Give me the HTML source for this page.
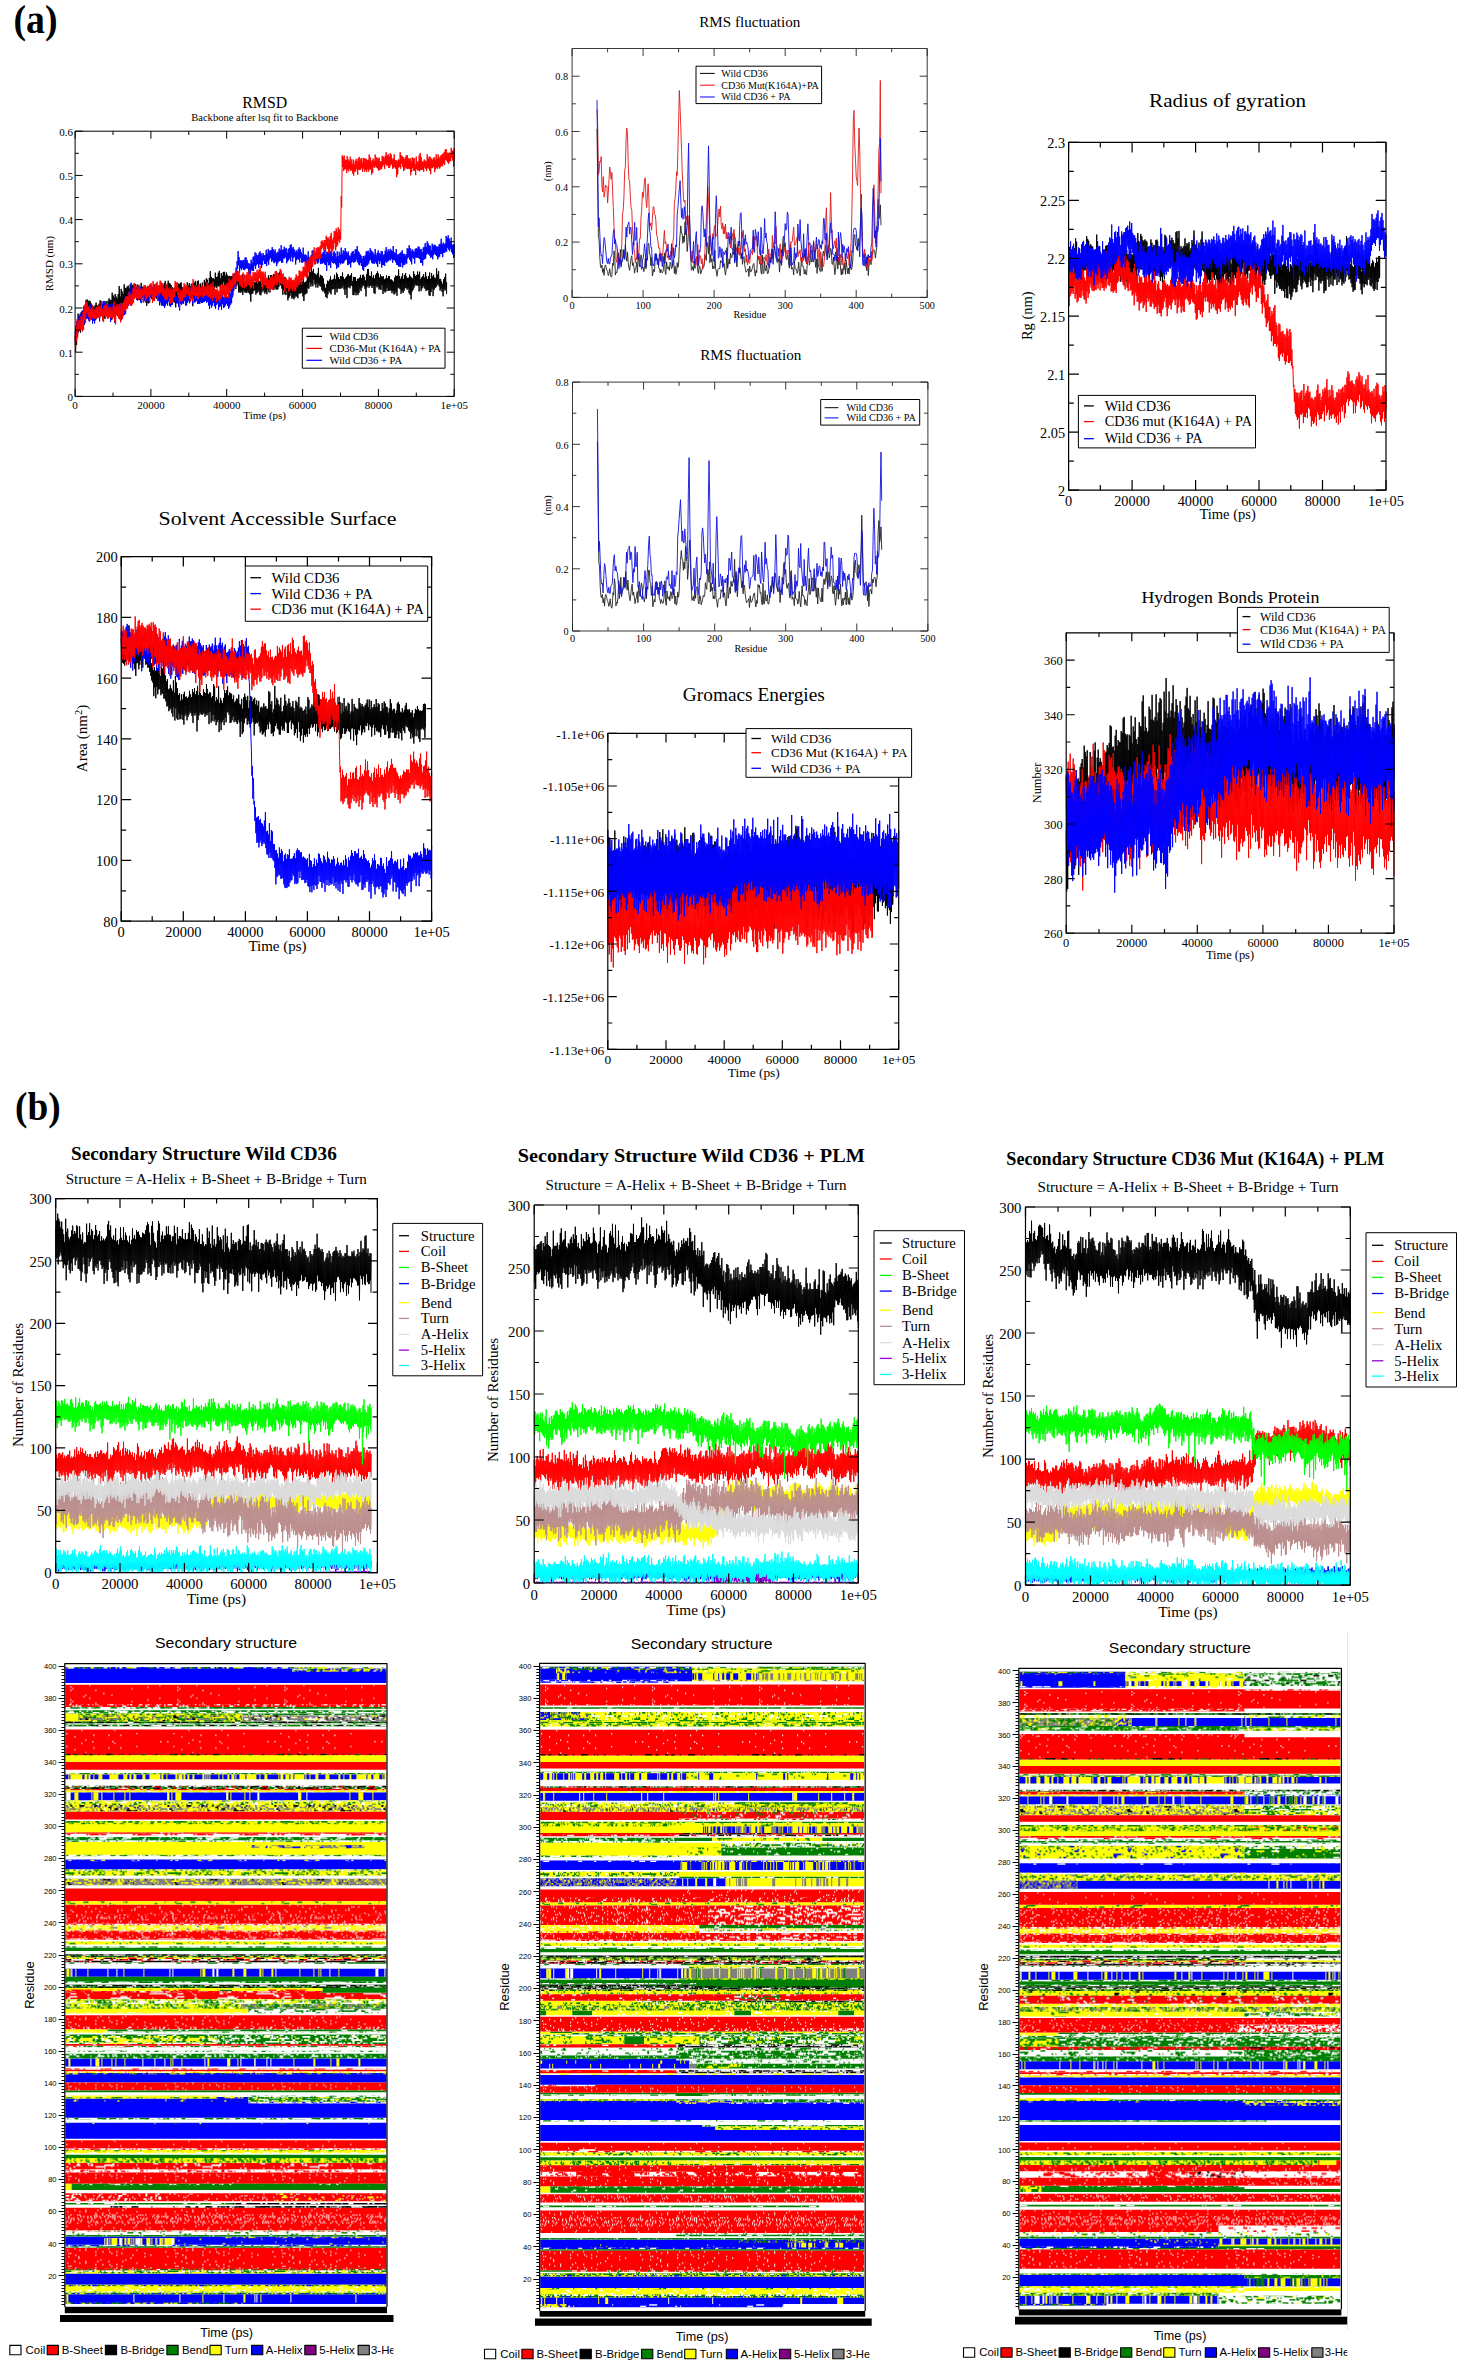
<!DOCTYPE html>
<html><head><meta charset="utf-8"><title>Figure</title>
<style>text{fill:#000;stroke:none}html,body{margin:0;padding:0;background:#fff}svg{display:block}</style></head>
<body><svg width="1464" height="2366" viewBox="0 0 1464 2366" font-family="'Liberation Serif',serif" fill="none" stroke-linejoin="round">
<rect width="1464" height="2366" fill="#fff"/>
<g fill="none" stroke="none">
<g id="main">
<path d="M75.1 335.9l.5 15.9 .5-24.3 .5 17.4 .5-23.5 .5 14.9 .5-22.6 .5 18.6 .5-12.8 .5 11.1 .5-13.9 .5 15.9 .5-20.3 .5 12.3 .5-13 .5 8.2 .5-9.5 .5 9.5 .5-14.1 .5 12.4 .5-11.7 .5 9.8 .5-16.2 .5 12.3 .5-12.9 .5 15.8 .5-14.1 .5 13 .5-13.5 .5 20 .5-19.4 .5 9.8 .5-7.7 .5 10.6 .5-9.1 .5 10.2 .5-8.7 .5 11.8 .5-10.9 .5 13.1 .5-15.2 .5 13.2 .5-15.6 .5 16.4 .5-13.6 .5 11.7 .5-11.8 .5 8.9 .5-10.6 .5 14.3 .5-17.7 .5 13.9 .5-13.1 .5 14.4 .5-11.8 .5 12.5 .5-11.8 .5 13.9 .5-16.1 .5 16.3 .5-14.5 .5 11.6 .5-14.6 .5 13.5 .5-10.1 .5 10.9 .5-14.6 .5 14.4 .5-16.7 .5 16.3 .5-15 .5 16.4 .6-16 .5 12.2 .5-19.6 .5 15.8 .5-13 .5 15.2 .5-13.1 .5 12 .5-15.7 .5 16.1 .5-13.4 .5 16.8 .5-15 .5 10.2 .5-14.6 .5 17.4 .5-25.3 .5 18.9 .5-8.4 .5 9.8 .5-17.5 .5 14.7 .5-12 .5 16 .5-13.6 .5 9.1 .5-18.8 .5 19.5 .5-15.9 .5 11.9 .5-11.7 .5 14.7 .5-16.3 .5 16.8 .5-17.6 .5 13.3 .5-10.5 .5 11.3 .5-15.5 .5 18.8 .5-16.8 .5 12.1 .5-13.3 .5 9.9 .5-10.3 .5 9.3 .5-8.9 .5 10.2 .5-11.1 .5 13.1 .5-10 .5 9 .5-11.8 .5 16 .5-14.8 .5 14 .5-9 .5 9.4 .5-12.8 .5 12.5 .5-16.9 .5 18.7 .5-15 .5 8.4 .5-8 .5 11.1 .5-11.1 .5 12.1 .5-13.3 .5 15.8 .5-11.3 .5 15.6 .5-19.4 .5 13.6 .5-11.7 .5 15 .5-16.5 .5 15.5 .5-16 .5 9.7 .5-10.6 .5 10.8 .5-9.5 .5 12.6 .5-10.7 .5 8.7 .5-13.1 .5 12.3 .5-8.9 .5 9.9 .5-13 .5 14.4 .5-11.4 .5 8.3 .5-7.7 .5 11.5 .5-14.4 .5 20 .5-18 .5 14.8 .5-12.2 .5 9.7 .5-15.4 .5 17.1 .5-15.7 .5 13 .5-15.5 .5 15.9 .5-18.1 .5 16.2 .5-10.6 .5 8.1 .5-10.8 .5 15.4 .5-18.5 .5 16.8 .5-14.5 .5 13.5 .5-12.8 .5 18.2 .5-16.8 .5 17.2 .5-15.2 .5 10.7 .5-9.3 .5 11.2 .5-8.3 .5 11.1 .5-11.6 .5 16.4 .5-16.7 .5 12.2 .5-12.7 .5 12.3 .5-18.9 .5 13.3 .5-12.3 .5 12.5 .5-13.8 .5 17.7 .5-18.5 .5 16.9 .5-12.3 .6 11.1 .5-10.4 .5 13 .5-11.8 .5 10.8 .5-12.6 .5 13.6 .5-13.8 .5 8.8 .5-13.4 .5 19 .5-15.9 .5 13.4 .5-15.6 .5 16.9 .5-13.6 .5 13.7 .5-16.3 .5 13.3 .5-10.3 .5 19.3 .5-22.2 .5 13.6 .5-14.8 .5 13.2 .5-15.1 .5 13.2 .5-8.7 .5 10.3 .5-14.4 .5 17.3 .5-18.1 .5 18.3 .5-11 .5 16 .5-20.3 .5 12.7 .5-10.1 .5 11.6 .5-15.1 .5 12.1 .5-7.4 .5 13.7 .5-21.1 .5 14.4 .5-12 .5 14.3 .5-18.3 .5 16.8 .5-15.5 .5 13.9 .5-10.4 .5 16.9 .5-22.1 .5 13.8 .5-20.5 .5 15.6 .5-9.9 .5 9.7 .5-8.1 .5 14.4 .5-14.7 .5 11.5 .5-10.4 .5 8.6 .5-15.2 .5 13.6 .5-9.2 .5 10.8 .5-11.2 .5 9.5 .5-13.4 .5 13.6 .5-15.6 .5 15.6 .5-7.8 .5 8.7 .5-14.2 .5 11.1 .5-8.4 .5 12.2 .5-16 .5 10.1 .5-10.3 .5 13.7 .5-9.8 .5 11.5 .5-14.7 .5 12.5 .5-10.2 .5 12.4 .5-11 .5 12 .5-12.3 .5 9.4 .5-9 .5 12.3 .5-12.4 .5 14.6 .5-15 .5 19.6 .5-20.9 .5 16 .5-16 .5 10.6 .5-7.4 .5 11.3 .5-11.2 .5 8.2 .5-15.3 .5 13.1 .5-4.9 .5 13.6 .5-17.7 .5 17.5 .5-13.6 .5 13.9 .5-9.8 .5 9.1 .5-17.5 .5 20.5 .5-13.2 .5 8.8 .5-8.9 .5 10.8 .5-9.2 .5 9.3 .5-11.4 .5 12 .5-11.1 .5 9.3 .5-11.6 .5 13.1 .5-9 .5 10.6 .5-10.4 .5 17.6 .5-19.3 .5 11.4 .5-14.8 .5 14.7 .5-12 .5 9.2 .5-8.9 .6 8.5 .5-7.9 .5 12.1 .5-12.6 .5 11 .5-12.9 .5 12.3 .5-15.9 .5 14.5 .5-10 .5 13.8 .5-13.2 .5 13.7 .5-16 .5 13.2 .5-14.2 .5 11.5 .5-12.5 .5 14.2 .5-11.2 .5 13.4 .5-12.2 .5 10.5 .5-11.9 .5 14.1 .5-14.8 .5 9.8 .5-13.8 .5 16.7 .5-13.8 .5 14.1 .5-17.2 .5 13.6 .5-13.7 .5 12.9 .5-10.7 .5 11.2 .5-14.2 .5 15.8 .5-15.5 .5 12.5 .5-6.4 .5 8.4 .5-17.8 .5 18.4 .5-11.3 .5 10.9 .5-15.8 .5 13.4 .5-15 .5 12.6 .5-11.2 .5 12.2 .5-10.8 .5 14 .5-7.1 .5 13.2 .5-14.5 .5 9.6 .5-13 .5 17.3 .5-17.1 .5 18 .5-14.2 .5 10.3 .5-7.8 .5 16.9 .5-17.7 .5 15.4 .5-15.3 .5 13.3 .5-13.3 .5 10.5 .5-10.6 .5 16 .5-15.6 .5 14.4 .5-16.6 .5 18.6 .5-15.9 .5 14.2 .5-12.5 .5 10.4 .5-12.2 .5 13.3 .5-11.1 .5 12.6 .5-16.9 .5 12 .5-10.3 .5 10.9 .5-12 .5 11.3 .5-10.1 .5 9.4 .5-11.3 .5 15.2 .5-17.4 .5 22 .5-18.5 .5 12.2 .5-12.7 .5 11.8 .5-13 .5 12.4 .5-19.8 .5 14.8 .5-11.9 .5 12.4 .5-17.7 .5 11.3 .5-9.9 .5 14.2 .5-21.7 .5 19.3 .5-12.7 .5 14.8 .5-17.4 .5 11.1 .5-6.6 .5 11 .5-10.6 .5 13.7 .5-12.6 .5 8.4 .5-10.1 .5 14.4 .5-19.7 .5 16.6 .5-6.9 .5 8.5 .5-11.3 .5 11.9 .5-11 .5 14.2 .5-13.8 .5 15.3 .5-12.9 .5 12.8 .5-7.4 .5 9.5 .5-5.5 .5 9.1 .6-12.7 .5 13.9 .5-17.5 .5 13.5 .5-12.7 .5 9.4 .5-11.2 .5 12.8 .5-16.1 .5 17.9 .5-14.4 .5 9.6 .5-9.8 .5 9.4 .5-10.2 .5 10.1 .5-14.2 .5 20 .5-15.4 .5 9.2 .5-15.9 .5 19.7 .5-18.4 .5 14.8 .5-11.8 .5 10.9 .5-8.7 .5 9.9 .5-13.1 .5 12.3 .5-11.9 .5 11.8 .5-15.6 .5 13.5 .5-8.8 .5 12.1 .5-10.1 .5 15.6 .5-17.1 .5 11 .5-12.2 .5 21.5 .5-23.4 .5 12.9 .5-13.2 .5 12.3 .5-10.6 .5 12.2 .5-13 .5 10.3 .5-12.3 .5 12.5 .5-4.5 .5 13.8 .5-18.2 .5 18.2 .5-17.8 .5 14.9 .5-15.2 .5 18.3 .5-14.3 .5 12 .5-14.1 .5 16.2 .5-16.4 .5 14.1 .5-15.1 .5 11.1 .5-13.9 .5 16.2 .5-12.8 .5 9.2 .5-12.6 .5 10.3 .5-10.5 .5 11.4 .5-9.3 .5 12.1 .5-8.3 .5 15.8 .5-22.1 .5 13 .5-18.2 .5 16.4 .5-16.5 .5 18.7 .5-11.9 .5 10.2 .5-10 .5 9.5 .5-13.9 .5 16.4 .5-10.2 .5 8.4 .5-10.9 .5 17.7 .5-14.5 .5 15.4 .5-19.1 .5 10.5 .5-12 .5 14.1 .5-16.1 .5 15.1 .5-12.8 .5 15.9 .5-11.8 .5 11.1 .5-14.4 .5 15.6 .5-13.6 .5 8.7 .5-8.4 .5 17.3 .5-17.6 .5 14.2 .5-11.1 .5 13 .5-13.9 .5 12.8 .5-16 .5 12.5 .5-9.7 .5 12.8 .5-14.9 .5 14.5 .5-14.6 .5 14.4 .5-10.8 .5 11.1 .5-11.1 .5 13.6 .5-12.6 .5 10.4 .5-9.2 .5 12.7 .5-16.9 .5 16 .5-18.2 .5 16.2 .5-15.6 .5 19.7 .5-20 .6 11.9 .5-18.1 .5 18.8 .5-12.2 .5 13 .5-10.3 .5 15 .5-17.2 .5 14.7 .5-17.8 .5 19.4 .5-14 .5 11.8 .5-15.8 .5 13.3 .5-15.1 .5 14.9 .5-11.4 .5 13.1 .5-11.7 .5 10.6 .5-10.9 .5 15.5 .5-18.6 .5 20.2 .5-18.2 .5 22.8 .5-21.8 .5 13.9 .5-12.9 .5 11.3 .5-18.5 .5 16 .5-13.3 .5 10.7 .5-8.7 .5 9.5 .5-10.6 .5 10.1 .5-13.5 .5 14.4 .5-11.4 .5 16.9 .5-19.8 .5 14 .5-6.4 .5 11.7 .5-13.5 .5 10.9 .5-12.2 .5 9.8 .5-11.9 .5 13.4 .5-9.9 .5 11.3 .5-16.9 .5 19.1 .5-14.6 .5 13.5 .5-10.9 .5 11.2 .5-14.2 .5 19.3 .5-23 .5 23.4 .5-16.9 .5 13.2 .5-19.1 .5 15.5 .5-12.1 .5 19.7 .5-21.3 .5 15 .5-12.2 .5 10.4 .5-9.8 .5 8.9 .5-18.8 .5 17 .5-10.9 .5 9.8 .5-13.1 .5 15.3 .5-7.2 .5 11.5 .5-11.8 .5 9.7 .5-7.1 .5 10.5 .5-8.2 .5 12.5 .5-17 .5 10 .5-12 .5 13.3 .5-17 .5 14.6 .5-5.8 0 11.7" stroke="#000"/>
<path d="M75.1 331.5l.5 8.7 .5-15 .5 10.6 .5-14.5 .5 12.9 .5-14.4 .5 9 .5-13 .5 11.8 .5-14 .5 12.2 .5-11.3 .5 10.9 .5-14.4 .5 11.8 .5-12.3 .5 9.5 .5-12.7 .5 17.7 .5-14.2 .5 8.9 .5-11.1 .5 10.1 .5-15 .5 14.8 .5-12 .5 14 .5-13.1 .5 14.3 .5-17.9 .5 12.2 .5-7.2 .5 10.6 .5-8.7 .5 12.8 .5-14.4 .5 11.7 .5-8.1 .5 10.8 .5-11.6 .5 8.4 .5-12.4 .5 9.2 .5-9.9 .5 8.7 .5-6.6 .5 8.2 .5-6.3 .5 10.2 .5-13.3 .5 7.1 .5-8.3 .5 8.2 .5-10.9 .5 11.5 .5-14.5 .5 13.5 .5-13.8 .5 12.6 .5-11.7 .5 10.1 .5-7.7 .5 7.6 .5-6.2 .5 8.4 .5-9.7 .5 8.4 .5-6.2 .5 9.5 .5-11.5 .5 17.5 .5-14.8 .5 12.6 .5-16.2 .5 14.8 .5-13.7 .5 12.2 .5-10 .5 15.9 .5-17.4 .5 8.4 .5-5.7 .5 7 .5-10.5 .5 11.5 .5-10.5 .5 10.9 .5-8.4 .5 11.1 .5-16.4 .5 10.9 .5-6.8 .5 13.3 .5-14.6 .5 10.3 .5-9.2 .5 8.8 .5-11.2 .5 10.7 .5-17.7 .5 16.5 .5-17 .5 10.1 .5-10.8 .5 9.2 .5-12.4 .5 12.9 .5-13.7 .5 12.1 .5-13.5 .5 10.1 .5-18.1 .5 14.6 .5-9 .5 10.5 .5-11.3 .5 10 .5-7.2 .5 8 .5-14.5 .5 12.1 .5-7.8 .5 11.9 .5-12 .5 10.8 .5-12.8 .5 13 .5-8.7 .5 8.3 .5-11.9 .5 15.7 .5-12.3 .5 13.1 .5-15.1 .5 9.4 .5-6.9 .5 7.8 .5-8.8 .5 11.6 .5-11.3 .5 12.1 .5-8.5 .5 6.8 .5-6.8 .5 9.6 .5-10.7 .5 8.7 .5-11.3 .5 8.4 .5-13.7 .5 12.8 .5-5.7 .5 7.5 .5-12 .5 10.6 .5-9.6 .5 12.4 .5-13.8 .5 10.3 .5-10.8 .5 9.2 .5-6 .5 7.3 .5-7.6 .5 11.4 .5-9.8 .5 10.1 .5-12.3 .5 14.7 .5-13.7 .5 12.7 .5-10.1 .5 13.4 .5-11.9 .5 12.1 .5-9.4 .5 9.8 .5-11.8 .5 13.7 .5-12.6 .5 10.2 .5-10 .5 7.9 .5-15.7 .5 17.7 .5-12.6 .5 8.5 .5-6.8 .5 11.2 .5-11.1 .5 12.3 .5-12.2 .5 10.3 .5-11.5 .5 11 .5-9.7 .5 6.8 .5-9.5 .5 8.7 .5-13.5 .5 14.8 .5-6.8 .5 7.9 .5-7.4 .5 7.4 .5-6.4 .5 10.2 .5-13.3 .5 16.7 .5-15.8 .5 9.4 .5-9.1 .5 9.7 .5-8 .5 6.6 .5-11.5 .5 12 .5-12.6 .5 9.8 .5-10.9 .5 15.6 .5-11.6 .5 11.1 .5-14.3 .5 12 .5-10.9 .5 8.8 .5-9.2 .5 11.7 .5-14.8 .5 10.4 .5-9.3 .5 8 .5-8.3 .5 14.4 .5-14.9 .5 7.4 .5-9.4 .5 15.8 .5-15.9 .5 15.2 .5-10.4 .5 9.2 .5-9.9 .5 13.2 .5-12.6 .5 12.3 .5-12.8 .5 10.1 .5-9 .5 9.9 .5-6.8 .5 7.8 .5-11.7 .5 11.7 .5-9.8 .5 9 .5-9.6 .5 9.2 .5-10.9 .5 10.1 .5-8.9 .5 10.8 .5-14.9 .5 13.7 .5-5.4 .5 9.3 .5-9.6 .5 13.2 .5-11.2 .5 6.7 .5-8.4 .5 11.3 .5-10.3 .5 8.3 .5-12.2 .5 9.7 .5-8.7 .5 12.2 .5-8.7 .5 10.9 .5-16.9 .5 13 .5-10 .5 8.6 .5-5.7 .5 12.2 .5-15.4 .5 12.6 .5-12.6 .5 11.8 .5-9.8 .5 13.1 .5-19.2 .5 13.7 .5-7.6 .5 11.3 .5-10.3 .5 9.7 .5-10.4 .5 8.6 .5-8.6 .5 6.8 .5-7.2 .5 9.6 .5-8.7 .5 11.5 .5-16.8 .5 15.3 .5-13.7 .5 11 .5-15.5 .5 14.1 .5-17 .5 11.2 .5-16.2 .5 9.2 .5-15.8 .5 12.6 .5-14.3 .5 13.9 .5-19.3 .5 9 .5-15.5 .5 7.6 .5-17.5 .5 14.2 .5-8.1 .5 15.3 .5-12.1 .5 7.9 .5-8.1 .5 9.9 .5-9.3 .5 7.4 .5-8.3 .5 10.1 .5-9.8 .5 9.9 .5-12.6 .5 11.3 .5-11.3 .5 10.8 .5-8.3 .5 8.5 .5-5.6 .5 11.8 .5-11.2 .5 10.1 .5-9.6 .5 10.5 .5-14.8 .5 10.5 .5-7.5 .5 8 .5-13.8 .5 14.2 .5-14.9 .5 9.6 .5-13.5 .5 16.5 .5-15.4 .5 11.8 .5-9.9 .5 8.5 .5-8.9 .5 12.8 .5-15 .5 11.7 .5-12.9 .5 13.1 .5-11.2 .5 14.5 .5-12.3 .5 9.5 .5-12 .5 7.4 .5-5.5 .5 9 .6-8.8 .5 8.9 .5-14.3 .5 16.3 .5-12.5 .5 8 .5-12.7 .5 15.8 .5-13.7 .5 8.6 .5-9.4 .5 7.7 .5-7.8 .5 11.8 .5-14.8 .5 13.5 .5-11.4 .5 13.5 .5-11.5 .5 12 .5-13.7 .5 12.1 .5-8.2 .5 12.7 .5-13.8 .5 11.1 .5-11.7 .5 9.8 .5-12.9 .5 12.6 .5-11.3 .5 10.8 .5-15.6 .5 17.6 .5-12.9 .5 12.8 .5-12.9 .5 8.7 .5-11.7 .5 11.8 .5-9.6 .5 8.4 .5-9.4 .5 15.4 .5-10.6 .5 9 .5-12.7 .5 11.1 .5-12 .5 10.5 .5-13.5 .5 16.2 .5-16.9 .5 12.3 .5-8.3 .5 13.2 .5-14.7 .5 11.1 .5-8.7 .5 7.3 .5-4.4 .5 12.3 .5-14.4 .5 10.1 .5-8.5 .5 7.2 .5-9.8 .5 10.5 .5-12.2 .5 15 .5-13 .5 8.5 .5-6 .5 10.5 .5-8.4 .5 8.7 .5-15 .5 13.8 .5-6.8 .5 6.9 .5-7.2 .5 8.4 .5-7.8 .5 11.4 .5-9.8 .5 10.3 .5-15.5 .5 17.6 .5-12 .5 11.8 .5-11.1 .5 11.2 .5-13.8 .5 9.3 .5-13.9 .5 14.2 .5-14.2 .5 9.1 .5-5.3 .5 8.5 .5-9.6 .5 11 .5-13.1 .5 10 .5-8.8 .5 11.2 .5-15.6 .5 14.7 .5-13.1 .5 9.6 .5-8.1 .5 13.1 .5-10 .5 9.5 .5-10.1 .5 9.9 .5-11.5 .5 11.1 .5-13.5 .5 15 .5-10.1 .5 10.5 .5-12.8 .5 18.7 .5-18.6 .5 10 .5-10.9 .5 14 .5-12.3 .5 12 .5-14.1 .5 17 .5-16.8 .5 10.5 .5-5.6 .5 7 .5-10.7 .5 11.2 .5-12.3 .5 11.6 .5-9.7 .5 11.3 .5-7.7 .5 12.2 .5-17.6 .5 16.1 .5-11.4 .5 11.2 .5-15.4 .5 11.1 .5-8.1 .5 9.6 .5-16.8 .5 15.2 .5-9 .5 9.9 .5-13.4 .5 12.8 .5-11.5 .5 9.5 .5-13.1 .5 11.9 .5-8.5 .5 8 .5-6.4 .5 12.1 .5-13.6 .5 13.2 .5-9.3 .5 8.2 .5-7.5 .5 11.4 .5-14.2 .5 9.2 .5-10.9 .5 10 .5-10.5 .5 11.7 .5-8.8 .5 8.2 .5-12.8 .5 12.3 .5-12.3 .5 10.2 .5-13.5 .5 16.3 .5-11.3 .5 13.3 .5-11.9 .5 12.8 .5-11 .5 8.5 .5-7.1 .5 10.3 .5-7.4 .5 10.9 .5-13.5 .5 14.8 .5-14.3 .5 10.3 .5-11.5 .5 11.6 .5-15.6 .5 14.3 .5-14.2 .5 13.8 .5-14.5 .5 12.8 .5-10.8 .5 8.1 .5-12.6 .5 11.3 .5-9.2 .5 12.4 .5-11.2 .5 12.1 .5-11 .5 10.8 .5-8.8 .5 9.1 .5-14.7 .5 13.2 .5-7.1 .5 9.1 .5-11.3 .5 14.1 .5-16.6 .5 10.4 .5-7.9 .5 11 .5-9.7 .5 7.1 .5-10.2 .5 16.5 .5-16.3 .5 13.8 .5-9.9 .5 9.9 .5-11.1 .5 11.9 .5-15.3 .5 11.2 .5-14.7 .5 15.6 .5-11 .5 9.9 .5-12.3 .5 11.6 .5-10 .5 8.8 .5-10.9 .5 11.6 .5-10.5 .5 8.9 .5-7.8 .5 11.7 .5-16.7 .5 14 .5-8 .5 8.3 .5-7.1 .5 9.1 .5-13.2 .5 15.7 .5-10.2 .5 10.5 .5-10.7 .5 12.2 .5-12.8 .5 12.7 .5-13.6 .5 14.1 .5-15.1 .5 11.1 .5-12.7 .5 17.1 .5-13.6 .5 11 .5-10.9 .5 11.1 .5-9.4 .5 7.7 .5-9.3 .5 9.7 .5-15.4 .5 10.1 .5-9.8 .5 8.7 .5-12.1 .5 14.5 .5-11.5 .5 13.4 .5-10.5 .5 13.2 .5-15 .5 8.3 .5-7 .5 8.2 .5-7 .5 11.7 .5-14.6 .5 8.6 .5-9.3 .5 9.5 .5-8.9 .5 8.8 .5-11.2 .5 11.7 .5-11 .5 12 .5-9.9 .5 13.5 .5-13.4 .5 13.7 .5-10.9 .5 13.4 .5-17.9 .5 12.4 .5-13.2 .5 12.4 .5-16.1 .5 15.3 .5-11.5 .5 7.6 .5-13.2 .5 12 .5-9.9 .5 11.1 .5-9.1 .5 10.1 .5-9.7 .5 12.1 .5-7.7 .5 6.7 .5-13.2 .5 15.6 .5-13.6 .5 9.4 .5-10.4 .5 8.8 .5-8.5 .5 10 .5-8.6 .5 9.7 .5-9.4 .5 12.6 .5-12.7 .5 10.7 .5-13.1 .5 12.4 .5-12.9 .5 10.3 .5-15.3 .5 15.2 .5-9.6 .5 12.9 .5-14.7 .5 10.3 .5-8.7 .5 8.7 .5-9.5 .5 8.3 .5-15.6 .5 15.6 .5-13.8 .5 10 .5-12.5 .5 14.5 .5-11.3 .5 12.7 .5-10.1 .5 7.5 .5-11 .5 14.8 .5-7.3 .5 9.2 .5-10 .5 13.7 .5-13.7 0 12.5" stroke="#00f"/>
<path d="M75.1 334.9l.5 14.3 .5-21.9 .5 13.8 .5-22 .5 18.6 .5-15.4 .5 8.7 .5-11.3 .5 9.3 .5-9.2 .5 10 .5-13.8 .5 13.9 .5-10.4 .5 12 .5-19.9 .5 18.2 .5-22.3 .5 12.7 .5-15.9 .5 18.4 .5-21.1 .5 11.2 .5-10.2 .5 11.4 .5-7.8 .5 10.7 .5-9.8 .5 13.2 .5-11.1 .5 11 .5-11.4 .5 9.2 .5-12.5 .5 12.1 .5-9.3 .5 10.6 .5-8.9 .5 8.8 .5-9.7 .5 10 .5-12.1 .5 11.4 .5-11.5 .5 8.5 .5-9.1 .5 11.2 .5-12 .5 12.5 .5-10.6 .5 8.7 .5-13.7 .5 14 .5-7.9 .5 12.1 .5-10.6 .5 12.1 .5-16 .5 10 .5-11.1 .5 14.1 .5-14.6 .5 12.1 .5-12 .5 14.1 .5-10.2 .5 9.9 .5-11.7 .5 10.5 .5-10 .5 10.1 .5-8.8 .5 9 .5-7.8 .5 9.5 .5-12.7 .5 9.4 .5-14.7 .5 20.7 .5-13.8 .5 16.2 .5-18.4 .5 9.2 .5-10.9 .5 10.9 .5-8.7 .5 12 .5-14.4 .5 14.4 .5-11.1 .5 15.1 .5-19.4 .5 11.3 .5-10.9 .5 15.3 .5-14.2 .5 9.1 .5-12.9 .5 10.1 .5-12.3 .5 12.6 .5-15 .5 13 .5-12.4 .5 11.8 .5-12.5 .5 8.3 .5-12.4 .5 10.4 .5-7.1 .5 10.6 .5-12 .5 12.1 .5-13 .5 11.4 .5-15.9 .5 14.4 .5-19.8 .5 16 .5-13.2 .5 11.5 .5-8 .5 9.4 .5-12.3 .5 11.5 .5-9.1 .5 10.9 .5-15 .5 13.4 .5-9.5 .5 10.5 .5-9.6 .5 12.2 .5-12.6 .5 7 .5-8.3 .5 14.8 .5-17.7 .5 9.9 .5-9.5 .5 17.6 .5-15.1 .5 10.7 .5-11 .5 9.8 .5-11.6 .5 11 .5-10.7 .5 15.7 .5-17.3 .5 10.4 .5-11.8 .5 13.3 .5-7.9 .5 14.6 .5-21.8 .5 17.3 .5-13.6 .5 16.2 .5-14 .5 9.4 .5-13.4 .5 12.8 .5-14.2 .5 18.5 .5-14.6 .5 7.6 .5-7.8 .5 9.9 .5-14.8 .5 12.9 .5-11.8 .5 10.7 .5-9.2 .5 12.8 .5-9.5 .5 10.2 .5-8.2 .5 10.1 .5-9 .5 10.5 .5-15.5 .5 15.6 .5-15.9 .5 15.3 .5-11.6 .5 8.5 .5-6.5 .5 12.3 .5-12.7 .5 14.3 .5-16.9 .5 16.3 .5-14 .5 13.2 .5-13.2 .5 8.8 .5-10.3 .5 9.1 .5-15.6 .5 10.3 .5-8.5 .5 8.5 .5-9.6 .5 12.7 .5-6.9 .5 10 .5-5.6 .5 15.4 .5-18.3 .5 11.7 .5-9.9 .5 10.1 .5-11.1 .5 11 .5-13.9 .5 10.9 .5-14.7 .5 13.9 .5-12.7 .5 12.7 .5-11.3 .5 9 .5-9.8 .5 7.6 .5-5.5 .5 8.8 .5-8.5 .5 11.9 .5-8.9 .5 11.5 .5-14.5 .5 8.6 .5-12.8 .5 17.4 .5-21.5 .5 15.9 .5-8.2 .5 8.8 .5-10.4 .5 12.5 .5-11.1 .5 9.5 .5-8.5 .5 12 .5-14.8 .5 13.6 .5-14.1 .5 10.6 .5-6.7 .5 8.1 .5-9.5 .5 7.4 .5-9.2 .5 12 .5-10.8 .5 11.5 .5-10.3 .5 8.4 .5-10.3 .5 10 .5-8.4 .5 7.7 .5-12.9 .5 14.4 .5-11 .5 11.7 .5-12.6 .5 10.6 .5-9.2 .5 12.5 .5-14.9 .5 12.4 .5-8.9 .5 13.8 .5-19.1 .5 16.2 .5-11 .5 9.5 .5-7.4 .5 8.9 .5-8.1 .5 12.4 .5-13.7 .5 8.8 .5-6.8 .5 9.6 .5-9.2 .5 11.4 .5-17.2 .5 13.9 .5-12.3 .5 10.9 .5-13 .5 10.5 .5-9.4 .5 9.7 .5-10.2 .5 12.1 .5-12.4 .5 11.7 .5-12 .5 13.3 .5-15.1 .5 11.7 .5-11.3 .5 14.5 .5-19.2 .5 13.1 .5-11.5 .5 11.2 .5-10.3 .5 8.2 .5-10.6 .5 9.8 .5-15.2 .5 13.1 .5-10.8 .5 9 .5-11.8 .5 15.5 .5-17.1 .5 10.1 .5-9.5 .5 10.7 .5-11 .5 10.1 .5-10.5 .5 14.3 .5-9.9 .5 10.1 .5-10.3 .5 11.9 .5-9 .5 9.9 .5-15.5 .5 10 .5-8.3 .5 14 .5-13.1 .5 11.4 .5-11.6 .5 11.9 .5-14.8 .5 12.4 .5-10.4 .5 11 .5-15.1 .5 16.3 .5-11.6 .5 14.2 .5-13.2 .5 12.1 .5-11.1 .5 8.7 .5-13.2 .5 16.2 .5-15 .5 7.5 .5-8.8 .5 9.7 .5-9 .5 9.4 .5-12.4 .5 14.3 .5-12.7 .5 10.6 .5-12.5 .5 8.9 .5-12.7 .5 15.2 .5-9.5 .5 15.1 .5-14.5 .5 16.9 .5-17.2 .5 12.7 .5-10.5 .5 11.4 .6-13.5 .5 13.8 .5-7.8 .5 10.3 .5-10.1 .5 10.5 .5-8.9 .5 9.6 .5-9.6 .5 13 .5-15.2 .5 11.2 .5-11.2 .5 12.1 .5-13.7 .5 14.3 .5-12.7 .5 9.8 .5-10.4 .5 8.9 .5-14.2 .5 11.3 .5-11.7 .5 14.2 .5-12.5 .5 11.7 .5-10.3 .5 7.8 .5-6.8 .5 9.4 .5-15.6 .5 14.1 .5-12.5 .5 14.1 .5-10.4 .5 9.4 .5-10.3 .5 12 .5-7 .5 13.8 .5-14.7 .5 9.1 .5-8.4 .5 10 .5-8.2 .5 8.4 .5-8.7 .5 11.9 .5-14.7 .5 13.8 .5-12.3 .5 10 .5-10.6 .5 11.4 .5-9 .5 11.2 .5-11.6 .5 8.5 .5-7.9 .5 10.9 .5-13.6 .5 13.1 .5-16.4 .5 12.8 .5-11.1 .5 11.3 .5-11.3 .5 8.8 .5-14.3 .5 14.2 .5-13.7 .5 10.5 .5-9.4 .5 12.6 .5-13.8 .5 8.7 .5-12.8 .5 12.1 .5-11.8 .5 9.2 .5-14.8 .5 15.3 .5-12.4 .5 13.5 .5-17.6 .5 17.3 .5-16.3 .5 10.9 .5-13.7 .5 13 .5-14.9 .5 13.1 .5-12.8 .5 8.8 .5-10 .5 11.4 .5-15.3 .5 9.6 .5-14 .5 17.1 .5-10.6 .5 9.4 .5-15.1 .5 10.9 .5-11.6 .5 11.1 .5-11.2 .5 11.4 .5-11.4 .5 10.2 .5-11.9 .5 12.7 .5-17 .5 7.9 .5-8.9 .5 7.1 .5-5.2 .5 7.6 .5-9.8 .5 9.3 .5-9.4 .5 12.8 .5-17 .5 10.4 .5-8.6 .5 11.3 .5-11.4 .5 15.9 .5-14 .5 13.1 .5-16.6 .5 12.7 .5-15.8 .5 19.7 .5-12.3 .5 10.8 .5-13.2 .5 10.9 .5-17.6 .5 12 .5-11.8 .5 19.1 .5-22 .5 18.6 .5-15.2 .5 13.4 .5-17.9 .5 13.6 .5-11.9 .5 13.7 .5-11 .5 7.7 .5-43.1 .5 11.1 .5-52 .5 11.6 .5-9.7 .5 13.7 .5-15.4 .5 13.8 .5-9.8 .5 9.4 .5-8.9 .5 13 .5-17 .5 14 .5-10.7 .5 12 .5-10.4 .5 8.1 .5-12.4 .5 14.2 .5-11.4 .5 10.8 .5-6.8 .5 9.9 .5-13.9 .5 16.1 .5-11.6 .5 7.8 .5-11.1 .5 10.7 .5-12.6 .5 10 .5-7.4 .5 13.3 .5-16.2 .5 11.4 .5-13 .5 13.2 .5-10.5 .5 10.1 .5-11.6 .5 10.2 .5-5.9 .5 9.4 .5-13.9 .5 10.6 .5-10.2 .5 13.4 .5-13 .5 11.3 .5-11.2 .5 13.2 .5-12 .5 9.3 .5-9.5 .5 11.9 .5-17.2 .5 14.8 .5-12 .5 12.4 .5-8.1 .5 13 .5-14.6 .5 13 .5-14.5 .5 8 .5-5.7 .5 7 .5-13.2 .5 11.6 .5-9 .5 10.3 .5-9.3 .5 10.5 .5-10.1 .5 12 .5-13 .5 12.5 .5-8.8 .5 8.1 .5-8 .5 7.5 .5-13.1 .5 10.8 .5-10 .5 8.4 .5-6.8 .5 10.7 .5-13.1 .5 8.2 .5-11.8 .5 13.4 .5-9.8 .5 9.6 .5-11.3 .5 13.7 .5-11.2 .5 11.1 .5-14.5 .5 12.4 .5-11.1 .5 9.6 .5-4.6 .5 9.2 .5-10.6 .5 10.1 .5-13.9 .5 12.7 .5-6.9 .5 8.7 .5-8.5 .5 16.9 .5-15.8 .5 13 .5-14.8 .5 8 .5-8 .5 7.1 .5-14.5 .5 16.5 .5-13.6 .5 8.6 .5-7.5 .5 10.5 .5-9.6 .5 14 .5-12.1 .5 10.7 .5-12.2 .5 10 .5-11.9 .5 12.9 .5-13.5 .5 14.1 .5-10.9 .5 10.4 .5-9.3 .5 9.5 .5-10.7 .5 17.3 .5-14.5 .5 10.9 .5-14.4 .5 10.8 .5-10.1 .5 12.5 .5-12.5 .5 12.8 .5-7 .5 11.3 .5-18.6 .5 12.5 .5-6.9 .5 8.1 .5-9.2 .5 9.3 .5-15.2 .5 16.1 .5-18.4 .5 17.1 .5-12.9 .5 13 .5-8.7 .5 8.6 .5-8.4 .5 10.3 .5-12.4 .5 8 .5-6.9 .5 8.3 .5-7.8 .5 9.9 .5-16.6 .5 13.6 .5-9.6 .5 10.3 .5-12 .5 14.1 .5-14 .5 17.4 .5-15.8 .5 9.7 .5-8.3 .5 8.4 .5-9.8 .5 8.3 .5-9.7 .5 15.2 .5-12.5 .5 9.6 .5-15 .5 13.3 .5-9.5 .5 10.7 .5-14.4 .5 12.5 .5-9.1 .5 10.7 .5-12.1 .5 10.7 .5-12 .5 10.4 .5-11.2 .5 11.9 .5-12.9 .5 10.3 .5-11.5 .5 12.7 .5-15.1 .5 10.3 .5-11 .5 11.8 .5-8.2 .5 10 .5-9.6 .5 10.9 .5-11.4 .5 9.4 .5-8.3 .5 7.4 .5-13.2 .5 9.8 .5-7 .5 9.9 .5-10 .5 15.9 .5-18.2 0 12.1" stroke="#f00"/>
<path d="M113 396.4v-3.8M113 131.2v3.8M188.8 396.4v-3.8M188.8 131.2v3.8M264.6 396.4v-3.8M264.6 131.2v3.8M340.5 396.4v-3.8M340.5 131.2v3.8M416.3 396.4v-3.8M416.3 131.2v3.8M75.1 396.4v-7.5M75.1 131.2v7.5M150.9 396.4v-7.5M150.9 131.2v7.5M226.7 396.4v-7.5M226.7 131.2v7.5M302.6 396.4v-7.5M302.6 131.2v7.5M378.4 396.4v-7.5M378.4 131.2v7.5M454.2 396.4v-7.5M454.2 131.2v7.5M75.1 374.3h3.8M454.2 374.3h-3.8M75.1 330.1h3.8M454.2 330.1h-3.8M75.1 285.9h3.8M454.2 285.9h-3.8M75.1 241.7h3.8M454.2 241.7h-3.8M75.1 197.5h3.8M454.2 197.5h-3.8M75.1 153.3h3.8M454.2 153.3h-3.8M75.1 396.4h7.5M454.2 396.4h-7.5M75.1 352.2h7.5M454.2 352.2h-7.5M75.1 308h7.5M454.2 308h-7.5M75.1 263.8h7.5M454.2 263.8h-7.5M75.1 219.6h7.5M454.2 219.6h-7.5M75.1 175.4h7.5M454.2 175.4h-7.5M75.1 131.2h7.5M454.2 131.2h-7.5" stroke="#000" stroke-width="1.0"/>
<rect x="75.1" y="131.2" width="379.1" height="265.2" stroke="#000" stroke-width="1.0"/>
<g font-size="11"><text x="75.1" y="408.7" text-anchor="middle">0</text><text x="150.9" y="408.7" text-anchor="middle">20000</text><text x="226.7" y="408.7" text-anchor="middle">40000</text><text x="302.6" y="408.7" text-anchor="middle">60000</text><text x="378.4" y="408.7" text-anchor="middle">80000</text><text x="454.2" y="408.7" text-anchor="middle">1e+05</text><text x="72.9" y="400.9" text-anchor="end">0</text><text x="72.9" y="356.7" text-anchor="end">0.1</text><text x="72.9" y="312.5" text-anchor="end">0.2</text><text x="72.9" y="268.3" text-anchor="end">0.3</text><text x="72.9" y="224.1" text-anchor="end">0.4</text><text x="72.9" y="179.9" text-anchor="end">0.5</text><text x="72.9" y="135.7" text-anchor="end">0.6</text></g>
<rect x="302.3" y="328.2" width="142.7" height="40" fill="#fff" stroke="#000"/>
<g font-size="10.6"><path d="M306.4 336.4H322" stroke="#000" stroke-width="1.2"/><text x="329.6" y="339.9">Wild CD36</text><path d="M306.4 348.4H322" stroke="#f00" stroke-width="1.2"/><text x="329.6" y="351.9">CD36-Mut (K164A) + PA</text><path d="M306.4 360.3H322" stroke="#00f" stroke-width="1.2"/><text x="329.6" y="363.8">Wild CD36 + PA</text></g>
<text x="264.7" y="107.6" font-size="15.8" text-anchor="middle">RMSD</text>
<text x="264.7" y="121.2" font-size="9.5" text-anchor="middle" textLength="147" lengthAdjust="spacingAndGlyphs">Backbone after lsq fit to Backbone</text>
<text x="264.7" y="418.6" font-size="11" text-anchor="middle">Time (ps)</text>
<text transform="translate(53 263.7) rotate(-90)" font-size="11" text-anchor="middle">RMSD (nm)</text>
<path d="M597 128.9l.7 54.2 .7 53.5 .7 3.1 .7 17.8 .7 9 .7 1.5 .7-3.1 .7 7.5 .7-3.9 .8 6.9 .7-8.9 .7-1.6 .7 2.6 .7 2.7 .7 1.4 .7 4 .7-2.1 .7-4.8 .8 6 .7 2.4 .7-1.8 .7-12 .7 2.2 .7-14.6 .7 4.4 .7 19.8 .7-3.2 .7 .8 .8-4.9 .7-15.1 .7 3.8 .7 7.8 .7-14.8 .7 15.7 .7-3.8 .7 0 .7-11.8 .7 8.8 .8-1.5 .7-12.3 .7 11.3 .7 5.2 .7-9 .7 10.3 .7 5.1 .7 2.9 .7-5.6 .7-6.3 .8-2.8 .7 9.8 .7-2.7 .7 4.3 .7 6 .7-4.3 .7-1.3 .7-5.2 .7 10 .7-15.6 .8 4.7 .7 5.2 .7-5.6 .7-6.2 .7 3.3 .7 9.9 .7-.9 .7 4.5 .7-3.7 .8-9.3 .7 10.2 .7-10.8 .7 2.3 .7-17 .7 .1 .7 10.7 .7 .7 .7 11 .7-8.4 .8 18.5 .7-3.3 .7-3.3 .7 2.3 .7-14.3 .7-4 .7 6.3 .7 .5 .7-1.7 .7 9.6 .8 .9 .7 4 .7-3.5 .7 2 .7 1.5 .7-1.3 .7-5.5 .7-13.2 .7 18.6 .7 3 .8-12.6 .7 6.1 .7 1.1 .7-2.4 .7 3.8 .7-8.2 .7 .8 .7 5.5 .7-1 .7-4.8 .8-3.1 .7 13.6 .7-7 .7 8.1 .7-1.7 .7-10.1 .7 4.8 .7-3.4 .7-17.7 .8-11.4 .7-9 .7 7.5 .7 .3 .7 9.7 .7-7.3 .7 5.9 .7-20 .7 13 .7-3.2 .8 19.7 .7-8.9 .7-16.4 .7-9.8 .7 13.1 .7 27.5 .7 13.2 .7-1 .7-2.7 .7 4.2 .8-9.5 .7 7.2 .7-8.8 .7-1.6 .7 2.1 .7 11.7 .7 1.6 .7-7.7 .7 .8 .7 7.5 .8-2 .7-2.8 .7-3.4 .7 1.3 .7-1.4 .7-11.3 .7 3.9 .7 2.2 .7-18.1 .7 1.7 .8 10 .7-18.2 .7 26.9 .7-8.3 .7 7.1 .7-2.8 .7 9.9 .7-2.5 .7 2.5 .8-18.3 .7 18.4 .7 2.2 .7 5.3 .7-6.2 .7-1.2 .7-.7 .7 .6 .7-8.2 .7 1.8 .8-.4 .7-3.9 .7 8.2 .7-2.8 .7 7.1 .7 4.5 .7-6.2 .7-21.2 .7 20.7 .7-3.8 .8-5.9 .7 5.4 .7-11 .7 4.4 .7 .1 .7-5.2 .7 .3 .7-19.1 .7 27.6 .7-14.8 .8 11 .7 9.6 .7-11.5 .7-9 .7-4.7 .7-.6 .7 9.3 .7 8.5 .7-6.1 .7 11.4 .8-6.9 .7-.8 .7 8.2 .7 4.3 .7 3.1 .7-1.1 .7-1 .7-1.4 .7 7.8 .8-10.5 .7 5.7 .7 .1 .7-1.9 .7-2.5 .7-2.9 .7-1 .7 8.3 .7 4.3 .7-5.7 .8 2.3 .7-16.7 .7 2.7 .7-2.1 .7 7.3 .7-.9 .7 9 .7 2.2 .7-19.2 .7 18.3 .8 0 .7-11.9 .7 9.1 .7 .2 .7-5.5 .7 8.3 .7-.1 .7-3.7 .7-9.5 .7-3.2 .8 6 .7-13.6 .7 7.3 .7 2.4 .7-7.1 .7-6.2 .7 4.7 .7 7.3 .7 2 .7 2.9 .8-.9 .7-3.1 .7 13.4 .7-11.2 .7 2.5 .7-13.9 .7 3.4 .7-15 .7-1.7 .7 10.9 .8-4.4 .7 15 .7 1.9 .7-3.6 .7-1.1 .7 9.1 .7 4.2 .7-23.7 .7-.8 .8 25.5 .7-1.7 .7 1.6 .7 5.8 .7-14.3 .7 8.1 .7 .5 .7 0 .7 4.2 .7-2.5 .8-8.8 .7 9.2 .7 4.6 .7-7.6 .7-11.2 .7 9.1 .7-.4 .7 1.3 .7 7 .7-4.5 .8 4.4 .7 1 .7-9.9 .7-3.9 .7-10.5 .7 14.5 .7-2.9 .7-6.5 .7-5.8 .7 1.1 .8 10.9 .7-.3 .7-11.3 .7 8.5 .7 8.4 .7-8.4 .7 14.5 .7-14.1 .7 7.5 .7 .9 .8 3.5 .7 .2 .7-12.1 .7 12.1 .7-17.8 .7-2.6 .7 5 .7-4.1 .7-7.1 .8 8.2 .7 3.9 .7-10.5 .7-1.4 .7 12.9 .7-3.6 .7-6 .7 2 .7 13.3 .7 .9 .8-7.4 .7 10.5 .7 7 .7-6.5 .7-7.3 .7-12.3 .7 20.6 .7-8.9 .7 4.6 .7-9.2 .8 13.6 .7 5.8 .7-6.4 .7 5.6 .7-6.1 .7 1.4 .7-6.8 .7 11.6 .7-14.1 .7 7.3 .8 6.1 .7-5.7 .7 6.2 .7-9.9 .7-.5 .7 6.2 .7-1.6 .7-6.3 .7-11.4 .7-13.7 .8-2.4 .7 10.9 .7 1.1 .7 3.3 .7-7.5 .7-3.8 .7 7.7 .7-5.7 .7-16.4 .8-29.8 .7 32.9 .7 24.1 .7 5.5 .7 .7 .7-2.4 .7-1.5 .7 4.2 .7 12.8 .7-13.4 .8 18.3 .7-12.3 .7-3 .7 .7 .7 3.7 .7-13.1 .7 3 .7-4.1 .7-.8 .7 .9 .8 7.6 .7-6.1 .7-4.8 .7-38.1 .7-9.8 .7 19.3 .7-3.3 .7-10.5 .7 20.5" stroke="#222" stroke-width="0.9" stroke-linejoin="miter"/>
<path d="M597 109.3l.7 17.3 .7 48.1 .7-3 .7-10.6 .7 1 .7-5.6 .7 29.4 .7 6.1 .7-15.3 .8 20.4 .7-4.9 .7-7 .7 1.6 .7-.8 .7 16.8 .7-10 .7-13.4 .7-12.4 .8 6.4 .7 6 .7-7 .7 19.4 .7 15.7 .7 18.9 .7 11.6 .7 1.2 .7 20.5 .7 2.7 .8-8 .7 5.9 .7 4.4 .7-4.4 .7-2.2 .7-1.1 .7-12.5 .7-29.9 .7-4.8 .7-11.8 .8-26.9 .7-4.6 .7-28 .7-10.5 .7 6.2 .7 28.2 .7 17.6 .7 .6 .7 15 .7 12 .8 2.5 .7 20.5 .7 5.8 .7 11.3 .7 5.6 .7 9.8 .7-5.4 .7 2.2 .7-17.4 .7 14.8 .8-4.3 .7-14.5 .7 .2 .7-21.6 .7-6.6 .7-18.2 .7 5.1 .7-6.7 .7-11.4 .8-1.5 .7 22 .7 7.7 .7-10.9 .7-12.9 .7 12.6 .7 29.8 .7-.1 .7-3.1 .7 7.3 .8-11.9 .7-11.2 .7-.4 .7 7.5 .7 .5 .7 6.2 .7 14.3 .7 1.5 .7 5.4 .7 6.1 .8-.3 .7 5.3 .7 8.6 .7-2.5 .7-2.9 .7-5.5 .7-10.8 .7-9.7 .7 13.2 .7-1.9 .8 6.3 .7 9.8 .7-2 .7 3.3 .7 .8 .7-4.2 .7-4.4 .7 5.2 .7-1.8 .7-11.7 .8-7.2 .7-33.6 .7-3.6 .7-9.3 .7-17.5 .7 3.7 .7-25.5 .7-26.4 .7-33.1 .8 17.3 .7 19.7 .7 21.8 .7 22.4 .7 13.7 .7 15 .7 1.8 .7-2 .7 18.2 .7-2 .8 8.3 .7-9.4 .7 18.7 .7 1.7 .7 8.9 .7 14.4 .7-1.1 .7-7 .7 12 .7-1.7 .8 1.1 .7-.6 .7-1.7 .7-3.5 .7 8.9 .7-20.9 .7 20.9 .7-6 .7-4.1 .7 .9 .8 7.7 .7-5.2 .7 10.4 .7-3.8 .7-1.9 .7-11.6 .7-19.5 .7-10.8 .7-17 .7-18.1 .8 13.7 .7 15.3 .7 16.9 .7 4.8 .7 13.2 .7-8.5 .7-8.1 .7 5.5 .7-10.2 .8-3.7 .7 11.7 .7-2.2 .7-.3 .7-9.6 .7-10.3 .7-5.7 .7 8.1 .7-11 .7 18.6 .8 4.5 .7-6.2 .7 10.9 .7-7.6 .7 7.7 .7-9.7 .7 14.6 .7-6.4 .7 6.3 .7-2.1 .8 2.1 .7 6.3 .7 3 .7-12 .7 4.2 .7-6.9 .7 .1 .7-4.1 .7 8.7 .7-.6 .8 13.9 .7-3.5 .7 7 .7-.5 .7-6.4 .7 7.5 .7-4.2 .7-3.5 .7-15.9 .7 5.9 .8-7.5 .7 13.9 .7 7.9 .7-3.1 .7 13.5 .7-7.6 .7 10.3 .7-5.8 .7 3.5 .8 .5 .7-7.7 .7-3 .7-1.8 .7 3.9 .7-18.2 .7 14.1 .7-14.2 .7 3.2 .7-1.8 .8-1.6 .7 18.7 .7 4.9 .7-3.6 .7 4 .7 4.1 .7-13.9 .7 14.7 .7-2.7 .7 .9 .8-6.4 .7 .9 .7 3 .7-6.1 .7 6.6 .7 3.5 .7-2.5 .7-13.1 .7 14.1 .7-9.2 .8-.5 .7 3.4 .7-21.6 .7 12.3 .7-3.9 .7-2.9 .7 3.1 .7-17.7 .7 18.3 .7 1.8 .8 8 .7 1.6 .7-5.6 .7-6.6 .7 16 .7 3.6 .7-7.3 .7 .6 .7-5.2 .7-4.2 .8 5.3 .7-2.1 .7 .4 .7 8.2 .7-9.1 .7 2.2 .7 2.2 .7-5.1 .7-7.6 .8 1.1 .7-1.6 .7-7.7 .7-6.4 .7 18.4 .7-.4 .7-2.4 .7-3.2 .7-2.2 .7 19.4 .8-4.9 .7 1.5 .7-3.6 .7 10.9 .7-3.7 .7 5.7 .7-8.9 .7 6.8 .7-10.5 .7 8.6 .8-10.1 .7 15.4 .7-7.1 .7 5.2 .7-19.4 .7 13.2 .7 2.1 .7-7.5 .7-5.2 .7 6.4 .8-1.5 .7-9.4 .7 10 .7 0 .7 .5 .7-6.7 .7 .2 .7 16 .7-7.2 .7-5.1 .8 18.7 .7-15.4 .7 6.5 .7 6.2 .7 .8 .7 1.2 .7-6.2 .7-6.7 .7-30.9 .8-14.9 .7 23.6 .7 12.2 .7 9.6 .7-13.3 .7-14.9 .7-32.3 .7 24 .7 19.9 .7 7.7 .8 4.4 .7-5.5 .7-2.3 .7 7.5 .7-10.3 .7 21.8 .7 3.3 .7-6.1 .7 4.8 .7-2.6 .8-4.9 .7 4.5 .7 6.2 .7-8.3 .7 11.1 .7-4.4 .7-.5 .7-9.5 .7 1.2 .7 1.8 .8 2.5 .7-8.8 .7 15.5 .7-8.1 .7-4 .7-12.8 .7-28.1 .7-40.5 .7-51.1 .7-10.7 .8 35 .7 14.3 .7 17.4 .7 3.6 .7 4.9 .7-31.1 .7-26.4 .7 21.4 .7 39.3 .8 18.4 .7 22.7 .7 18.9 .7 6.3 .7 .2 .7-6 .7 14.7 .7 3.9 .7-3.5 .7 .3 .8-9.7 .7 10.6 .7-6.6 .7 2.7 .7-5 .7 4 .7-2.8 .7-53.6 .7-19.4 .7 23 .8 35 .7 .2 .7-7.5 .7-14.9 .7-36.7 .7-34.6 .7-5.7 .7-63.2 .7 112.9" stroke="#e01818" stroke-width="0.9" stroke-linejoin="miter"/>
<path d="M597 100.1l.7 57.1 .7 69.5 .7-8.8 .7 15.5 .7 16.8 .7 5.6 .7-.8 .7 8.6 .7-15.6 .8-10.5 .7 2.4 .7 8.1 .7 7.7 .7 6.3 .7 1.5 .7-5 .7 5.4 .7 .1 .8-6.8 .7-.5 .7-1.8 .7-11.7 .7-10.3 .7-3.3 .7 14.4 .7-4.3 .7 4.6 .7 1.1 .8 6.4 .7 7.4 .7 9.4 .7-10.2 .7 0 .7 8.7 .7-6.1 .7-2.1 .7-1.5 .7-7.6 .8 9.7 .7-13.2 .7-19.1 .7 10 .7-12.1 .7-.8 .7-2.4 .7 12.2 .7-7.1 .7 .7 .8 14.9 .7 11.9 .7-12.5 .7 3.1 .7-22.8 .7 18.1 .7-.8 .7-12.2 .7 30.3 .7 1.4 .8-5.7 .7 6 .7 7.1 .7-.2 .7 3.1 .7-9.4 .7-1.1 .7-6.3 .7-8.9 .8 8.6 .7 14.7 .7-20.4 .7-7.5 .7-18.9 .7-7.3 .7 17 .7 4 .7 13.7 .7-.1 .8 17.7 .7-.8 .7 1.6 .7-6.6 .7-5.6 .7 6.9 .7-6.3 .7 10.2 .7-4.3 .7 5.1 .8-11.8 .7 7.2 .7-7.8 .7 3.7 .7 9.9 .7-10.3 .7 4.8 .7 2.7 .7-.8 .7-12.3 .8-1.6 .7 2.4 .7-7.5 .7 13 .7-1.3 .7 2.6 .7 1.6 .7-16.2 .7 20.7 .7 1 .8-17.7 .7 10.4 .7-4 .7-9.3 .7 2.2 .7-33.1 .7-6.2 .7-9.4 .7-8.7 .8-8.9 .7 19.2 .7 17.8 .7-9.3 .7 10.8 .7-.8 .7-11.7 .7 9.2 .7 7.2 .7 9.7 .8-6.2 .7-54.9 .7-28.5 .7 52.9 .7 41.7 .7 15.9 .7 7.7 .7-2.1 .7-2.7 .7-15.1 .8 22.2 .7-9.5 .7-17.4 .7-5.2 .7 20.2 .7 9.6 .7 4 .7-15.1 .7 1.7 .7-6 .8-34.8 .7-5.4 .7 6.5 .7 14.3 .7 10.4 .7-8 .7 8.1 .7 9.8 .7-20.3 .7-42.6 .8-38.1 .7 32.7 .7 56.8 .7 7.8 .7 4.8 .7 7.4 .7-18.3 .7 22.2 .7 2.5 .8-14.5 .7-34.8 .7-16.8 .7 18.2 .7 21.1 .7 23.2 .7-1.8 .7-9.7 .7 3.4 .7 7.4 .8-8.9 .7 19 .7-16 .7 1.2 .7 1.9 .7-4.3 .7 .4 .7 7.9 .7-4.8 .7-21.2 .8 .4 .7 10.6 .7-6.9 .7-9.6 .7 21.9 .7-.4 .7 5.6 .7-2.3 .7 11.1 .7-18.8 .8 17.3 .7-4.4 .7-10.3 .7-5.7 .7 4.7 .7-20.2 .7-12.5 .7-.6 .7 20.2 .7 25.8 .8-11.6 .7-8.4 .7 6.8 .7-10.6 .7 9.2 .7-1.6 .7 2.8 .7 4.1 .7 10.5 .8-3.1 .7-6.7 .7-.6 .7-.6 .7 0 .7-18.6 .7 21.2 .7 1.2 .7-23.3 .7 3.5 .8 5.9 .7 8 .7-15 .7 10.8 .7 10 .7 2.7 .7-28 .7 12 .7 11.7 .7 3.1 .8-11.5 .7-24 .7 19.5 .7-5 .7 8.5 .7 1.9 .7 18.9 .7 3.9 .7 1.7 .7-7.8 .8 1.2 .7-7.2 .7-5.3 .7 15.5 .7-9.9 .7-16.6 .7-26.1 .7 16.7 .7 29.7 .7 3.1 .8-7.4 .7-5.4 .7 12.7 .7 1.2 .7-1.9 .7 5 .7-14.5 .7 4.9 .7-12 .7-4.8 .8-15.4 .7 6.6 .7-.9 .7-17.2 .7 1.9 .7 21.3 .7 22 .7 8.6 .7-18.1 .8 12.6 .7 4.6 .7-2.1 .7-.7 .7-14.8 .7 13 .7-7.4 .7 4.6 .7-6.3 .7-27.3 .8 14.9 .7 2.2 .7-21.5 .7 20.2 .7 7.2 .7 7.9 .7 2.8 .7-23.9 .7 23.4 .7-8.4 .8 12.8 .7-9.6 .7-16.8 .7-11.4 .7 16.5 .7 4.4 .7-1.5 .7 9.4 .7 9.5 .7-2.4 .8-10 .7-7.8 .7 13.7 .7 4.1 .7-12.1 .7-10.4 .7 11.8 .7-2.6 .7-6.8 .7 .2 .8 8.3 .7-3.3 .7 4.4 .7-8.5 .7 3.2 .7-25.5 .7 .2 .7 20.2 .7 1.4 .8-7.2 .7 27 .7-7 .7-.8 .7-3.9 .7-13.7 .7-11.8 .7 9.9 .7-2.6 .7 24.1 .8 .2 .7 .2 .7 6.4 .7-9.1 .7 7.8 .7-3.5 .7 5.4 .7-29.5 .7 23.9 .7-16.8 .8-6.6 .7 6.3 .7 18.9 .7-13.5 .7 8.2 .7-6.6 .7 4.6 .7 10.3 .7-4.2 .7-8.2 .8 3.6 .7-5.3 .7 6.1 .7 5.3 .7 9.9 .7-4.6 .7-12.8 .7 1.6 .7-19.9 .7-4 .8 .1 .7-.2 .7 2.4 .7 9.7 .7 10.5 .7-7.3 .7 .3 .7 13 .7-26.5 .8-22.4 .7 6.6 .7 48.4 .7 2.7 .7-10.7 .7 11.1 .7-1.4 .7-7.7 .7 6.3 .7-5.3 .8-3.4 .7 3.7 .7-2.1 .7 1.4 .7-10.9 .7-3.5 .7-33.4 .7-21.4 .7 19 .7 30.6 .8-7.3 .7 16.6 .7-20.7 .7 5.6 .7-2.9 .7-14.2 .7-42.7 .7-34 .7 43.2" stroke="#1010e0" stroke-width="0.9" stroke-linejoin="miter"/>
<path d="M607.6 297.4v-3.8M607.6 48.5v3.8M678.6 297.4v-3.8M678.6 48.5v3.8M749.7 297.4v-3.8M749.7 48.5v3.8M820.7 297.4v-3.8M820.7 48.5v3.8M891.7 297.4v-3.8M891.7 48.5v3.8M572.1 297.4v-7.5M572.1 48.5v7.5M643.1 297.4v-7.5M643.1 48.5v7.5M714.1 297.4v-7.5M714.1 48.5v7.5M785.2 297.4v-7.5M785.2 48.5v7.5M856.2 297.4v-7.5M856.2 48.5v7.5M927.2 297.4v-7.5M927.2 48.5v7.5M572.1 269.7h3.8M927.2 269.7h-3.8M572.1 214.4h3.8M927.2 214.4h-3.8M572.1 159.1h3.8M927.2 159.1h-3.8M572.1 103.8h3.8M927.2 103.8h-3.8M572.1 297.4h7.5M927.2 297.4h-7.5M572.1 242.1h7.5M927.2 242.1h-7.5M572.1 186.8h7.5M927.2 186.8h-7.5M572.1 131.5h7.5M927.2 131.5h-7.5M572.1 76.2h7.5M927.2 76.2h-7.5" stroke="#222" stroke-width="0.9"/>
<rect x="572.1" y="48.5" width="355.1" height="248.9" stroke="#222" stroke-width="0.9"/>
<g font-size="10.2"><text x="572.1" y="308.8" text-anchor="middle">0</text><text x="643.1" y="308.8" text-anchor="middle">100</text><text x="714.1" y="308.8" text-anchor="middle">200</text><text x="785.2" y="308.8" text-anchor="middle">300</text><text x="856.2" y="308.8" text-anchor="middle">400</text><text x="927.2" y="308.8" text-anchor="middle">500</text><text x="568.1" y="301.7" text-anchor="end">0</text><text x="568.1" y="246.4" text-anchor="end">0.2</text><text x="568.1" y="191" text-anchor="end">0.4</text><text x="568.1" y="135.7" text-anchor="end">0.6</text><text x="568.1" y="80.4" text-anchor="end">0.8</text></g>
<rect x="696" y="66.2" width="125.6" height="37.4" fill="#fff" stroke="#000"/>
<g font-size="10.1"><path d="M700 73.4H714.8" stroke="#000" stroke-width="1"/><text x="721.3" y="76.7">Wild CD36</text><path d="M700 85.2H714.8" stroke="#f00" stroke-width="1"/><text x="721.3" y="88.5">CD36 Mut(K164A)+PA</text><path d="M700 97H714.8" stroke="#00f" stroke-width="1"/><text x="721.3" y="100.3">Wild CD36 + PA</text></g>
<text x="749.8" y="26.9" font-size="15.1" text-anchor="middle">RMS fluctuation</text>
<text x="749.8" y="318.3" font-size="10.2" text-anchor="middle">Residue</text>
<text transform="translate(551.2 171.3) rotate(-90)" font-size="10.2" text-anchor="middle">(nm)</text>
<path d="M597.4 441.5l.7 60.9 .7 60.2 .7 3.5 .7 20 .7 10.1 .7 1.8 .8-3.6 .7 8.5 .7-4.4 .7 7.7 .7-9.9 .7-1.9 .7 2.9 .7 3.1 .7 1.5 .8 4.5 .7-2.2 .7-5.4 .7 6.7 .7 2.7 .7-2.1 .7-13.4 .7 2.4 .7-16.5 .7 5.1 .8 22.2 .7-3.6 .7 1 .7-5.6 .7-17 .7 4.3 .7 8.8 .7-16.6 .7 17.6 .8-4.3 .7 0 .7-13.2 .7 9.8 .7-1.6 .7-13.9 .7 12.7 .7 5.8 .7-10.1 .8 11.7 .7 5.6 .7 3.4 .7-6.4 .7-7.1 .7-3.1 .7 11.1 .7-3.1 .7 4.9 .8 6.7 .7-4.8 .7-1.6 .7-5.7 .7 11.2 .7-17.6 .7 5.3 .7 5.9 .7-6.3 .7-7.1 .8 3.8 .7 11.1 .7-1 .7 5 .7-4.1 .7-10.5 .7 11.6 .7-12.2 .7 2.6 .8-19.1 .7 0 .7 12 .7 .8 .7 12.5 .7-9.5 .7 20.8 .7-3.7 .7-3.7 .8 2.6 .7-16.1 .7-4.5 .7 7 .7 .6 .7-1.9 .7 10.9 .7 1 .7 4.5 .8-4 .7 2.2 .7 1.7 .7-1.4 .7-6.2 .7-14.9 .7 21 .7 3.4 .7-14.3 .7 6.9 .8 1.3 .7-2.8 .7 4.4 .7-9.3 .7 .9 .7 6.2 .7-1.2 .7-5.3 .7-3.5 .8 15.3 .7-7.9 .7 9.2 .7-2 .7-11.3 .7 5.4 .7-3.9 .7-19.9 .7-12.9 .8-10 .7 8.4 .7 .4 .7 10.9 .7-8.3 .7 6.7 .7-22.5 .7 14.6 .7-3.6 .7 22.2 .8-10 .7-18.6 .7-11 .7 14.8 .7 31 .7 14.8 .7-1.1 .7-3 .7 4.7 .8-10.8 .7 8.2 .7-9.9 .7-1.8 .7 2.3 .7 13.2 .7 1.8 .7-8.6 .7 .9 .8 8.4 .7-2.3 .7-3.1 .7-3.9 .7 1.5 .7-1.6 .7-12.6 .7 4.3 .7 2.4 .8-20.3 .7 2 .7 11.2 .7-20.5 .7 30.2 .7-9.3 .7 8 .7-3.1 .7 11.1 .7-2.8 .8 2.8 .7-20.6 .7 20.7 .7 2.5 .7 6 .7-7 .7-1.4 .7-.7 .7 .6 .8-9.2 .7 2 .7-.4 .7-4.4 .7 9.2 .7-3.2 .7 8.1 .7 5 .7-6.9 .8-23.9 .7 23.2 .7-4.2 .7-6.7 .7 6.2 .7-12.4 .7 4.9 .7 .1 .7-5.8 .8 .3 .7-21.4 .7 31 .7-16.7 .7 12.4 .7 10.7 .7-12.8 .7-10.1 .7-5.4 .7-.6 .8 10.4 .7 9.6 .7-6.8 .7 12.8 .7-7.8 .7-.8 .7 9.1 .7 4.9 .7 3.5 .8-1.2 .7-1.2 .7-1.6 .7 8.8 .7-11.8 .7 6.4 .7 .1 .7-2.2 .7-2.8 .8-3.2 .7-1.1 .7 9.3 .7 4.8 .7-6.4 .7 2.7 .7-18.8 .7 3 .7-2.4 .8 8.3 .7-1 .7 10.1 .7 2.4 .7-21.6 .7 20.6 .7 0 .7-13.4 .7 10.3 .7 .2 .8-6.2 .7 9.3 .7-.1 .7-4.1 .7-10.7 .7-3.6 .7 6.6 .7-15.2 .7 8.2 .8 2.7 .7-7.9 .7-7 .7 5.2 .7 8.2 .7 2.3 .7 3.2 .7-1 .7-3.5 .8 15.1 .7-12.5 .7 2.7 .7-15.5 .7 3.7 .7-16.8 .7-1.9 .7 12.2 .7-5 .8 16.9 .7 2.2 .7-4.1 .7-1.2 .7 10.2 .7 4.7 .7-26.6 .7-.9 .7 28.7 .7-1.9 .8 1.8 .7 6.5 .7-16.1 .7 9.1 .7 .5 .7 .1 .7 4.7 .7-2.8 .7-9.9 .8 10.3 .7 5.2 .7-8.6 .7-12.5 .7 10.2 .7-.5 .7 1.5 .7 7.8 .7-5 .8 5 .7 1.1 .7-11.2 .7-4.3 .7-11.9 .7 16.4 .7-3.3 .7-7.3 .7-6.5 .8 1.2 .7 12.3 .7-.4 .7-12.7 .7 9.6 .7 9.5 .7-9.6 .7 16.4 .7-15.9 .7 8.5 .8 1 .7 4 .7 .1 .7-13.5 .7 13.5 .7-19.9 .7-3 .7 5.7 .7-4.7 .8-8 .7 9.2 .7 4.5 .7-11.9 .7-1.6 .7 14.6 .7-4.1 .7-6.7 .7 2.2 .8 14.9 .7 1.1 .7-8.4 .7 11.9 .7 7.9 .7-7.4 .7-8.2 .7-13.9 .7 23.3 .7-10 .8 5.2 .7-10.4 .7 15.2 .7 6.6 .7-7.2 .7 6.2 .7-6.8 .7 1.7 .7-7.7 .8 13 .7-15.8 .7 8.2 .7 6.8 .7-6.4 .7 7 .7-11.1 .7-.6 .7 7 .8-1.8 .7-7.1 .7-12.9 .7-15.4 .7-2.7 .7 12.3 .7 1.2 .7 3.7 .7-8.4 .8-4.3 .7 8.7 .7-6.4 .7-18.5 .7-33.4 .7 36.9 .7 27.1 .7 6.3 .7 .8 .7-2.7 .8-1.8 .7 4.7 .7 14.4 .7-15.1 .7 20.7 .7-13.9 .7-3.3 .7 .7 .7 4.2 .8-14.7 .7 3.4 .7-4.7 .7-.9 .7 1.1 .7 8.5 .7-6.9 .7-5.4 .7-42.9 .8-11 .7 21.7 .7-3.6 .7-11.8 .7 23" stroke="#222" stroke-width="0.9" stroke-linejoin="miter"/>
<path d="M597.4 409l.7 64.2 .7 78.3 .7-10 .7 17.5 .7 18.9 .7 6.3 .8-.9 .7 9.7 .7-17.6 .7-11.8 .7 2.8 .7 9.1 .7 8.6 .7 7 .7 1.8 .8-5.6 .7 6 .7 .1 .7-7.7 .7-.5 .7-2.1 .7-13.1 .7-11.6 .7-3.7 .7 16.2 .8-4.8 .7 5.2 .7 1.2 .7 7.2 .7 8.3 .7 10.6 .7-11.5 .7 0 .7 9.8 .8-6.8 .7-2.4 .7-1.7 .7-8.5 .7 10.8 .7-14.8 .7-21.5 .7 11.2 .7-13.6 .8-.9 .7-2.7 .7 13.8 .7-8 .7 .8 .7 16.7 .7 13.4 .7-14 .7 3.4 .8-25.6 .7 20.4 .7-.9 .7-13.7 .7 34 .7 1.6 .7-6.4 .7 6.7 .7 8.1 .7-.2 .8 3.4 .7-10.5 .7-1.3 .7-7.1 .7-10 .7 9.6 .7 16.6 .7-22.9 .7-8.4 .8-21.3 .7-8.2 .7 19.1 .7 4.4 .7 15.5 .7-.2 .7 20 .7-.9 .7 1.7 .8-7.4 .7-6.3 .7 7.8 .7-7.1 .7 11.5 .7-4.8 .7 5.7 .7-13.3 .7 8.1 .8-8.8 .7 4.2 .7 11.1 .7-11.5 .7 5.4 .7 3 .7-.9 .7-13.8 .7-1.8 .7 2.6 .8-8.4 .7 14.7 .7-1.5 .7 2.9 .7 1.8 .7-18.2 .7 23.3 .7 1.1 .7-19.9 .8 11.7 .7-4.6 .7-10.4 .7 2.6 .7-37.4 .7-6.9 .7-10.6 .7-9.8 .7-10 .8 21.6 .7 20.1 .7-10.5 .7 12.2 .7-.9 .7-13.3 .7 10.4 .7 8.1 .7 10.9 .7-7 .8-61.7 .7-32 .7 59.5 .7 46.9 .7 17.9 .7 8.6 .7-2.3 .7-3.1 .7-17 .8 25 .7-10.8 .7-19.5 .7-5.8 .7 22.7 .7 10.8 .7 4.5 .7-17 .7 1.9 .8-6.7 .7-39.2 .7-6.1 .7 7.4 .7 16 .7 11.7 .7-8.9 .7 9.1 .7 10.9 .8-22.7 .7-48 .7-42.8 .7 36.8 .7 63.9 .7 8.7 .7 5.5 .7 8.3 .7-20.7 .7 25.1 .8 2.8 .7-16.4 .7-39.1 .7-18.9 .7 20.4 .7 23.8 .7 26.1 .7-2 .7-11 .8 3.9 .7 8.3 .7-10.1 .7 21.5 .7-18.1 .7 1.5 .7 2.1 .7-4.9 .7 .5 .8 8.9 .7-5.5 .7-23.8 .7 .5 .7 11.8 .7-7.7 .7-10.7 .7 24.6 .7-.5 .8 6.3 .7-2.6 .7 12.6 .7-21.2 .7 19.4 .7-4.9 .7-11.7 .7-6.3 .7 5.3 .7-22.8 .8-14.1 .7-.6 .7 22.7 .7 29 .7-13 .7-9.4 .7 7.5 .7-11.8 .7 10.3 .8-1.7 .7 3.1 .7 4.6 .7 11.8 .7-3.5 .7-7.5 .7-.7 .7-.7 .7 0 .8-20.9 .7 23.9 .7 1.3 .7-26.2 .7 3.9 .7 6.6 .7 9.1 .7-16.9 .7 12.1 .8 11.3 .7 3 .7-31.5 .7 13.6 .7 13.1 .7 3.4 .7-12.9 .7-27 .7 22 .7-5.6 .8 9.5 .7 2.1 .7 21.3 .7 4.4 .7 1.9 .7-8.8 .7 1.4 .7-8.1 .7-5.9 .8 17.3 .7-11.1 .7-18.6 .7-29.4 .7 18.8 .7 33.4 .7 3.5 .7-8.3 .7-6.1 .8 14.3 .7 1.4 .7-2.2 .7 5.6 .7-16.3 .7 5.5 .7-13.5 .7-5.4 .7-17.3 .8 7.4 .7-1 .7-19.4 .7 2.1 .7 24.1 .7 24.7 .7 9.6 .7-20.3 .7 14.2 .7 5.1 .8-2.3 .7-.8 .7-16.7 .7 14.7 .7-8.4 .7 5.3 .7-7.2 .7-30.7 .7 16.8 .8 2.5 .7-24.2 .7 22.7 .7 8.1 .7 8.8 .7 3.2 .7-26.9 .7 26.3 .7-9.4 .8 14.4 .7-10.7 .7-19 .7-12.8 .7 18.6 .7 4.9 .7-1.7 .7 10.6 .7 10.7 .8-2.7 .7-11.3 .7-8.7 .7 15.3 .7 4.6 .7-13.5 .7-11.7 .7 13.2 .7-2.8 .7-7.7 .8 .2 .7 9.3 .7-3.6 .7 4.8 .7-9.5 .7 3.6 .7-28.7 .7 .3 .7 22.7 .8 1.5 .7-8 .7 30.3 .7-7.9 .7-.8 .7-4.5 .7-15.4 .7-13.3 .7 11.3 .8-3.1 .7 27.2 .7 .2 .7 .3 .7 7.1 .7-10.2 .7 8.8 .7-4 .7 6.1 .7-33.1 .8 26.8 .7-18.8 .7-7.5 .7 7.1 .7 21.3 .7-15.2 .7 9.1 .7-7.3 .7 5.1 .8 11.6 .7-4.7 .7-9.3 .7 4.1 .7-5.9 .7 6.8 .7 6 .7 11.2 .7-5.3 .8-14.4 .7 1.8 .7-22.3 .7-4.6 .7 .2 .7-.2 .7 2.7 .7 10.8 .7 11.9 .8-8.2 .7 .3 .7 14.6 .7-29.8 .7-25.2 .7 7.5 .7 54.4 .7 3 .7-12 .7 12.4 .8-1.5 .7-8.6 .7 7 .7-6 .7-3.8 .7 4.2 .7-2.3 .7 1.5 .7-12.3 .8-3.9 .7-37.5 .7-24.2 .7 21.5 .7 34.4 .7-8.2 .7 18.6 .7-23.3 .7 6.4 .8-3.3 .7-16 .7-48 .7-38.3 .7 48.6" stroke="#1010e0" stroke-width="0.9" stroke-linejoin="miter"/>
<path d="M608 631v-3.8M608 382.1v3.8M679.1 631v-3.8M679.1 382.1v3.8M750.2 631v-3.8M750.2 382.1v3.8M821.3 631v-3.8M821.3 382.1v3.8M892.4 631v-3.8M892.4 382.1v3.8M572.5 631v-7.5M572.5 382.1v7.5M643.6 631v-7.5M643.6 382.1v7.5M714.7 631v-7.5M714.7 382.1v7.5M785.7 631v-7.5M785.7 382.1v7.5M856.8 631v-7.5M856.8 382.1v7.5M927.9 631v-7.5M927.9 382.1v7.5M572.5 599.9h3.8M927.9 599.9h-3.8M572.5 537.7h3.8M927.9 537.7h-3.8M572.5 475.4h3.8M927.9 475.4h-3.8M572.5 413.2h3.8M927.9 413.2h-3.8M572.5 631h7.5M927.9 631h-7.5M572.5 568.8h7.5M927.9 568.8h-7.5M572.5 506.6h7.5M927.9 506.6h-7.5M572.5 444.3h7.5M927.9 444.3h-7.5M572.5 382.1h7.5M927.9 382.1h-7.5" stroke="#222" stroke-width="0.9"/>
<rect x="572.5" y="382.1" width="355.4" height="248.9" stroke="#222" stroke-width="0.9"/>
<g font-size="10.2"><text x="572.5" y="642.4" text-anchor="middle">0</text><text x="643.6" y="642.4" text-anchor="middle">100</text><text x="714.7" y="642.4" text-anchor="middle">200</text><text x="785.7" y="642.4" text-anchor="middle">300</text><text x="856.8" y="642.4" text-anchor="middle">400</text><text x="927.9" y="642.4" text-anchor="middle">500</text><text x="568.5" y="635.3" text-anchor="end">0</text><text x="568.5" y="573" text-anchor="end">0.2</text><text x="568.5" y="510.8" text-anchor="end">0.4</text><text x="568.5" y="448.6" text-anchor="end">0.6</text><text x="568.5" y="386.4" text-anchor="end">0.8</text></g>
<rect x="820.7" y="399.5" width="99" height="25.6" fill="#fff" stroke="#000"/>
<g font-size="10.1"><path d="M824.6 407.7H838.4" stroke="#000" stroke-width="1"/><text x="846.6" y="411">Wild  CD36</text><path d="M824.6 417.9H838.4" stroke="#00f" stroke-width="1"/><text x="846.6" y="421.2">Wild CD36 + PA</text></g>
<text x="750.8" y="360.2" font-size="15.1" text-anchor="middle">RMS fluctuation</text>
<text x="750.8" y="652.3" font-size="10.2" text-anchor="middle">Residue</text>
<text transform="translate(551.2 505.3) rotate(-90)" font-size="10.2" text-anchor="middle">(nm)</text>
<path d="M1068.6 246.8l.5 28.2 .5-28.1 .5 22.2 .5-15.8 .5 31.9 .5-31.3 .5 32.3 .5-27.3 .5 22.9 .5-32.1 .5 23.7 .5-25.3 .5 28.5 .5-29.9 .5 31 .5-36.1 .5 39.4 .5-21.6 .5 21.7 .5-22.6 .5 18.1 .5-27.9 .5 29.5 .5-23.6 .5 22.8 .5-27.3 .5 20 .5-24.4 .5 24.9 .6-24.7 .5 24.3 .5-23.4 .5 23.5 .5-21.6 .5 20.9 .5-33.3 .5 29.5 .5-26.7 .5 24.8 .5-23.2 .5 25 .5-20 .5 23.9 .5-25.3 .5 30.1 .5-28.5 .5 25.9 .5-25.2 .5 27.1 .5-21.7 .5 24.4 .5-20.4 .5 18.5 .5-20.4 .5 22.3 .5-41.8 .5 45.4 .5-22.9 .5 23.3 .5-26.9 .5 20.8 .5-28.2 .5 25.3 .5-17.6 .5 27.5 .5-27.4 .5 22.4 .5-26.6 .5 34.3 .5-34.4 .5 22.6 .5-22.1 .5 25 .5-29.2 .5 34.8 .5-35.2 .5 27.1 .5-27.6 .5 27.3 .5-26.1 .5 23.8 .5-21.2 .5 31.8 .5-37.2 .5 28.2 .5-19.8 .5 25.9 .5-29.4 .6 21.8 .5-19.8 .5 23.4 .5-25.9 .5 36.6 .5-29.8 .5 26.5 .5-36.6 .5 38 .5-50.5 .5 40.1 .5-16.4 .5 20 .5-21.8 .5 27.8 .5-31.9 .5 20.4 .5-17.9 .5 24.4 .5-26.6 .5 30 .5-33.5 .5 30.8 .5-27.4 .5 29.5 .5-28.6 .5 30.5 .5-31.7 .5 36.8 .5-31.9 .5 21 .5-21.4 .5 24.5 .5-26.3 .5 28.1 .5-30.3 .5 27.6 .5-23.6 .5 20.8 .5-20.3 .5 24.6 .5-31.4 .5 28.5 .5-30.2 .5 26.4 .5-30.3 .5 37.4 .5-32.1 .5 21.6 .5-36.2 .5 35.1 .5-27.2 .5 20.8 .5-17.3 .5 24.4 .5-34.9 .5 26.1 .5-23.8 .5 21 .6-17.1 .5 22.9 .5-21.5 .5 35.8 .5-37.8 .5 25.4 .5-24.2 .5 22.2 .5-21.1 .5 30.3 .5-24.7 .5 29.8 .5-22.7 .5 27.3 .5-31 .5 22.4 .5-33.8 .5 31.3 .5-28 .5 25 .5-20.2 .5 23 .5-25.6 .5 29.8 .5-27.7 .5 28.6 .5-35.6 .5 29.1 .5-29.5 .5 25.6 .5-19.3 .5 24.1 .5-20 .5 22.8 .5-23.4 .5 31.5 .5-33.5 .5 29.4 .5-18.2 .5 23.9 .5-35.6 .5 26.8 .5-22.9 .5 28.5 .5-44.5 .5 37.2 .5-35.7 .5 31.5 .5-20.1 .5 18 .5-20.2 .5 22.7 .5-21 .5 20.7 .5-27.2 .5 26.1 .5-26.4 .5 25.8 .5-28.5 .6 29.1 .5-26.7 .5 29.6 .5-26.9 .5 20.9 .5-19.9 .5 28.8 .5-40.6 .5 38.6 .5-39.4 .5 23.5 .5-16.5 .5 27.4 .5-34.7 .5 31 .5-11.9 .5 22 .5-26 .5 31.5 .5-28.8 .5 19.3 .5-20.5 .5 33.3 .5-35 .5 30.9 .5-38.3 .5 30.1 .5-21.9 .5 19.5 .5-22.9 .5 22.7 .5-21.4 .5 23.2 .5-25.6 .5 23.5 .5-15 .5 28.6 .5-31 .5 31.8 .5-39.9 .5 20.2 .5-16.8 .5 22.1 .5-35.1 .5 37.3 .5-23.4 .5 20.7 .5-19.6 .5 25.1 .5-22.6 .5 22 .5-21.1 .5 21.1 .5-27.4 .5 33.8 .5-25.1 .5 19.4 .5-31.1 .5 24.5 .6-32.6 .5 38.7 .5-25 .5 26.1 .5-19.2 .5 26.4 .5-17.3 .5 20.5 .5-29.9 .5 27.5 .5-27.2 .5 30.7 .5-35.4 .5 32.1 .5-28.7 .5 30.3 .5-26.8 .5 25.6 .5-27.2 .5 23 .5-29.1 .5 28.4 .5-21 .5 23.4 .5-29.4 .5 31.7 .5-32.9 .5 28.2 .5-27.5 .5 31.7 .5-21.7 .5 25.7 .5-19 .5 31.3 .5-39 .5 38.6 .5-42.1 .5 25.6 .5-21.4 .5 29 .5-33.9 .5 28 .5-21 .5 24.3 .5-26.2 .5 16.7 .5-19.7 .5 24.8 .5-31.9 .5 33.2 .5-25.8 .5 27.3 .5-21.9 .5 22.2 .5-27.4 .5 22.1 .5-17.8 .5 26 .5-21.5 .6 26.2 .5-32.8 .5 24.9 .5-34.1 .5 34.6 .5-31.6 .5 24 .5-32.4 .5 35.7 .5-28.3 .5 23.5 .5-20.9 .5 20.1 .5-14.7 .5 33.7 .5-32.7 .5 25.1 .5-33 .5 25.5 .5-33.5 .5 30.7 .5-23.6 .5 18.3 .5-24.4 .5 23.3 .5-18.7 .5 29.3 .5-35.8 .5 34 .5-22.9 .5 20.6 .5-29.6 .5 34.3 .5-30 .5 22.5 .5-23.3 .5 22.6 .5-23 .5 23.6 .5-16.2 .5 24.3 .5-33.9 .5 30.4 .5-23 .5 30.5 .5-38.3 .5 28 .5-16.2 .5 26.9 .5-23.3 .5 21.5 .5-35.6 .5 24.2 .5-20.4 .5 30.4 .5-23.5 .5 24.7 .5-33.6 .5 28.1 .6-24.9 .5 25.1 .5-27.4 .5 35.7 .5-45.7 .5 42.1 .5-27.4 .5 31.5 .5-28.8 .5 23.4 .5-40.3 .5 30.4 .5-22.7 .5 23.2 .5-23.5 .5 25 .5-19.6 .5 23.6 .5-19.8 .5 23.1 .5-25.4 .5 22.1 .5-24.4 .5 23.5 .5-21.1 .5 20.7 .5-18.8 .5 38.4 .5-38.8 .5 25.2 .5-29.2 .5 36.5 .5-26.9 .5 21.7 .5-21.4 .5 24.8 .5-20.1 .5 23.2 .5-25.4 .5 25.4 .5-26.8 .5 28.8 .5-25.5 .5 23.9 .5-25.4 .5 27.3 .5-34.6 .5 41 .5-37.1 .5 28.6 .5-23 .5 32 .5-29.3 .5 29.5 .5-39 .5 26.9 .5-14.5 .5 22.4 .5-30.2 .6 35.9 .5-34.3 .5 31.1 .5-29.8 .5 25.3 .5-33.9 .5 29.9 .5-26 .5 26.7 .5-34.6 .5 38.1 .5-37.9 .5 37.4 .5-33.2 .5 26.1 .5-29.7 .5 25.2 .5-30.4 .5 26.4 .5-21.7 .5 31.7 .5-33.9 .5 37 .5-28.9 .5 22.8 .5-35.3 .5 31.8 .5-19.3 .5 21.2 .5-20.3 .5 22.2 .5-21.5 .5 25.4 .5-30.2 .5 29.9 .5-25 .5 20 .5-27.6 .5 22.9 .5-15.1 .5 23.7 .5-27 .5 20.7 .5-17.7 .5 30.2 .5-34 .5 22.4 .5-24.2 .5 17.3 .5-27.8 .5 34.2 .5-29.4 .5 25.4 .5-22.6 .5 23.6 .5-25.1 .5 38.6 .5-32.4 .6 23.6 .5-22.9 .5 24.6 .5-26.2 .5 23.4 .5-29.3 .5 29.4 .5-19.3 .5 31.7 .5-30.1 .5 27.8 .5-32.8 .5 32.2 .5-34.2 .5 19.8 .5-14.9 .5 18.6 .5-21.5 .5 28.7 .5-27.3 .5 18.4 .5-14.8 .5 21.5 .5-32.1 .5 23.2 .5-28.2 .5 38.2 .5-30 .5 23.7 .5-21.1 .5 21.3 .5-34.4 .5 28.1 .5-16.6 .5 28.3 .5-32.3 .5 23.3 .5-21.2 .5 27.5 .5-33 .5 29.2 .5-22.2 .5 23.2 .5-15.7 .5 21.6 .5-26.4 .5 23.3 .5-25.7 .5 27 .5-35.9 .5 22.4 .5-22.5 .5 29.5 .5-40.8 .5 34.6 .5-23.2 .5 27.6 .5-18.9 .5 23.1 .6-24.6 .5 24.2 .5-15 .5 19 .5-22.6 .5 26.7 .5-21.3 .5 25.9 .5-24.7 .5 23.1 .5-28.1 .5 27.7 .5-40.8 .5 26.1 .5-18.9 .5 19.2 .5-21.7 .5 25 .5-26.1 .5 26.1 .5-15 .5 19.9 .5-21.2 .5 27.6 .5-18.6 .5 22.9 .5-34.3 .5 24.1 .5-28.6 .5 31.8 .5-26.6 .5 23.5 .5-26 .5 25.7 .5-24.9 .5 26.3 .5-31.1 .5 25.8 .5-21 .5 19.4 .5-23.3 .5 30.1 .5-18.8 .5 20 .5-22.9 .5 19.8 .5-23.1 .5 28.4 .5-26.8 .5 29.1 .5-24 .5 22.3 .5-26 .5 18.1 .5-23.5 .5 32.1 .5-28.1 .5 20.1 .5-25.6 .6 22.1 .5-22.1 0 20.6" stroke="#000"/>
<path d="M1068.6 269.2l.5 36.8 .5-36.1 .5 26.5 .5-23.2 .5 20.5 .5-24 .5 21.5 .5-25.7 .5 28.5 .5-27 .5 19.3 .5-12.1 .5 24.3 .5-26.7 .5 22.4 .5-12.6 .5 20.9 .5-26.3 .5 24.9 .5-37.6 .5 33.5 .5-26 .5 26.9 .5-21.8 .5 21.6 .5-29.7 .5 22.4 .5-20.1 .5 25.4 .5-25.8 .5 29.3 .5-21.6 .5 22.4 .5-19.3 .5 22.9 .5-36.4 .5 24.6 .5-22.2 .5 28.3 .5-31.8 .5 27.6 .5-29.8 .5 20 .5-18.2 .5 21.8 .5-25.6 .5 28.6 .5-26.6 .5 26.8 .5-20.9 .5 21.3 .5-24.9 .5 23.5 .5-21.6 .5 21.9 .5-24.5 .5 19.7 .5-25 .5 28.4 .5-25.9 .5 19.8 .5-26.4 .5 34.3 .5-23.9 .5 16.8 .5-25.7 .5 30.5 .5-25.1 .5 25 .5-22.7 .5 25.4 .5-25.6 .5 21.7 .5-24.6 .5 26.2 .5-37.1 .5 27.6 .5-21.9 .5 27.9 .6-18.9 .5 20.1 .5-20.5 .5 17.3 .5-17.2 .5 25.8 .5-24 .5 23.6 .5-19.4 .5 21.1 .5-19.8 .5 18.2 .5-33.2 .5 31.9 .5-24.4 .5 27.6 .5-31.5 .5 21.4 .5-24.5 .5 22.7 .5-28.8 .5 22.9 .5-20.2 .5 21.1 .5-19.8 .5 23.9 .5-20.4 .5 21.9 .5-24.9 .5 28 .5-21 .5 22.3 .5-30 .5 33.4 .5-34 .5 24 .5-18.4 .5 26.7 .5-28.8 .5 32.1 .5-29.3 .5 21.3 .5-15.2 .5 22.4 .5-18.3 .5 18 .5-18.4 .5 23.8 .5-22.1 .5 20.5 .5-25.9 .5 37.3 .5-41.7 .5 28.9 .5-21.7 .5 24.8 .5-20 .5 26.2 .5-27.4 .5 27 .5-18.3 .5 27.4 .5-34.8 .5 27.7 .5-25.7 .5 24.8 .5-25.3 .5 23.9 .5-18.5 .5 25.5 .5-25.4 .5 22.7 .5-29.9 .5 27.4 .5-27.4 .5 36.5 .5-38 .5 24 .5-15.9 .5 19.5 .5-26.3 .5 24.2 .5-21.1 .5 28 .5-25.8 .5 26.2 .5-26.9 .5 22.3 .5-28.3 .5 30.2 .5-21.2 .5 25.9 .5-37.9 .5 35.9 .5-26.1 .5 26.2 .5-16.6 .5 23.4 .5-29.9 .5 21.5 .5-24.1 .5 31.6 .5-24.2 .5 24.6 .5-23.1 .5 26.3 .5-26.5 .5 19.9 .5-27.5 .5 25.4 .5-27.8 .5 21.7 .5-21 .5 17.2 .5-14.5 .5 24 .5-22 .5 30.8 .5-31.9 .5 24.2 .5-22.4 .5 18.8 .5-19.2 .5 19.9 .5-25.7 .5 29.7 .5-32.9 .5 26.2 .5-28.5 .5 24.6 .5-25.4 .5 27.1 .5-17.5 .5 22 .5-24.1 .5 18.1 .5-13.3 .5 27.6 .5-32.1 .5 26.5 .5-30.5 .5 22.5 .5-20.1 .5 26.5 .5-22.1 .5 28.6 .5-25.5 .5 19.2 .5-20.8 .5 25.7 .5-35.5 .5 36.3 .5-36.8 .5 24.2 .5-24.4 .5 23 .5-17.4 .5 18.7 .6-23.4 .5 25.2 .5-18 .5 21.6 .5-20.1 .5 19 .5-38.8 .5 34.3 .5-26.9 .5 29.4 .5-21.8 .5 22.8 .5-19.4 .5 20.7 .5-19.3 .5 28.2 .5-18.8 .5 25.8 .5-34.3 .5 32.7 .5-27.8 .5 19.5 .5-24.9 .5 25 .5-28.8 .5 33.1 .5-29.7 .5 27.1 .5-20.4 .5 25.8 .5-35.2 .5 29.5 .5-33 .5 19.4 .5-25.7 .5 29.3 .5-26.5 .5 22 .5-18.2 .5 22.6 .5-16.7 .5 17.3 .5-18.5 .5 29.1 .5-31.7 .5 22.4 .5-22.1 .5 27.8 .5-36.6 .5 31.8 .5-31.7 .5 34.8 .5-22.4 .5 18.8 .5-19.2 .5 24.9 .5-30.5 .5 31.8 .5-22 .5 25.3 .5-34.1 .5 28.6 .5-26.1 .5 26.2 .5-23.3 .5 26.4 .5-32.5 .5 24.6 .5-28 .5 24.4 .5-23 .5 22 .5-20.2 .5 18.5 .5-17.4 .5 29.4 .5-36.3 .5 29.2 .5-19.9 .5 25.5 .5-28.8 .5 32.7 .5-26.5 .5 22 .5-29.2 .5 31.4 .5-25 .5 21.3 .5-33.6 .5 35.3 .5-26.8 .5 19.7 .5-23.4 .5 22.8 .5-14.8 .5 31 .5-30.7 .5 19.3 .5-32.3 .5 32.5 .5-38.3 .5 30.4 .5-29.3 .5 23.9 .5-21.8 .5 25.3 .5-16.5 .5 21.2 .5-22.8 .5 27.1 .5-31.8 .5 33.3 .5-43 .5 36.6 .5-24.6 .5 27.8 .5-24.5 .5 27 .5-28.5 .5 22.3 .5-18.6 .5 25.6 .5-22.9 .5 24.9 .5-34.5 .5 19.3 .5-36.5 .5 31.7 .5-18.1 .5 24.9 .5-29.5 .5 20 .5-21.1 .5 22.5 .5-16.4 .5 21.6 .5-13.1 .5 23.6 .5-28.7 .5 23.9 .5-20.3 .5 21 .5-34.2 .5 24.1 .5-20.3 .5 20.9 .5-22.5 .5 37.8 .5-18.6 .5 28.3 .5-30.1 .5 19.7 .5-17.4 .5 21.6 .5-12.7 .5 23.6 .5-15.6 .5 24.5 .5-27 .6 23.1 .5-29.1 .5 26.6 .5-14.1 .5 24.2 .5-23.8 .5 24.1 .5-15.1 .5 25.3 .5-30.3 .5 24.6 .5-21.6 .5 32.1 .5-38.5 .5 36.4 .5-39 .5 38.7 .5-21.5 .5 24.5 .5-21.4 .5 19 .5-8.2 .5 22.1 .5-34.7 .5 37.6 .5-36.7 .5 30.2 .5-22.6 .5 21.3 .5-21.5 .5 24.9 .5-25.8 .5 21.8 .5-17.4 .5 25.6 .5-26.7 .5 30.3 .5-27.8 .5 24.9 .5-33 .5 26.7 .5-24.6 .5 32.3 .5-26.7 .5 26.5 .5-33.9 .5 32 .5-28.5 .5 33.2 .5-16 .5 19 .5-2.4 .5 20.7 .5-1.9 .5 16.9 .5-12.8 .5 24.8 .5-21.7 .5 24.4 .5-23.5 .5 26.9 .5-27.3 .5 25.1 .5-20.5 .5 31.4 .5-35.8 .5 21.3 .5-22.7 .5 23.5 .5-24.7 .5 22.8 .5-12.8 .5 22.8 .5-39.2 .5 32.9 .5-21.1 .5 21.5 .5-24.3 .5 20.1 .5-22.3 .5 27.4 .5-32.2 .5 21.5 .5-14.8 .5 16.4 .5-17.4 .5 24.6 .5-17.6 .5 27.9 .5-28.9 .5 23.2 .5-21.6 .5 24.8 .5-23.5 .5 21.9 .5-25.1 .5 19.4 .5-20 .5 29 .5-35.8 .5 22.3 .5-27.6 .5 30.3 .5-20.5 .5 25.5 .5-26.7 .5 25.6 .5-18.7 .5 18.8 .5-22.2 .5 17.1 .5-24.5 .5 21.8 .5-19.2 .5 29.4 .5-33.6 .5 17.5 .5-15.8 .5 25.9 .5-36.2 .5 33.5 .5-22.6 .5 19.7 .5-12.6 .5 22.8 .5-30.2 .5 25.7 .5-19.7 .5 22.8 .5-33.3 .5 29.4 .5-24.2 .5 23.3 .5-16 .5 21 .5-18.6 .5 16.5 .5-19.2 .5 25.4 .5-30.9 .5 23.4 .5-22.2 .5 31.5 .5-35.5 .5 22.8 .5-18.5 .5 29 .5-32.8 .5 17.3 .5-18.3 .5 22.8 .5-24.7 .5 17.9 .5-12.3 .5 25.9 .5-33.4 .5 28.6 .5-28.4 .6 17.1 .5-24.9 .5 21.9 .5-27.8 .5 34.4 .5-32.1 .5 27.2 .5-19.2 .5 17.4 .5-17.8 .5 18.9 .5-19.7 .5 20.9 .5-17.9 .5 30.1 .5-29.4 .5 18.2 .5-16 .5 26.8 .5-33.5 .5 26 .5-29.1 .5 23.4 .5-20.4 .5 22.1 .5-29.4 .5 22.4 .5-19.5 .5 33.3 .5-26.9 .5 25.2 .5-30.4 .5 24.5 .5-16.2 .5 24.7 .5-21.2 .5 24.6 .5-28.4 .5 20.3 .5-25.2 .5 26.9 .5-15.8 .5 19 .5-34.6 .5 30.9 .5-16.2 .5 18.5 .5-15.5 .5 20.9 .5-21.2 .5 31 .5-32.4 .5 24.6 .5-21.8 .5 23.6 .5-28.6 .5 29.6 .5-21.7 .5 25 .5-35.8 .5 29.1 .5-32.2 .5 30.8 .5-29.2 .5 27.7 .5-17.3 .5 19.7 .5-18.6 .5 25.7 .5-23 .5 26.8 .5-30.2 .5 23.4 .5-31.9 .5 24.9 .5-19.9 .5 30.2 .5-36.8 .5 32.9 .5-26.4 0 18.3" stroke="#f00"/>
<path d="M1068.6 249.7l.5 23 .5-24.8 .5 23.6 .5-30.1 .5 27.9 .5-19.9 .5 23.1 .5-26.2 .5 21.7 .5-24.2 .5 19.8 .5-13.6 .5 20.1 .5-32 .5 40.2 .5-27 .5 26.1 .5-23.2 .5 25.2 .5-31.9 .5 29.9 .5-28.8 .5 28 .5-23.5 .5 26.5 .5-35.2 .5 22.3 .5-24.7 .5 25.4 .5-26.6 .5 26.4 .5-20.7 .5 22.1 .5-24.3 .5 19.8 .5-21.9 .5 27 .5-16.8 .5 23.9 .5-31.3 .5 24.2 .5-19.9 .5 22.6 .5-23.7 .5 28.9 .5-28.3 .5 21.4 .5-22.5 .5 23.1 .5-21.1 .5 35.6 .5-35.5 .5 24.2 .5-25 .5 23.4 .5-24.8 .5 27.3 .5-33.9 .5 21.9 .5-16.6 .5 22.4 .5-18.6 .5 20.6 .5-18.8 .5 26.1 .5-24 .5 24 .5-36.7 .5 34.7 .5-23.4 .5 18.2 .5-21.4 .5 25 .5-22.1 .5 20.7 .5-20.3 .5 26 .5-32.7 .5 21.9 .6-25.3 .5 30 .5-35.2 .5 32.1 .5-30.8 .5 28.2 .5-42.4 .5 40.3 .5-25.8 .5 20.8 .5-16.9 .5 21.5 .5-32.2 .5 25.3 .5-26.2 .5 30.2 .5-24.2 .5 21.5 .5-23.7 .5 21.2 .5-29.8 .5 27.5 .5-17.5 .5 24.1 .5-15.5 .5 21.3 .5-35 .5 36 .5-32.7 .5 23.2 .5-25.4 .5 21.5 .5-22 .5 35.7 .5-39.6 .5 24.7 .5-25.6 .5 18.9 .5-20.4 .5 23 .5-18.7 .5 29.4 .5-37.9 .5 37.1 .5-29.2 .5 19.7 .5-26 .5 29.9 .5-20.1 .5 19.1 .5-17 .5 20.8 .5-20.3 .5 27.2 .5-24.5 .5 29.2 .5-24.7 .5 23.9 .5-21.3 .5 30.1 .5-23.9 .5 20.9 .5-30.3 .5 23.1 .5-24.8 .5 29.5 .5-25.4 .5 25 .5-18.8 .5 24.2 .5-28.5 .5 30.9 .5-25.9 .5 22.9 .5-22.6 .5 24.6 .5-23.2 .5 20.8 .5-26.6 .5 27 .5-27.9 .5 18 .5-18.2 .5 27.9 .5-29.1 .5 27.2 .5-23.4 .5 33.8 .5-31.9 .5 28.8 .5-32.9 .5 20.7 .5-21.8 .5 24.6 .5-22 .5 27.7 .5-19.4 .5 19.5 .5-34.7 .5 32.2 .5-26.8 .5 30.1 .5-30.4 .5 24 .5-42.4 .5 36.7 .5-30.7 .5 38.5 .5-24.6 .5 25.4 .5-18.2 .5 21.8 .5-24 .5 19 .5-26.8 .5 29.7 .5-36.4 .5 32.9 .5-24.2 .5 24.7 .5-27.5 .5 22.4 .5-31.6 .5 33.7 .5-25.6 .5 23.2 .5-15.3 .5 32.9 .5-34.9 .5 28 .5-15.9 .5 25.6 .5-23.7 .5 24.1 .5-25.1 .5 19.7 .5-29.3 .5 26.3 .5-33 .5 26 .5-18.5 .5 26.4 .5-29.2 .5 31.1 .5-24.5 .5 26.4 .5-31.4 .5 32 .5-28.7 .5 28.5 .5-23 .5 18.3 .5-24.1 .5 22.8 .5-20.4 .5 18.5 .5-18.8 .5 29.3 .6-27.1 .5 22 .5-23.9 .5 24.4 .5-22.8 .5 22.5 .5-27.1 .5 33.9 .5-34.2 .5 26.6 .5-34.5 .5 30 .5-40.3 .5 29.4 .5-14.5 .5 19.3 .5-25.6 .5 37.6 .5-41.6 .5 32 .5-21.6 .5 27.4 .5-32.9 .5 30.3 .5-19.6 .5 27.5 .5-38.1 .5 30.7 .5-37.3 .5 24.9 .5-20.9 .5 25.8 .5-26.4 .5 21.6 .5-17.9 .5 28 .5-34.3 .5 27.7 .5-25.5 .5 22.2 .5-20.5 .5 24.8 .5-28.9 .5 24.7 .5-23.9 .5 23.5 .5-20.7 .5 26.8 .5-31 .5 19.7 .5-18.6 .5 20.1 .5-23.6 .5 27.1 .5-23.6 .5 24.3 .5-20.7 .5 24.6 .5-34.8 .5 30.6 .5-22.9 .5 25.4 .5-30.9 .5 24.3 .5-20.3 .5 34 .5-30.9 .5 40.1 .5-39 .5 19.7 .5-25.8 .5 23.5 .5-23.1 .5 26.3 .5-21.9 .5 23.9 .5-31.4 .5 22.2 .5-18 .5 25.7 .5-24.8 .5 20.7 .5-26.2 .5 36 .5-32.7 .5 21.7 .5-24.1 .5 23.9 .5-23.1 .5 21.9 .5-26.9 .5 23.6 .5-29.1 .5 32.9 .5-24.7 .5 21.7 .5-15.3 .5 21.9 .5-31.6 .5 29.5 .5-32.6 .5 36.9 .5-37.8 .5 31.7 .5-22.8 .5 36.1 .5-42.9 .5 29 .5-24 .5 25.9 .5-31.3 .5 31.4 .5-19.8 .5 22 .5-30.5 .5 41.8 .5-41.9 .5 36.6 .5-34 .5 30.9 .5-39.4 .5 39.4 .5-31 .5 31.8 .5-30 .5 29.8 .5-33.4 .5 25.6 .5-14.8 .5 26 .5-28.6 .5 27 .5-30.2 .5 25.2 .5-26.7 .5 36.1 .5-29.4 .5 21.2 .5-13.9 .5 18.7 .5-24.5 .5 22.4 .5-16.6 .5 25.1 .5-25.8 .5 22.5 .5-26 .5 30.1 .5-35.9 .5 25.9 .5-26.7 .5 30 .5-34.7 .5 25.8 .5-21.7 .5 21.9 .5-28.5 .5 41.7 .5-38.9 .6 25.2 .5-32.3 .5 36.2 .5-30.9 .5 24.6 .5-26.2 .5 22.6 .5-23.5 .5 29.9 .5-24.2 .5 19.5 .5-34.7 .5 32 .5-17.7 .5 31 .5-38.5 .5 27.1 .5-6.4 .5 25.7 .5-30.6 .5 30.3 .5-33.9 .5 24.2 .5-23.5 .5 26.4 .5-20.4 .5 20 .5-22.2 .5 25.5 .5-33.9 .5 25.9 .5-36.7 .5 30.4 .5-14.4 .5 23.7 .5-22.1 .5 19.2 .5-21.4 .5 19.7 .5-15.7 .5 24.1 .5-30.5 .5 29.7 .5-30.4 .5 20.5 .5-25.6 .5 29.8 .5-29.5 .5 23.9 .5-16.7 .5 26.3 .5-19.9 .5 32.3 .5-44.5 .5 30 .5-24.1 .5 25.8 .5-26.2 .5 26.1 .5-32.8 .5 24.8 .5-22 .5 30.7 .5-26 .5 29.3 .5-32.6 .5 24.4 .5-27 .5 36.3 .5-35.1 .5 36.3 .5-26.8 .5 25.2 .5-28.1 .5 33.5 .5-45.1 .5 35.5 .5-17.4 .5 18.5 .5-21.7 .5 26.8 .5-25.7 .5 17.9 .5-23.3 .5 32.2 .5-32.3 .5 20.3 .5-20.9 .5 26 .5-20.1 .5 19.8 .5-21.3 .5 20 .5-32.2 .5 34.2 .5-42.7 .5 34.8 .5-18.9 .5 23.7 .5-26.3 .5 20.7 .5-14.8 .5 20.1 .5-23.9 .5 29.4 .5-24.5 .5 22.6 .5-23.5 .5 21.8 .5-19.3 .5 22.5 .5-23.3 .5 22.9 .5-30.8 .5 30 .5-19.8 .5 19.7 .5-30.2 .5 35 .5-31.9 .5 26.5 .5-21.2 .5 22.5 .5-23 .5 16.9 .5-9.5 .5 18.7 .5-16.7 .5 18.2 .5-37.8 .5 34.1 .5-29.4 .5 20 .5-23.2 .5 32.4 .5-26.4 .5 35.3 .5-29.8 .5 20.7 .5-19.5 .5 27.7 .5-33.1 .5 25.9 .5-21.3 .5 29.2 .5-37.5 .5 31.4 .5-23.2 .5 24.5 .5-27.1 .5 20.5 .5-15.1 .5 20.9 .5-23.3 .5 25.4 .5-27.6 .5 35.3 .5-36.4 .6 23 .5-27.1 .5 26.6 .5-29.6 .5 36.7 .5-29.7 .5 30.6 .5-38.6 .5 25.4 .5-27 .5 31.2 .5-26.5 .5 17.7 .5-21.5 .5 28.1 .5-21.7 .5 22.7 .5-26.1 .5 25.7 .5-23.6 .5 40.3 .5-38.2 .5 31.9 .5-35.1 .5 25.3 .5-26.6 .5 27.3 .5-20.9 .5 22.5 .5-26.9 .5 29 .5-34.7 .5 32.9 .5-23.4 .5 26.6 .5-21.1 .5 23.7 .5-31.6 .5 25.8 .5-35.7 .5 27.6 .5-19.5 .5 23.1 .5-26.6 .5 26.8 .5-24.5 .5 24.1 .5-27.1 .5 19.7 .5-26.9 .5 21.9 .5-37.1 .5 31 .5-25.8 .5 23.6 .5-23.4 .5 24.2 .5-22.7 .5 25 .5-28 .5 21.7 .5-25.7 .5 24.2 .5-27.6 .5 27.8 .5-11.5 .5 24.3 .5-30.2 .5 24 .5-27.6 .5 22.8 .5-27 .5 26.3 .5-19.1 .5 30.3 .5-22.9 .5 31.3 .5-26.5 .5 23.4 .5-21 0 21.6" stroke="#00f"/>
<path d="M1100.3 490.2v-5.2M1100.3 142.3v5.2M1163.8 490.2v-5.2M1163.8 142.3v5.2M1227.3 490.2v-5.2M1227.3 142.3v5.2M1290.8 490.2v-5.2M1290.8 142.3v5.2M1354.3 490.2v-5.2M1354.3 142.3v5.2M1068.6 490.2v-10.3M1068.6 142.3v10.3M1132.1 490.2v-10.3M1132.1 142.3v10.3M1195.6 490.2v-10.3M1195.6 142.3v10.3M1259 490.2v-10.3M1259 142.3v10.3M1322.5 490.2v-10.3M1322.5 142.3v10.3M1386 490.2v-10.3M1386 142.3v10.3M1068.6 461.2h5.2M1386 461.2h-5.2M1068.6 403.2h5.2M1386 403.2h-5.2M1068.6 345.2h5.2M1386 345.2h-5.2M1068.6 287.3h5.2M1386 287.3h-5.2M1068.6 229.3h5.2M1386 229.3h-5.2M1068.6 171.3h5.2M1386 171.3h-5.2M1068.6 490.2h10.3M1386 490.2h-10.3M1068.6 432.2h10.3M1386 432.2h-10.3M1068.6 374.2h10.3M1386 374.2h-10.3M1068.6 316.2h10.3M1386 316.2h-10.3M1068.6 258.3h10.3M1386 258.3h-10.3M1068.6 200.3h10.3M1386 200.3h-10.3M1068.6 142.3h10.3M1386 142.3h-10.3" stroke="#000" stroke-width="1.2"/>
<rect x="1068.6" y="142.3" width="317.4" height="347.9" stroke="#000" stroke-width="1.2"/>
<g font-size="14.3"><text x="1068.6" y="506.2" text-anchor="middle">0</text><text x="1132.1" y="506.2" text-anchor="middle">20000</text><text x="1195.6" y="506.2" text-anchor="middle">40000</text><text x="1259" y="506.2" text-anchor="middle">60000</text><text x="1322.5" y="506.2" text-anchor="middle">80000</text><text x="1386" y="506.2" text-anchor="middle">1e+05</text><text x="1065.1" y="495.8" text-anchor="end">2</text><text x="1065.1" y="437.8" text-anchor="end">2.05</text><text x="1065.1" y="379.9" text-anchor="end">2.1</text><text x="1065.1" y="321.9" text-anchor="end">2.15</text><text x="1065.1" y="263.9" text-anchor="end">2.2</text><text x="1065.1" y="205.9" text-anchor="end">2.25</text><text x="1065.1" y="147.9" text-anchor="end">2.3</text></g>
<rect x="1078.4" y="395.4" width="177.1" height="52.5" fill="#fff" stroke="#000"/>
<g font-size="14.3"><path d="M1084 405.9H1093.8" stroke="#000" stroke-width="1.3"/><text x="1104.7" y="410.6">Wild CD36</text><path d="M1084 421.6H1093.8" stroke="#f00" stroke-width="1.3"/><text x="1104.7" y="426.3">CD36 mut (K164A) + PA</text><path d="M1084 438.7H1093.8" stroke="#00f" stroke-width="1.3"/><text x="1104.7" y="443.4">Wild CD36 + PA</text></g>
<text x="1227.6" y="106.9" font-size="19.5" text-anchor="middle" textLength="157" lengthAdjust="spacingAndGlyphs">Radius of gyration</text>
<text x="1227.6" y="519.3" font-size="14.5" text-anchor="middle">Time (ps)</text>
<text transform="translate(1032 315.7) rotate(-90)" font-size="14.5" text-anchor="middle">Rg (nm)</text>
<path d="M121.2 638.3l.5 22.1 .5-29.1 .5 31.5 .5-26.2 .5 27 .5-30.2 .5 32.2 .5-22.8 .5 18.9 .5-28.9 .5 20.8 .5-20.1 .5 20.2 .5-28.1 .5 27.4 .5-18.7 .5 24.7 .5-21.1 .5 23.3 .5-29.2 .5 22.9 .5-16.2 .5 22.8 .5-18.5 .5 20.5 .6-23.3 .5 28.9 .5-25.4 .5 32.2 .5-35.9 .5 23.3 .5-33.2 .5 32.9 .5-16.7 .5 23 .5-27.4 .5 22.9 .5-26.2 .5 21.8 .5-20.7 .5 23.8 .5-24.5 .5 28.7 .5-33.1 .5 18.8 .5-18.8 .5 24.3 .5-16.6 .5 22.5 .5-32.6 .5 31.6 .5-21.5 .5 25.3 .5-22.3 .5 22.3 .5-14.2 .5 18.5 .5-18.3 .5 22.4 .5-12.7 .5 17.2 .5-17.1 .5 19.1 .5-12.3 .5 26 .5-29.1 .5 20.3 .5-16.5 .5 27.4 .5-28.4 .5 16.9 .5-18.6 .5 26.1 .5-23.6 .5 18.9 .5-29.5 .6 29 .5-12.9 .5 19 .5-28.2 .5 26.2 .5-24.6 .5 25.3 .5-26 .5 30.7 .5-27.6 .5 27.6 .5-23.2 .5 26 .5-20.1 .5 25.1 .5-27.2 .5 26.9 .5-16.5 .5 21.6 .5-22.6 .5 21 .5-24.8 .5 23.5 .5-19.8 .5 24.7 .5-22.3 .5 25.8 .5-36.4 .5 27 .5-14.4 .5 27.6 .5-44.6 .5 32.5 .5-25.9 .5 36 .5-30.2 .5 31.7 .5-24.9 .5 18.6 .5-20.7 .5 26.3 .5-18.5 .5 18.3 .5-24.8 .5 20.2 .5-14.9 .5 20.4 .5-25.7 .5 30.3 .5-32.8 .5 24.3 .6-19.3 .5 17.3 .5-17.5 .5 23.7 .5-22.1 .5 18.7 .5-20.1 .5 17.7 .5-23.7 .5 20.7 .5-17.1 .5 18.8 .5-15.8 .5 18.6 .5-26.9 .5 33.8 .5-30.5 .5 20.9 .5-25.2 .5 27.5 .5-21.1 .5 18.5 .5-22.1 .5 40.6 .5-45.6 .5 34.2 .5-25.1 .5 20.4 .5-38.4 .5 35.5 .5-19.3 .5 21.1 .5-19.3 .5 19.8 .5-18.9 .5 18.3 .5-25 .5 23.4 .5-20.4 .5 24.6 .5-23.4 .5 20.8 .5-30.1 .5 31.3 .5-26.5 .5 24.1 .5-18.9 .5 30 .5-31.8 .5 19.5 .6-19.1 .5 29.9 .5-25 .5 23.3 .5-24.9 .5 19 .5-31 .5 37.5 .5-35.1 .5 33.2 .5-18.3 .5 23.9 .5-27.9 .5 24.8 .5-22.4 .5 20.3 .5-33.8 .5 45.9 .5-28.8 .5 19 .5-24.4 .5 32.3 .5-29.7 .5 21.8 .5-18.9 .5 16.7 .5-22.2 .5 27.2 .5-35 .5 27.5 .5-24.4 .5 29.1 .5-32.2 .5 22.4 .5-26.1 .5 25.2 .5-16.1 .5 19.3 .5-22.3 .5 30.6 .5-29.8 .5 29.1 .5-28.6 .5 26.5 .5-21.2 .5 17.4 .5-21.1 .5 26.8 .5-20 .5 18.2 .5-19.6 .6 21.3 .5-23.6 .5 25.5 .5-25 .5 20.8 .5-25.2 .5 27.9 .5-18.8 .5 33.2 .5-32.3 .5 16.7 .5-22.4 .5 35.2 .5-25.4 .5 23.5 .5-35 .5 26.2 .5-29.7 .5 24.8 .5-21.7 .5 21 .5-17.4 .5 24.3 .5-28.9 .5 25.1 .5-12.7 .5 15.9 .5-23.5 .5 26.9 .5-31.3 .5 27.3 .5-26.7 .5 21.6 .5-17.4 .5 21.1 .5-23.1 .5 36.4 .5-37.7 .5 26.3 .5-19.7 .5 18.3 .5-22.2 .5 22.9 .5-17.7 .5 15.9 .5-20.6 .5 25.4 .5-14 .5 20.3 .5-25 .5 23.2 .6-24.2 .5 28.1 .5-26.6 .5 25.5 .5-30.2 .5 28.2 .5-24.7 .5 29.6 .5-30.5 .5 23.6 .5-21.1 .5 15.9 .5-15.5 .5 20.2 .5-38 .5 30.8 .5-29.4 .5 31.6 .5-19.8 .5 29.3 .5-32.3 .5 31.6 .5-20.4 .5 23.7 .5-26.9 .5 22.1 .5-45.5 .5 40.1 .5-21.2 .5 18.6 .5-25.5 .5 30.6 .5-28.6 .5 29.9 .5-25.5 .5 30.2 .5-28.3 .5 28.4 .5-36.9 .5 28.4 .5-14.3 .5 18.5 .5-19.2 .5 17.6 .5-22.9 .5 25.2 .5-36.4 .5 27.2 .5-20.9 .5 22.2 .5-17.4 .6 27.3 .5-29.5 .5 29.5 .5-34.4 .5 23.6 .5-19.5 .5 17.6 .5-13.1 .5 22 .5-22.7 .5 16.6 .5-22 .5 23.5 .5-16.5 .5 27.2 .5-23.9 .5 21.7 .5-32.4 .5 28.2 .5-26.7 .5 35.8 .5-32.9 .5 16.9 .5-25.1 .5 35.1 .5-23.6 .5 32.7 .5-34.3 .5 28.6 .5-27.3 .5 20.5 .5-17.7 .5 31.7 .5-31.9 .5 24.3 .5-25.6 .5 27.3 .5-30.1 .5 27.1 .5-19.7 .5 22.7 .5-39.6 .5 31.3 .5-28.7 .5 34.3 .5-24.7 .5 18.1 .5-19.9 .5 16.8 .5-19.9 .5 23.4 .6-21.7 .5 20.6 .5-33.9 .5 31.1 .5-21.8 .5 29.1 .5-31.6 .5 24.1 .5-17.8 .5 30.3 .5-42.2 .5 38.2 .5-37.1 .5 30 .5-25.5 .5 22.1 .5-22.3 .5 29.2 .5-24.6 .5 28.1 .5-28.1 .5 22.3 .5-20.7 .5 24.7 .5-25.1 .5 24.5 .5-21.4 .5 17.2 .5-15.1 .5 20.7 .5-21.3 .5 21.2 .5-24 .5 21.6 .5-21.5 .5 21.6 .5-20.2 .5 18.8 .5-18.6 .5 17.8 .5-25.8 .5 26.3 .5-28.7 .5 33.1 .5-23.5 .5 19.1 .5-17.8 .5 24 .5-24 .5 22.5 .5-29.7 .6 27.9 .5-33.2 .5 36.8 .5-31.4 .5 37.1 .5-25.7 .5 24.2 .5-34.6 .5 30.8 .5-22.2 .5 16.4 .5-30 .5 35.8 .5-25.9 .5 25.5 .5-27.6 .5 25.4 .5-21 .5 18.2 .5-25.8 .5 28.4 .5-27.2 .5 27.9 .5-18 .5 25.6 .5-28 .5 17.1 .5-29.6 .5 29.3 .5-16.8 .5 29.6 .5-37.1 .5 25.2 .5-22 .5 28 .5-26.5 .5 36.6 .5-36.5 .5 25.5 .5-25 .5 20.4 .5-31.5 .5 32.4 .5-27.4 .5 22.2 .5-18.7 .5 28.5 .5-31.1 .5 28.5 .5-26.2 .6 23 .5-22 .5 24.9 .5-27.1 .5 20.3 .5-22 .5 22.7 .5-26.5 .5 23.5 .5-15.9 .5 23 .5-30.8 .5 25.2 .5-15.1 .5 17 .5-25.7 .5 35.8 .5-28.2 .5 19.2 .5-20.7 .5 17.5 .5-20.1 .5 30.8 .5-28.1 .5 20.6 .5-28.6 .5 32.2 .5-24.3 .5 24.3 .5-28.1 .5 29.2 .5-28 .5 27.9 .5-21.2 .5 26 .5-26 .5 17.4 .5-25.4 .5 21.9 .5-16.5 .5 20.9 .5-27.8 .5 33.1 .5-31.2 .5 31.2 .5-27.8 .5 18.3 .5-17.9 .5 24 .5-18.6 .5 25.7 .6-29.9 .5 29.5 .5-38.7 .5 33.5 .5-29.3 .5 24.7 .5-17.4 .5 22.2 .5-23.9 .5 22.7 .5-22.9 .5 29.1 .5-24.6 .5 24.8 .5-27.7 .5 24.2 .5-31.1 .5 27.5 .5-29.1 .5 36.7 .5-34.3 .5 27.2 .5-19.8 .5 21.4 .5-20.4 .5 27.7 .5-32.3 .5 20.1 .5-15.8 .5 18.3 .5-20.9 .5 23.3 .5-27.5 .5 19.9 .5-22.6 .5 24 .5-17.5 .5 18 .5-17.3 .5 20.6 .5-21.7 .5 22.9 .5-19.3 .5 26.2 .5-26 .5 20.6 .5-23.3 .5 27.4 .5-20.4 .5 26.5 .5-30.3 .6 23 .5-27.5 .5 20 .5-18.8 .5 26.3 .5-30 .5 24 .5-21.1 .5 29.5 .5-27.9 .5 31.2 .5-31.4 .5 19.1 .5-18.7 .5 17.5 .5-18 .5 18 .5-24.4 .5 25.9 .5-26.4 .5 34.2 .5-33.5 0 23.1" stroke="#000"/>
<path d="M121.2 632.6l.5 24.8 .5-25.7 .5 26.2 .5-22.9 .5 19 .5-19.3 .5 25.7 .5-27 .5 20.9 .5-27.6 .5 23.3 .5-26.1 .5 30.1 .5-24.2 .5 21.9 .5-26.2 .5 36.2 .5-29.3 .5 35.6 .5-29.7 .5 18.8 .5-23.8 .5 37.2 .5-31 .5 18.8 .5-21.3 .5 25.4 .5-27.2 .5 19.3 .5-17.1 .5 16.7 .5-24.9 .5 27.4 .5-27.4 .5 26.6 .5-18.1 .5 17 .5-23.9 .5 21.1 .5-18.1 .5 37.5 .5-35.7 .5 25.2 .5-22.1 .5 18.9 .5-17 .5 18.1 .5-20.8 .5 18.2 .5-23.7 .5 30 .5-22.1 .5 17.1 .5-16.8 .5 24.2 .5-24.2 .5 24.5 .5-38.1 .5 29.7 .5-27.7 .5 30 .5-15.3 .5 21.6 .5-25.2 .5 26 .5-19.8 .5 18.2 .5-33.3 .5 32.3 .5-28.7 .5 36.3 .5-33.7 .5 25.1 .5-25.1 .5 33.4 .5-28.8 .5 25.9 .6-23.8 .5 18.4 .5-15.4 .5 19.6 .5-22.1 .5 17.5 .5-23.4 .5 34.3 .5-36.9 .5 26.6 .5-30.5 .5 33.9 .5-27.8 .5 22 .5-18.6 .5 24 .5-30.4 .5 38.7 .5-32.7 .5 22.6 .5-22.7 .5 37.5 .5-30.1 .5 26.4 .5-27.1 .5 18.1 .5-21.4 .5 21.2 .5-19.2 .5 21.3 .5-20.3 .5 26.5 .5-28.8 .5 31.4 .5-32.3 .5 33.1 .5-24.7 .5 27.2 .5-41.1 .5 25.9 .5-16.2 .5 25.5 .5-28.5 .5 19.5 .5-24.3 .5 33.1 .5-29.2 .5 24.5 .5-20.8 .5 21.6 .5-25.6 .5 28.4 .5-26.9 .5 22.7 .5-24.1 .5 20.7 .5-23.6 .5 24 .5-29.1 .5 30.1 .5-25.2 .5 28.7 .5-28.8 .5 23.2 .5-26 .5 34.5 .5-32.8 .5 26.8 .5-25.1 .5 31.9 .5-30.6 .5 25.6 .5-19.8 .5 20.6 .5-23.4 .5 20.2 .5-24.3 .5 33.9 .5-36.6 .5 26.5 .5-22.6 .5 24.3 .5-22 .5 19.8 .5-17.9 .5 27.4 .5-29.8 .5 31 .5-23.9 .5 22.6 .5-23.5 .5 20.5 .5-26.7 .5 22.4 .5-19.3 .5 21.7 .5-19.4 .5 19.1 .5-25.1 .5 23.8 .5-21 .5 18.8 .5-19.9 .5 26 .5-28.7 .5 21.1 .5-14.2 .5 18.5 .5-23.5 .5 24.8 .5-32.5 .5 26.9 .5-19.1 .5 25.9 .5-22.3 .5 28 .5-32 .5 26.1 .5-28.3 .5 23.2 .5-28.3 .5 34.8 .5-27.6 .5 29.3 .5-31.6 .5 40.9 .5-33.9 .5 24.1 .5-27.2 .5 26.5 .5-28.7 .5 31.7 .5-23.2 .5 30.2 .5-30.7 .5 20.3 .5-21.2 .5 16.2 .5-18.6 .5 20 .5-18 .5 23.9 .5-25.7 .5 20.6 .5-17.1 .5 23.9 .5-20.5 .5 21.7 .5-29.9 .5 31.8 .5-29.6 .5 21.4 .5-18.7 .5 18.6 .5-20.2 .6 18.3 .5-21.9 .5 26.1 .5-32.6 .5 24.1 .5-19.6 .5 23.2 .5-28.8 .5 30.8 .5-27.3 .5 34.4 .5-34 .5 19.9 .5-17.3 .5 18.1 .5-18.1 .5 19.5 .5-27.9 .5 31.7 .5-22.8 .5 20.3 .5-21.5 .5 32.6 .5 4.2 .5 16.9 .5 16.6 .5 20.3 .5 13.6 .5 25.5 .5-9.6 .5 32.8 .5-20.6 .5 26.1 .5-3.2 .5 19.9 .5-13.7 .5 25.9 .5-15.5 .5 25.1 .5-25.8 .5 25 .5-26 .5 31.4 .5-27.1 .5 22.5 .5-23.9 .5 21.6 .5-17.6 .5 23.2 .5-22.3 .5 20.1 .5-17.4 .5 15.3 .5-21.1 .5 23 .5-31.6 .5 36 .5-16.4 .5 22.5 .5-23.4 .5 24 .5-20.2 .5 23.4 .5-34.9 .5 29.5 .5-11.5 .5 17 .5-28 .5 27.1 .5-25.7 .5 28.2 .5-15.7 .5 17.1 .5-16.8 .5 23.7 .5-17.5 .5 33.9 .5-34.5 .5 27.2 .5-23.5 .5 22.4 .5-18.2 .5 16.4 .5-26.7 .5 27.8 .5-22.1 .5 25.7 .5-29.7 .5 29.3 .5-27.1 .5 26.6 .5-16.6 .5 23 .5-29.3 .5 32.5 .5-34 .5 34.2 .5-28.9 .5 29.2 .5-33.8 .5 32 .5-31.1 .5 31.4 .5-37.2 .5 33.2 .5-23.6 .5 21.4 .5-21.6 .5 21.4 .5-21.8 .5 15.7 .5-17.8 .5 19.8 .5-23.1 .5 31.1 .5-25.9 .5 24.2 .5-31.7 .5 33.4 .5-35.6 .5 34.2 .5-32.6 .5 21.9 .5-21.5 .5 27.6 .5-25.6 .5 18.8 .5-19.2 .5 28 .5-22.6 .5 21.9 .5-22.8 .5 23.2 .5-22.1 .5 25.4 .5-24.4 .5 24 .5-22.8 .5 20.1 .5-21.7 .5 27.6 .5-19.1 .5 20.1 .5-33 .5 38.2 .5-32 .5 25.9 .5-24.9 .5 31.3 .5-25.2 .5 18.2 .5-21.2 .5 25.8 .5-31.7 .5 26.5 .6-18.8 .5 19.9 .5-26.2 .5 29.3 .5-25.8 .5 20.9 .5-30.6 .5 22.2 .5-21.5 .5 27.5 .5-23.3 .5 23.6 .5-20.6 .5 26.5 .5-24.7 .5 18.4 .5-26.2 .5 28 .5-26.8 .5 35.2 .5-32 .5 19.9 .5-17.2 .5 22.6 .5-33.3 .5 28.1 .5-22.1 .5 27.9 .5-26.6 .5 23.9 .5-19.7 .5 21.4 .5-25.2 .5 24.4 .5-24 .5 17.6 .5-21.3 .5 29.7 .5-27 .5 23.5 .5-16.4 .5 22.4 .5-24.5 .5 17.8 .5-23.9 .5 32.7 .5-28 .5 21.2 .5-18.4 .5 26.7 .5-29 .5 17.9 .5-18.4 .5 21.5 .5-18.4 .5 28.3 .5-33.7 .5 19.6 .5-14.3 .5 14.8 .5-24.9 .5 27.1 .5-23.5 .5 21.3 .5-13.1 .5 19.5 .5-29.4 .5 29.6 .5-26.3 .5 15.5 .5-20.3 .5 24.3 .5-30.1 .5 32.4 .5-29.2 .5 26.9 .5-23.8 .5 18.1 .5-23.1 .5 30.8 .5-30.8 .5 32.9 .5-30.5 .5 30.6 .5-30.8 .5 32.9 .5-37.6 .5 33.8 .5-24.5 .5 24.1 .5-24.8 .5 17.7 .5-19.3 .5 34.2 .5-31 .5 30.5 .5-39.3 .5 34.2 .5-29.9 .5 33.2 .5-29.4 .5 23.3 .5-22 .5 22.3 .5-20.6 .5 18.3 .5-19.1 .5 31.3 .5-28.6 .5 21.5 .5-17 .5 30.9 .5-33.8 .5 19 .5-25.8 .5 22.7 .5-20 .5 25.9 .5-32.3 .5 40.1 .5-34.1 .5 27.2 .5-18.6 .5 17.2 .5-22.1 .5 22.9 .5-22.3 .5 24.5 .5-23.3 .5 20.7 .5-28.7 .5 28.3 .5-27.9 .5 34.2 .5-26.3 .5 31.3 .5-33.8 .5 30.6 .5-25.1 .5 20.1 .5-16.2 .5 24 .5-39.9 .5 32.5 .5-23.2 .5 16.3 .5-21.5 .5 22 .5-22.8 .5 24.4 .5-26.5 .5 20.6 .5-27.8 .5 25.3 .5-17.2 .6 32.2 .5-27.7 .5 18.2 .5-20.4 .5 20.9 .5-21.6 .5 31 .5-29.5 .5 24.5 .5-27.3 .5 28.1 .5-19 .5 30.5 .5-29.5 .5 20 .5-30.2 .5 31.5 .5-23.1 .5 25.1 .5-26.3 .5 27.5 .5-35.6 .5 31 .5-19.4 .5 26.2 .5-28.1 .5 15.5 .5-15.6 .5 17.7 .5-24.1 .5 21.3 .5-28.4 .5 27.2 .5-26 .5 25.4 .5-25.4 .5 36.3 .5-33.4 .5 22.4 .5-23.6 .5 18.6 .5-22.9 .5 26.3 .5-25.6 .5 19 .5-20.7 .5 33.9 .5-32.9 .5 22.3 .5-23 .5 21.1 .5-18 .5 30.6 .5-30.7 .5 22 .5-26.1 .5 20.8 .5-18.2 .5 19.6 .5-16 .5 16.1 .5-30.3 .5 27 .5-22.5 .5 24.4 .5-23.2 .5 24.9 .5-18.9 .5 18 .5-24.8 .5 22 .5-19.8 .5 24 .5-24.7 .5 20.5 .5-19.7 .5 27.8 .5-32.5 0 32.1" stroke="#00f"/>
<path d="M121.2 629.3l.5 21.4 .5-14.4 .5 23.5 .5-34.1 .5 29 .5-24.3 .5 29.1 .5-30.8 .5 27.4 .5-24.9 .5 34.1 .5-27.2 .5 22.2 .5-22.6 .5 26.9 .5-28.1 .5 15.8 .5-14.7 .5 25 .5-34 .5 27.9 .5-27.1 .5 27.2 .5-27.4 .5 26.4 .5-22.3 .5 24.3 .5-41.2 .5 31.7 .5-16.3 .5 16.7 .5-22 .5 24.7 .5-30 .5 33.2 .5-34.5 .5 27.4 .5-20.6 .5 25 .5-26.8 .5 21.4 .5-23.4 .5 32.5 .5-29.6 .5 25.2 .5-23.3 .5 20.7 .5-21.1 .5 23.6 .5-21.8 .5 19.4 .5-23.4 .5 28.8 .5-28.2 .5 22.5 .5-24.4 .5 22.2 .5-19.5 .5 26 .5-30 .5 34.3 .5-25.8 .5 37 .5-45.7 .5 25.1 .5-22 .5 31.5 .5-32.3 .5 33 .5-30.5 .5 38.4 .5-31.6 .5 20.8 .5-16.5 .5 26 .5-35.7 .5 45.3 .6-42.6 .5 31.7 .5-22.3 .5 25 .5-26.7 .5 22.5 .5-29 .5 27.8 .5-19.7 .5 33.3 .5-29 .5 17.9 .5-16.7 .5 20.4 .5-27 .5 28.9 .5-28.5 .5 25.2 .5-25.8 .5 36.6 .5-37.4 .5 23.7 .5-15.6 .5 20.9 .5-21.7 .5 17.3 .5-13.3 .5 21.5 .5-22.5 .5 18 .5-20.9 .5 29.3 .5-24.9 .5 17.4 .5-25.2 .5 31.7 .5-23.7 .5 20.7 .5-28.5 .5 37.2 .5-31.7 .5 28.4 .5-28.1 .5 21.5 .5-22.7 .5 20.5 .5-31.4 .5 29.5 .5-19.2 .5 23.8 .5-26.7 .5 31.3 .5-26.6 .5 23.3 .5-29.9 .5 19.8 .5-20 .5 30 .5-26 .5 27.1 .5-27.1 .5 23.7 .5-21.1 .5 22.6 .5-26.9 .5 28.3 .5-23.8 .5 24.2 .5-31 .5 31.6 .5-23.7 .5 33.5 .5-39.7 .5 26.7 .5-16.4 .5 15.9 .5-14.2 .5 22.4 .5-28.5 .5 42.8 .5-39.2 .5 27.1 .5-24.4 .5 29.5 .5-34.2 .5 24.6 .5-21.8 .5 18.6 .5-21 .5 21.8 .5-20.7 .5 25.1 .5-27.8 .5 23.1 .5-20.2 .5 23.4 .5-28.7 .5 23.7 .5-16.1 .5 15.9 .5-19.1 .5 25.7 .5-26.2 .5 29.9 .5-27.8 .5 23.2 .5-19.4 .5 20.4 .5-23.6 .5 20.7 .5-20.2 .5 20.5 .5-20.4 .5 33.5 .5-36.6 .5 22 .5-24.1 .5 21.2 .5-17.4 .5 18.2 .5-18.4 .5 23.8 .5-18 .5 17.9 .5-18.1 .5 20.5 .5-30.3 .5 41.2 .5-40 .5 26.9 .5-22.7 .5 20.1 .5-18.5 .5 17.8 .5-15.9 .5 18 .5-15.7 .5 16.3 .5-18.5 .5 19.3 .5-23.3 .5 19.2 .5-25.3 .5 30.4 .5-39.4 .5 36.3 .5-22.9 .5 17.6 .5-18 .5 31.1 .5-28.2 .5 21.9 .5-19 .5 24.8 .5-22.9 .6 29.5 .5-31.8 .5 21.3 .5-26.6 .5 20.8 .5-15.9 .5 18.6 .5-17.7 .5 22.6 .5-40.1 .5 34.6 .5-18 .5 21.6 .5-19.9 .5 20.6 .5-37.9 .5 38.8 .5-26.9 .5 22.3 .5-21 .5 17 .5-17 .5 24.9 .5-26.3 .5 18.8 .5-16.4 .5 18.1 .5-19.4 .5 36.4 .5-32.3 .5 26.5 .5-19.9 .5 21.7 .5-36 .5 29.7 .5-30.6 .5 30.1 .5-21.6 .5 26.7 .5-25.6 .5 18.4 .5-20.2 .5 17.5 .5-18.3 .5 25.4 .5-28.4 .5 27.9 .5-34.4 .5 31 .5-36.6 .5 27.3 .5-21.9 .5 29.3 .5-32.2 .5 32 .5-32.3 .5 28.5 .5-21.6 .5 28.3 .5-23.1 .5 16.4 .5-20.4 .5 28.4 .5-22.2 .5 19.5 .5-27.6 .5 28.9 .5-21.3 .5 25.7 .5-26.1 .5 28.5 .5-25.2 .5 16.1 .5-18.3 .5 24.9 .5-27 .5 22.6 .5-22.1 .5 23.5 .5-33.8 .5 35 .5-27.9 .5 20.6 .5-26.1 .5 33.3 .5-31.1 .5 26.9 .5-24.7 .5 17.8 .5-24.6 .5 22.8 .5-10.7 .5 22.6 .5-31 .5 29.9 .5-32 .5 29.9 .5-19.8 .5 18.5 .5-29.9 .5 37.2 .5-38.3 .5 37.3 .5-30.1 .5 32.3 .5-41 .5 25.9 .5-14.6 .5 17.1 .5-33.5 .5 35.5 .5-33.1 .5 35.5 .5-27.1 .5 20.4 .5-16.8 .5 17.4 .5-15.8 .5 19.8 .5-23.6 .5 27.5 .5-30.8 .5 28 .5-23.4 .5 23.1 .5-23 .5 21.3 .5-22.1 .5 23.9 .5-19.1 .5 21.2 .5-40.6 .5 36.7 .5-37.1 .5 37.1 .5-30.5 .5 24.2 .5-25.9 .5 19.7 .5-17.3 .5 23 .5-15.3 .5 18.6 .5-26.8 .5 30.6 .5-19.8 .5 20.1 .5-7.4 .5 20.3 .5-25 .5 31.6 .5-28.2 .5 38.6 .5-21.3 .5 25.3 .6-28 .5 31.9 .5-22 .5 20.8 .5-10.9 .5 16 .5-9.1 .5 21.4 .5-21.7 .5 31.9 .5-38 .5 21.7 .5-19.6 .5 19 .5-28.7 .5 31.8 .5-26.3 .5 27 .5-32.5 .5 30 .5-22.8 .5 21.7 .5-22.6 .5 30.5 .5-26.2 .5 27.9 .5-30 .5 21.3 .5-22.2 .5 25.4 .5-35.5 .5 27.1 .5-17.7 .5 15.1 .5-22 .5 27.5 .5-20.1 .5 29.4 .5-44.7 .5 35.5 .5-16.9 .5 18.9 .5-16.3 .5 25.1 .5-33.3 .5 25.4 .5-18.4 .5 16.4 .5 31.3 .5 20.7 .5-5.8 .5 34.9 .5-23.7 .5 22.6 .5-30.6 .5 34.2 .5-28.9 .5 26.7 .5-24.3 .5 21.2 .5-23 .5 22.3 .5-24.9 .5 24.7 .5-12.2 .5 18.8 .5-25.5 .5 29.2 .5-28.8 .5 29.5 .5-36.8 .5 31 .5-23.5 .5 19.5 .5-25.9 .5 21.6 .5-22.6 .5 28.9 .5-22.3 .5 18.4 .5-28.8 .5 34.8 .5-36.8 .5 35.1 .5-22.3 .5 16.2 .5-15.5 .5 26.9 .5-29.8 .5 23.3 .5-35.1 .5 31.1 .5-19.6 .5 33 .5-35.6 .5 28.8 .5-26.7 .5 19.1 .5-25.1 .5 23.4 .5-34 .5 31.5 .5-19.6 .5 21.7 .5-31.7 .5 33.7 .5-25.1 .5 25.6 .5-19.1 .5 27.4 .5-26.9 .5 15.3 .5-18.9 .5 28.5 .5-21 .5 26.1 .5-34.4 .5 24.9 .5-29.9 .5 36.6 .5-26.5 .5 24.4 .5-33.2 .5 38.4 .5-33.2 .5 19.9 .5-29.3 .5 32.5 .5-19.5 .5 18.2 .5-27.7 .5 24.8 .5-17.6 .5 18.4 .5-19 .5 25.1 .5-22.8 .5 24.8 .5-32.3 .5 39.9 .5-35.6 .5 25.2 .5-31.8 .5 24.2 .5-30 .5 31.7 .5-21.7 .5 26.4 .5-29.4 .5 20.6 .5-23.7 .5 28.1 .5-34.6 .5 33.5 .5-28.4 .6 21.5 .5-17.7 .5 25.1 .5-24.7 .5 29.7 .5-30.1 .5 21.9 .5-18.1 .5 22.3 .5-20.4 .5 26.4 .5-23.5 .5 18.3 .5-15.9 .5 24.5 .5-27.7 .5 18 .5-15.4 .5 16.1 .5-19.6 .5 19.4 .5-23.6 .5 27.7 .5-26.3 .5 23.4 .5-23 .5 23.2 .5-26.4 .5 21.8 .5-21 .5 22.4 .5-22.8 .5 19 .5-15.6 .5 15.3 .5-33.5 .5 29.2 .5-23.3 .5 24.5 .5-22.9 .5 20.6 .5-31.1 .5 37.1 .5-29.4 .5 20.8 .5-17.2 .5 21.4 .5-23.7 .5 24.5 .5-22.1 .5 22.5 .5-18.8 .5 18.3 .5-26.7 .5 30.1 .5-35.1 .5 32.9 .5-21.8 .5 19.9 .5-11.7 .5 17.2 .5-23.4 .5 21.7 .5-22.6 .5 32.3 .5-37.4 .5 28.5 .5-37.5 .5 45.5 .5-27.3 .5 21.2 .5-24.1 .5 29.4 .5-22.8 .5 28 .5-25 .5 17.7 .5-20.8 0 28.6" stroke="#f00"/>
<path d="M152.2 921.2v-5M152.2 556.6v5M214.3 921.2v-5M214.3 556.6v5M276.4 921.2v-5M276.4 556.6v5M338.5 921.2v-5M338.5 556.6v5M400.6 921.2v-5M400.6 556.6v5M121.2 921.2v-10M121.2 556.6v10M183.3 921.2v-10M183.3 556.6v10M245.4 921.2v-10M245.4 556.6v10M307.4 921.2v-10M307.4 556.6v10M369.5 921.2v-10M369.5 556.6v10M431.6 921.2v-10M431.6 556.6v10M121.2 890.8h5M431.6 890.8h-5M121.2 830.1h5M431.6 830.1h-5M121.2 769.3h5M431.6 769.3h-5M121.2 708.5h5M431.6 708.5h-5M121.2 647.8h5M431.6 647.8h-5M121.2 587h5M431.6 587h-5M121.2 921.2h10M431.6 921.2h-10M121.2 860.4h10M431.6 860.4h-10M121.2 799.7h10M431.6 799.7h-10M121.2 738.9h10M431.6 738.9h-10M121.2 678.1h10M431.6 678.1h-10M121.2 617.4h10M431.6 617.4h-10M121.2 556.6h10M431.6 556.6h-10" stroke="#000" stroke-width="1.25"/>
<rect x="121.2" y="556.6" width="310.4" height="364.6" stroke="#000" stroke-width="1.25"/>
<g font-size="14.5"><text x="121.2" y="937.4" text-anchor="middle">0</text><text x="183.3" y="937.4" text-anchor="middle">20000</text><text x="245.4" y="937.4" text-anchor="middle">40000</text><text x="307.4" y="937.4" text-anchor="middle">60000</text><text x="369.5" y="937.4" text-anchor="middle">80000</text><text x="431.6" y="937.4" text-anchor="middle">1e+05</text><text x="117.7" y="926.9" text-anchor="end">80</text><text x="117.7" y="866.1" text-anchor="end">100</text><text x="117.7" y="805.4" text-anchor="end">120</text><text x="117.7" y="744.6" text-anchor="end">140</text><text x="117.7" y="683.8" text-anchor="end">160</text><text x="117.7" y="623.1" text-anchor="end">180</text><text x="117.7" y="562.3" text-anchor="end">200</text></g>
<rect x="245.3" y="566" width="182.4" height="55.3" fill="#fff" stroke="#000"/>
<g font-size="14.8"><path d="M250.4 577.7H261" stroke="#000" stroke-width="1.3"/><text x="271.4" y="582.6">Wild CD36</text><path d="M250.4 593.6H261" stroke="#00f" stroke-width="1.3"/><text x="271.4" y="598.5">Wild CD36 + PA</text><path d="M250.4 609.2H261" stroke="#f00" stroke-width="1.3"/><text x="271.4" y="614.1">CD36 mut (K164A) + PA</text></g>
<text x="277.5" y="525" font-size="19.5" text-anchor="middle" textLength="238" lengthAdjust="spacingAndGlyphs">Solvent Accessible Surface</text>
<text x="277.5" y="950.6" font-size="15" text-anchor="middle">Time (ps)</text>
<text transform="translate(87 738.5) rotate(-90)" font-size="15" text-anchor="middle">Area (nm<tspan dy="-5" font-size="10.5">2</tspan><tspan dy="5">)</tspan></text>
<path d="M607.8 829.8l.5 89.1 .5-81.9 .5 67.3 .5-64.1 .5 62 .5-51.4 .5 75 .5-73.3 .5 50.9 .5-52.2 .5 50 .5-51 .5 52.6 .5-72.3 .5 71.5 .5-51.1 .5 62.3 .5-60.8 .5 47.5 .5-51.1 .5 53.3 .5-44.7 .5 62.6 .5-62.4 .5 73.6 .5-74.6 .5 59.8 .5-62.5 .5 59.8 .5-61.7 .5 59.2 .5-74.9 .5 72.1 .5-58.7 .5 58.6 .5-65.6 .5 58.7 .5-43.7 .5 57.4 .5-75.9 .5 74 .5-60.3 .5 66.2 .5-66.8 .5 69.4 .5-68.5 .5 60.7 .5-57.2 .5 61 .5-60.7 .5 63.3 .5-70 .5 68.8 .5-60.1 .5 45.2 .5-51.1 .5 60.3 .5-67.1 .5 64.6 .5-55.4 .5 46 .5-60.9 .5 66.9 .5-56.7 .5 50.9 .5-47.8 .5 48.2 .5-55.2 .5 75.8 .5-82.1 .5 59.1 .5-49.3 .5 59.4 .5-64.6 .5 56.9 .5-54.9 .5 67.6 .5-62.7 .5 47.5 .5-55.3 .5 68.5 .5-70.6 .5 72.1 .5-58.6 .5 61.4 .5-61.3 .5 69.6 .5-72.3 .5 53 .5-50.2 .5 56.3 .5-64.1 .5 63.1 .5-55.5 .5 48.1 .5-57.6 .5 69.8 .5-76.8 .5 70.1 .5-69.8 .5 60.9 .5-49.8 .5 50.7 .5-69.3 .5 74.5 .5-64.2 .5 67.1 .5-59.1 .5 73.9 .5-94.9 .5 84.3 .5-57.9 .5 54 .5-62.7 .5 60.1 .5-55.1 .5 68.5 .5-83.4 .5 65.6 .5-44.4 .5 65.7 .5-72.3 .5 63.4 .5-66.9 .5 62.8 .5-52.3 .5 48.8 .5-70 .5 83.8 .5-70.8 .5 61.6 .5-56.3 .5 45.3 .5-67.3 .5 68.1 .5-49.2 .5 49.5 .5-62.5 .5 64.6 .5-58.5 .5 53 .5-51.7 .5 56.9 .5-53.3 .5 50.8 .5-57.1 .5 59.9 .5-70.6 .5 74.9 .5-65.1 .5 65 .5-57.1 .5 46.7 .5-70.8 .5 80.7 .5-54 .5 56.8 .5-62.8 .5 67.6 .5-67 .5 58.4 .5-63.4 .5 63.8 .5-63.8 .5 53.8 .5-62.3 .5 72.4 .5-53.8 .5 54.8 .5-75.6 .5 68.1 .5-66.2 .5 74.9 .5-54.1 .5 44.1 .5-44 .5 53.4 .5-58.5 .5 61.9 .5-60.7 .5 65.8 .5-70.5 .5 61.1 .5-68.2 .5 67.4 .5-53.8 .5 45.3 .5-62 .5 74.3 .5-72.4 .5 62.5 .5-63.3 .5 71.3 .5-66.5 .5 78.8 .5-69.2 .5 51.6 .5-54.5 .5 65 .5-69.8 .5 61.2 .5-73.3 .5 82.7 .5-68.7 .5 77.6 .5-88.6 .5 75.6 .5-64 .5 55.4 .5-57.9 .5 70.5 .5-70.4 .5 58.4 .5-61.9 .5 63.9 .5-63.1 .5 67.8 .5-60.6 .5 57.9 .5-48.4 .5 64.4 .5-70.7 .5 56.4 .5-50.2 .5 57.7 .5-56.9 .5 46.8 .5-47.8 .5 46.4 .5-47.2 .5 52.3 .5-54.9 .5 51.6 .5-52 .5 53.7 .5-48.4 .5 49.3 .5-52.2 .5 55.1 .5-57.1 .5 50.3 .5-58.2 .5 64 .5-58.1 .5 54.8 .5-70.3 .5 63.6 .5-42.1 .5 68.7 .5-73.6 .5 50.2 .5-56.1 .5 69.2 .5-68.7 .5 52.5 .5-51.9 .5 69.1 .5-66.7 .5 48.6 .5-55.8 .5 57.9 .5-60.8 .5 70.2 .5-59.5 .5 54.9 .5-54.2 .5 66.9 .5-70 .5 66.9 .5-77.1 .5 63.7 .5-51.3 .5 60.1 .5-81.7 .5 74 .5-48.5 .5 62.4 .5-82.9 .5 63.4 .5-55.7 .5 61.6 .5-59.5 .5 56.1 .5-47.5 .5 59.5 .5-62 .5 54.9 .5-55.5 .5 51.7 .5-43.6 .5 61.1 .5-78.8 .5 83 .5-68.9 .5 51.8 .5-52.7 .5 52.3 .5-71.1 .5 78.2 .5-67.3 .5 60.4 .5-62.2 .5 69.2 .5-64.1 .5 52.5 .5-58.2 .5 61.2 .5-60.6 .5 63.5 .5-62 .5 64.7 .5-61 .5 48.3 .5-49.8 .5 54.6 .5-46.8 .5 47.4 .5-51.9 .5 50.2 .5-49.7 .5 61 .5-74.8 .5 75.3 .5-65.3 .5 56.3 .5-74.1 .5 81.1 .5-58.9 .5 61.4 .5-79 .5 76.5 .5-55.4 .5 72.2 .5-78.2 .5 58.6 .5-67.6 .5 73.4 .5-70.7 .5 56.8 .5-46.1 .5 44.9 .5-43.6 .5 48.5 .5-65 .5 63.2 .5-50.7 .5 53.6 .6-57.2 .5 53.6 .5-67.5 .5 67.2 .5-50.1 .5 54.5 .5-46.8 .5 45.1 .5-56.6 .5 66.1 .5-59.9 .5 50.6 .5-61.7 .5 64 .5-71 .5 68.5 .5-51.2 .5 45.8 .5-53.7 .5 51.6 .5-48.9 .5 66.4 .5-75.6 .5 66.1 .5-53 .5 59.8 .5-75.8 .5 75.3 .5-85.6 .5 70.3 .5-67.4 .5 79.1 .5-72.7 .5 68.7 .5-67 .5 71.5 .5-58.1 .5 60.4 .5-70.9 .5 67.8 .5-61 .5 66.2 .5-63.6 .5 60 .5-53.8 .5 50.1 .5-58 .5 53.5 .5-45.3 .5 71.8 .5-78.7 .5 69.1 .5-82 .5 75.5 .5-67.5 .5 71.3 .5-66.4 .5 54 .5-54.3 .5 52.5 .5-45 .5 44.4 .5-42.2 .5 61.1 .5-62.7 .5 63.3 .5-71.5 .5 53.3 .5-51.9 .5 53.1 .5-47.1 .5 51.3 .5-56.3 .5 68.8 .5-62.9 .5 57.2 .5-63.4 .5 51.5 .5-54.9 .5 57.4 .5-62.7 .5 86.9 .5-73.4 .5 63.2 .5-66 .5 58.9 .5-61 .5 60.5 .5-67.6 .5 68.1 .5-63.9 .5 59.8 .5-51.3 .5 49.6 .5-50.1 .5 68.8 .5-87.7 .5 64.3 .5-46.8 .5 50.7 .5-53 .5 60 .5-59.7 .5 62.1 .5-86.8 .5 98.3 .5-93.6 .5 72.7 .5-47 .5 54.3 .5-65.3 .5 68.8 .5-68 .5 56.3 .5-59.4 .5 71.5 .5-68.7 .5 67.9 .5-67.7 .5 66 .5-64.4 .5 52 .5-43.6 .5 53.6 .5-71.3 .5 68 .5-52.5 .5 52.1 .5-54.9 .5 51.2 .5-49.6 .5 51.8 .5-48.8 .5 55.6 .5-55.1 .5 62.2 .5-64 .5 56 .5-50.2 .5 55.7 .5-58 .5 73.5 .5-73.2 .5 74.5 .5-90.5 .5 69 .5-70.9 .5 60.4 .5-51.3 .5 63.5 .5-61.3 .5 50.7 .5-57.4 .5 58 .5-50.3 .5 51.7 .5-58.3 .5 61.2 .5-74.2 .5 81 .5-75 .5 70.6 .5-72.7 .5 91.9 .5-78.6 .5 72.7 .5-72.5 .5 70.9 .5-69.3 .5 47.2 .5-46.4 .5 55.5 .5-62.2 .5 81.6 .5-81.3 .5 66.3 .5-58.3 .5 59 .5-64.8 .5 56.1 .5-73.1 .5 76.1 .5-68.9 .5 66.7 .5-51.5 .5 64 .5-68.6 .5 52.6 .5-55.4 .5 48 .5-45 .5 60.5 .5-73.7 .5 74 .5-72.6 .5 59.4 .5-49.5 .5 49.9 .5-52.9 .5 53.5 .5-60.9 .5 67.4 .5-72.2 .5 68.6 .5-44.3 .5 42.7 .5-50.2 .5 57.8 .5-68.1 .5 65.8 .5-50 .5 59.5 .5-65.9 .5 55.8 .5-60.7 .5 65.4 .5-55.8 .5 69.7 .5-66 .5 54.1 .5-71.1 .5 63.7 .5-49.6 0 49.3" stroke="#000"/>
<path d="M607.8 885.5l.5 59.3 .5-48.3 .5 57.9 .5-60.2 .5 48.7 .5-42.3 .5 61.4 .5-69.8 .5 56.3 .5-51.3 .5 70.3 .5-84.2 .5 53 .5-56.4 .5 58 .5-54.5 .5 57.7 .5-60.7 .5 66.9 .5-53.6 .5 58.7 .5-59 .5 42.1 .5-43.8 .5 46.7 .5-39.5 .5 53 .5-66.6 .5 61.7 .5-53.4 .5 41.8 .5-41.9 .5 57.5 .5-57.1 .5 61.1 .5-64.8 .6 44.7 .5-43.1 .5 57.5 .5-67.8 .5 48.3 .5-40 .5 53.2 .5-65.2 .5 49.1 .5-44.8 .5 51.4 .5-55 .5 61.2 .5-45.7 .5 45.1 .5-52.5 .5 63.7 .5-61.1 .5 55.3 .5-53.5 .5 47.9 .5-45.2 .5 50 .5-48.4 .5 50.7 .5-59.5 .5 66.6 .5-53.8 .5 38.3 .5-42.9 .5 48.8 .5-69.6 .5 67.4 .5-56.2 .5 62.8 .5-62.2 .5 53.7 .5-47.2 .5 57.1 .5-51.5 .5 50.6 .5-54.8 .5 50.9 .5-46.7 .5 53.4 .5-54.1 .5 42.2 .5-44.4 .5 40.2 .5-41.7 .5 39.3 .5-40.5 .5 51.7 .5-64.2 .5 50.7 .5-52.5 .5 57.5 .5-48.7 .5 48.8 .5-55.6 .5 53.3 .5-50 .5 59.8 .5-56.2 .5 48.1 .5-50.7 .5 68.7 .5-84.2 .5 61.9 .5-48.8 .5 66.9 .5-64.7 .5 60.1 .5-46.5 .6 53.2 .5-67.2 .5 49.5 .5-46.1 .5 46.6 .5-53 .5 66.1 .5-50.9 .5 67.3 .5-73.2 .5 52.4 .5-46.6 .5 41.3 .5-56.5 .5 74.3 .5-75 .5 59.3 .5-39.9 .5 41.5 .5-41.6 .5 50.1 .5-61.4 .5 67.2 .5-59.5 .5 49.5 .5-47.6 .5 41.7 .5-41.2 .5 41 .5-48.7 .5 54.9 .5-43.8 .5 49 .5-62.4 .5 62.9 .5-60.9 .5 58.3 .5-55.9 .5 43.9 .5-44.3 .5 48 .5-51.6 .5 75.7 .5-67.6 .5 46.2 .5-64.6 .5 65.5 .5-66.8 .5 77.7 .5-59.2 .5 50.1 .5-47.7 .5 44 .5-47.2 .5 50.7 .5-54.7 .5 62.2 .5-46.9 .5 45.2 .5-69.7 .5 72.6 .5-63.7 .5 47.9 .5-48.6 .5 51.3 .5-54.2 .5 67.2 .5-58 .5 58.9 .5-60.7 .5 52.7 .5-51.9 .5 50.5 .6-56 .5 49 .5-59.5 .5 60.6 .5-44 .5 45.2 .5-47 .5 70.8 .5-68.3 .5 49.4 .5-48.3 .5 60.7 .5-59.9 .5 49.5 .5-49 .5 48.6 .5-60.1 .5 51.1 .5-47 .5 45.4 .5-47.4 .5 50.9 .5-49.4 .5 43.7 .5-54.7 .5 53.8 .5-52.1 .5 66.2 .5-57.2 .5 51.1 .5-47.7 .5 56.1 .5-45 .5 46.7 .5-51 .5 46.8 .5-44.3 .5 39.9 .5-47.2 .5 55.1 .5-49.9 .5 46.6 .5-60.4 .5 58.3 .5-50.2 .5 47.1 .5-44.7 .5 46.9 .5-54.7 .5 67.1 .5-63.6 .5 55.9 .5-66.8 .5 72.6 .5-57.3 .5 45.4 .5-61.9 .5 57.5 .5-50 .5 43.2 .5-45.6 .5 64.3 .5-77.8 .5 71 .5-58.4 .5 48.8 .5-46.8 .5 48 .5-44.5 .5 41.1 .5-57.7 .5 68 .5-53.8 .5 48.7 .6-52.7 .5 55 .5-65.8 .5 56.8 .5-61 .5 72.1 .5-53.6 .5 54.1 .5-67.6 .5 60.2 .5-47.3 .5 51.7 .5-52.6 .5 40.3 .5-43.9 .5 56.5 .5-50.6 .5 43.3 .5-49.3 .5 60.4 .5-50.1 .5 39.5 .5-50.9 .5 49.7 .5-61.3 .5 56.1 .5-45.5 .5 46.7 .5-47.2 .5 49.9 .5-40.7 .5 51.9 .5-63 .5 68.8 .5-63.3 .5 45.7 .5-42.7 .5 57.6 .5-58.4 .5 66.2 .5-64.8 .5 64.8 .5-77.1 .5 56.6 .5-48.8 .5 56.6 .5-65.4 .5 68.5 .5-56.6 .5 44.8 .5-48.9 .5 64.4 .5-67.1 .5 56.2 .5-49 .5 42.3 .5-38.8 .5 41.2 .5-47 .5 57.6 .5-50.2 .5 57 .5-57.7 .5 50 .5-57.1 .5 52.1 .5-49.5 .5 54.7 .5-60.6 .5 57.7 .5-68.6 .5 74 .5-60.5 .6 57.1 .5-56.3 .5 41.1 .5-43.5 .5 47.3 .5-40.4 .5 40.5 .5-39.6 .5 60 .5-59.6 .5 43.3 .5-48.5 .5 57.9 .5-61.6 .5 50.6 .5-48.1 .5 45.8 .5-44.6 .5 69.3 .5-64.7 .5 54 .5-53.6 .5 48.9 .5-52.9 .5 46.3 .5-47.1 .5 47.4 .5-59.2 .5 59.7 .5-52 .5 59.5 .5-53.6 .5 49.7 .5-45.5 .5 40.5 .5-43.7 .5 43.7 .5-47.4 .5 43.1 .5-50.6 .5 58.4 .5-50.4 .5 48.3 .5-44.7 .5 52.8 .5-59.6 .5 54.9 .5-59.9 .5 69.1 .5-66.6 .5 46.1 .5-50.5 .5 62.6 .5-61.6 .5 57.7 .5-43.5 .5 46.2 .5-48.4 .5 45.9 .5-45.4 .5 45.9 .5-49.6 .5 53 .5-62.8 .5 61.2 .5-43.8 .5 55.3 .5-57.1 .5 55 .5-63.1 .5 54.4 .5-44.9 .5 46.3 .6-61 .5 65.8 .5-51.2 .5 44.4 .5-52.9 .5 64.3 .5-60.7 .5 57.6 .5-52.2 .5 55.7 .5-61.1 .5 43.1 .5-37.6 .5 61.7 .5-74.2 .5 61.8 .5-75.8 .5 64.6 .5-50.3 .5 60.9 .5-55.8 .5 46.6 .5-51.3 .5 71.3 .5-84.2 .5 66.8 .5-52.3 .5 48.1 .5-40 .5 42 .5-60.4 .5 76.5 .5-66.9 .5 51.8 .5-46.4 .5 49.3 .5-58.3 .5 59.7 .5-56 .5 50.3 .5-42 .5 49.2 .5-60.7 .5 55.9 .5-43.4 .5 51.2 .5-55.5 .5 54.4 .5-58.7 .5 50.7 .5-38.7 .5 38.6 .5-47.2 .5 70.5 .5-75.2 .5 64.1 .5-66.4 .5 56.9 .5-42.2 .5 61.5 .5-83.9 .5 64.9 .5-59 .5 63.3 .5-52.6 .5 54.3 .5-58.7 .5 58.1 .5-71.2 .5 66.3 .5-61.7 .5 61.4 .5-59.7 .5 49.2 .6-59.7 .5 86 .5-61.8 .5 40.5 .5-39.9 .5 47.5 .5-41.6 .5 44.5 .5-54.2 .5 67.9 .5-72.9 .5 68.4 .5-55.4 .5 49.3 .5-55.8 .5 44.5 .5-42.9 .5 44.5 .5-47 .5 46.5 .5-55.7 .5 72.2 .5-62.3 .5 44.6 .5-60.1 .5 69.9 .5-58.4 .5 67.6 .5-66.2 .5 45.4 .5-59.6 .5 72.2 .5-71.6 .5 52.2 .5-39.5 .5 45.4 .5-45.3 .5 50.7 .5-51 .5 54.3 .5-51.4 .5 52 .5-52.2 .5 42.1 .5-44.8 .5 42.7 .5-58.5 .5 63.3 .5-51.6 .5 58.5 .5-53.7 0 52.1" stroke="#f00"/>
<path d="M607.8 829.9l.5 69.9 .5-53.7 .5 43.9 .5-51.3 .5 67.2 .5-58.4 .5 64.1 .5-71.8 .5 60 .5-47.6 .5 47.9 .5-49.8 .5 47.5 .5-48.2 .5 47.6 .5-46.8 .5 62.8 .5-64.7 .5 46 .5-45.6 .5 62.8 .5-72.2 .5 60.2 .5-52.3 .5 48.4 .5-44.8 .5 56.6 .5-64.6 .5 50.2 .5-44.4 .5 46.9 .5-48.4 .5 50.3 .5-55 .5 54.5 .5-59.8 .5 73.1 .5-62.8 .5 57.1 .5-66.6 .5 54.7 .5-68.7 .5 70 .5-58.8 .5 56 .5-52.6 .5 54.7 .5-59.9 .5 63.9 .5-65.7 .5 59.8 .5-41.6 .5 58.2 .5-59.6 .5 49 .5-58.1 .5 70.1 .5-70.8 .5 60.5 .5-49.5 .5 64.4 .5-80 .5 66.9 .5-58.9 .5 61.3 .5-57.5 .5 47.3 .5-63.5 .5 70.2 .5-62.7 .5 56.3 .5-47.1 .5 63.6 .5-62.8 .5 47.5 .5-53.1 .5 70.4 .5-65.3 .5 44.9 .5-48.9 .5 56.1 .5-48 .5 46.8 .5-61 .5 56.5 .5-48.2 .5 50.2 .5-47.8 .5 49.2 .5-56.8 .5 76.2 .5-70.8 .5 45.5 .5-47.2 .5 49.8 .5-44.8 .5 52.5 .5-61.1 .5 69.4 .5-79.2 .5 81.8 .5-61.3 .5 49.5 .5-54.5 .5 68.7 .5-76.8 .5 72.2 .5-69 .5 60 .5-56.3 .5 51.1 .5-53.2 .5 62.7 .5-59.9 .5 47.8 .5-58.6 .5 60.1 .5-48.9 .5 63.7 .5-62.9 .5 58.4 .5-74.3 .5 70.5 .5-59.6 .5 53.2 .5-53 .5 57.2 .5-63 .5 66.8 .5-63.3 .5 73.7 .5-74 .5 73.1 .5-82.4 .5 70.2 .5-58.2 .5 51.7 .5-41.4 .5 53.7 .5-60.7 .5 75.9 .5-70 .5 64.4 .5-71.8 .5 53.4 .5-64.3 .5 81.5 .5-72.9 .5 51.8 .5-44.6 .5 46.5 .5-48.6 .5 70.6 .5-74.5 .5 60.7 .5-63.9 .5 56.2 .5-56 .5 55.3 .5-55.5 .5 67.1 .5-63 .5 52.4 .5-49.2 .5 50.7 .5-60.7 .5 57.5 .5-43.5 .5 54.3 .5-61.9 .5 51.8 .5-61.8 .5 61.9 .5-39.7 .5 53.7 .5-55.6 .5 50.7 .5-61.5 .5 58.8 .5-52.6 .5 54.8 .5-61.8 .5 57 .5-52.8 .5 50 .5-71 .5 73.3 .5-59.1 .5 58.3 .5-63.5 .5 60.6 .5-60.4 .5 64.3 .5-56.2 .5 64.1 .5-59.8 .5 51.8 .5-54.5 .5 49.5 .5-47.5 .5 47.1 .5-58.8 .5 71.9 .5-61.5 .5 69.2 .5-74.7 .5 56.2 .5-58.8 .5 58.3 .5-45.9 .5 54.1 .5-55.4 .5 46.8 .5-48.2 .5 49.3 .5-52.3 .5 59.2 .5-63.1 .5 63.6 .5-74.8 .5 77.7 .5-58.8 .5 53.7 .5-53.8 .5 50 .5-47.3 .5 53.4 .5-67.1 .5 69.7 .5-54.4 .5 55.5 .5-56.7 .5 57.8 .5-56 .5 50.1 .5-64.3 .5 78.5 .5-77.5 .5 66.5 .5-58.4 .5 53 .5-53.3 .5 58.4 .5-63.8 .5 58 .5-68.9 .5 83.1 .5-73.5 .5 52.6 .5-60.4 .5 53.3 .5-65.4 .5 67.8 .5-43 .5 46.4 .5-62.7 .5 58.2 .5-51 .5 49.8 .5-45.9 .5 62.3 .5-67.9 .5 68.2 .5-67.3 .5 60.3 .5-58.3 .5 46.5 .5-48 .5 60.3 .5-69 .5 66.7 .5-54.3 .5 44.5 .5-64.3 .5 81.9 .5-61.2 .5 46.2 .5-57.4 .5 62.7 .5-65.1 .5 57.5 .5-50 .5 49.6 .5-46.7 .5 54 .5-51.8 .5 43.4 .5-52.4 .5 51.6 .5-63.2 .4 72.4 .5-53.6 .5 49.6 .5-54.2 .5 56.1 .5-60.6 .5 69.2 .5-61.7 .5 47.8 .5-47.5 .5 59.5 .5-57.5 .5 55.8 .5-54.7 .5 48 .5-54.3 .5 54.5 .5-50.4 .5 51.7 .5-57.7 .5 57.1 .5-48.8 .5 62 .5-71.5 .5 56.6 .5-47.1 .5 63.1 .5-71.8 .5 57.2 .5-68.3 .5 78.4 .5-62.3 .5 61.6 .5-63.7 .5 54.1 .5-60.4 .5 71.8 .5-54.2 .5 54.8 .5-61.5 .5 55.9 .5-73.4 .5 74.2 .5-50 .5 50.1 .5-54.8 .5 51.7 .5-47 .5 57.5 .5-84.4 .5 78.1 .5-51.9 .5 52.1 .5-59.2 .5 58.6 .5-64.9 .5 71.3 .5-60.6 .5 49.8 .5-65.6 .5 62.6 .5-45.9 .5 45.3 .5-52.3 .5 56.4 .5-56.2 .5 52.7 .5-47.4 .5 56.5 .5-59.3 .5 48.6 .5-41.3 .5 42.3 .5-50.7 .5 55.4 .5-56.1 .5 65.3 .5-85.7 .5 74.5 .5-49.4 .5 43.7 .5-48 .5 55.8 .5-57.7 .5 55.5 .5-47.7 .5 42.4 .5-45.1 .5 47.8 .5-60.4 .5 63.2 .5-63.2 .5 58.7 .5-47.4 .5 59.3 .5-55.4 .5 67.4 .5-93 .5 79.2 .5-76.1 .5 71.2 .5-50.4 .5 60.9 .5-58.8 .5 41.5 .5-47.5 .5 55.9 .5-64 .5 61 .5-53.8 .5 50 .5-47.6 .5 44.2 .5-48.6 .5 56.6 .5-50 .5 49.4 .5-61.7 .5 64.2 .5-57.6 .5 52.6 .5-57.1 .5 71 .5-68.3 .5 54.6 .5-48.9 .5 46.6 .5-52.9 .5 72.1 .5-68.8 .5 68.4 .5-65.1 .5 69 .5-68.6 .5 62.1 .5-67.3 .5 61.7 .5-58.4 .5 64.4 .5-71.5 .5 51.8 .5-46.5 .5 46.8 .5-57.2 .5 53.7 .5-41.7 .5 45.2 .5-55.1 .5 61.7 .5-52.9 .5 47.8 .5-50.5 .5 61.6 .5-54 .5 45 .5-57.3 .5 58.9 .5-61.7 .5 65.6 .5-68.8 .5 65.7 .5-50.1 .5 49.6 .5-52.5 .5 45.8 .5-39.8 .5 52.9 .5-56.7 .5 48.5 .5-73.3 .5 72.3 .5-57.8 .5 69.4 .5-54.8 .5 45.1 .5-43.3 .5 50.5 .5-64.8 .5 63 .5-67.7 .5 59.7 .5-50.4 .5 59.3 .5-55.1 .5 59.6 .5-59.7 .5 50.9 .5-54.5 .5 57.9 .5-62.9 .5 61 .5-52.2 .5 57.6 .5-68.6 .5 62.8 .5-60.4 .5 61.9 .5-63.7 .5 55.9 .5-69.4 .5 69 .5-53.1 .5 55 .5-50.3 .5 51.7 .5-51.8 .5 53.7 .5-63 .5 59.2 .5-46.8 .5 46.2 .5-44.2 .5 42.8 .5-54.8 .5 59.2 .5-51.4 .5 44.5 .5-44.6 .5 60.8 .5-61.1 .5 55 .5-58.2 .5 65.3 .5-55.8 .5 64.4 .5-80 .5 58.8 .5-51.3 .5 61.8 .5-63.5 .5 64.5 .5-63.5 .5 62.1 .5-55.6 .5 54.9 .5-51.4 .5 44.5 .5-47.3 .5 54.7 .5-55.5 .5 42.8 .5-48.3 .5 52.7 .5-49.7 .5 52.5 .5-70.4 .5 70.9 .5-54.6 .5 50 .5-47.9 .5 58.3 .5-71 .5 68 .5-71.3 .5 81 .5-53.9 .5 43.7 .5-48.1 .5 43.7 .5-54.7 .5 69.5 .5-71.4 .5 69.6 .5-61.1 .5 50.2 .5-55.8 .5 60.9 .5-58.3 .5 47.7 .5-59 .5 83.3 .5-73.9 .5 65.7 .5-85.7 .5 92.9 .5-77.8 .5 58 .5-48 .5 50.1 .5-45.8 .5 52.8 .5-60.1 .5 48.9 .5-56.4 .5 57.9 .5-50.3 .5 61.4 .5-64.4 .5 63.2 .5-54.6 .5 44.5 .5-55.9 0 58.4" stroke="#00f"/>
<path d="M636.9 1049.3v-4.5M636.9 733.4v4.5M695.1 1049.3v-4.5M695.1 733.4v4.5M753.2 1049.3v-4.5M753.2 733.4v4.5M811.4 1049.3v-4.5M811.4 733.4v4.5M869.6 1049.3v-4.5M869.6 733.4v4.5M607.8 1049.3v-9M607.8 733.4v9M666 1049.3v-9M666 733.4v9M724.2 1049.3v-9M724.2 733.4v9M782.3 1049.3v-9M782.3 733.4v9M840.5 1049.3v-9M840.5 733.4v9M898.7 1049.3v-9M898.7 733.4v9M607.8 759.7h4.5M898.7 759.7h-4.5M607.8 812.4h4.5M898.7 812.4h-4.5M607.8 865h4.5M898.7 865h-4.5M607.8 917.7h4.5M898.7 917.7h-4.5M607.8 970.3h4.5M898.7 970.3h-4.5M607.8 1023h4.5M898.7 1023h-4.5M607.8 733.4h9M898.7 733.4h-9M607.8 786h9M898.7 786h-9M607.8 838.7h9M898.7 838.7h-9M607.8 891.3h9M898.7 891.3h-9M607.8 944h9M898.7 944h-9M607.8 996.6h9M898.7 996.6h-9M607.8 1049.3h9M898.7 1049.3h-9" stroke="#000" stroke-width="1.2"/>
<rect x="607.8" y="733.4" width="290.9" height="315.9" stroke="#000" stroke-width="1.2"/>
<g font-size="13.4"><text x="607.8" y="1064.3" text-anchor="middle">0</text><text x="666" y="1064.3" text-anchor="middle">20000</text><text x="724.2" y="1064.3" text-anchor="middle">40000</text><text x="782.3" y="1064.3" text-anchor="middle">60000</text><text x="840.5" y="1064.3" text-anchor="middle">80000</text><text x="898.7" y="1064.3" text-anchor="middle">1e+05</text><text x="604.3" y="738.7" text-anchor="end">-1.1e+06</text><text x="604.3" y="791.4" text-anchor="end">-1.105e+06</text><text x="604.3" y="844" text-anchor="end">-1.11e+06</text><text x="604.3" y="896.7" text-anchor="end">-1.115e+06</text><text x="604.3" y="949.3" text-anchor="end">-1.12e+06</text><text x="604.3" y="1002" text-anchor="end">-1.125e+06</text><text x="604.3" y="1054.6" text-anchor="end">-1.13e+06</text></g>
<rect x="746" y="728.6" width="165.6" height="48.7" fill="#fff" stroke="#000"/>
<g font-size="13.1"><path d="M751.4 738.5H761" stroke="#000" stroke-width="1.3"/><text x="771" y="742.8">Wild CD36</text><path d="M751.4 752.7H761" stroke="#f00" stroke-width="1.3"/><text x="771" y="757">CD36 Mut (K164A) + PA</text><path d="M751.4 768.3H761" stroke="#00f" stroke-width="1.3"/><text x="771" y="772.6">Wild CD36 + PA</text></g>
<text x="753.8" y="701" font-size="19" text-anchor="middle" textLength="142" lengthAdjust="spacingAndGlyphs">Gromacs Energies</text>
<text x="753.8" y="1076.6" font-size="13.4" text-anchor="middle">Time (ps)</text>
<path d="M1066.2 830.1l.5 61.3 .5-89.7 .5 87.3 .5-101 .5 65.4 .5-66.4 .5 70.2 .5-55.4 .5 56.9 .5-59.7 .5 67.2 .5-88.5 .5 82.5 .5-64.9 .5 53.4 .5-79.2 .5 99.4 .5-86.9 .5 77.2 .5-73.1 .5 68.4 .5-74.3 .5 61.4 .5-63.3 .5 96.7 .5-93.3 .5 67.4 .5-82.1 .5 91.5 .5-95.1 .5 73.7 .5-78.1 .5 75.8 .5-67.2 .5 71.7 .5-93.7 .5 89.9 .5-83.6 .5 91.2 .5-86.8 .5 79.4 .5-85.4 .5 88.8 .5-61.6 .5 64.5 .5-56.3 .5 72.6 .5-106.3 .5 79.4 .5-63.9 .5 73.3 .5-63.3 .5 52.1 .5-73.6 .5 66.3 .5-71.5 .5 64 .5-72.4 .5 75.2 .5-44.5 .5 65.8 .5-81.3 .5 63.4 .5-71.4 .5 75.8 .5-63.2 .5 82.2 .5-86.2 .5 64.3 .5-60.7 .5 65.1 .5-56.9 .5 56.4 .5-61.5 .5 67.3 .5-62.7 .5 64.5 .5-81.1 .5 61.7 .5-63.1 .5 69.3 .5-75.7 .5 80.8 .5-78.1 .5 67.8 .5-72.7 .5 65.2 .5-82.7 .5 82.3 .5-81.2 .5 94.2 .5-73.3 .5 91.1 .5-92.1 .5 86.7 .5-82.4 .5 66.9 .5-81.9 .5 60.2 .5-66.1 .5 89.3 .5-73.4 .5 61.1 .5-66.8 .5 64.2 .5-62.4 .5 62.5 .5-62.3 .5 53.7 .5-64.6 .5 100.7 .5-99 .5 76.2 .5-90.8 .5 84.1 .5-85.5 .5 96.2 .5-79.3 .5 78.1 .5-76.3 .5 69 .5-70.2 .5 63.9 .5-48.3 .5 55.2 .5-70.5 .5 63.1 .5-61.8 .5 51.4 .5-71.5 .5 88.9 .5-61.6 .5 82 .5-98.7 .5 82.8 .5-77.7 .5 60.8 .5-75 .5 108.4 .5-86.5 .5 67.4 .5-62.5 .5 72 .5-78.9 .5 73.2 .5-88.2 .5 68.7 .5-64.8 .5 84.3 .5-83.7 .5 76.6 .5-101.9 .5 79.9 .5-85.9 .5 90.1 .5-54.6 .5 66.8 .5-81.1 .5 71.1 .5-59.9 .5 69 .5-64.6 .5 57.5 .5-58.9 .4 55.1 .5-79.3 .5 88.2 .5-85.3 .5 76.3 .5-66.2 .5 70.2 .5-95 .5 89 .5-64 .5 55.5 .5-53.9 .5 56.6 .5-60.9 .5 56.5 .5-79.3 .5 87 .5-60.7 .5 48 .5-56.1 .5 91.3 .5-101.4 .5 77.9 .5-82.3 .5 80.8 .5-79.3 .5 96.9 .5-65.8 .5 67.3 .5-75.2 .5 66.6 .5-97.7 .5 80.6 .5-60.8 .5 61.4 .5-94.7 .5 106.4 .5-66.3 .5 67.9 .5-72.9 .5 55.9 .5-77.6 .5 83.2 .5-57.4 .5 57.5 .5-64.1 .5 63.8 .5-71.3 .5 75.2 .5-93.1 .5 88 .5-55.6 .5 71.5 .5-77.5 .5 73.6 .5-86.1 .5 79.3 .5-73.3 .5 96.6 .5-86 .5 51.1 .5-46 .5 47.9 .5-67.7 .5 68.8 .5-48.6 .5 53.3 .5-57.1 .5 58.8 .5-48.8 .5 71.1 .5-76 .5 66.4 .5-83.6 .5 69.5 .5-78.2 .5 72.7 .5-81.5 .5 93.6 .5-73.3 .5 67.8 .5-66 .5 52.4 .5-66.6 .5 84.6 .5-63.3 .5 56.5 .5-49.7 .5 67.7 .5-77.5 .5 83.4 .5-68.6 .5 67.9 .5-96.6 .5 88 .5-66.1 .5 62.1 .5-87.6 .5 113.8 .5-76.7 .5 57.1 .5-63.2 .5 57 .5-74.8 .5 84.7 .5-67.4 .5 71.7 .5-64.7 .5 75 .5-87.2 .5 68.7 .5-77.9 .5 81 .5-74.8 .5 80.7 .5-66.6 .5 66.3 .5-74.4 .5 62.7 .5-86.4 .5 77.8 .5-50.5 .5 56.5 .5-56 .5 62.5 .5-61.5 .5 82.2 .5-87.4 .5 60.6 .5-87.8 .5 87 .5-85.9 .5 82.5 .5-61.5 .5 56.6 .5-53.9 .5 58.1 .5-74.8 .5 77.4 .5-70.2 .5 90.4 .5-76 .5 73.2 .5-60.6 .5 60.8 .5-69 .5 77.5 .5-88.4 .5 73.5 .5-63.8 .5 81 .5-86.4 .5 85.2 .5-84.1 .5 59 .5-57.2 .5 74.7 .5-74.8 .5 80.5 .5-67.7 .5 58.3 .5-77.9 .5 77.3 .5-55 .5 60.8 .5-77.6 .5 61.6 .5-53.5 .5 56.3 .5-62.9 .5 55.9 .5-56.6 .5 72.5 .5-60.7 .5 68.8 .5-72.9 .5 66.8 .5-82.2 .5 68.1 .5-51.6 .5 74.3 .5-80.6 .5 65.3 .5-66.7 .5 68.4 .5-85.9 .5 67.8 .5-54.9 .5 67.9 .5-69.8 .5 61 .5-66.6 .5 74.8 .5-81.6 .5 98.1 .5-73.4 .5 56.8 .5-61.3 .5 75.8 .5-77.8 .5 49.4 .5-65.2 .5 92.7 .5-90.2 .5 63.2 .5-72.7 .5 80.8 .5-70.2 .5 72.5 .5-60.8 .5 47.9 .5-58.4 .5 94.1 .5-119.1 .5 103.8 .5-76.1 .5 57.7 .5-69 .5 67.3 .5-48 .5 46.2 .5-79 .5 113.7 .5-78.8 .5 50.4 .5-54.9 .5 68.1 .5-89.9 .5 80.4 .5-95.1 .5 100.9 .5-96.6 .5 102.3 .5-81.9 .5 61.8 .5-59.4 .5 71 .5-77.6 .5 79.5 .5-68.1 .5 65 .5-55.1 .5 56.3 .5-56.2 .5 74.1 .5-83.2 .5 78.2 .5-69.2 .5 59.4 .5-71.6 .5 75.7 .5-63.9 .5 52.2 .5-57.7 .5 55.2 .5-71.1 .5 75.7 .5-59.7 .5 74.9 .5-86.8 .5 84.4 .5-66.7 .5 58.4 .5-80.2 .5 79.4 .5-60.6 .5 69.7 .5-80.9 .5 76.3 .5-63.1 .5 56.6 .5-69.7 .5 65.9 .5-74.6 .5 80.8 .5-67.1 .5 85.2 .5-95.5 .5 72.5 .5-68.5 .5 99.1 .5-99.1 .5 87.9 .5-98.9 .5 101.6 .5-71.8 .5 58.3 .5-45.2 .5 65.7 .5-64.9 .5 63.6 .5-71.3 .5 62.8 .5-66.7 .5 50.8 .5-61.7 .5 78.6 .5-63.8 .5 71.2 .5-67.3 .5 56.4 .5-60.9 .5 65.3 .5-91.5 .5 78.1 .5-60.8 .5 63.8 .5-48.7 .5 65.6 .5-73.3 .5 60.2 .5-52 .5 54.2 .5-71.6 .5 71.4 .5-58 .5 56.3 .5-57.3 .5 66 .5-63.7 .5 66.8 .5-77.3 .5 64.2 .5-69.1 .5 76 .5-73.4 .5 56.8 .4-56.5 .5 79.2 .5-87.4 .5 78 .5-61.6 .5 69.4 .5-77 .5 48.8 .5-71.1 .5 82.1 .5-75.8 .5 82.6 .5-69.2 .5 64.1 .5-89.6 .5 86.9 .5-79.4 .5 85 .5-72 .5 53.8 .5-55.5 .5 57.7 .5-50.8 .5 80.2 .5-66.5 .5 51.2 .5-57 .5 53.4 .5-54.7 .5 74.1 .5-80.5 .5 75.8 .5-79.1 .5 76.7 .5-75.4 .5 80.1 .5-88.2 .5 80.1 .5-80.6 .5 105.5 .5-84.3 .5 64.8 .5-64 .5 83.8 .5-119.5 .5 94.2 .5-69.3 .5 75.8 .5-65.5 .5 47.1 .5-69.5 .5 82.3 .5-66.9 .5 66.5 .5-67.5 .5 54.9 .5-62.3 .5 74.2 .5-71 .5 71.9 .5-73 .5 52.6 .5-49.2 .5 64.5 .5-71.8 .5 72.3 .5-52.1 .5 55.8 .5-63.4 .5 78.5 .5-88.8 .5 64.9 .5-56.1 .5 55 .5-60.1 .5 65 .5-84.9 .5 75.6 .5-69.3 .5 65.6 .5-58.3 .5 70.2 .5-86.6 .5 75 .5-73.1 .5 89 .5-76.1 .5 85.6 .5-81.8 .5 87 .5-82.1 .5 60.2 .5-73.7 .5 88.1 .5-68.1 .5 53.9 .5-62.9 .5 76.2 .5-97.1 .5 91.3 .5-75.6 .5 85.5 .5-104.3 .5 88.4 .5-69.6 .5 78.4 .5-104.4 .5 91.1 .5-63.5 .5 73.3 .5-79.8 .5 65.5 .5-58.8 .5 88.7 .5-88.7 .5 74.6 .5-74.1 .5 68.4 .5-52.9 .5 51.9 .5-52.5 .5 85.4 .5-91.8 .5 77.1 .5-79 .5 72.1 .5-69.1 .5 60.2 .5-60.5 .5 58.4 .5-70.8 .5 76.6 .5-74.1 .5 82.6 .5-80.6 .5 58.4 .5-49.6 .5 51.2 .5-48.6 .5 61.4 .5-70.7 .5 72 .5-55.9 .5 57.8 .5-83.2 .5 89 .5-71.2 .5 66.8 .5-68 .5 55.1 .5-54.4 .5 67 .5-94.8 .5 98.5 .5-86.5 .5 70 .5-53.8 .5 66 .5-76.7 .5 54.8 .5-73 .5 82.9 .5-88.6 .5 121.6 .5-94.4 0 50.5" stroke="#000"/>
<path d="M1066.2 776.6l.5 67.6 .5-53.4 .5 60.2 .5-89.3 .5 70.7 .5-57.3 .5 67.3 .5-88.7 .5 108.5 .5-90.4 .5 96.7 .5-96.5 .5 49.6 .5-63 .5 98.3 .5-92.4 .5 84.2 .5-72 .5 69.8 .5-76.5 .5 88.5 .5-68.5 .5 66.1 .5-57.1 .5 65.9 .5-72 .5 58.2 .5-64.8 .5 80.3 .5-83.6 .5 63 .5-77.1 .5 121.6 .5-97.8 .5 63.5 .5-64.4 .5 71.1 .5-81.4 .5 68.9 .5-69 .5 64.8 .5-56.7 .5 49.4 .5-52.3 .5 60 .5-71.1 .5 60.6 .5-58.8 .5 63.9 .5-84.4 .5 95.3 .5-85 .5 64.9 .5-88.3 .5 83.6 .5-45.7 .5 71.2 .5-80.7 .5 70.6 .5-53.8 .5 50.4 .5-55.4 .5 54.7 .5-54.9 .5 59.8 .5-76 .5 66.4 .5-68.2 .5 77.5 .5-64.5 .5 50.5 .5-63.4 .5 86.5 .5-109.8 .5 96.8 .5-89.2 .5 90.1 .5-64.2 .5 69.4 .5-62.6 .5 55.5 .5-63.7 .5 55.7 .5-57.2 .5 71.7 .5-89.7 .5 76.2 .5-71.2 .5 81.9 .5-84.6 .5 89.9 .5-79.9 .5 79.4 .5-93.6 .5 82.8 .5-65.2 .5 58.5 .5-55.7 .5 63.7 .5-60.7 .5 55.6 .5-59.4 .5 59.9 .5-66.2 .5 80.7 .5-80.6 .5 88 .5-82 .5 75.2 .5-78.8 .5 60.8 .5-57.5 .5 59.5 .5-55.9 .5 74.4 .5-69.7 .5 69.7 .5-61.6 .5 59.8 .5-52.5 .5 64.9 .5-80.3 .5 55.5 .5-46.4 .5 63.7 .5-73.4 .5 86 .5-93.4 .5 86.3 .5-63.1 .5 71.2 .5-83.8 .5 69.5 .5-78.3 .5 78.4 .5-82.5 .5 74.7 .5-80.5 .5 66 .5-44.9 .5 54 .5-82.5 .5 82.5 .5-65.3 .5 82.3 .5-77.9 .5 90.5 .5-89.5 .5 68.4 .5-75.4 .5 70.9 .5-77.1 .5 71.8 .5-50.6 .5 49.7 .5-66 .5 59.6 .5-66.1 .5 62.8 .5-60.6 .5 90.1 .5-95.8 .5 94.7 .5-94.5 .4 67.2 .5-74.4 .5 78.9 .5-68.4 .5 58.2 .5-47.2 .5 52.6 .5-60.5 .5 84.5 .5-108 .5 106.3 .5-98.6 .5 74.8 .5-61.6 .5 78.7 .5-63.8 .5 51.6 .5-55 .5 52.8 .5-56.7 .5 61.4 .5-88.8 .5 97 .5-77.9 .5 59.1 .5-50.9 .5 58.8 .5-48.5 .5 61 .5-65.1 .5 73.7 .5-73.8 .5 74 .5-88.5 .5 75.2 .5-63.7 .5 53.3 .5-65.2 .5 67.7 .5-83.9 .5 74.4 .5-71.2 .5 67.7 .5-84.8 .5 91.8 .5-70 .5 61.6 .5-55.8 .5 65.4 .5-51.3 .5 51.3 .5-49.3 .5 57 .5-84.9 .5 92.6 .5-71.4 .5 55.2 .5-67.9 .5 77.5 .5-64.3 .5 61 .5-60.7 .5 60 .5-59.1 .5 61 .5-58 .5 57.6 .5-56.2 .5 63.2 .5-69.3 .5 55.9 .5-54.7 .5 52 .5-41.3 .5 63.1 .5-81.4 .5 66.3 .5-57.7 .5 75.9 .5-86.8 .5 64.4 .5-59.4 .5 71 .5-73 .5 65.9 .5-60.8 .5 65.2 .5-91.6 .5 76 .5-51.6 .5 60.2 .5-74.3 .5 70.3 .5-77.4 .5 70.9 .5-49.5 .5 53.4 .5-66.1 .5 66.4 .5-84 .5 78.4 .5-61.5 .5 72.4 .5-50.6 .5 63 .5-81.2 .5 105.3 .5-100.6 .5 72.3 .5-65.1 .5 68.6 .5-65.3 .5 66.7 .5-76.8 .5 55.7 .5-55 .5 58.4 .5-71.6 .5 64.6 .5-55.4 .5 58.3 .5-48.5 .5 58.9 .5-74.4 .5 81 .5-64.5 .5 61.1 .5-61.5 .5 50.1 .5-53.6 .5 71.9 .5-62.1 .5 46.9 .5-64.7 .5 78.7 .5-75.8 .5 52.7 .5-63.9 .5 72.7 .5-44.8 .5 56.8 .5-58.1 .5 63.1 .5-71.2 .5 60.8 .5-53.1 .5 80.3 .5-97 .5 76.3 .5-77.1 .5 66.5 .5-61.9 .5 79.3 .5-79.9 .5 63.6 .5-70.3 .5 65.3 .5-57.1 .5 71.3 .5-68.9 .5 72.4 .5-104.2 .5 84.5 .5-57.6 .5 71.4 .5-85.7 .5 84.2 .5-64.5 .5 56.2 .5-67.2 .5 83.3 .5-71.1 .5 72.2 .5-76 .5 70.9 .5-59.9 .5 83.1 .5-90.3 .5 54.9 .5-54.9 .5 81.8 .5-100.5 .5 100.9 .5-76.2 .5 67.8 .5-60.8 .5 56.4 .5-74.5 .5 82.1 .5-76.9 .5 72.8 .5-66.3 .5 64.9 .5-61.9 .5 48.2 .5-59.2 .5 62.9 .5-60.7 .5 65.4 .5-63.5 .5 85.6 .5-88.2 .5 64.6 .5-61.8 .5 76.5 .5-104.4 .5 69.8 .5-50.3 .5 73.7 .5-76.4 .5 63.8 .5-40.1 .5 47.5 .5-69.4 .5 78.9 .5-73.1 .5 61.4 .5-60.1 .5 71 .5-54.5 .5 62.5 .5-75.2 .5 74 .5-80.6 .5 59.1 .5-69.9 .5 81.7 .5-60.8 .5 52.8 .5-64.7 .5 62 .5-51.3 .5 80.8 .5-65.2 .5 57.5 .5-83.5 .5 89.1 .5-72.3 .5 61.4 .5-69.4 .5 71.2 .5-71.7 .5 62 .5-60.3 .5 70.9 .5-78 .5 77.6 .5-75.9 .5 65.5 .5-89.4 .5 109.1 .5-92.9 .5 79.4 .5-67.4 .5 58.1 .5-49.5 .5 51.5 .5-58.9 .5 55 .5-55.9 .5 69.4 .5-72.9 .5 85.3 .5-87.2 .5 66.6 .5-57.9 .5 54.7 .5-66.3 .5 66.7 .5-72.2 .5 67.4 .5-74.3 .5 91.3 .5-78.4 .5 76.6 .5-65.9 .5 65.1 .5-72.4 .5 81 .5-83.2 .5 79.2 .5-67.4 .5 57.2 .5-53.6 .5 55.7 .5-62 .5 53.4 .5-47.2 .5 58.5 .5-49 .5 49.6 .5-65.2 .5 80.7 .5-75.4 .5 53.5 .5-58.4 .5 92.6 .5-84.9 .5 55.3 .5-53 .5 74.5 .5-70.5 .5 60.6 .5-61.1 .5 62.3 .5-66.3 .5 59.7 .5-79 .5 74.1 .5-58.3 .5 56.4 .5-65.9 .5 53.2 .5-64.3 .5 66.4 .5-62.3 .5 92.6 .5-85.1 .5 60.1 .5-69.5 .5 54.4 .5-54.8 .5 67.6 .5-59.3 .5 67 .5-64.4 .5 56.8 .4-71.5 .5 75.2 .5-54.7 .5 86.6 .5-83.5 .5 76.2 .5-77.4 .5 50 .5-42 .5 60.2 .5-93.4 .5 81.3 .5-54.8 .5 65.4 .5-59.2 .5 71 .5-72.1 .5 77.4 .5-74.8 .5 67.5 .5-78.6 .5 67 .5-67.2 .5 72 .5-86.7 .5 77.2 .5-71.7 .5 63.9 .5-60.1 .5 75.6 .5-75.5 .5 58.1 .5-72.7 .5 83.3 .5-70.1 .5 71.1 .5-68.3 .5 83.9 .5-94.4 .5 73 .5-92.7 .5 81 .5-62.2 .5 82.8 .5-77.9 .5 61.9 .5-57.6 .5 81.9 .5-76.4 .5 60.8 .5-55.6 .5 81.4 .5-74.2 .5 64.3 .5-82.6 .5 70.2 .5-57.3 .5 70.2 .5-74.5 .5 60.5 .5-57.1 .5 67.5 .5-67.4 .5 69.6 .5-76.3 .5 67.3 .5-66.6 .5 69.8 .5-74.2 .5 60.1 .5-49 .5 47.7 .5-78.1 .5 100.6 .5-56.8 .5 65.3 .5-77.2 .5 66 .5-63.4 .5 50.6 .5-52.7 .5 75.3 .5-80.9 .5 47.2 .5-60.2 .5 74.7 .5-75.6 .5 110.2 .5-92.9 .5 78.2 .5-81 .5 84.6 .5-73.8 .5 59 .5-58.9 .5 65 .5-68.4 .5 71.8 .5-83.3 .5 68.5 .5-72.1 .5 80.2 .5-73.8 .5 52.5 .5-73.2 .5 86.1 .5-65.7 .5 60 .5-65.1 .5 61 .5-56.6 .5 71.3 .5-64.1 .5 49 .5-66.6 .5 82.2 .5-59.1 .5 56.1 .5-60.7 .5 78.1 .5-92.1 .5 91.5 .5-108.5 .5 115.2 .5-85.9 .5 59.5 .5-66.5 .5 64.7 .5-66 .5 72.4 .5-71.5 .5 63.3 .5-71.5 .5 64 .5-66.3 .5 85.4 .5-83.9 .5 66.3 .5-58.5 .5 58.8 .5-56.3 .5 65.5 .5-56.5 .5 64.3 .5-69.8 .5 80.9 .5-67.1 .5 59 .5-59.2 .5 69.8 .5-69.7 .5 54.2 .5-76.8 .5 83.3 .5-76.3 .5 66.2 .5-90.4 .5 80.2 .5-63.2 .5 59.5 .5-55.2 .5 58.8 .5-71.5 .5 80.6 .5-57.7 0 84.4" stroke="#f00"/>
<path d="M1066.2 774.9l.5 68.6 .5-72.7 .5 80.4 .5-77.9 .5 92.5 .5-80 .5 59.4 .5-63.1 .5 68.6 .5-58.4 .5 83.3 .5-82.7 .5 88.2 .5-80.4 .5 74.1 .5-87.3 .5 74.8 .5-82.3 .5 85.3 .5-95.3 .5 75.9 .5-66.5 .5 78.4 .5-66.6 .5 75.5 .5-82.9 .5 65.3 .5-51 .5 57.7 .5-61.7 .5 64.1 .5-57.2 .5 75.4 .5-89.5 .5 76.6 .5-77.6 .5 72 .5-56.6 .5 73.5 .5-82 .5 57.5 .5-62.6 .5 69 .5-68.4 .5 62.5 .5-66.2 .5 61.5 .5-69.5 .5 83.7 .5-80.8 .5 74.4 .5-77.9 .5 81.5 .5-81.4 .5 83.8 .5-76.9 .5 70.6 .5-71.4 .5 70.6 .5-69.3 .5 65.2 .5-72 .5 74.8 .5-57.2 .5 71.7 .5-91.4 .5 81.8 .5-81.8 .5 72.8 .5-74 .5 68.4 .5-72.1 .5 68 .5-54.4 .5 55.1 .5-62.3 .5 57.9 .5-57.2 .5 80 .5-72 .5 58.7 .5-58.2 .5 82.9 .5-86.7 .5 61.9 .5-53 .5 59.5 .5-64.3 .5 79.2 .5-78.6 .5 64.5 .5-54.2 .5 71.2 .5-78.3 .5 73 .5-59.8 .5 90 .5-81.4 .5 64.9 .5-86.9 .5 74.1 .5-84.2 .5 81.6 .5-68 .5 67.1 .5-76.1 .5 74.4 .5-59.5 .5 62.8 .5-52 .5 64.5 .5-73.2 .5 53.3 .5-62 .5 60 .5-64.4 .5 75.9 .5-96.9 .5 101.8 .5-86.3 .5 66 .5-62.6 .5 61.3 .5-76.6 .5 84.5 .5-84.3 .5 72.8 .5-76.8 .5 80.7 .5-66.6 .5 68.2 .5-45.1 .5 72.8 .5-81.9 .5 63.8 .5-97.1 .5 83.5 .5-84 .5 78 .5-60.2 .5 96.9 .5-91 .5 53.1 .5-72.9 .5 93.3 .5-94.6 .5 93.9 .5-81.5 .5 73 .5-62.3 .5 64.3 .5-99.8 .5 99.1 .5-77.2 .5 71.8 .5-66.3 .5 59.5 .5-58.3 .5 61.8 .5-67.5 .5 80.8 .5-81.6 .5 82.6 .5-75.5 .4 54.4 .5-70.1 .5 63 .5-58.4 .5 77.1 .5-71.7 .5 80 .5-77.8 .5 67.5 .5-59.7 .5 86.1 .5-66.8 .5 55.9 .5-69.4 .5 78 .5-63.6 .5 58.9 .5-73.5 .5 60.7 .5-71.5 .5 68.6 .5-64.9 .5 67.5 .5-81.3 .5 93.6 .5-71.4 .5 71.8 .5-74.9 .5 64.5 .5-54 .5 66.2 .5-74.7 .5 73.4 .5-70.7 .5 96 .5-107.9 .5 92.4 .5-93.3 .5 96.4 .5-96.7 .5 66.5 .5-69 .5 75.5 .5-86.5 .5 83.9 .5-85.7 .5 69.1 .5-68.6 .5 82.2 .5-105 .5 85.1 .5-64.9 .5 56 .5-66.6 .5 69 .5-83.5 .5 91.5 .5-72.7 .5 72.3 .5-115.6 .5 110.1 .5-82.8 .5 68.7 .5-86.2 .5 88.6 .5-102 .5 116.1 .5-80.4 .5 58.2 .5-68.8 .5 80.1 .5-67 .5 83.4 .5-91.3 .5 77.5 .5-70.8 .5 59.1 .5-45.9 .5 64.4 .5-78.1 .5 86.2 .5-95.7 .5 88.7 .5-72.5 .5 56.3 .5-69.7 .5 77.7 .5-79.9 .5 68.5 .5-54.9 .5 65.2 .5-62.2 .5 59.3 .5-86.9 .5 98.5 .5-90.1 .5 87.1 .5-75.5 .5 53.7 .5-89.3 .5 103.5 .5-93.4 .5 87.5 .5-62.7 .5 59.7 .5-67.8 .5 53.8 .5-69.6 .5 67.6 .5-65.9 .5 76.4 .5-66.8 .5 63.3 .5-51.1 .5 88.1 .5-89.4 .5 79.7 .5-68.8 .5 70.7 .5-83 .5 64.1 .5-64 .5 83.5 .5-69.3 .5 51 .5-66 .5 55.2 .5-61.7 .5 68.5 .5-96.8 .5 87.6 .5-84.5 .5 92 .5-76.6 .5 73.6 .5-58.5 .5 77.8 .5-74.3 .5 56 .5-78.9 .5 71.6 .5-73.6 .5 88.4 .5-109.3 .5 97.3 .5-79.7 .5 81.6 .5-78.1 .5 80.8 .5-84.7 .5 86.3 .5-101.3 .5 75.8 .5-61.7 .5 77.2 .5-96.4 .5 84.8 .5-84.8 .5 82.8 .5-66.4 .5 83.5 .5-87.9 .5 82.6 .5-74.5 .5 67.4 .5-62.6 .5 72.9 .5-93.2 .5 66.2 .5-74.3 .5 84.2 .5-61.4 .5 63.7 .5-78.6 .5 66.3 .5-54.8 .5 73.1 .5-95.7 .5 87.2 .5-65.4 .5 59.7 .5-50.2 .5 68.5 .5-86.2 .5 74.8 .5-77.7 .5 72.4 .5-72.8 .5 68.8 .5-78.1 .5 78.2 .5-62.1 .5 60.4 .5-54.2 .5 62.7 .5-70.8 .5 62.2 .5-64.8 .5 64.4 .5-61.7 .5 56.3 .5-63 .5 61.9 .5-51.4 .5 68.8 .5-71.8 .5 82.8 .5-89.4 .5 71.9 .5-75.7 .5 68.5 .5-70 .5 83.4 .5-67 .5 85.8 .5-79.7 .5 69.6 .5-84.7 .5 76.4 .5-77.6 .5 69.3 .5-75.5 .5 75 .5-67.5 .5 90 .5-88.6 .5 85.9 .5-76.9 .5 59.1 .5-52.5 .5 69 .5-65.4 .5 77 .5-80.9 .5 58.5 .5-48.9 .5 75.3 .5-101.3 .5 77.7 .5-70 .5 58.1 .5-59.6 .5 54 .5-75 .5 81.2 .5-86.4 .5 104.9 .5-101.4 .5 91.2 .5-74 .5 76 .5-86.2 .5 77.8 .5-60 .5 79.1 .5-91 .5 88.7 .5-70.9 .5 81.4 .5-84.5 .5 69 .5-45.4 .5 55.8 .5-74.5 .5 65.9 .5-78.4 .5 86.4 .5-85.9 .5 69.1 .5-54.1 .5 77.3 .5-72.6 .5 52.6 .5-54.1 .5 61.9 .5-74.8 .5 57.8 .5-57.3 .5 75 .5-99.3 .5 87.9 .5-63 .5 75.3 .5-68.3 .5 79.6 .5-89.8 .5 72.1 .5-92.4 .5 85.5 .5-49.3 .5 64.7 .5-84.8 .5 74.3 .5-72.7 .5 68.4 .5-75.9 .5 66 .5-58.4 .5 63.5 .5-47.4 .5 59.8 .5-71.7 .5 89.1 .5-96.6 .5 82.5 .5-76.3 .5 58.5 .5-49.7 .5 59.7 .5-78.9 .5 95.4 .5-91.4 .5 83.1 .5-51.1 .5 53.1 .5-89.1 .5 109.8 .5-83.1 .5 82.1 .5-91.9 .5 86.2 .5-109 .5 114.4 .5-128.6 .5 87.9 .5-41.7 .5 55.8 .4-58.8 .5 73.6 .5-70.7 .5 64.7 .5-72.1 .5 61.5 .5-60.7 .5 62.6 .5-55 .5 85 .5-78.1 .5 75.2 .5-81.3 .5 71.9 .5-70.6 .5 65.6 .5-59.2 .5 80.9 .5-94.5 .5 68.2 .5-72 .5 73.3 .5-69.1 .5 59 .5-64.4 .5 87.7 .5-81.5 .5 57.9 .5-57.5 .5 79.9 .5-76.5 .5 68.4 .5-65 .5 55.2 .5-62.4 .5 83.6 .5-84.6 .5 75.2 .5-65.3 .5 81.1 .5-74.3 .5 50.7 .5-75.4 .5 73.7 .5-48.4 .5 51.7 .5-63.6 .5 74.6 .5-85.3 .5 64.2 .5-59.5 .5 54.1 .5-49.4 .5 50.3 .5-52.1 .5 84 .5-73.5 .5 79.9 .5-101.7 .5 91.6 .5-75.2 .5 60.8 .5-57.5 .5 61 .5-72.8 .5 62.9 .5-55.3 .5 60.9 .5-58.5 .5 85.2 .5-85.3 .5 68.2 .5-65.7 .5 85.2 .5-94 .5 76.7 .5-102.3 .5 85.8 .5-61.2 .5 62.9 .5-69.2 .5 69.3 .5-73.2 .5 59.1 .5-51.6 .5 58.8 .5-76.5 .5 103.3 .5-75.5 .5 60.4 .5-80.5 .5 66.1 .5-57.8 .5 61.2 .5-87.1 .5 81.6 .5-63.8 .5 74.8 .5-59.4 .5 74 .5-84.1 .5 80.2 .5-99.3 .5 91.4 .5-70.7 .5 68.9 .5-95.4 .5 127.4 .5-99.3 .5 71.1 .5-59.8 .5 69.3 .5-88.6 .5 93.1 .5-78.3 .5 79.5 .5-76.4 .5 96.4 .5-92.8 .5 54 .5-57.5 .5 78.6 .5-88.7 .5 89.8 .5-78.3 .5 58.1 .5-64.2 .5 75.7 .5-93.3 .5 83.1 .5-96 .5 107.8 .5-73.8 .5 58.7 .5-57.3 .5 85.9 .5-102 .5 73.9 .5-54.9 .5 58.2 .5-69.2 .5 90.9 .5-93.3 .5 63.8 .5-62.6 .5 63.7 .5-67.3 .5 61.4 .5-64.3 .5 87.5 .5-70 .5 51.9 .5-55.1 .5 55.3 .5-52.9 .5 59.5 .5-64.5 .5 74.6 .5-72.4 .5 101.3 .5-88.7 .5 60.7 .5-58.3 .5 64.4 .5-80.8 0 86.8" stroke="#00f"/>
<path d="M1099 933.2v-4.2M1099 632.8v4.2M1164.5 933.2v-4.2M1164.5 632.8v4.2M1230.1 933.2v-4.2M1230.1 632.8v4.2M1295.7 933.2v-4.2M1295.7 632.8v4.2M1361.2 933.2v-4.2M1361.2 632.8v4.2M1066.2 933.2v-8.5M1066.2 632.8v8.5M1131.8 933.2v-8.5M1131.8 632.8v8.5M1197.3 933.2v-8.5M1197.3 632.8v8.5M1262.9 933.2v-8.5M1262.9 632.8v8.5M1328.4 933.2v-8.5M1328.4 632.8v8.5M1394 933.2v-8.5M1394 632.8v8.5M1066.2 905.9h4.2M1394 905.9h-4.2M1066.2 851.3h4.2M1394 851.3h-4.2M1066.2 796.7h4.2M1394 796.7h-4.2M1066.2 742h4.2M1394 742h-4.2M1066.2 687.4h4.2M1394 687.4h-4.2M1066.2 933.2h8.5M1394 933.2h-8.5M1066.2 878.6h8.5M1394 878.6h-8.5M1066.2 824h8.5M1394 824h-8.5M1066.2 769.3h8.5M1394 769.3h-8.5M1066.2 714.7h8.5M1394 714.7h-8.5M1066.2 660.1h8.5M1394 660.1h-8.5" stroke="#000" stroke-width="1.15"/>
<rect x="1066.2" y="632.8" width="327.8" height="300.4" stroke="#000" stroke-width="1.15"/>
<g font-size="12.4"><text x="1066.2" y="947.1" text-anchor="middle">0</text><text x="1131.8" y="947.1" text-anchor="middle">20000</text><text x="1197.3" y="947.1" text-anchor="middle">40000</text><text x="1262.9" y="947.1" text-anchor="middle">60000</text><text x="1328.4" y="947.1" text-anchor="middle">80000</text><text x="1394" y="947.1" text-anchor="middle">1e+05</text><text x="1062.7" y="938.2" text-anchor="end">260</text><text x="1062.7" y="883.6" text-anchor="end">280</text><text x="1062.7" y="829" text-anchor="end">300</text><text x="1062.7" y="774.3" text-anchor="end">320</text><text x="1062.7" y="719.7" text-anchor="end">340</text><text x="1062.7" y="665.1" text-anchor="end">360</text></g>
<rect x="1237.4" y="607.4" width="151.8" height="45" fill="#fff" stroke="#000"/>
<g font-size="12.1"><path d="M1242.5 616.6H1250.4" stroke="#000" stroke-width="1.3"/><text x="1260" y="620.6">Wild CD36</text><path d="M1242.5 629.6H1250.4" stroke="#f00" stroke-width="1.3"/><text x="1260" y="633.6">CD36 Mut (K164A) + PA</text><path d="M1242.5 644.2H1250.4" stroke="#00f" stroke-width="1.3"/><text x="1260" y="648.2">WIld CD36 + PA</text></g>
<text x="1230.4" y="602.6" font-size="17.5" text-anchor="middle" textLength="178" lengthAdjust="spacingAndGlyphs">Hydrogen Bonds Protein</text>
<text x="1230" y="958.5" font-size="12.4" text-anchor="middle">Time (ps)</text>
<text transform="translate(1041 783) rotate(-90)" font-size="12.4" text-anchor="middle">Number</text>
<path d="M55.7 1228.3l.5 30.6 .5-38.3 .5 37.2 .5-44.2 .5 50.8 .5-45.8 .5 38 .5-35.4 .5 31.2 .5-24.9 .5 27.9 .5-33.7 .5 39.1 .5-31.5 .5 38.9 .5-33.8 .5 29.7 .5-22 .5 23.3 .5-46.6 .5 61.5 .5-48.5 .5 33.3 .5-36.5 .5 31.9 .5-23.1 .5 32.4 .5-30.3 .5 33.8 .5-36.6 .5 26.6 .5-32.9 .5 40.5 .5-45.2 .5 32.7 .5-24 .5 22.8 .5-26.2 .5 34.2 .5-31.8 .5 27.2 .5-35.2 .5 32.1 .4-30.9 .5 42.3 .5-30.9 .5 30.8 .5-42.7 .5 44.6 .5-36.1 .5 46.4 .5-41.4 .5 32.7 .5-39.8 .5 24.5 .5-13.1 .5 20.4 .5-22.2 .5 31.8 .5-31.3 .5 39.9 .5-58.8 .5 49.8 .5-38.3 .5 22.7 .5-25.7 .5 34.1 .5-43 .5 38.5 .5-26.4 .5 23.4 .5-29.4 .5 27.7 .5-26.1 .5 39.8 .5-31.4 .5 34.9 .5-39.3 .5 30.7 .5-40.6 .5 42.6 .5-37.7 .5 34.1 .5-27.8 .5 34.2 .5-36 .5 26.3 .5-29.7 .5 29.7 .5-19.6 .5 23.7 .5-28.5 .5 32.6 .5-28.5 .5 26.3 .5-28.2 .5 45.3 .5-43.3 .5 32.3 .5-34.2 .5 30.7 .5-32.9 .5 44.6 .5-56.6 .5 45.5 .5-49.1 .5 38.4 .5-29.3 .5 32.1 .5-36.5 .5 42.9 .5-30.9 .5 34.4 .5-32.4 .5 38.2 .5-42.3 .5 47.8 .5-43.1 .5 42.5 .5-54.3 .5 41.9 .5-28.8 .5 40.7 .5-42.2 .5 46.3 .5-41.7 .5 27.2 .5-32.6 .5 32.7 .4-44.6 .5 43.6 .5-33.1 .5 29.1 .5-26.5 .5 29.8 .5-42.9 .5 33.4 .5-20.5 .5 32.9 .5-40.5 .5 36 .5-33 .5 25.6 .5-20.6 .5 33.8 .5-32 .5 36.8 .5-43.4 .5 46.5 .5-37.9 .5 21.4 .5-25.9 .5 32.7 .5-44.1 .5 32.8 .5-22.8 .5 28.6 .5-32.1 .5 29.7 .5-25.3 .5 24.1 .5-33.5 .5 53.7 .5-51.7 .5 42.1 .5-42.5 .5 51.4 .5-48.2 .5 40.1 .5-37.8 .5 37.5 .5-37 .5 36 .5-41 .5 38.6 .5-37.7 .5 38.4 .5-37.6 .5 34 .5-38.1 .5 29.7 .5-34.2 .5 37.2 .5-40.8 .5 52.2 .5-49.9 .5 43.5 .5-35.2 .5 40.1 .5-27.5 .5 30.7 .5-50.1 .5 38.2 .5-42.7 .5 37.3 .5-25.8 .5 27.7 .5-19.6 .5 26.3 .5-24.6 .5 37.3 .5-32.2 .5 29.1 .5-46.2 .5 36.1 .5-45.8 .5 45.9 .5-43.2 .5 38.1 .5-19.8 .5 22.8 .5-29.3 .5 40.1 .5-44 .5 33.1 .4-25.6 .5 34.3 .5-37.8 .5 27.1 .5-27 .5 28.8 .5-38.1 .5 36.8 .5-29.1 .5 38.3 .5-46.3 .5 46.9 .5-38.1 .5 32.8 .5-32.8 .5 38.6 .5-32.3 .5 23.4 .5-28.1 .5 36.8 .5-36.8 .5 25.3 .5-36.1 .5 40.1 .5-32.6 .5 30.3 .5-19 .5 33.1 .5-50.6 .5 44 .5-31.9 .5 24.5 .5-27.6 .5 26.7 .5-26.5 .5 25.7 .5-24.2 .5 30.9 .5-39.3 .5 40.8 .5-31.3 .5 21.3 .5-20.6 .5 33.8 .5-40.3 .5 39 .5-32.3 .5 22 .5-22.7 .5 23.5 .5-29.7 .5 33.2 .5-43.8 .5 53 .5-35.9 .5 24.2 .5-38.9 .5 43.9 .5-40.4 .5 32 .5-30.1 .5 33.5 .5-22.1 .5 41.8 .5-48.9 .5 38.2 .5-35.7 .5 36.3 .5-30.9 .5 30.9 .5-33.5 .5 30.3 .5-40.8 .5 34.4 .5-19.3 .5 22.3 .5-22.5 .5 39.5 .5-49.2 .5 58 .5-50.5 .5 41 .5-36.6 .5 24.9 .5-26.9 .5 33.6 .4-33 .5 27.2 .5-44.2 .5 55.3 .5-45.1 .5 46 .5-52.6 .5 32 .5-19.6 .5 29.4 .5-24.8 .5 22.6 .5-45.4 .5 46.1 .5-26.5 .5 32 .5-38.2 .5 46.7 .5-38.8 .5 34 .5-37 .5 24.3 .5-41.1 .5 41.7 .5-33 .5 29 .5-24.2 .5 38.9 .5-42.4 .5 30 .5-27.6 .5 29.2 .5-19.5 .5 22.7 .5-36.5 .5 54.7 .5-37.9 .5 26.3 .5-49.8 .5 50.7 .5-36.2 .5 27 .5-34.1 .5 57.8 .5-46.3 .5 35.3 .5-31.2 .5 21.6 .5-24.3 .5 24.1 .5-40.3 .5 41.2 .5-29.9 .5 25.2 .5-29.2 .5 34.8 .5-30.8 .5 42.6 .5-44.5 .5 42.7 .5-42.3 .5 39.1 .5-31.3 .5 35.4 .5-44.8 .5 31.5 .5-33.6 .5 36.3 .5-35.2 .5 34.3 .5-29.3 .5 23.3 .5-24.7 .5 47.4 .5-65 .5 47 .5-32.1 .5 35 .5-34.5 .5 25 .5-30.2 .5 32 .5-42.9 .5 56.4 .5-57.2 .5 44.8 .4-19.3 .5 33.3 .5-41 .5 31 .5-23 .5 41 .5-45.2 .5 28.1 .5-29.7 .5 28.1 .5-42.5 .5 46.6 .5-31.8 .5 29.1 .5-34.3 .5 32.4 .5-25.6 .5 26.6 .5-31.2 .5 50 .5-42.7 .5 24.3 .5-24.6 .5 29.8 .5-35.8 .5 37.3 .5-37.2 .5 31.3 .5-30.2 .5 30.1 .5-23.6 .5 22 .5-30.3 .5 35.4 .5-38.1 .5 43.7 .5-41.1 .5 27.9 .5-26.4 .5 31.9 .5-34.9 .5 31.7 .5-32.7 .5 38.8 .5-34.1 .5 42.4 .5-39.6 .5 29.8 .5-25.4 .5 24.8 .5-33.2 .5 26.5 .5-24.1 .5 32 .5-36.2 .5 40.5 .5-48.4 .5 42.6 .5-31.6 .5 43.8 .5-39 .5 31.1 .5-35.6 .5 49.5 .5-43 .5 35 .5-42.7 .5 27.9 .5-31.5 .5 47.5 .5-53 .5 46.6 .5-31.7 .5 31.3 .5-31.6 .5 40.2 .5-39.9 .5 28.1 .5-21.5 .5 22.9 .5-28.1 .5 33 .5-22.7 .5 25.6 .5-29.2 .5 33.3 .4-43.7 .5 37.1 .5-34.7 .5 35.6 .5-29 .5 27.4 .5-31.3 .5 29.5 .5-26.7 .5 41 .5-55 .5 44.1 .5-35.7 .5 38.9 .5-37.3 .5 29.8 .5-33.9 .5 33.3 .5-27.3 .5 22.2 .5-33.6 .5 39.9 .5-31.6 .5 31.1 .5-32.2 .5 31.4 .5-29 .5 25.9 .5-21.7 .5 26.8 .5-23.7 .5 23.1 .5-24.8 .5 32.2 .5-26.7 .5 23.4 .5-34.6 .5 32.4 .5-29.3 .5 29.4 .5-27.2 .5 34.2 .5-36.1 .5 29.8 .5-35.2 .5 34 .5-38.4 .5 47.1 .5-42.6 .5 40.6 .5-56 .5 41.7 .5-27.5 .5 33.6 .5-33.9 .5 33 .5-31.1 .5 32.5 .5-30.9 .5 35 .5-37.1 .5 33.7 .5-30.6 .5 38.2 .5-28.2 .5 37.8 .5-39.5 .5 30.9 .5-33.7 .5 28.3 .5-32.6 .5 35.5 .5-31.1 .5 29.5 .5-36.4 .5 33.9 .5-30.9 .5 41.1 .5-32.6 .5 25.9 .5-32 .5 31.2 .5-35.1 .5 40.8 .5-42.1 .5 31.1 .4-31.6 .5 50.4 .5-54 .5 34.8 .5-31 .5 26.5 .5-24.5 .5 23.9 .5-20.2 .5 23 .5-29.2 .5 42 .5-38.9 .5 28.7 .5-24.3 .5 30.6 .5-32.5 .5 35.9 .5-34.3 .5 26.1 .5-30.2 .5 28.6 .5-28.7 .5 42.5 .5-50.7 .5 39.9 .5-29 .5 37.9 .5-38 .5 29.6 .5-28.7 .5 21.7 .5-22.1 .5 30.9 .5-35.7 .5 31.1 .5-29.5 .5 25.1 .5-27.5 .5 27.6 .5-22.4 .5 23.6 .5-22 .5 23.8 .5-27.1 .5 31.3 .5-36.5 .5 36.3 .5-29 .5 44 .5-48.2 .5 23.3 .5-34.6 .5 38.2 .5-27.3 .5 32.7 .5-36 .5 27.8 .5-26.6 .5 34.6 .5-48 .5 48.9 .5-49.7 .5 38.7 .5-21.1 .5 29.1 .5-33.6 .5 35.7 .5-28.1 .5 27.5 .5-30.4 .5 27.1 .5-26.8 0 39.3" stroke="#000"/>
<path d="M55.7 1441.7l.5 29.7 .5-16.9 .5 16.8 .5-13.4 .5 13.1 .5-17.6 .5 23.6 .5-24 .5 20.2 .5-18.3 .5 21.4 .5-22 .5 21 .5-22.9 .5 19.9 .5-14.3 .5 17.5 .5-20 .5 25.7 .5-23.4 .5 14.3 .5-16.2 .5 19.4 .5-20.8 .5 25.4 .5-25.1 .5 18.1 .5-22.3 .5 22.8 .5-15.1 .5 15 .5-16.7 .5 18 .5-16.7 .5 19 .5-20.3 .5 19.1 .5-26.2 .5 23.1 .5-15.6 .5 17.5 .5-27.4 .5 35.8 .4-28.4 .5 23.7 .5-27.2 .5 22 .5-18.5 .5 21.7 .5-28.6 .5 22.9 .5-18.5 .5 19.3 .5-22.6 .5 22.2 .5-17.9 .5 20.2 .5-19.5 .5 22.5 .5-25.4 .5 21.8 .5-16.4 .5 21.9 .5-23.9 .5 19 .5-16.1 .5 21.8 .5-24.6 .5 17.5 .5-17.6 .5 21.2 .5-18.4 .5 23.2 .5-23.1 .5 17.5 .5-15.8 .5 14.3 .5-19.3 .5 24.3 .5-26.3 .5 22.2 .5-17 .5 16.7 .5-22.6 .5 24.1 .5-20.9 .5 21.4 .5-22.8 .5 23.4 .5-26 .5 33.1 .5-32.8 .5 22.2 .5-19 .5 27.4 .5-28.3 .5 18.9 .5-18.2 .5 22.8 .5-22 .5 19.5 .5-22 .5 23.1 .5-32.4 .5 41 .5-24.7 .5 19.9 .5-19.6 .5 28.3 .5-32.8 .5 24.1 .5-22 .5 24 .5-25.8 .5 28.8 .5-36.7 .5 27.3 .5-25.7 .5 21.7 .5-19.3 .5 19.3 .5-20.5 .5 22.6 .5-27.2 .5 26.1 .5-29.3 .5 27.6 .5-17.5 .5 21.4 .4-23.2 .5 27 .5-21.4 .5 14.6 .5-21.9 .5 32.5 .5-39.5 .5 32.5 .5-18.6 .5 19.9 .5-27.4 .5 24.5 .5-21 .5 17.8 .5-20.1 .5 23.7 .5-18.3 .5 17 .5-21.8 .5 24.3 .5-22.1 .5 17.8 .5-15 .5 21.1 .5-23.9 .5 22.1 .5-17.2 .5 19.5 .5-23.2 .5 28.8 .5-21.8 .5 24.2 .5-29.7 .5 20 .5-31.5 .5 27.7 .5-24.3 .5 24 .5-14 .5 14.6 .5-15.8 .5 28.5 .5-31.7 .5 26.2 .5-21 .5 15 .5-16.9 .5 18.7 .5-23.4 .5 27.7 .5-19.1 .5 23.7 .5-30.9 .5 20.3 .5-19.9 .5 25 .5-26.3 .5 27.5 .5-29.4 .5 31 .5-27 .5 30.2 .5-34 .5 25.6 .5-26.1 .5 19.2 .5-14.4 .5 16.8 .5-13.8 .5 17.7 .5-22.1 .5 29.6 .5-23.4 .5 16.5 .5-19.8 .5 19.9 .5-22.1 .5 19.9 .5-23.7 .5 32.9 .5-31.9 .5 22.5 .5-25.5 .5 22 .5-15.7 .5 20.1 .4-21.2 .5 19.8 .5-27.9 .5 30.4 .5-29.4 .5 26.3 .5-23.1 .5 18.7 .5-18.2 .5 20.5 .5-27.5 .5 21.8 .5-14.3 .5 20.1 .5-19.4 .5 17.5 .5-23.1 .5 28.6 .5-34.4 .5 24 .5-25 .5 29.9 .5-20.5 .5 17.2 .5-22.3 .5 33.4 .5-31.3 .5 25.5 .5-23.5 .5 25 .5-21.1 .5 23.8 .5-24.5 .5 17.6 .5-18.7 .5 20.7 .5-22 .5 24.8 .5-25.8 .5 30.2 .5-26.7 .5 19.9 .5-19.9 .5 21.7 .5-16.6 .5 19.1 .5-20.6 .5 23.1 .5-38 .5 33 .5-21.2 .5 21.7 .5-22.2 .5 27.5 .5-24.9 .5 22.9 .5-26.8 .5 24 .5-26.1 .5 19.3 .5-19.2 .5 21.4 .5-16.6 .5 21.1 .5-30.2 .5 24.3 .5-19 .5 19.2 .5-26.9 .5 32.3 .5-24.5 .5 20 .5-25.4 .5 23.9 .5-17.3 .5 19.3 .5-18.9 .5 21.3 .5-26.5 .5 24.7 .5-17 .5 16.7 .5-16.7 .5 23 .5-24.7 .5 32.7 .4-30.8 .5 21.8 .5-20.7 .5 18.6 .5-17.7 .5 15.9 .5-19.5 .5 22 .5-25.8 .5 25.9 .5-17.8 .5 21.5 .5-18.9 .5 14.2 .5-17.8 .5 25.3 .5-24.3 .5 15.5 .5-20.7 .5 18.7 .5-16.9 .5 19.6 .5-25.2 .5 22.9 .5-18.9 .5 18.1 .5-26 .5 31.2 .5-23.1 .5 23.6 .5-20.9 .5 27.9 .5-32.2 .5 19.7 .5-21.9 .5 26.2 .5-31.1 .5 30.9 .5-19.9 .5 21.1 .5-33.1 .5 32 .5-27.5 .5 27.5 .5-24.8 .5 20.3 .5-16.5 .5 13.7 .5-17.5 .5 19.7 .5-15.8 .5 14.6 .5-14.4 .5 17.3 .5-17.6 .5 23.8 .5-25.9 .5 27.9 .5-29.4 .5 16.2 .5-23 .5 26.4 .5-30.6 .5 30.5 .5-23.7 .5 28.6 .5-29.1 .5 21.3 .5-19.6 .5 20.5 .5-14.7 .5 13.8 .5-13.8 .5 23.6 .5-28.2 .5 33.9 .5-30.7 .5 18.9 .5-16.3 .5 26.7 .5-21.7 .5 26.9 .5-31.2 .5 16.9 .5-16 .5 19.2 .4-24.2 .5 29.4 .5-34.1 .5 35.1 .5-31.8 .5 22.2 .5-11.9 .5 15.4 .5-22.8 .5 22.7 .5-18.2 .5 26.4 .5-26.2 .5 22.5 .5-29.1 .5 23.6 .5-21.2 .5 18.9 .5-16.2 .5 20.2 .5-21.5 .5 24.5 .5-20.4 .5 15.6 .5-18.4 .5 25.7 .5-22.8 .5 21.8 .5-24.2 .5 19.8 .5-23 .5 22 .5-22 .5 28.4 .5-26.4 .5 20.8 .5-23.3 .5 23.6 .5-20.1 .5 15.9 .5-17.1 .5 15.9 .5-22.9 .5 19.6 .5-16.5 .5 17.5 .5-14.6 .5 16.4 .5-12.5 .5 21.4 .5-28.6 .5 31.1 .5-32.1 .5 24.8 .5-16.9 .5 23.9 .5-31.4 .5 22.1 .5-13.7 .5 14.7 .5-19.2 .5 18.6 .5-21 .5 22.9 .5-23.6 .5 23.3 .5-18.8 .5 22.4 .5-23.3 .5 24.8 .5-21.3 .5 26.2 .5-25.7 .5 22.1 .5-21.3 .5 30.2 .5-37.2 .5 22.6 .5-24.1 .5 23.4 .5-19.9 .5 16.3 .5-15.1 .5 15.9 .5-21.5 .5 25.2 .4-16.7 .5 28.6 .5-31.7 .5 19.8 .5-17.6 .5 15.8 .5-22.5 .5 20.9 .5-20 .5 27.8 .5-26.1 .5 21.3 .5-27.8 .5 24.7 .5-22 .5 29.6 .5-20.2 .5 19.5 .5-20.6 .5 18.1 .5-18 .5 20.1 .5-21.7 .5 24.3 .5-34.8 .5 28.6 .5-20.5 .5 22.7 .5-17.9 .5 18.4 .5-20.8 .5 16.6 .5-14.9 .5 28.8 .5-43.1 .5 39.5 .5-28.9 .5 28 .5-24.8 .5 20 .5-19.7 .5 22.4 .5-28.1 .5 22.5 .5-12.6 .5 18.2 .5-20.9 .5 22.6 .5-28.9 .5 27.6 .5-26.4 .5 31.8 .5-23.3 .5 19.7 .5-25 .5 20.2 .5-25 .5 24.4 .5-21.5 .5 30.2 .5-25.4 .5 15.6 .5-16.2 .5 15 .5-28.2 .5 33.4 .5-25.8 .5 24.4 .5-20.8 .5 16 .5-27.5 .5 28.4 .5-20.1 .5 19 .5-26.5 .5 31.3 .5-22.4 .5 19.8 .5-17.9 .5 17.6 .5-22.1 .5 32.4 .5-29.4 .5 23.8 .5-20.6 .5 29 .4-31.6 .5 24.1 .5-28 .5 29.2 .5-21.7 .5 19.6 .5-18 .5 15.7 .5-27.2 .5 35.7 .5-33.7 .5 20.2 .5-20.6 .5 31.1 .5-30.3 .5 23.4 .5-17.3 .5 21.2 .5-20 .5 15.1 .5-15.2 .5 23.8 .5-27.8 .5 28.8 .5-24 .5 18.8 .5-29.6 .5 25.1 .5-17.7 .5 18.6 .5-19 .5 22.3 .5-25 .5 23.4 .5-23.6 .5 17.6 .5-17.7 .5 21.7 .5-24.7 .5 27.2 .5-24.8 .5 17.2 .5-27 .5 38.4 .5-33.5 .5 26.3 .5-21.2 .5 26.5 .5-24.9 .5 21.3 .5-21.1 .5 22 .5-22.8 .5 29.5 .5-25.2 .5 19.1 .5-15.9 .5 19.5 .5-31.3 .5 32.1 .5-20.1 .5 16.6 .5-23.4 .5 26 .5-28.6 .5 26.9 .5-25.2 .5 19.9 .5-18.1 .5 18 .5-20.9 .5 24.6 .5-21.4 0 23.6" stroke="#f00"/>
<path d="M55.7 1401.4l.5 21.9 .5-22.7 .5 27.6 .5-22.5 .5 17.5 .5-22 .5 18.4 .5-16.3 .5 17.7 .5-15.3 .5 20.3 .5-26 .5 20 .5-19.1 .5 16.4 .5-13 .5 15.2 .5-20.6 .5 21 .5-15.3 .5 14.1 .5-14.7 .5 15.8 .5-16.3 .5 18.1 .5-15.5 .5 15.4 .5-15.9 .5 15.9 .5-21.8 .5 19.8 .5-20.6 .5 28.8 .5-24.3 .5 23.3 .5-19.7 .5 14.8 .5-13.6 .5 23.3 .5-34.1 .5 29.6 .5-19.2 .5 15.2 .4-16.6 .5 14.2 .5-17.8 .5 23.2 .5-27.5 .5 21.2 .5-13.5 .5 13.5 .5-16.9 .5 19 .5-19.4 .5 15 .5-14 .5 15.3 .5-12 .5 15.9 .5-22.1 .5 21.9 .5-22.1 .5 17.6 .5-13.5 .5 13.9 .5-17.1 .5 22.1 .5-17.3 .5 25.4 .5-26.1 .5 19.8 .5-14.9 .5 13.9 .5-17.2 .5 22.4 .5-18.4 .5 17.6 .5-26 .5 20.8 .5-22.4 .5 16.3 .5-13 .5 16.6 .5-16.2 .5 16.8 .5-16.2 .5 13.9 .5-14.9 .5 15.1 .5-16 .5 24.1 .5-21.3 .5 27.3 .5-32.2 .5 24.6 .5-20.7 .5 13 .5-16.2 .5 16.7 .5-14.3 .5 14.2 .5-17.3 .5 19 .5-15.8 .5 15.5 .5-14.7 .5 13.8 .5-12.6 .5 17.9 .5-17.8 .5 16.4 .5-16.6 .5 17.5 .5-22.9 .5 20 .5-14.1 .5 15.8 .5-17.4 .5 13.2 .5-12.5 .5 18.4 .5-19.7 .5 13.7 .5-12.3 .5 16.1 .5-17.6 .5 17.9 .5-21 .5 26.8 .4-18.5 .5 13.7 .5-19.3 .5 23.1 .5-17.9 .5 16.1 .5-21 .5 19.8 .5-14.8 .5 21.2 .5-27.2 .5 18.6 .5-18.3 .5 22.1 .5-23.5 .5 21.7 .5-27.1 .5 21.5 .5-14.8 .5 17.4 .5-17.1 .5 19.4 .5-17.9 .5 18.4 .5-23.5 .5 19.3 .5-16.5 .5 15.8 .5-17 .5 17.5 .5-20.9 .5 23.5 .5-14.8 .5 13.6 .5-10.2 .5 13.8 .5-17.7 .5 23.7 .5-22.5 .5 14.3 .5-18.7 .5 17.7 .5-13 .5 13.8 .5-16.9 .5 24.5 .5-24.7 .5 18.4 .5-17.3 .5 22.4 .5-22 .5 21.7 .5-21.5 .5 15.7 .5-17 .5 17.1 .5-15 .5 12.1 .5-11.7 .5 13.7 .5-16.3 .5 17.1 .5-12.3 .5 15.6 .5-15.8 .5 16.6 .5-18.2 .5 17.5 .5-19.2 .5 15.8 .5-18.5 .5 19.1 .5-19.6 .5 18.3 .5-15.3 .5 19.5 .5-16.6 .5 13.4 .5-17.2 .5 25.1 .5-20.2 .5 19.1 .5-20.8 .5 16.2 .5-13.2 .5 18.3 .4-19.4 .5 14.2 .5-13.6 .5 11.7 .5-18.1 .5 21.9 .5-19.8 .5 17.1 .5-18.4 .5 13.9 .5-14.8 .5 13.6 .5-9.4 .5 30.8 .5-33.4 .5 13.1 .5-9.9 .5 22.4 .5-27.6 .5 19.4 .5-19.3 .5 15.9 .5-11.4 .5 24.8 .5-25 .5 16.5 .5-18.8 .5 18.4 .5-12.5 .5 16 .5-20.7 .5 19.2 .5-16.4 .5 16.6 .5-17.9 .5 26.8 .5-34 .5 20.1 .5-19.4 .5 25.6 .5-20.8 .5 13.8 .5-21.8 .5 21.5 .5-14.6 .5 20.1 .5-19 .5 19 .5-18.8 .5 18.7 .5-15.3 .5 13.9 .5-19.1 .5 15.5 .5-9.8 .5 12.9 .5-13.1 .5 15.1 .5-17.4 .5 17.9 .5-28.4 .5 24.8 .5-15 .5 16.3 .5-15.7 .5 16.5 .5-20.1 .5 24.6 .5-22.8 .5 20.2 .5-19.8 .5 17.6 .5-18.5 .5 18.6 .5-15.4 .5 13.5 .5-18.3 .5 22.5 .5-16.8 .5 13.4 .5-17.3 .5 20.2 .5-19.3 .5 20.2 .5-24.2 .5 16.8 .4-14.1 .5 14.9 .5-13.7 .5 14.3 .5-19.3 .5 21.6 .5-24.8 .5 21.7 .5-13.9 .5 23.9 .5-32.2 .5 22.6 .5-18.2 .5 14.9 .5-19.8 .5 23.2 .5-19.5 .5 17.6 .5-13.7 .5 19 .5-16.1 .5 17.1 .5-16.9 .5 17.4 .5-22.9 .5 22.8 .5-20.9 .5 19.5 .5-15.3 .5 12.1 .5-14.3 .5 15.7 .5-15.2 .5 23.2 .5-22.7 .5 12.7 .5-12.7 .5 15.2 .5-19.7 .5 16.9 .5-17.5 .5 16.3 .5-14.5 .5 24.9 .5-23.9 .5 14.7 .5-20.5 .5 33 .5-25.6 .5 14.7 .5-13.7 .5 18.1 .5-23.1 .5 22 .5-14.6 .5 11.7 .5-17.5 .5 20.1 .5-16.5 .5 17.2 .5-15.3 .5 14.7 .5-21.7 .5 21.7 .5-18.6 .5 17.2 .5-16.7 .5 16.7 .5-20.3 .5 19.6 .5-10.6 .5 12.5 .5-15.2 .5 18.1 .5-17.6 .5 14.3 .5-15.8 .5 19.2 .5-18.5 .5 21.4 .5-22.8 .5 26.2 .5-23.6 .5 16.7 .5-17.8 .5 14 .4-22 .5 18.3 .5-9.9 .5 12.1 .5-15.3 .5 19.7 .5-18.9 .5 22.9 .5-26.6 .5 21.9 .5-16.8 .5 12.6 .5-16.2 .5 18.3 .5-15 .5 12.5 .5-10.7 .5 19.7 .5-21.3 .5 17 .5-16.7 .5 15.3 .5-23.6 .5 27.4 .5-19.8 .5 18.1 .5-16.8 .5 18.2 .5-19.5 .5 17.7 .5-22.5 .5 28.6 .5-27.8 .5 22.7 .5-22 .5 14.7 .5-17.4 .5 14.6 .5-10.5 .5 20.3 .5-24.8 .5 22.7 .5-16.3 .5 17.1 .5-15 .5 16.2 .5-17.9 .5 22.1 .5-27.7 .5 21 .5-16.1 .5 22.7 .5-24.8 .5 23.8 .5-28.9 .5 18.4 .5-21.3 .5 22.7 .5-17.2 .5 19.6 .5-15.7 .5 22.1 .5-22.5 .5 15.2 .5-13.9 .5 18.7 .5-22.7 .5 20.4 .5-19.7 .5 17.9 .5-17.5 .5 13.1 .5-8 .5 12.7 .5-17.2 .5 18.7 .5-15.8 .5 16.1 .5-24.4 .5 35.1 .5-25.9 .5 15.4 .5-25 .5 20.3 .5-13.8 .5 16.6 .4-17.2 .5 21.9 .5-22.8 .5 21.5 .5-22.3 .5 19.7 .5-20.1 .5 23.6 .5-22.9 .5 14.5 .5-16.3 .5 17.6 .5-18.3 .5 18.2 .5-13.7 .5 15.4 .5-17.2 .5 28.8 .5-28.8 .5 19.6 .5-18.2 .5 13.6 .5-18.9 .5 20.2 .5-17.4 .5 17.3 .5-17.3 .5 16.8 .5-19.8 .5 21.3 .5-14.6 .5 14.2 .5-19 .5 40.5 .5-33 .5 13.9 .5-17.6 .5 22.8 .5-18 .5 13.7 .5-16.5 .5 14.3 .5-14.8 .5 17.2 .5-17.9 .5 26 .5-27.9 .5 25.4 .5-21.5 .5 14.3 .5-22.6 .5 23.9 .5-19.8 .5 17.3 .5-11.8 .5 13.5 .5-17.1 .5 24.2 .5-29.9 .5 20.5 .5-15.9 .5 13.2 .5-16.6 .5 22.6 .5-22.9 .5 19.1 .5-16.7 .5 24.7 .5-22.8 .5 14.7 .5-16.5 .5 23.8 .5-17.3 .5 24.1 .5-27.3 .5 26.2 .5-28 .5 23 .5-20.3 .5 18.6 .5-22 .5 26 .5-28.6 .5 21.1 .5-20.9 .5 19.6 .4-15.1 .5 12.3 .5-18.5 .5 18.1 .5-17.2 .5 15.5 .5-9.5 .5 11.4 .5-14.7 .5 15.3 .5-16.1 .5 18.3 .5-18.1 .5 19.3 .5-16.3 .5 14.5 .5-15.4 .5 16.9 .5-20 .5 17.1 .5-18.3 .5 18.6 .5-9.5 .5 12.9 .5-14.1 .5 13.7 .5-21.1 .5 26.4 .5-19.1 .5 21.9 .5-23.8 .5 20 .5-23.8 .5 24.3 .5-21.5 .5 17.9 .5-21 .5 22.5 .5-19.9 .5 16.9 .5-18.1 .5 18.5 .5-15.6 .5 14.6 .5-11.6 .5 14.5 .5-15.7 .5 16.8 .5-18.5 .5 30 .5-30.9 .5 20.2 .5-16.1 .5 15 .5-15 .5 52.3 .5-59.1 .5 27 .5-32.9 .5 27.1 .5-17 .5 15.5 .5-12.9 .5 26.5 .5-26 .5 13.4 .5-20.2 .5 28.5 .5-27 .5 18.1 .5-21.5 .5 24.9 .5-21.2 0 24.2" stroke="#0f0"/>
<path d="M55.7 1563.9l1 6.2 1-6.2 1 7.5 1-7.5 1 5 1-5 1 5 1-5 1 5 1-6.3 1 7.5 1-7.5 1.1 7.5 1-6.2 1 6.2 1-8.7 1 7.5 1-5 1 6.2 1-7.5 1 6.3 1-6.3 1 6.3 1-6.3 1 7.5 1-6.2 1 6.2 1-6.2 1 6.2 1-6.2 1 7.5 1-7.5 1 6.2 1-5 1 6.3 1-8.8 1 6.3 1.1-5 1 5 1-5 1 5 1-5 1 5 1-5 1 5 1-5 1 7.5 1-8.8 1 8.8 1-8.8 1 6.3 1-7.5 1 8.7 1-6.2 1 7.5 1-8.8 1 6.3 1-5 1 6.2 1-7.5 1 7.5 1-7.5 1.1 6.3 1-5 1 6.2 1-7.5 1 7.5 1-6.2 1 6.2 1-6.2 1 5 1-7.5 1 7.5 1-6.3 1 6.3 1-7.5 1 7.5 1-6.3 1 6.3 1-6.3 1 6.3 1-6.3 1 7.5 1-8.7 1 10 1-7.5 1.1 6.2 1-7.5 1 6.3 1-7.5 1 8.7 1-6.2 1 6.2 1-6.2 1 6.2 1-7.5 1 5 1-3.7 1 5 1-8.8 1 10 1-7.5 1 6.3 1-8.8 1 8.8 1-7.5 1 7.5 1-8.8 1 8.8 1-6.3 1 5 1.1-8.7 1 10 1-6.3 1 7.5 1-8.7 1 7.5 1-8.8 1 8.8 1-6.3 1 6.3 1-7.5 1 6.2 1-6.2 1 7.5 1-10 1 10 1-8.8 1 8.8 1-7.5 1 7.5 1-6.3 1 7.5 1-10 1 7.5 1-5 1.1 8.8 1-10 1 8.7 1-6.2 1 3.7 1-5 1 6.3 1-7.5 1 10 1-8.8 1 7.5 1-8.7 1 6.2 1-5 1 8.8 1-10 1 8.7 1-6.2 1 3.7 1-7.5 1 10 1-7.5 1 8.8 1-10 1 7.5 1.1-5 1 5 1-7.5 1 6.2 1-7.5 1 8.8 1-5 1 5 1-5 1 3.7 1-7.5 1 8.8 1-6.3 1 5 1-5 1 6.3 1-6.3 1 6.3 1-6.3 1 8.8 1-8.8 1 7.5 1-8.7 1 7.5 1-7.5 1.1 7.5 1-6.3 1 5 1-5 1 7.5 1-7.5 1 6.3 1-7.5 1 10 1-7.5 1 6.2 1-8.7 1 6.2 1-6.2 1 8.7 1-7.5 1 6.3 1-6.3 1 5 1-6.2 1 7.5 1-6.3 1 5 1-5 1.1 5 1-6.2 1 6.2 1-3.7 1 7.5 1-8.8 1 6.3 1-8.8 1 8.8 1-6.3 1 6.3 1-6.3 1 6.3 1-8.8 1 10 1-6.2 1 3.7 1-5 1 5 1-5 1 5 1-3.7 1 6.2 1-8.7 1 10 1.1-11.3 1 8.8 1-6.3 1 6.3 1-7.5 1 7.5 1-7.5 1 6.2 1-7.5 1 8.8 1-6.3 1 5 1-5 1 6.3 1-8.8 1 10 1-7.5 1 5 1-5 1 5 1-6.2 1 6.2 1-6.2 1 7.5 1-7.5 1.1 6.2 1-5 1 6.3 1-6.3 1 5 1-7.5 1 7.5 1-5 1 7.5 1-8.7 1 6.2 1-6.2 1 6.2 1-5 1 6.3 1-7.5 1 7.5 1-6.3 1 8.8 1-8.8 1 7.5 1-8.7 1 6.2 1-6.2 1 7.5 1.1-6.3 1 5 1-5 1 6.3 1-7.5 1 6.2 1-7.5 1 10 1-8.7 1 6.2 1-3.7 1 5 1-7.5 1 6.2 1-6.2 1 8.7 1-8.7 1 7.5 1-5 1 3.7 1-6.2 1 10 1-8.8 1 6.3 1-6.3 1.1 5 1-5 1 5 1-6.2 0 6.2" stroke="#00f"/>
<path d="M55.7 1514.6l.5 12.7 .5-15.8 .5 17.7 .5-14.8 .5 11.3 .5-12 .5 12.8 .5-13.7 .5 15.4 .5-19.1 .5 13 .5-11.3 .5 14.1 .5-11.8 .5 19.2 .5-26.5 .5 19.4 .5-16.4 .5 23.2 .5-17.1 .5 15.3 .5-15.8 .5 14.9 .5-16.9 .5 13.2 .5-11.5 .5 11.7 .5-11.6 .5 9.4 .5-10.1 .5 13.5 .5-18.1 .5 21.1 .5-13.9 .5 18.3 .5-27.5 .5 21.4 .5-13.7 .5 10.5 .5-13.9 .5 17.6 .5-16.6 .5 12 .4-10.1 .5 10.4 .5-14.5 .5 20 .5-21.5 .5 16 .5-10.5 .5 14 .5-17.1 .5 19.9 .5-20.3 .5 15.9 .5-14.2 .5 17.3 .5-15.1 .5 13.8 .5-12.1 .5 12 .5-13.9 .5 13.1 .5-16.4 .5 17.3 .5-13.3 .5 14.4 .5-18 .5 17.5 .5-13.5 .5 13.3 .5-15.2 .5 12.1 .5-10.5 .5 13.6 .5-12.7 .5 11.3 .5-12.8 .5 12.5 .5-13.3 .5 17 .5-17.5 .5 13.3 .5-9.8 .5 15.5 .5-19.6 .5 15.9 .5-10.7 .5 11.8 .5-19.6 .5 18.7 .5-12.2 .5 10 .5-11.6 .5 17.6 .5-16.9 .5 14.7 .5-21.3 .5 21.5 .5-20.5 .5 17.7 .5-9.7 .5 10.1 .5-16.7 .5 17.8 .5-14.5 .5 11.1 .5-10.8 .5 18.5 .5-19.4 .5 11.4 .5-16.6 .5 21.2 .5-15.6 .5 15.1 .5-13.3 .5 16.2 .5-16.1 .5 13.6 .5-17.3 .5 13 .5-10.9 .5 17.1 .5-19.8 .5 15.3 .5-14.2 .5 12 .5-10.7 .5 11.4 .4-14.2 .5 13.7 .5-11.8 .5 14.8 .5-18.8 .5 15.9 .5-10 .5 11.5 .5-12.7 .5 14.2 .5-16.8 .5 17 .5-12 .5 12.5 .5-21.5 .5 24 .5-20.1 .5 16.6 .5-13.8 .5 13.2 .5-15.4 .5 21.7 .5-24.8 .5 20.9 .5-21.2 .5 22.4 .5-18.9 .5 17.1 .5-17.5 .5 13.6 .5-8.7 .5 12 .5-17.1 .5 24.7 .5-23 .5 15.5 .5-13.8 .5 10.6 .5-13.9 .5 15 .5-12.8 .5 11 .5-10.5 .5 18.3 .5-17.7 .5 10.7 .5-8.3 .5 11 .5-16.1 .5 17 .5-12.7 .5 10.6 .5-14.1 .5 11.7 .5-15.6 .5 21.7 .5-21.1 .5 16.8 .5-15.7 .5 22.9 .5-17.7 .5 16.1 .5-24.5 .5 21.4 .5-15.8 .5 17.1 .5-20.9 .5 12.6 .5-10.8 .5 12.2 .5-10.7 .5 16.8 .5-21.3 .5 18.9 .5-12.9 .5 14.1 .5-14.2 .5 9.8 .5-10.2 .5 14.1 .5-18.1 .5 15.1 .5-8.6 .5 13.3 .5-13.1 .5 12.2 .4-11.8 .5 11.8 .5-16.6 .5 17.4 .5-12.9 .5 17.1 .5-24.1 .5 15.8 .5-11.6 .5 15.2 .5-13.9 .5 11.1 .5-12.3 .5 11.1 .5-18.6 .5 17.1 .5-7.8 .5 11 .5-16 .5 15.7 .5-15.5 .5 11.1 .5-9.8 .5 13.8 .5-11.5 .5 9.5 .5-12.3 .5 11.9 .5-10.6 .5 20.7 .5-22.6 .5 14.5 .5-14 .5 15.6 .5-15.6 .5 15.5 .5-14 .5 15.5 .5-15.2 .5 16.3 .5-10.5 .5 14.9 .5-15.4 .5 13.3 .5-15.5 .5 10.5 .5-11.3 .5 13.3 .5-16 .5 20.6 .5-18.8 .5 14.7 .5-17.9 .5 19.3 .5-20.5 .5 20.3 .5-15.8 .5 11.9 .5-17.2 .5 18.4 .5-19.5 .5 16 .5-14 .5 12.8 .5-9.3 .5 10.7 .5-13 .5 17 .5-14.8 .5 12.8 .5-13.8 .5 11.2 .5-13.5 .5 17.6 .5-15.6 .5 13.2 .5-10.7 .5 10 .5-11 .5 11.6 .5-12.4 .5 11.6 .5-13.5 .5 14 .5-19.2 .5 16.7 .4-9.5 .5 11.9 .5-18.6 .5 12.9 .5-21.6 .5 10.5 .5-16.6 .5 16.7 .5-15.2 .5 19.3 .5-20.7 .5 12.8 .5-13.8 .5 17.4 .5-16.2 .5 15.6 .5-14.4 .5 18.2 .5-13.9 .5 11 .5-19.9 .5 19.6 .5-13.2 .5 14.4 .5-17.5 .5 16.3 .5-13.3 .5 15.6 .5-16 .5 13.8 .5-12.4 .5 14.8 .5-13.1 .5 10.2 .5-7.5 .5 12.7 .5-13.1 .5 10.9 .5-10.8 .5 12.9 .5-13.5 .5 15.5 .5-19.9 .5 17 .5-17.4 .5 15.4 .5-13.6 .5 13.3 .5-10.6 .5 19.1 .5-23.9 .5 15.9 .5-13.9 .5 11.3 .5-10.2 .5 14.5 .5-21.7 .5 16.6 .5-13.4 .5 17.9 .5-20.4 .5 18.4 .5-15.9 .5 17.6 .5-19.7 .5 22.1 .5-18.4 .5 17.8 .5-17.2 .5 13 .5-16 .5 13 .5-9.6 .5 16.9 .5-19.2 .5 16.7 .5-12.9 .5 13.7 .5-14 .5 12.2 .5-13.1 .5 14.9 .5-20.4 .5 16.1 .5-11 .5 10 .4-11.3 .5 13.1 .5-17.9 .5 15 .5-7.9 .5 10.9 .5-11.9 .5 11.6 .5-16.1 .5 19.3 .5-14 .5 16.2 .5-16.1 .5 12.4 .5-14.6 .5 13.9 .5-13.3 .5 13.2 .5-13.4 .5 16.5 .5-19.2 .5 12 .5-13.6 .5 13.7 .5-9.4 .5 15.1 .5-18.5 .5 13 .5-13.3 .5 14.1 .5-15.7 .5 19.2 .5-20.3 .5 22 .5-21.9 .5 15.7 .5-13.1 .5 13 .5-14.1 .5 12.9 .5-8.5 .5 15.1 .5-19.6 .5 18.1 .5-15.5 .5 15.1 .5-11.6 .5 11.3 .5-10.4 .5 13.1 .5-12.7 .5 13.9 .5-13.9 .5 13.9 .5-15.1 .5 12.6 .5-12 .5 16.5 .5-23.4 .5 15.2 .5-10.6 .5 10.3 .5-10.6 .5 12 .5-14.5 .5 20.7 .5-17.8 .5 14.9 .5-17.3 .5 13.1 .5-18.8 .5 27.8 .5-27.5 .5 20.4 .5-12.5 .5 12.7 .5-13.6 .5 11.5 .5-11.5 .5 14.6 .5-16.5 .5 15.2 .5-11.4 .5 14 .5-16.7 .5 14.5 .4-13.1 .5 11.1 .5-16.9 .5 18.4 .5-13.9 .5 16 .5-14.9 .5 13.6 .5-11.7 .5 14 .5-13.2 .5 10 .5-12.3 .5 20.3 .5-19.9 .5 11.9 .5-15.4 .5 14.9 .5-11.9 .5 10.4 .5-10.4 .5 9.9 .5-12.9 .5 16.3 .5-16.9 .5 17.1 .5-12.3 .5 9.6 .5-11 .5 17 .5-12.9 .5 18.3 .5-21.4 .5 11.1 .5-20.2 .5 22.9 .5-18.1 .5 17.4 .5-15 .5 13.5 .5-16.7 .5 13.8 .5-16.5 .5 16.1 .5-12.7 .5 19.8 .5-20.8 .5 14.5 .5-11.4 .5 11.1 .5-10 .5 13.9 .5-14.6 .5 12.3 .5-11.6 .5 13.2 .5-14.6 .5 16.3 .5-15.8 .5 13.3 .5-11.1 .5 10.3 .5-11.2 .5 11.1 .5-11.7 .5 11.1 .5-9.1 .5 19.8 .5-24.8 .5 16 .5-13.8 .5 13 .5-11.2 .5 10.7 .5-15.2 .5 16.2 .5-16 .5 22.4 .5-21.2 .5 17.3 .5-21.4 .5 21.2 .5-14.4 .5 18 .5-18 .5 12.6 .4-13.3 .5 17.2 .5-15.2 .5 13.6 .5-10.7 .5 13 .5-17.3 .5 12.3 .5-10.2 .5 12.9 .5-13.7 .5 11.1 .5-9.7 .5 11.1 .5-15.8 .5 15.4 .5-13.5 .5 15 .5-15.9 .5 20.7 .5-20.1 .5 15 .5-16.2 .5 16.8 .5-14.8 .5 15.1 .5-15.3 .5 12.6 .5-12.4 .5 12.1 .5-9.9 .5 12.2 .5-17.3 .5 18.8 .5-14.4 .5 13.7 .5-15.3 .5 17.6 .5-15.5 .5 10.9 .5-10.7 .5 8.8 .5-11.9 .5 13.7 .5-14.8 .5 14.5 .5-15.9 .5 23.8 .5-19.3 .5 10.3 .5-16.7 .5 23 .5-20.8 .5 13.7 .5-15.3 .5 17.4 .5-22.3 .5 17.9 .5-11.3 .5 18.4 .5-20.5 .5 15.1 .5-12.5 .5 17.7 .5-15.1 .5 14.3 .5-14.7 .5 12.3 .5-17.4 .5 17.1 .5-9.9 .5 10.2 .5-11.8 0 10.1" stroke="#ff0"/>
<path d="M55.7 1486.3l.5 37.7 .5-34.5 .5 23.2 .5-26.8 .5 26.2 .5-22.2 .5 23.4 .5-28.2 .5 23 .5-20.9 .5 34.5 .5-32.1 .5 30 .5-35.1 .5 39.1 .5-37.9 .5 27.8 .5-25.8 .5 27.7 .5-26.4 .5 38.7 .5-39.9 .5 27.5 .5-32.6 .5 29.3 .5-20.4 .5 22 .5-21 .5 26.4 .5-17.9 .5 22 .5-26.5 .5 21.2 .5-22.4 .5 28.7 .5-27.1 .5 28.2 .5-33.3 .5 27.7 .5-26.5 .5 31 .5-29.5 .5 30.1 .4-29 .5 27.1 .5-30 .5 20.6 .5-34.4 .5 36.8 .5-26.8 .5 22.2 .5-19.2 .5 24 .5-36.4 .5 41.2 .5-29.7 .5 30 .5-29.7 .5 31.9 .5-32 .5 27.1 .5-27.3 .5 30.5 .5-31.4 .5 36 .5-36.2 .5 26.4 .5-22.4 .5 34.1 .5-42.7 .5 28.6 .5-20.1 .5 20.2 .5-28.5 .5 40.2 .5-48.2 .5 45.8 .5-23.1 .5 22 .5-25.9 .5 28.3 .5-32.8 .5 28.6 .5-21.9 .5 19.5 .5-15.6 .5 24.2 .5-26.4 .5 33.1 .5-29 .5 18.4 .5-21.3 .5 23.6 .5-33.8 .5 46.8 .5-45.8 .5 31.2 .5-30.4 .5 27.2 .5-25.9 .5 23.6 .5-24.4 .5 26.9 .5-30.7 .5 29.5 .5-27.3 .5 34 .5-36.4 .5 35 .5-34.2 .5 31.4 .5-41.3 .5 36.5 .5-28.1 .5 37.6 .5-31.3 .5 31.7 .5-32.3 .5 23.7 .5-36.9 .5 40 .5-25.6 .5 19.4 .5-24.4 .5 32.1 .5-26.3 .5 22.8 .5-21.8 .5 20.8 .4-35.8 .5 40.1 .5-28.5 .5 26.2 .5-28.1 .5 22.7 .5-20.7 .5 23.2 .5-27.1 .5 22.5 .5-38.6 .5 39.8 .5-23.6 .5 22.7 .5-30.5 .5 39.2 .5-29 .5 20.7 .5-33.7 .5 35.3 .5-30.1 .5 39.6 .5-31.4 .5 27 .5-26.5 .5 22.2 .5-33.9 .5 33.5 .5-25.1 .5 25.9 .5-27.3 .5 34.7 .5-30.8 .5 24.3 .5-26.2 .5 28.4 .5-24.2 .5 27.9 .5-39.7 .5 32.8 .5-31.8 .5 37.8 .5-27.4 .5 19.7 .5-18.5 .5 17.9 .5-32.2 .5 40.9 .5-30 .5 27.6 .5-29.3 .5 21.7 .5-26.3 .5 37.6 .5-41.9 .5 40.7 .5-30.4 .5 19.1 .5-19.8 .5 21.6 .5-24.2 .5 31.1 .5-31.7 .5 35.6 .5-36.8 .5 28.3 .5-30.4 .5 23.7 .5-19 .5 27.8 .5-36.4 .5 33.5 .5-28.8 .5 27.1 .5-23.4 .5 28.2 .5-25.7 .5 35.2 .5-42.4 .5 29.3 .5-26.1 .5 30.4 .5-26.7 .5 19.2 .5-34.2 .5 36.6 .4-23 .5 24.6 .5-21.4 .5 24.1 .5-35 .5 32.7 .5-19.4 .5 25.8 .5-27 .5 23.6 .5-22.5 .5 18.8 .5-15.4 .5 25.3 .5-23.7 .5 19.9 .5-26.5 .5 28.7 .5-34.6 .5 29.7 .5-23.2 .5 22.8 .5-21.9 .5 20.4 .5-14.6 .5 20.8 .5-28 .5 27.8 .5-26.7 .5 27 .5-28.5 .5 30.1 .5-25.9 .5 24.5 .5-37 .5 39.4 .5-41 .5 32.4 .5-31.1 .5 33.9 .5-24.1 .5 20.8 .5-40.4 .5 45.7 .5-33.7 .5 26.6 .5-23.6 .5 35 .5-24.6 .5 28.7 .5-44.5 .5 32 .5-24.4 .5 23.7 .5-20 .5 22.1 .5-25.8 .5 29.7 .5-30 .5 29.4 .5-42.3 .5 37.7 .5-32 .5 32.7 .5-35.5 .5 29.9 .5-20.8 .5 29.5 .5-20.9 .5 20.4 .5-20.4 .5 21.1 .5-18.5 .5 19 .5-22.1 .5 24.1 .5-26.5 .5 31.3 .5-32.6 .5 37.5 .5-39.4 .5 34.6 .5-36.4 .5 39.8 .5-34.4 .5 24 .4-29.5 .5 29.5 .5-24.6 .5 20.5 .5-24.3 .5 26.9 .5-20.6 .5 27.9 .5-36.5 .5 36 .5-22.7 .5 26.6 .5-23.5 .5 23.8 .5-28.3 .5 22.3 .5-27.7 .5 21 .5-27.5 .5 30 .5-31.4 .5 37.5 .5-25.3 .5 29.4 .5-29.1 .5 21.9 .5-19.2 .5 21.7 .5-24.2 .5 27 .5-35.6 .5 29.8 .5-20.6 .5 19.4 .5-28.8 .5 39.4 .5-51.9 .5 47.9 .5-25.5 .5 24.1 .5-27.3 .5 22.1 .5-24.5 .5 38.7 .5-37.9 .5 37 .5-34.2 .5 33.2 .5-41.2 .5 30 .5-31.4 .5 27.8 .5-21.1 .5 32.2 .5-34.3 .5 29.4 .5-37.6 .5 34.8 .5-21.9 .5 23.2 .5-22 .5 28.7 .5-37.2 .5 40.1 .5-47.2 .5 32.4 .5-28 .5 24 .5-25.6 .5 26.6 .5-32.4 .5 49.9 .5-51 .5 37 .5-20.4 .5 30.2 .5-29 .5 28.6 .5-30.8 .5 34.4 .5-35 .5 32 .5-42.5 .5 55.1 .5-34.6 .5 25.6 .4-35.3 .5 29.7 .5-28.7 .5 37.6 .5-41.8 .5 33.4 .5-23.2 .5 28.1 .5-24.4 .5 25.8 .5-32.9 .5 28.4 .5-23.5 .5 31.1 .5-40.4 .5 36.5 .5-34 .5 22.8 .5-13.2 .5 29.7 .5-32.6 .5 25.5 .5-30.9 .5 32.7 .5-36.2 .5 22.4 .5-24.3 .5 27.5 .5-25.9 .5 37.4 .5-37.3 .5 27.7 .5-33.7 .5 36.6 .5-26.4 .5 30.8 .5-27.6 .5 27.8 .5-31.1 .5 39.9 .5-44.5 .5 38 .5-26.2 .5 22.7 .5-14.8 .5 23.8 .5-33.2 .5 29.8 .5-25.1 .5 23.4 .5-28.4 .5 31.4 .5-25.7 .5 21.1 .5-36.5 .5 34.4 .5-25.7 .5 27.5 .5-43.9 .5 33.1 .5-22.5 .5 22.2 .5-17.5 .5 19.7 .5-28.8 .5 36.1 .5-30.1 .5 40.5 .5-37.6 .5 26.2 .5-35.1 .5 34.1 .5-24.6 .5 20.3 .5-17 .5 22.8 .5-29.2 .5 39.1 .5-37 .5 30 .5-35.7 .5 39.2 .5-50.6 .5 36.9 .5-21.8 .5 29.1 .4-25.4 .5 22.4 .5-26.1 .5 32.4 .5-27 .5 23 .5-25.3 .5 29.9 .5-24.4 .5 24.1 .5-32.2 .5 44.9 .5-35.5 .5 20.5 .5-18.2 .5 19.7 .5-21.4 .5 22.9 .5-25.6 .5 29.2 .5-29.5 .5 26.6 .5-40.9 .5 36.3 .5-20.2 .5 19 .5-23.4 .5 26.6 .5-19.2 .5 25.4 .5-29.2 .5 25.3 .5-36 .5 36.3 .5-25.3 .5 23.4 .5-24.1 .5 24.6 .5-21.4 .5 22.3 .5-24.9 .5 28.7 .5-24.1 .5 20 .5-31.5 .5 30.2 .5-27.4 .5 27.2 .5-21.9 .5 24.4 .5-21.5 .5 21.3 .5-29.4 .5 37.9 .5-34.5 .5 22.5 .5-25.2 .5 28.5 .5-23.7 .5 28.3 .5-27.5 .5 22 .5-23.7 .5 25.8 .5-31.5 .5 29 .5-31.8 .5 37.4 .5-34 .5 25.5 .5-20.3 .5 23.9 .5-29.4 .5 31.2 .5-30.5 .5 30.6 .5-26.5 .5 27.4 .5-31 .5 28 .5-19.9 .5 30.1 .5-37.2 .5 38.4 .5-37.7 .5 27.4 .4-27.3 .5 21.1 .5-18.3 .5 28.2 .5-26.6 .5 26 .5-27.8 .5 26.9 .5-30.2 .5 28.6 .5-32.6 .5 28.5 .5-25.8 .5 26.5 .5-20.8 .5 39.2 .5-54.1 .5 31.8 .5-15.3 .5 20.8 .5-36.7 .5 42.5 .5-32.2 .5 26.9 .5-24.9 .5 30.6 .5-38.8 .5 31.8 .5-27.8 .5 24.1 .5-25.5 .5 30 .5-33.6 .5 37.5 .5-30.7 .5 24.6 .5-23.5 .5 24.7 .5-25 .5 27.5 .5-24.9 .5 34 .5-38.4 .5 25.1 .5-33.4 .5 40.1 .5-25.2 .5 27.9 .5-40.2 .5 30.6 .5-21.5 .5 33.2 .5-36 .5 23.3 .5-25.5 .5 22.6 .5-26.3 .5 26.9 .5-25.2 .5 23.6 .5-31.7 .5 28.2 .5-16.3 .5 22.9 .5-29.7 .5 27 .5-23.3 .5 20.8 .5-20.3 .5 24.1 .5-39.2 .5 43.8 .5-26.2 0 21.8" stroke="#bc8f8f"/>
<path d="M55.7 1484l.5 15.5 .5-21.7 .5 27.3 .5-24.9 .5 19.2 .5-19.4 .5 15.7 .5-11.2 .5 14.9 .5-24.4 .5 20.6 .5-17.8 .5 17.9 .5-17.3 .5 16.9 .5-13.7 .5 20.3 .5-19 .5 12.3 .5-13.9 .5 13.7 .5-12.6 .5 12.3 .5-14.1 .5 11.3 .5-14.5 .5 19.3 .5-15.9 .5 12.9 .5-17.7 .5 21 .5-17.8 .5 19.4 .5-27.6 .5 21.2 .5-22.1 .5 22.1 .5-15.8 .5 20.2 .5-20.2 .5 19.8 .5-20.3 .5 18.3 .4-12.9 .5 18.5 .5-23.9 .5 24.1 .5-19.4 .5 19.2 .5-26.7 .5 30.4 .5-19 .5 14.8 .5-20.4 .5 15.2 .5-15.5 .5 17.5 .5-25.9 .5 29.5 .5-19.1 .5 18.3 .5-27.9 .5 21.5 .5-13.1 .5 19.7 .5-16.9 .5 13.6 .5-18.6 .5 20.8 .5-16.3 .5 18.5 .5-19 .5 15.1 .5-17.2 .5 17.6 .5-15 .5 16 .5-13.6 .5 24 .5-22.4 .5 18.3 .5-19.1 .5 14.5 .5-14 .5 13.9 .5-21 .5 22.4 .5-21.6 .5 24.6 .5-20.4 .5 16 .5-21 .5 21.1 .5-13.3 .5 21.8 .5-21.6 .5 16.6 .5-21.8 .5 19.4 .5-15.8 .5 13.7 .5-28.3 .5 25.6 .5-11.9 .5 13.3 .5-15.8 .5 21.8 .5-23.3 .5 15.9 .5-18 .5 16.7 .5-14.8 .5 18.8 .5-17.4 .5 16.2 .5-19.5 .5 17.3 .5-21 .5 24.3 .5-19.1 .5 21.2 .5-24.7 .5 19.9 .5-20.3 .5 20.1 .5-15.7 .5 22 .5-16.8 .5 12 .4-12.8 .5 17.8 .5-21.6 .5 23.1 .5-20 .5 16.4 .5-17.6 .5 14.4 .5-13.4 .5 24.9 .5-23.9 .5 14.6 .5-23.8 .5 21.3 .5-15 .5 17.5 .5-21.6 .5 16.1 .5-13.1 .5 17.1 .5-17.1 .5 17.8 .5-23.9 .5 26.8 .5-28 .5 20.5 .5-19.8 .5 18.1 .5-13.7 .5 15.8 .5-14.7 .5 15.8 .5-16.7 .5 25 .5-23.3 .5 18 .5-19.4 .5 24.4 .5-21.2 .5 16.4 .5-17.8 .5 15.6 .5-14 .5 17 .5-24.7 .5 21 .5-13 .5 11.4 .5-12.7 .5 24.8 .5-25.2 .5 12.5 .5-20.5 .5 20.5 .5-10.1 .5 16.7 .5-18.8 .5 18.4 .5-16.3 .5 13.8 .5-19.4 .5 25.1 .5-24.3 .5 19.3 .5-17.7 .5 16.7 .5-17.2 .5 16.2 .5-17.1 .5 14 .5-18 .5 14.8 .5-18.7 .5 16.8 .5-17.2 .5 19.9 .5-17.9 .5 20.8 .5-12.9 .5 10.9 .5-15.7 .5 15.7 .5-12 .5 15.5 .5-15.1 .5 16.3 .4-17.7 .5 15.7 .5-15.2 .5 15.2 .5-15.6 .5 25.2 .5-27.8 .5 20.2 .5-15.6 .5 21.3 .5-18.6 .5 20.2 .5-18.1 .5 17.6 .5-20.4 .5 14.7 .5-17.7 .5 19 .5-25.3 .5 25.7 .5-14.6 .5 14.9 .5-18.2 .5 18.7 .5-23.5 .5 25.2 .5-20.4 .5 16.5 .5-18.2 .5 16.4 .5-14.9 .5 22.9 .5-27.4 .5 18.8 .5-15.1 .5 11.9 .5-12.7 .5 12.9 .5-10.8 .5 15.4 .5-15.8 .5 12.5 .5-10.7 .5 15.1 .5-16.8 .5 17.7 .5-18.2 .5 14.8 .5-12.1 .5 15.1 .5-18 .5 12.9 .5-21.9 .5 20 .5-9.7 .5 11.6 .5-9.9 .5 17.1 .5-19 .5 12.6 .5-15.3 .5 19.3 .5-16.8 .5 20 .5-20.1 .5 16.6 .5-14.1 .5 17.1 .5-16.4 .5 24.2 .5-27.9 .5 13.6 .5-16 .5 17 .5-17.7 .5 22.9 .5-21 .5 18.2 .5-17.5 .5 20.1 .5-24.1 .5 24.6 .5-24.6 .5 20.9 .5-15.5 .5 10.8 .4-13.5 .5 16 .5-20.2 .5 25.3 .5-22.4 .5 24.2 .5-25.1 .5 22.2 .5-23.8 .5 23 .5-17.7 .5 16.5 .5-17.3 .5 20.4 .5-22.6 .5 17.5 .5-15.8 .5 17 .5-15.2 .5 16.7 .5-18.3 .5 17.6 .5-10.6 .5 15.5 .5-18.9 .5 16.5 .5-18.8 .5 18.2 .5-20.1 .5 18.6 .5-16.6 .5 14.3 .5-18.7 .5 22.3 .5-19.6 .5 16.9 .5-12.8 .5 20.4 .5-22.8 .5 15.1 .5-12.6 .5 13.5 .5-16.6 .5 15.2 .5-19.4 .5 20.9 .5-12.6 .5 10.5 .5-15.7 .5 16.8 .5-14 .5 14.4 .5-17.3 .5 19.5 .5-15.6 .5 21.2 .5-23.4 .5 13.1 .5-17.4 .5 15.1 .5-15.5 .5 20.4 .5-14.7 .5 19.5 .5-22.6 .5 18.2 .5-13.2 .5 14.1 .5-16.3 .5 16.9 .5-12.8 .5 11.5 .5-13.7 .5 15.7 .5-14 .5 19.1 .5-21.4 .5 14.3 .5-14.3 .5 14.4 .5-18 .5 25 .5-21.5 .5 25.4 .5-20.6 .5 13.2 .4-12.6 .5 13.4 .5-17.5 .5 13.3 .5-19.1 .5 20.4 .5-14.7 .5 21.3 .5-20.1 .5 15.2 .5-17.2 .5 16.3 .5-15.6 .5 19.4 .5-21.9 .5 16.8 .5-21.8 .5 19.1 .5-13.7 .5 15.9 .5-16.7 .5 14.4 .5-18.3 .5 19 .5-16.1 .5 14.1 .5-11.7 .5 12.6 .5-15.6 .5 15.3 .5-17.4 .5 25.7 .5-17.9 .5 11.8 .5-13.9 .5 15.6 .5-18.3 .5 17.1 .5-16.6 .5 20.7 .5-16.1 .5 12.5 .5-17.3 .5 18.7 .5-18.6 .5 12.3 .5-11.9 .5 13 .5-12.8 .5 15.9 .5-18.9 .5 20.5 .5-15.5 .5 12.9 .5-14.7 .5 17.9 .5-20.3 .5 22 .5-21.2 .5 19.5 .5-13.2 .5 13.2 .5-10.6 .5 12.3 .5-16.3 .5 13.7 .5-13.6 .5 20.5 .5-18.7 .5 20.7 .5-21.3 .5 17.7 .5-22.1 .5 23.3 .5-24.6 .5 28.4 .5-29.1 .5 20.5 .5-23.6 .5 25 .5-18.2 .5 14 .5-12.9 .5 13.2 .5-13.5 .5 15.5 .4-16.6 .5 16.2 .5-17.7 .5 16.4 .5-16.5 .5 20.3 .5-23.6 .5 21.8 .5-19.2 .5 16.5 .5-15.7 .5 12.7 .5-14.1 .5 15.9 .5-17.4 .5 19.9 .5-15.9 .5 21.5 .5-21.8 .5 18.3 .5-17.8 .5 13 .5-13 .5 11.6 .5-10.3 .5 13.7 .5-14.4 .5 14.2 .5-15.2 .5 14.5 .5-21.4 .5 24 .5-22.4 .5 21 .5-12.4 .5 13 .5-16.5 .5 25.9 .5-22.7 .5 13.4 .5-12.6 .5 17.6 .5-18.3 .5 19.3 .5-19.5 .5 24.4 .5-21.6 .5 14.1 .5-14.9 .5 11.3 .5-18.7 .5 19.1 .5-20.2 .5 20.5 .5-16.8 .5 20.9 .5-23.1 .5 19.8 .5-27.1 .5 21.8 .5-19.9 .5 18.3 .5-17.5 .5 22 .5-18.5 .5 17.4 .5-15 .5 11.3 .5-15.7 .5 23.8 .5-20.6 .5 18.8 .5-26.1 .5 24.7 .5-14.5 .5 13.8 .5-14.4 .5 14.1 .5-17.9 .5 19.1 .5-15.2 .5 16.6 .5-15.4 .5 13 .5-13.8 .5 12.6 .4-22.2 .5 19.7 .5-22.7 .5 24.6 .5-15.5 .5 11.4 .5-15.6 .5 19.2 .5-17.5 .5 19.5 .5-15.9 .5 16.2 .5-21.9 .5 18.2 .5-20.3 .5 19.6 .5-11.3 .5 12.7 .5-17.6 .5 16.2 .5-14.9 .5 15.5 .5-18.5 .5 19.5 .5-12.2 .5 15.5 .5-13 .5 11.8 .5-14.4 .5 18.4 .5-21.7 .5 20 .5-18.3 .5 18.1 .5-15.3 .5 11.7 .5-11.1 .5 16.3 .5-21.7 .5 17.8 .5-15.5 .5 12.7 .5-12.1 .5 13.3 .5-23.3 .5 29.3 .5-19.8 .5 17.2 .5-20.4 .5 17 .5-14.7 .5 16.7 .5-11.5 .5 12.8 .5-12.7 .5 17 .5-21.4 .5 17.1 .5-17.1 .5 18.5 .5-16 .5 13.2 .5-15.3 .5 16.8 .5-15.3 .5 12.4 .5-15.6 .5 16.9 .5-16.5 .5 20.4 .5-27.2 .5 29.5 .5-19.4 0 11.2" stroke="#dcdcdc"/>
<path d="M55.7 1572.6l78.8 0 78.8 0 78.8 0 78.9-1.2 0 1.2" stroke="#9400d3"/>
<path d="M55.7 1547.7l.5 23.7 .5-22.5 .5 23.7 .5-17.5 .5 13.8 .5-18.7 .5 19.9 .5-15 .5 17.5 .5-22.4 .5 21.2 .5-16.3 .5 12.5 .5-13.7 .5 11.2 .5-14.9 .5 16.2 .5-15 .5 18.7 .5-17.4 .5 19.9 .5-17.5 .5 13.8 .5-18.7 .5 17.4 .5-12.5 .5 16.3 .5-16.3 .5 15 .5-16.2 .5 15 .5-15 .5 18.7 .5-22.4 .5 16.2 .5-12.5 .5 12.5 .5-17.5 .5 21.2 .5-16.2 .5 18.7 .5-16.2 .5 12.5 .4-11.3 .5 15 .5-19.9 .5 16.2 .5-17.5 .5 16.2 .5-13.7 .5 11.2 .5-13.7 .5 18.7 .5-17.4 .5 14.9 .5-14.9 .5 18.7 .5-16.3 .5 11.3 .5-15 .5 16.2 .5-16.2 .5 21.2 .5-16.2 .5 15 .5-15 .5 16.2 .5-15 .5 12.5 .5-15 .5 15 .5-17.4 .5 18.7 .5-17.5 .5 18.7 .5-17.5 .5 10 .5-13.7 .5 15 .5-16.2 .5 16.2 .5-13.7 .5 13.7 .5-13.7 .5 17.4 .5-16.2 .5 15 .5-20 .5 22.5 .5-26.2 .5 24.9 .5-17.4 .5 16.2 .5-17.5 .5 17.5 .5-18.7 .5 16.2 .5-16.2 .5 16.2 .5-13.7 .5 14.9 .5-17.4 .5 17.4 .5-14.9 .5 19.9 .5-18.7 .5 18.7 .5-21.2 .5 16.2 .5-14.9 .5 19.9 .5-18.7 .5 13.7 .5-12.5 .5 12.5 .5-11.2 .5 16.2 .5-18.7 .5 12.5 .5-8.8 .5 11.3 .5-16.2 .5 17.4 .5-21.2 .5 20 .5-15 .5 18.7 .5-21.2 .5 18.7 .4-23.7 .5 26.2 .5-22.4 .5 21.2 .5-15 .5 13.7 .5-15 .5 17.5 .5-15 .5 15 .5-16.2 .5 12.5 .5-16.2 .5 19.9 .5-22.4 .5 21.2 .5-15 .5 15 .5-16.3 .5 15 .5-19.9 .5 18.7 .5-20 .5 22.5 .5-20 .5 20 .5-18.7 .5 14.9 .5-13.7 .5 16.2 .5-18.7 .5 18.7 .5-12.5 .5 12.5 .5-12.5 .5 13.8 .5-21.2 .5 22.4 .5-26.2 .5 26.2 .5-19.9 .5 13.7 .5-13.7 .5 13.7 .5-10 .5 16.2 .5-17.5 .5 15 .5-15 .5 13.8 .5-17.5 .5 17.5 .5-11.3 .5 15 .5-16.2 .5 12.5 .5-13.8 .5 13.8 .5-13.8 .5 17.5 .5-18.7 .5 16.2 .5-16.2 .5 16.2 .5-15 .5 17.5 .5-16.2 .5 15 .5-23.7 .5 24.9 .5-19.9 .5 17.4 .5-11.2 .5 13.7 .5-17.5 .5 17.5 .5-18.7 .5 17.5 .5-18.7 .5 19.9 .5-17.5 .5 15 .5-17.4 .5 19.9 .5-18.7 .5 16.2 .4-16.2 .5 13.7 .5-17.4 .5 18.7 .5-15 .5 15 .5-21.2 .5 21.2 .5-17.5 .5 20 .5-18.7 .5 16.2 .5-18.7 .5 17.4 .5-12.5 .5 12.5 .5-17.4 .5 22.4 .5-19.9 .5 16.2 .5-18.7 .5 13.7 .5-10 .5 17.5 .5-21.2 .5 14.9 .5-18.7 .5 17.5 .5-16.2 .5 23.7 .5-18.7 .5 19.9 .5-21.2 .5 17.5 .5-12.5 .5 12.5 .5-12.5 .5 16.2 .5-19.9 .5 18.7 .5-15 .5 12.5 .5-16.2 .5 17.4 .5-15 .5 15 .5-16.2 .5 12.5 .5-17.5 .5 22.5 .5-16.3 .5 17.5 .5-17.5 .5 15 .5-17.4 .5 18.7 .5-16.3 .5 12.5 .5-16.2 .5 21.2 .5-22.4 .5 17.4 .5-16.2 .5 15 .5-13.7 .5 14.9 .5-14.9 .5 19.9 .5-18.7 .5 17.5 .5-17.5 .5 12.5 .5-20 .5 26.2 .5-27.4 .5 24.9 .5-17.4 .5 19.9 .5-18.7 .5 15 .5-11.3 .5 13.8 .5-21.2 .5 18.7 .5-12.5 .5 11.2 .4-11.2 .5 16.2 .5-15 .5 15 .5-16.2 .5 11.2 .5-12.5 .5 12.5 .5-22.4 .5 24.9 .5-16.2 .5 13.7 .5-11.2 .5 12.5 .5-12.5 .5 16.2 .5-23.7 .5 21.2 .5-15 .5 17.5 .5-16.2 .5 10 .5-18.7 .5 22.4 .5-15 .5 13.8 .5-13.8 .5 11.3 .5-13.7 .5 17.4 .5-19.9 .5 21.2 .5-18.7 .5 12.4 .5-16.2 .5 23.7 .5-19.9 .5 14.9 .5-11.2 .5 10 .5-10 .5 12.5 .5-20 .5 22.5 .5-21.2 .5 21.2 .5-20 .5 18.7 .5-15 .5 17.5 .5-17.5 .5 16.3 .5-21.2 .5 21.2 .5-22.5 .5 20 .5-15 .5 11.2 .5-11.2 .5 15 .5-22.5 .5 20 .5-11.3 .5 12.5 .5-17.4 .5 16.2 .5-15 .5 17.5 .5-15 .5 18.7 .5-18.7 .5 18.7 .5-19.9 .5 14.9 .5-12.5 .5 13.8 .5-16.2 .5 16.2 .5-13.8 .5 10 .5-11.2 .5 12.5 .5-21.2 .5 21.2 .5-18.7 .5 21.2 .4-12.5 .5 16.2 .5-18.7 .5 16.2 .5-15 .5 15 .5-17.4 .5 19.9 .5-18.7 .5 18.7 .5-21.2 .5 13.7 .5-11.2 .5 12.5 .5-11.3 .5 17.5 .5-17.5 .5 11.3 .5-13.7 .5 14.9 .5-11.2 .5 13.7 .5-18.7 .5 16.2 .5-16.2 .5 17.5 .5-18.7 .5 19.9 .5-19.9 .5 17.4 .5-13.7 .5 17.5 .5-18.7 .5 14.9 .5-14.9 .5 16.2 .5-15 .5 16.2 .5-15 .5 17.5 .5-17.5 .5 13.8 .5-13.8 .5 17.5 .5-17.5 .5 13.8 .5-22.5 .5 20 .5-17.5 .5 22.5 .5-18.7 .5 19.9 .5-22.4 .5 19.9 .5-18.7 .5 17.5 .5-13.8 .5 15 .5-13.7 .5 10 .5-16.2 .5 19.9 .5-18.7 .5 21.2 .5-22.4 .5 18.7 .5-23.7 .5 26.2 .5-21.2 .5 21.2 .5-18.7 .5 19.9 .5-23.7 .5 16.2 .5-13.7 .5 17.5 .5-22.5 .5 21.2 .5-13.7 .5 15 .5-15 .5 13.7 .5-14.9 .5 18.7 .5-21.2 .5 19.9 .4-15 .5 12.5 .5-11.2 .5 13.7 .5-18.7 .5 20 .5-16.3 .5 16.3 .5-20 .5 18.7 .5-22.4 .5 21.2 .5-13.8 .5 11.3 .5-11.3 .5 17.5 .5-23.7 .5 17.5 .5-21.2 .5 19.9 .5-14.9 .5 21.2 .5-20 .5 15 .5-17.5 .5 17.5 .5-10 .5 12.5 .5-13.8 .5 16.3 .5-15 .5 15 .5-15 .5 11.2 .5-16.2 .5 15 .5-17.5 .5 20 .5-20 .5 18.7 .5-13.7 .5 13.7 .5-12.5 .5 12.5 .5-18.7 .5 21.2 .5-16.2 .5 18.7 .5-22.4 .5 22.4 .5-18.7 .5 12.5 .5-11.3 .5 15 .5-18.7 .5 17.5 .5-13.8 .5 16.3 .5-17.5 .5 12.5 .5-13.7 .5 13.7 .5-20 .5 25 .5-22.5 .5 17.5 .5-15 .5 15 .5-16.2 .5 22.4 .5-18.7 .5 13.7 .5-14.9 .5 17.4 .5-15 .5 17.5 .5-18.7 .5 11.2 .5-13.7 .5 15 .5-17.5 .5 16.2 .5-13.7 .5 17.5 .5-17.5 .5 13.7 .4-16.2 .5 20 .5-22.5 .5 18.7 .5-18.7 .5 22.5 .5-15 .5 13.7 .5-13.7 .5 13.7 .5-13.7 .5 11.2 .5-12.4 .5 18.7 .5-20 .5 17.5 .5-16.2 .5 14.9 .5-12.5 .5 16.3 .5-22.5 .5 20 .5-15 .5 11.2 .5-10 .5 11.3 .5-15 .5 21.2 .5-21.2 .5 16.2 .5-13.7 .5 16.2 .5-17.4 .5 19.9 .5-16.2 .5 15 .5-23.7 .5 24.9 .5-22.4 .5 14.9 .5-14.9 .5 18.7 .5-17.5 .5 15 .5-16.2 .5 22.4 .5-18.7 .5 11.2 .5-12.4 .5 18.7 .5-20 .5 20 .5-21.2 .5 16.2 .5-13.7 .5 16.2 .5-17.5 .5 13.7 .5-17.4 .5 19.9 .5-18.7 .5 21.2 .5-17.4 .5 11.2 .5-12.5 .5 21.2 .5-17.5 .5 12.5 .5-13.7 .5 15 .5-20 .5 23.7 .5-17.5 0 11.3" stroke="#0ff"/>
<path d="M87.9 1572.6v-4.8M87.9 1198.6v4.8M152.2 1572.6v-4.8M152.2 1198.6v4.8M216.6 1572.6v-4.8M216.6 1198.6v4.8M280.9 1572.6v-4.8M280.9 1198.6v4.8M345.2 1572.6v-4.8M345.2 1198.6v4.8M55.7 1572.6v-9.5M55.7 1198.6v9.5M120 1572.6v-9.5M120 1198.6v9.5M184.4 1572.6v-9.5M184.4 1198.6v9.5M248.7 1572.6v-9.5M248.7 1198.6v9.5M313.1 1572.6v-9.5M313.1 1198.6v9.5M377.4 1572.6v-9.5M377.4 1198.6v9.5M55.7 1541.4h4.8M377.4 1541.4h-4.8M55.7 1479.1h4.8M377.4 1479.1h-4.8M55.7 1416.8h4.8M377.4 1416.8h-4.8M55.7 1354.4h4.8M377.4 1354.4h-4.8M55.7 1292.1h4.8M377.4 1292.1h-4.8M55.7 1229.8h4.8M377.4 1229.8h-4.8M55.7 1572.6h9.5M377.4 1572.6h-9.5M55.7 1510.3h9.5M377.4 1510.3h-9.5M55.7 1447.9h9.5M377.4 1447.9h-9.5M55.7 1385.6h9.5M377.4 1385.6h-9.5M55.7 1323.3h9.5M377.4 1323.3h-9.5M55.7 1260.9h9.5M377.4 1260.9h-9.5M55.7 1198.6h9.5M377.4 1198.6h-9.5" stroke="#000" stroke-width="1.2"/>
<rect x="55.7" y="1198.6" width="321.7" height="374" stroke="#000" stroke-width="1.2"/>
<g font-size="14.8"><text x="55.7" y="1589.2" text-anchor="middle">0</text><text x="120" y="1589.2" text-anchor="middle">20000</text><text x="184.4" y="1589.2" text-anchor="middle">40000</text><text x="248.7" y="1589.2" text-anchor="middle">60000</text><text x="313.1" y="1589.2" text-anchor="middle">80000</text><text x="377.4" y="1589.2" text-anchor="middle">1e+05</text><text x="51.7" y="1578.4" text-anchor="end">0</text><text x="51.7" y="1516.1" text-anchor="end">50</text><text x="51.7" y="1453.7" text-anchor="end">100</text><text x="51.7" y="1391.4" text-anchor="end">150</text><text x="51.7" y="1329.1" text-anchor="end">200</text><text x="51.7" y="1266.7" text-anchor="end">250</text><text x="51.7" y="1204.4" text-anchor="end">300</text></g>
<rect x="392.8" y="1223.4" width="89.8" height="152.4" fill="#fff" stroke="#000"/>
<g font-size="14.7"><path d="M399 1235.7H409" stroke="#000" stroke-width="1.3"/><text x="420.8" y="1240.6">Structure</text><path d="M399 1251.4H409" stroke="#f00" stroke-width="1.3"/><text x="420.8" y="1256.3">Coil</text><path d="M399 1267.5H409" stroke="#0f0" stroke-width="1.3"/><text x="420.8" y="1272.4">B-Sheet</text><path d="M399 1283.6H409" stroke="#00f" stroke-width="1.3"/><text x="420.8" y="1288.5">B-Bridge</text><path d="M399 1302.7H409" stroke="#ff0" stroke-width="1.3"/><text x="420.8" y="1307.6">Bend</text><path d="M399 1318.4H409" stroke="#bc8f8f" stroke-width="1.3"/><text x="420.8" y="1323.3">Turn</text><path d="M399 1334.4H409" stroke="#dcdcdc" stroke-width="1.3"/><text x="420.8" y="1339.3">A-Helix</text><path d="M399 1350.1H409" stroke="#9400d3" stroke-width="1.3"/><text x="420.8" y="1355">5-Helix</text><path d="M399 1365.5H409" stroke="#0ff" stroke-width="1.3"/><text x="420.8" y="1370.4">3-Helix</text></g>
<text x="203.9" y="1160.3" font-size="18.6" text-anchor="middle" font-weight="bold" textLength="265.7" lengthAdjust="spacingAndGlyphs">Secondary Structure Wild CD36</text>
<text x="216.2" y="1183.5" font-size="14" text-anchor="middle" textLength="301" lengthAdjust="spacingAndGlyphs">Structure = A-Helix + B-Sheet + B-Bridge + Turn</text>
<text x="216.5" y="1604.2" font-size="15.3" text-anchor="middle">Time (ps)</text>
<text transform="translate(23 1385) rotate(-90)" font-size="15.1" text-anchor="middle">Number of Residues</text>
<path d="M534.2 1246.1l.5 36.5 .5-33.3 .5 39.7 .5-39.7 .5 25.3 .5-29.5 .5 26.8 .5-27.6 .5 29.4 .5-29.4 .5 27.9 .5-29.7 .5 26.9 .5-28.4 .5 39.1 .5-29.7 .5 30 .5-37.4 .5 41 .5-37.7 .5 29.7 .5-39.9 .5 33.8 .5-26.1 .5 42.3 .5-53.9 .5 39.6 .5-26.8 .5 35.5 .6-34.5 .5 40.6 .5-39.3 .5 31.5 .5-22.4 .5 31.9 .5-39.4 .5 37.7 .5-55.9 .5 44.2 .5-28.8 .5 29.5 .5-29.9 .5 32.6 .5-32.4 .5 28.2 .5-31.4 .5 40.5 .5-33.7 .5 38 .5-42.4 .5 32.6 .5-44.8 .5 51.6 .5-56.2 .5 60.7 .5-47.1 .5 30.9 .5-32.7 .5 28.1 .5-29 .5 33.8 .5-41.8 .5 43.4 .5-27.8 .5 27.1 .5-25.5 .5 39.1 .5-44.3 .5 31.9 .5-30.8 .5 22.9 .5-27.8 .5 34.6 .5-37.1 .5 31 .5-24.7 .5 33.7 .5-42.6 .5 41.1 .5-36.1 .5 25.3 .5-37.9 .5 57 .5-48.4 .5 30.9 .5-19.3 .5 32.1 .5-36.1 .6 31 .5-25.4 .5 25.8 .5-24.7 .5 29 .5-44.4 .5 51.8 .5-39.9 .5 38.6 .5-46 .5 43.9 .5-41.5 .5 28.8 .5-28.1 .5 31.9 .5-41.6 .5 51.7 .5-43.9 .5 29.7 .5-35.3 .5 38.8 .5-36 .5 33.6 .5-27.3 .5 29.1 .5-28.9 .5 27.1 .5-28.2 .5 36 .5-50.8 .5 42.9 .5-37.3 .5 36.2 .5-28.7 .5 32.5 .5-30.9 .5 37.6 .5-27 .5 35.7 .5-44.6 .5 38 .5-40.5 .5 26.7 .5-41 .5 53 .5-30.4 .5 21.8 .5-25.1 .5 30.9 .5-40.5 .5 34.1 .5-41 .5 52.6 .5-38.2 .5 32.5 .5-31.5 .5 35.9 .5-28.8 .6 23.8 .5-28.6 .5 31.2 .5-45.4 .5 42 .5-44.3 .5 39.9 .5-35.4 .5 37.8 .5-49.8 .5 58.3 .5-44.3 .5 38.3 .5-32.3 .5 34.1 .5-53.1 .5 42 .5-18.4 .5 24.9 .5-26 .5 33.1 .5-49.8 .5 43.3 .5-28.7 .5 33.4 .5-28.8 .5 27 .5-34.8 .5 36.9 .5-42.7 .5 55.9 .5-48.1 .5 44.5 .5-45.7 .5 37.9 .5-29.4 .5 25.6 .5-32.5 .5 32.2 .5-30 .5 31.3 .5-36.1 .5 38.1 .5-37.9 .5 31.4 .5-40 .5 37.5 .5-37.3 .5 33.6 .5-32.7 .5 28.8 .5-39.5 .5 49.3 .5-30.8 .5 35.9 .5-36.1 .5 42.5 .5-49.5 .5 38.6 .6-34.7 .5 40.4 .5-41.4 .5 34 .5-36.4 .5 33.6 .5-36.5 .5 33.3 .5-48.6 .5 53 .5-42.8 .5 31.4 .5-31.7 .5 42.1 .5-25.9 .5 24.1 .5-27.7 .5 25 .5-41.3 .5 60.3 .5-43.5 .5 25.3 .5-27.7 .5 37.2 .5-49.4 .5 38.7 .5-30.3 .5 37.6 .5-34.5 .5 24.2 .5-25.2 .5 29.8 .5-29.4 .5 38.6 .5-31.6 .5 44.1 .5-46.2 .5 43.3 .5-56.1 .5 45.2 .5-34.5 .5 26 .5-30.9 .5 33.7 .5-32.4 .5 31.2 .5-27.4 .5 26.1 .5-39.5 .5 46.4 .5-42.4 .5 40.1 .5-37.5 .5 34.5 .5-36.8 .5 49.7 .5-37.5 .5 35.8 .5-57.8 .6 46.2 .5-26 .5 28.9 .5-35.7 .5 40.6 .5-35.9 .5 26.3 .5-22.1 .5 30.7 .5-32 .5 45.5 .5-42.3 .5 39.6 .5-43.8 .5 28.5 .5-18 .5 26.7 .5-22.2 .5 30.5 .5-36.7 .5 34.2 .5-32 .5 28.7 .5-37.8 .5 31.5 .5-24 .5 23.2 .5-26.1 .5 25.7 .5-32.6 .5 44 .5-40.2 .5 40.9 .5-46.6 .5 33.9 .5-29.4 .5 38.1 .5-40.3 .5 24.8 .5-24.1 .5 28.7 .5-32.3 .5 29.9 .5-21.6 .5 32.1 .5-50.2 .5 53.8 .5-49.9 .5 61.2 .5-51.3 .5 31.1 .5-32.1 .5 40.5 .5-31.2 .5 45.2 .5-60.2 .5 56.1 .5-41.2 .5 26.7 .6-21.6 .5 33.5 .5-40.6 .5 35.2 .5-26.8 .5 27.1 .5-33.2 .5 33.6 .5-28.1 .5 29.5 .5-43.3 .5 44.7 .5-31.6 .5 51.8 .5-56.2 .5 41.6 .5-25.8 .5 25.5 .5-27.5 .5 29.6 .5-30.6 .5 36 .5-35.2 .5 26 .5-22.6 .5 26 .5-29.2 .5 47.6 .5-49.2 .5 27.8 .5-30.8 .5 28.7 .5-31.4 .5 36.9 .5-41.2 .5 33.7 .5-34.6 .5 46.6 .5-37 .5 28.5 .5-32 .5 50.4 .5-52.4 .5 38.8 .5-42.1 .5 47 .5-35 .5 26.2 .5-23.1 .5 42 .5-52 .5 42 .5-24.6 .5 42.3 .5-47 .5 36 .5-24.4 .5 31.1 .6-41.1 .5 34.9 .5-43.2 .5 46.2 .5-45.2 .5 55.6 .5-52.1 .5 34.7 .5-22.9 .5 43.8 .5-50.3 .5 37.6 .5-33.1 .5 26.4 .5-24.3 .5 30.6 .5-41.1 .5 37.4 .5-29.6 .5 26.8 .5-36.7 .5 49.9 .5-40.4 .5 28.2 .5-38.4 .5 38.1 .5-25.5 .5 29.6 .5-35 .5 32 .5-25.8 .5 33 .5-41.3 .5 30.7 .5-25.9 .5 31 .5-30.6 .5 24.4 .5-27.5 .5 27 .5-23.3 .5 36.4 .5-48 .5 42.4 .5-46.5 .5 48.4 .5-51.2 .5 46.1 .5-33.2 .5 31 .5-38.8 .5 34.8 .5-29.4 .5 29.9 .5-26.9 .5 23.5 .5-22.3 .5 22.2 .5-25.5 .6 28.4 .5-26.1 .5 35.8 .5-36.4 .5 42.6 .5-45.5 .5 25.9 .5-21.4 .5 34.8 .5-42 .5 26.4 .5-26.4 .5 27.3 .5-27.1 .5 27.8 .5-31.1 .5 30.5 .5-26.8 .5 38.1 .5-46 .5 36.3 .5-43.1 .5 41.1 .5-39.5 .5 38.8 .5-22.9 .5 31.6 .5-31.1 .5 30.8 .5-24.8 .5 25.5 .5-29.1 .5 35.4 .5-34 .5 28.5 .5-38.1 .5 40.9 .5-25.7 .5 33 .5-35.1 .5 21.5 .5-28.7 .5 36.7 .5-49.6 .5 43.3 .5-36.8 .5 43.3 .5-41.4 .5 33.9 .5-22.4 .5 37.8 .5-48.6 .5 44.2 .5-28.8 .5 26.8 .5-37.7 .5 47.1 .5-39 .5 32.2 .6-35.9 .5 39.1 .5-33.4 .5 26.8 .5-28.9 .5 29.3 .5-43.2 .5 44.2 .5-31.9 .5 31.2 .5-26.8 .5 34.6 .5-34.1 .5 33.5 .5-35.8 .5 28.2 .5-39.2 .5 38.4 .5-34.3 .5 29.9 .5-19 .5 28.6 .5-34.1 .5 36.8 .5-28.1 .5 24.6 .5-33.3 .5 47.4 .5-42.9 .5 34 .5-35.6 .5 42.5 .5-39.4 .5 28.6 .5-19.4 .5 27.3 .5-32.4 .5 26.3 .5-28.5 .5 28 .5-25.7 .5 21.2 .5-42.9 .5 46.4 .5-30.9 .5 32.5 .5-25.6 .5 29.2 .5-30.5 .5 34.1 .5-39.6 .5 36 .5-29.9 .5 26.5 .5-26.9 .5 26.2 .5-26.1 .5 25.6 .6-33.1 .5 44.8 .5-47 .5 28.6 .5-19.1 .5 25.3 .5-25.1 .5 33.1 .5-37.4 .5 32.8 .5-48.5 .5 45 .5-16.4 .5 37 .5-44.9 .5 31.2 .5-30.3 .5 35.6 .5-55.8 .5 47.1 .5-46.3 .5 45.9 .5-25.1 .5 26.1 .5-24.7 .5 28.7 .5-38.9 .5 32.4 .5-25.1 .5 24.6 .5-36.1 .5 44.3 .5-48.9 .5 44.1 .5-36.1 .5 40.2 .5-38.8 .5 28.5 .5-26.6 .5 39.5 .5-43.3 .5 25.2 .5-29.2 .5 22.2 .5-37.1 .5 37.8 .5-19.9 .5 23.5 .5-28.8 .5 29.4 .5-30.3 .5 27.7 .5-28.5 .5 24.4 .5-26.7 .5 33.4 .5-36.3 .5 37 .5-28.8 .6 32.9 .5-33.8 .5 32.4 .5-34.9 .5 39.5 .5-37.4 .5 44.6 .5-39.5 .5 39.3 .5-45.5 .5 32.7 .5-30 .5 39.2 .5-35.7 .5 38.7 .5-41.2 .5 25.9 .5-17.5 .5 28.4 .5-30.7 .5 24.2 .5-25.1 .5 29.8 .5-31.6 .5 33.8 .5-43.6 .5 38 .5-30.1 .5 41.4 .5-35.9 0 42.7" stroke="#000"/>
<path d="M534.2 1460.2l.5 28.2 .5-22.4 .5 16.2 .5-22.9 .5 18.6 .5-22 .5 22 .5-18.7 .5 20 .5-17.7 .5 15.3 .5-26.9 .5 31.9 .5-24.9 .5 17.1 .5-13.1 .5 13.9 .5-25.9 .5 26.4 .5-14.6 .5 16.6 .5-16.3 .5 18.1 .5-22.9 .5 17.7 .5-18 .5 24.5 .5-26.3 .5 31.5 .6-23.6 .5 15.8 .5-15.5 .5 18.4 .5-20.9 .5 18.3 .5-25.3 .5 36.1 .5-26.4 .5 26.7 .5-25.1 .5 17.9 .5-27 .5 27.5 .5-19.1 .5 16.8 .5-21.9 .5 28.8 .5-28.6 .5 33.5 .5-40.1 .5 29.8 .5-22 .5 27.4 .5-28 .5 22.7 .5-22.2 .5 17.4 .5-15.9 .5 19.9 .5-31.1 .5 30.6 .5-19.2 .5 20.2 .5-27.4 .5 29.5 .5-23.6 .5 23.1 .5-24.8 .5 32.8 .5-28.7 .5 18.7 .5-29.2 .5 28.1 .5-20 .5 22.6 .5-17.2 .5 18.3 .5-30 .5 29.3 .5-24.6 .5 18.9 .5-18.8 .5 22 .5-25.3 .5 26.9 .5-31.3 .5 37.1 .5-21.8 .6 21.7 .5-23.8 .5 22.7 .5-21.8 .5 25 .5-25.3 .5 20.5 .5-16.4 .5 17.1 .5-28.3 .5 33.5 .5-23.3 .5 15.5 .5-28.4 .5 27.5 .5-21.6 .5 24.4 .5-18.6 .5 24.8 .5-20.4 .5 16.8 .5-26.3 .5 24.7 .5-25 .5 18.3 .5-19.6 .5 20.2 .5-15.4 .5 17.6 .5-26.5 .5 26.4 .5-24 .5 29.6 .5-24.4 .5 26.6 .5-29.2 .5 23.7 .5-25.2 .5 20.1 .5-20.5 .5 28.8 .5-25.1 .5 18.1 .5-21.2 .5 27.1 .5-24 .5 17.2 .5-22.3 .5 22.8 .5-17.3 .5 18.1 .5-23.3 .5 30.9 .5-30.1 .5 33.2 .5-30.5 .5 31.4 .5-31.7 .6 24.6 .5-27.2 .5 16.9 .5-17.8 .5 22.3 .5-17.2 .5 24.2 .5-23.8 .5 21.9 .5-27 .5 22.4 .5-19 .5 20.5 .5-31.4 .5 29.1 .5-24.2 .5 33.3 .5-25.5 .5 16.5 .5-18.4 .5 14.2 .5-15 .5 15.7 .5-18.1 .5 29.5 .5-29.2 .5 21.9 .5-20.3 .5 24.2 .5-21.5 .5 17.2 .5-23.3 .5 29.9 .5-28.8 .5 23.3 .5-19.6 .5 17.4 .5-16.3 .5 17.2 .5-14.5 .5 15.5 .5-15.4 .5 19 .5-22.9 .5 21.2 .5-27.8 .5 23.6 .5-26.3 .5 29.1 .5-18.7 .5 27.5 .5-25.9 .5 18.7 .5-22.4 .5 18.6 .5-23.8 .5 20 .5-15.5 .5 20 .6-21.7 .5 24.5 .5-21.8 .5 16.2 .5-16.2 .5 22.8 .5-21.5 .5 22.4 .5-20.2 .5 21.7 .5-29.3 .5 23.9 .5-20.5 .5 19.3 .5-20.7 .5 29.4 .5-28.4 .5 21.9 .5-22.9 .5 28.1 .5-24.6 .5 20.5 .5-21.5 .5 18 .5-19.8 .5 21.4 .5-22 .5 26.8 .5-26 .5 23.8 .5-20.2 .5 17.9 .5-17.2 .5 18.1 .5-30.2 .5 26.1 .5-18.4 .5 20.9 .5-17.3 .5 19.8 .5-17.9 .5 23.9 .5-28.5 .5 20.5 .5-21.5 .5 20.5 .5-22.7 .5 22.3 .5-28.1 .5 28.4 .5-30.8 .5 29.6 .5-29.9 .5 27 .5-27.3 .5 24.8 .5-25.2 .5 32.8 .5-31.5 .6 25.1 .5-22.2 .5 22.6 .5-18.6 .5 23.8 .5-32.1 .5 30.5 .5-27.7 .5 22.3 .5-20.7 .5 25.9 .5-29.5 .5 25.3 .5-20.7 .5 14.6 .5-19.3 .5 26.2 .5-22 .5 29.5 .5-30.5 .5 22.5 .5-17.9 .5 17.5 .5-19.6 .5 19.2 .5-20.2 .5 21.7 .5-30.1 .5 30.3 .5-19 .5 19.5 .5-21.7 .5 19.3 .5-15.6 .5 19.3 .5-26.7 .5 22.1 .5-22.5 .5 25.6 .5-18 .5 16.8 .5-26.3 .5 27.6 .5-24.9 .5 27.9 .5-29.5 .5 29.8 .5-23.7 .5 23.5 .5-20 .5 22.3 .5-25.9 .5 23.8 .5-17.4 .5 17.2 .5-23.3 .5 23.5 .5-24.5 .5 28.5 .6-24.6 .5 23.6 .5-21.7 .5 22.5 .5-27.8 .5 18.3 .5-20.3 .5 23.4 .5-25.3 .5 25.1 .5-17.6 .5 25.6 .5-27 .5 16.1 .5-17.2 .5 23.7 .5-20.7 .5 20.4 .5-28.2 .5 26.5 .5-27 .5 26.2 .5-20.7 .5 19.2 .5-16.5 .5 21.3 .5-33.8 .5 28.9 .5-17.8 .5 23.8 .5-30.9 .5 23 .5-14.3 .5 14 .5-25 .5 29.7 .5-23.2 .5 25.2 .5-36.4 .5 30.7 .5-17.6 .5 27.1 .5-33.6 .5 24.1 .5-27.4 .5 33.3 .5-30 .5 24.8 .5-19.6 .5 16 .5-17.8 .5 21.4 .5-16.8 .5 21.2 .5-24.3 .5 19 .5-18.2 .5 21 .6-19.3 .5 13.9 .5-18.6 .5 28.2 .5-33.4 .5 40.1 .5-31.1 .5 23.7 .5-35.1 .5 33.4 .5-21.5 .5 18.6 .5-23.8 .5 28.8 .5-25.5 .5 17.7 .5-19.1 .5 26 .5-23.2 .5 20.3 .5-20.4 .5 17.6 .5-16.6 .5 22.1 .5-23.3 .5 25.2 .5-24.8 .5 25.4 .5-27.5 .5 23.6 .5-23.1 .5 28.6 .5-30.7 .5 19.7 .5-18.2 .5 21.4 .5-24.7 .5 27.8 .5-22 .5 26.7 .5-28.7 .5 19.5 .5-20.7 .5 24.1 .5-23.3 .5 23.5 .5-27.6 .5 18.6 .5-22.1 .5 21.4 .5-13.5 .5 22.1 .5-23.9 .5 21.6 .5-14.3 .5 14.7 .5-28.9 .5 27.6 .5-22.5 .6 17.7 .5-21.9 .5 22 .5-21.6 .5 18.5 .5-23.4 .5 24.6 .5-13.8 .5 14.8 .5-10.7 .5 14.7 .5-24.9 .5 26.8 .5-20.4 .5 18 .5-11.7 .5 19.5 .5-25.3 .5 22.2 .5-21.4 .5 16.3 .5-23.3 .5 24.9 .5-16.7 .5 17.1 .5-13.3 .5 27 .5-30.7 .5 15.6 .5-27.5 .5 32.2 .5-16.2 .5 15 .5-15.8 .5 19.3 .5-16.1 .5 17.7 .5-23.2 .5 27 .5-38 .5 27.5 .5-26.1 .5 27.1 .5-17 .5 30.3 .5-34.6 .5 25.9 .5-22.5 .5 17.4 .5-25.1 .5 26.5 .5-20.4 .5 18.2 .5-19.6 .5 21.3 .5-25.6 .5 22.5 .5-19.5 .5 14.8 .6-10.4 .5 16.6 .5-16.7 .5 17.8 .5-18.6 .5 25.7 .5-28 .5 18.8 .5-22.7 .5 23.7 .5-17.9 .5 21.7 .5-21.4 .5 19.5 .5-19.7 .5 22.7 .5-26.3 .5 20.7 .5-21.9 .5 23.3 .5-27.3 .5 22 .5-20.7 .5 28.1 .5-22.5 .5 17.6 .5-29.6 .5 33.1 .5-36.6 .5 30 .5-31.9 .5 29.7 .5-26.9 .5 25.1 .5-24 .5 28 .5-28.8 .5 36.3 .5-32.3 .5 26.8 .5-22.1 .5 20.1 .5-27.6 .5 25.3 .5-13.1 .5 21.5 .5-25.3 .5 26.6 .5-24.5 .5 24.6 .5-21.5 .5 24.7 .5-27 .5 25.1 .5-29.1 .5 30.9 .5-19.7 .5 14 .6-19.8 .5 24.5 .5-23.9 .5 16.8 .5-16.5 .5 20.2 .5-22.6 .5 15.7 .5-17.6 .5 17.1 .5-17.8 .5 24 .5-28.3 .5 24.5 .5-16.2 .5 19.3 .5-18 .5 18.8 .5-20 .5 21.3 .5-21.5 .5 22.4 .5-28.7 .5 30.4 .5-28.5 .5 26.4 .5-29.3 .5 24.4 .5-27.2 .5 28.3 .5-23.5 .5 19.9 .5-20.9 .5 23.7 .5-25.8 .5 34.8 .5-26.8 .5 16 .5-20.6 .5 28.4 .5-22 .5 22.9 .5-16.7 .5 25.1 .5-26.6 .5 20.2 .5-24.9 .5 24.2 .5-22.8 .5 26.4 .5-24.8 .5 19.5 .5-22.8 .5 19.8 .5-20.9 .5 25.9 .5-24.7 .5 23.9 .5-33.7 .6 33 .5-23.7 .5 22.6 .5-22.1 .5 22.6 .5-21 .5 17.3 .5-20.5 .5 17.5 .5-22.6 .5 23.9 .5-15.7 .5 24.6 .5-28.7 .5 30.7 .5-27.3 .5 20.2 .5-20.1 .5 14.3 .5-14 .5 26.4 .5-27 .5 19 .5-24.6 .5 26.9 .5-22 .5 18 .5-21 .5 21.8 .5-20.9 0 20.5" stroke="#f00"/>
<path d="M534.2 1415.2l.5 19.5 .5-23.1 .5 19.3 .5-15.8 .5 15.8 .5-17.5 .5 19.1 .5-18.2 .5 17.6 .5-13.3 .5 22.8 .5-28.7 .5 18.9 .5-14.3 .5 15.5 .5-20.3 .5 22.4 .5-15.3 .5 16.6 .5-14.6 .5 16.2 .5-21.3 .5 17.1 .5-24.3 .5 36.6 .5-22 .5 16.1 .5-16 .5 24.5 .6-31.1 .5 22.8 .5-16.1 .5 13 .5-21.1 .5 23.9 .5-20.9 .5 20.2 .5-23.6 .5 14.7 .5-15.2 .5 13.9 .5-17.8 .5 23.3 .5-23.8 .5 24.1 .5-23.1 .5 18.7 .5-15.6 .5 13.7 .5-13.4 .5 15.4 .5-21.5 .5 28.4 .5-24.8 .5 32.5 .5-33.4 .5 30.7 .5-29.6 .5 15.8 .5-14.8 .5 27.6 .5-22.4 .5 13.6 .5-14.2 .5 20.2 .5-27.1 .5 18.3 .5-14.3 .5 13.6 .5-19.2 .5 21.3 .5-23.7 .5 28 .5-27.5 .5 15.1 .5-21 .5 25.9 .5-17.5 .5 21.1 .5-22.2 .5 20.1 .5-25.2 .5 24 .5-21.6 .5 23.4 .5-21.5 .5 28.7 .5-23.3 .6 13.2 .5-15.1 .5 14.9 .5-14 .5 21.9 .5-23.1 .5 16.5 .5-24.2 .5 24.9 .5-14 .5 17.6 .5-24.6 .5 20.4 .5-19.3 .5 24.9 .5-21.8 .5 19.5 .5-21.4 .5 15.9 .5-16.6 .5 17.5 .5-17.5 .5 16.4 .5-16.2 .5 20 .5-22.8 .5 17.3 .5-11.4 .5 17.6 .5-18.2 .5 15.4 .5-19.6 .5 17.8 .5-16.8 .5 17.9 .5-15.2 .5 22 .5-19.1 .5 16.9 .5-20 .5 20.8 .5-22.8 .5 20.6 .5-14.3 .5 17.4 .5-28.1 .5 29.1 .5-19.1 .5 12.9 .5-17.1 .5 20.4 .5-24.6 .5 26.4 .5-23.7 .5 19.6 .5-15.6 .5 17.1 .5-21.1 .6 19.5 .5-15 .5 16.3 .5-20.2 .5 17.2 .5-16.5 .5 22.3 .5-18.6 .5 21.9 .5-21.4 .5 13.8 .5-20.1 .5 20.9 .5-18 .5 14.4 .5-12.8 .5 27 .5-32.4 .5 25.3 .5-22.8 .5 17.5 .5-18.4 .5 20.9 .5-20.9 .5 25.6 .5-23.1 .5 15.3 .5-17.5 .5 20.4 .5-17.3 .5 14.5 .5-12.6 .5 26.8 .5-30.6 .5 21.3 .5-21.8 .5 20.6 .5-21.9 .5 23.4 .5-22.2 .5 16.5 .5-21.6 .5 24.9 .5-22.1 .5 32 .5-33.3 .5 21 .5-15.7 .5 20.4 .5-22.8 .5 14.4 .5-19.1 .5 23.8 .5-19.4 .5 19.1 .5-13.6 .5 15.6 .5-16.5 .5 16.4 .6-16.7 .5 30.4 .5-35.8 .5 21.7 .5-20.6 .5 20.2 .5-18.8 .5 16.7 .5-14.7 .5 25.1 .5-24.6 .5 18.9 .5-20.9 .5 17.1 .5-13.3 .5 17.4 .5-23.1 .5 22.8 .5-21.2 .5 19.9 .5-15.6 .5 16.3 .5-20.8 .5 20.3 .5-18.1 .5 15.7 .5-16.4 .5 16.9 .5-16.5 .5 16.9 .5-20.8 .5 17.4 .5-17.7 .5 25 .5-22.7 .5 23.6 .5-30.1 .5 27 .5-23.1 .5 15.3 .5-18.7 .5 23.5 .5-18.5 .5 13.9 .5-15.9 .5 18.1 .5-19.5 .5 18.8 .5-14 .5 13.7 .5-12.8 .5 20.5 .5-23.1 .5 26.7 .5-32.8 .5 25 .5-13.2 .5 13.8 .5-16.7 .6 16 .5-16.7 .5 18 .5-18 .5 22 .5-19.5 .5 24.9 .5-30.2 .5 19.4 .5-17.4 .5 18.5 .5-17.6 .5 18.2 .5-19.4 .5 20.5 .5-23.9 .5 22.2 .5-14.9 .5 23.9 .5-26.7 .5 21.9 .5-19.5 .5 25.8 .5-31.1 .5 29 .5-25.7 .5 27.1 .5-24.3 .5 16.9 .5-18.2 .5 19.9 .5-17.6 .5 23.1 .5-23.9 .5 18 .5-25 .5 22 .5-15.3 .5 15.8 .5-18.7 .5 21.5 .5-24 .5 14.9 .5-10.6 .5 19.8 .5-17.7 .5 16.2 .5-21.4 .5 21.4 .5-16.1 .5 15.9 .5-19.6 .5 24.2 .5-17.5 .5 15.4 .5-20.5 .5 21.6 .5-17.7 .5 23.5 .6-19.4 .5 20.9 .5-23.9 .5 27.6 .5-25.1 .5 13.4 .5-16.6 .5 17.4 .5-18 .5 29.9 .5-31 .5 26.7 .5-24 .5 22.7 .5-23.4 .5 16.5 .5-11.7 .5 15.3 .5-18.9 .5 17.4 .5-16.7 .5 21.8 .5-19.5 .5 27.7 .5-29.8 .5 20.1 .5-19.5 .5 17.8 .5-14.4 .5 16.2 .5-15.8 .5 22.4 .5-20.9 .5 25.6 .5-24.6 .5 22.5 .5-29.2 .5 23.2 .5-20.2 .5 19 .5-19.3 .5 15.8 .5-20.5 .5 20.7 .5-13.4 .5 25.3 .5-25.7 .5 18.3 .5-23 .5 27.3 .5-31.6 .5 23.9 .5-25.6 .5 21.3 .5-23.5 .5 25.3 .5-13.8 .5 19.8 .6-26.6 .5 27.5 .5-29.9 .5 22.7 .5-21.6 .5 28.7 .5-24.3 .5 21.3 .5-22.4 .5 26.8 .5-33 .5 21.2 .5-11.5 .5 15.9 .5-19 .5 25.8 .5-17.8 .5 13 .5-17.5 .5 40.5 .5-37.8 .5 17 .5-17.4 .5 18.4 .5-18.7 .5 19.7 .5-17.2 .5 14.6 .5-21.9 .5 26.6 .5-16.1 .5 19.7 .5-26.6 .5 19.1 .5-15.3 .5 16 .5-21.6 .5 24.1 .5-19.8 .5 13.8 .5-17.6 .5 20.7 .5-24.8 .5 27 .5-25.2 .5 16.1 .5-14.7 .5 18 .5-21.8 .5 33.8 .5-24.1 .5 23.9 .5-22.5 .5 15.5 .5-22 .5 24.2 .5-18.2 .5 14.8 .5-12.3 .6 19.7 .5-19.3 .5 20.1 .5-23.5 .5 14.6 .5-15 .5 16.6 .5-13.6 .5 23.4 .5-26.9 .5 29.8 .5-31 .5 18.4 .5-15.2 .5 28.3 .5-33.8 .5 19.6 .5-22.8 .5 18.5 .5-17.6 .5 15.9 .5-16.3 .5 25 .5-19.6 .5 19.1 .5-24.3 .5 21.4 .5-21.6 .5 19.4 .5-10 .5 16.2 .5-17.1 .5 23.6 .5-24.5 .5 20.1 .5-21.2 .5 24.9 .5-30.2 .5 23.5 .5-23.4 .5 16.3 .5-13 .5 21.4 .5-18.7 .5 17.2 .5-16.2 .5 17.4 .5-20.3 .5 18.9 .5-13 .5 22.5 .5-27.7 .5 23.9 .5-28.4 .5 29.4 .5-22.7 .5 17.8 .5-19.4 .5 51.3 .6-55.7 .5 22 .5-21.2 .5 26.1 .5-26.9 .5 23.2 .5-19 .5 24 .5-21 .5 17.8 .5-18.6 .5 16.3 .5-12.4 .5 18.4 .5-18.2 .5 16 .5-14.4 .5 13.6 .5-13.3 .5 21.1 .5-19.7 .5 13 .5-17.5 .5 23.1 .5-26.2 .5 22.3 .5-15.7 .5 14.6 .5-22 .5 23.4 .5-21.2 .5 18.9 .5-24 .5 25.5 .5-21.6 .5 18.7 .5-17.8 .5 17.7 .5-15.8 .5 15.5 .5-14.3 .5 23.2 .5-23.2 .5 15.2 .5-15.7 .5 37 .5-43.2 .5 17.6 .5-20.2 .5 18.6 .5-13.7 .5 20.2 .5-21.1 .5 20.9 .5-23 .5 22.1 .5-13.9 .5 15.7 .6-21.4 .5 25.2 .5-21.7 .5 23 .5-28 .5 18 .5-20 .5 18 .5-19.1 .5 18.6 .5-14.5 .5 23.4 .5-22.2 .5 23.8 .5-34.7 .5 25 .5-18.9 .5 19.3 .5-18.9 .5 23.8 .5-21.7 .5 23.3 .5-20.6 .5 17.4 .5-15.9 .5 19.9 .5-24.7 .5 18.4 .5-18.1 .5 16.2 .5-19 .5 18.2 .5-20.5 .5 19.4 .5-12.4 .5 17.8 .5-20.3 .5 22.1 .5-19 .5 17 .5-24.2 .5 18.5 .5-17 .5 14.7 .5-14.1 .5 18.4 .5-21 .5 25.2 .5-28.3 .5 23.3 .5-18.9 .5 18.4 .5-14.1 .5 23.1 .5-22.2 .5 20.5 .5-24.2 .5 20.4 .5-23.3 .6 20.8 .5-15.8 .5 17.9 .5-12.2 .5 22.6 .5-27.1 .5 20.2 .5-20.4 .5 13.4 .5-14.4 .5 14.8 .5-9.2 .5 21 .5-23.4 .5 16.4 .5-14.1 .5 13.9 .5-18.7 .5 17.2 .5-21.2 .5 24.6 .5-30.7 .5 24.8 .5-16.8 .5 15 .5-19.4 .5 27.2 .5-28.6 .5 24 .5-20.1 0 19.9" stroke="#0f0"/>
<path d="M534.2 1572.9l1 6.3 1-7.5 1 7.5 1-7.5 1 6.3 1-5.1 1 6.3 1.1-7.5 1 10 1-8.8 1 5.1 1-5.1 1 6.3 1-6.3 1 6.3 1-6.3 1 8.8 1-8.8 1 8.8 1-8.8 1 6.3 1-10.1 1.1 8.9 1-5.1 1 5.1 1-5.1 1 6.3 1-7.5 1 7.5 1-8.8 1 10.1 1-8.8 1 6.3 1-5.1 1 5.1 1-7.6 1 8.8 1-7.5 1.1 10 1-7.5 1 5 1-5 1 3.8 1-8.9 1 10.1 1-8.8 1 8.8 1-6.3 1 8.8 1-10 1 7.5 1-7.5 1 6.3 1.1-6.3 1 7.5 1-7.5 1 7.5 1-6.3 1 5.1 1-8.9 1 11.4 1-7.6 1 6.3 1-8.8 1 8.8 1-6.3 1 6.3 1-7.5 1.1 6.3 1-5.1 1 5.1 1-6.3 1 6.3 1-5.1 1 6.3 1-7.5 1 7.5 1-6.3 1 5.1 1-5.1 1 7.6 1-7.6 1 5.1 1-5.1 1.1 6.3 1-7.5 1 7.5 1-6.3 1 3.8 1-5 1 7.5 1-7.5 1 7.5 1-10.1 1 10.1 1-7.5 1 8.8 1-8.8 1 7.5 1.1-6.3 1 5.1 1-6.3 1 6.3 1-5.1 1 5.1 1-5.1 1 8.8 1-8.8 1 6.3 1-5 1 5 1-6.3 1 5.1 1-7.6 1.1 7.6 1-6.3 1 6.3 1-6.3 1 6.3 1-5.1 1 5.1 1-7.6 1 8.8 1-7.5 1 6.3 1-5.1 1 5.1 1-7.6 1 7.6 1-6.3 1.1 5 1-3.8 1 5.1 1-6.3 1 7.5 1-10.1 1 11.4 1-7.6 1 5.1 1-5.1 1 6.3 1-10.1 1 10.1 1-7.5 1 7.5 1.1-6.3 1 5.1 1-5.1 1 7.6 1-10.1 1 11.3 1-10 1 7.5 1-7.5 1 8.8 1-7.6 1 5.1 1-5.1 1 7.6 1-7.6 1 6.3 1.1-7.5 1 7.5 1-8.8 1 8.8 1-8.8 1 8.8 1-5 1 5 1-7.5 1 8.8 1-8.8 1 8.8 1-8.8 1 7.5 1-7.5 1.1 8.8 1-10.1 1 11.3 1-10 1 8.8 1-7.6 1 8.8 1-8.8 1 5.1 1-6.3 1 6.3 1-8.9 1 7.6 1-5 1 6.3 1.1-5.1 1 6.3 1-6.3 1 6.3 1-6.3 1 5.1 1-3.8 1 5 1-6.3 1 5.1 1-6.3 1 8.8 1-7.6 1 5.1 1-7.6 1.1 11.3 1-10 1 6.3 1-5.1 1 6.3 1-7.5 1 10 1-8.8 1 6.3 1-6.3 1 5.1 1-5.1 1 6.3 1-8.8 1 8.8 1-8.8 1.1 7.6 1-5.1 1 6.3 1-10.1 1 10.1 1-6.3 1 5.1 1-5.1 1 5.1 1-5.1 1 6.3 1-7.5 1 6.3 1-6.3 1 7.5 1.1-6.3 1 6.3 1-6.3 1 7.6 1-8.8 1 6.3 1-6.3 1 6.3 1-6.3 1 6.3 1-6.3 1 6.3 1-5.1 1 5.1 1-7.6 1 10.1 1.1-7.6 1 7.6 1-7.6 1 8.8 1-8.8 1 6.3 1-6.3 1 5.1 1-6.3 1 7.5 1-7.5 1 8.8 1-7.6 1 5.1 1-5.1 1.1 6.3 1-6.3 1 5.1 1-6.3 1 10 1-10 1 6.3 1-5.1 1 5.1 1-6.3 1 6.3 1-5.1 1 5.1 1-6.3 1 8.8 1.1-7.6 1 5.1 1-5.1 1 5.1 1-7.6 1 7.6 1-5.1 1 7.6 1-10.1 1 7.6 1-6.3 1 7.5 1-7.5 1 6.3 1-5.1 1.1 8.8 1-8.8 1 6.3 1-7.5 1 11.3 1-11.3 1 7.5 1-7.5 1 8.8 1-8.8 1 7.5 1-6.3 1 5.1 1-5.1 1 7.6 1-8.8 1.1 7.5 1-6.3 1 6.3 1-8.8 1 7.6 1-7.6 1 6.3 1-6.3 0 8.8" stroke="#00f"/>
<path d="M534.2 1521.9l.5 16.4 .5-13.3 .5 13.4 .5-11.7 .5 10 .5-10.3 .5 17 .5-16.2 .5 10.1 .5-15.9 .5 13.4 .5-11.2 .5 15.6 .5-15.8 .5 17.4 .5-21.1 .5 18.2 .5-10.3 .5 9.2 .5-9.8 .5 11.2 .5-14.4 .5 17.9 .5-18.8 .5 13 .5-11.4 .5 12.3 .5-11.7 .5 15.1 .6-18.9 .5 20.1 .5-19 .5 19.6 .5-18.4 .5 16 .5-15.7 .5 14.1 .5-16.2 .5 12.6 .5-9.8 .5 15.1 .5-18 .5 16.6 .5-14.4 .5 14 .5-19.2 .5 24.1 .5-21.5 .5 25 .5-27.7 .5 18.9 .5-11.9 .5 21.4 .5-23.1 .5 14.4 .5-14.4 .5 14.8 .5-10 .5 14 .5-18.5 .5 17.7 .5-14.8 .5 13.5 .5-14.7 .5 18.8 .5-28.4 .5 20.2 .5-10.7 .5 10 .5-9.7 .5 10.6 .5-13 .5 14.6 .5-12.3 .5 10.3 .5-9.5 .5 11.2 .5-12 .5 13.7 .5-10.1 .5 16.8 .5-17.8 .5 11.3 .5-17.3 .5 17.8 .5-13.1 .5 18.6 .5-24.6 .6 16.4 .5-17.1 .5 17.1 .5-9.8 .5 13.3 .5-15.2 .5 12.9 .5-13.7 .5 13.4 .5-11.9 .5 13 .5-17.1 .5 16.1 .5-11.7 .5 13.3 .5-9.7 .5 12.6 .5-13.5 .5 13.5 .5-14.5 .5 16.8 .5-17.5 .5 17.4 .5-20.3 .5 13.9 .5-11.7 .5 13.1 .5-13.3 .5 12.2 .5-12.9 .5 14.9 .5-14.5 .5 11.7 .5-11.5 .5 18.9 .5-20.8 .5 15.2 .5-14.2 .5 12.8 .5-11.1 .5 11.5 .5-10.4 .5 13.3 .5-16.1 .5 16.8 .5-14.9 .5 11.3 .5-13.1 .5 15.6 .5-17.1 .5 11.6 .5-9.7 .5 11.4 .5-13.7 .5 15.1 .5-11.1 .5 13 .5-12.9 .6 15.6 .5-17.4 .5 11.3 .5-10.3 .5 12.4 .5-16.5 .5 14.9 .5-9.8 .5 12.8 .5-15.3 .5 15.1 .5-22.4 .5 17.6 .5-15.9 .5 16.4 .5-12 .5 12.7 .5-12.3 .5 15.4 .5-18.6 .5 20.6 .5-15.4 .5 11.8 .5-13.7 .5 18.9 .5-17.3 .5 12.8 .5-13.2 .5 12.1 .5-10.8 .5 13.7 .5-15.4 .5 11.4 .5-9.9 .5 15.7 .5-13.4 .5 12.2 .5-15.1 .5 11.7 .5-12.7 .5 11.7 .5-8.5 .5 12.3 .5-16.8 .5 15.8 .5-15.5 .5 14.8 .5-14.6 .5 10.2 .5-11.8 .5 12.5 .5-11.1 .5 16.6 .5-19.3 .5 13.6 .5-18.8 .5 20.2 .5-11.2 .5 18 .6-19.3 .5 14.3 .5-10.8 .5 15 .5-14.1 .5 10.3 .5-13.1 .5 16.8 .5-12.3 .5 11.8 .5-13.2 .5 13.4 .5-15.8 .5 20.8 .5-20 .5 15.7 .5-18.2 .5 20 .5-18.4 .5 11.3 .5-10.7 .5 12.2 .5-11 .5 13.2 .5-16.5 .5 17.2 .5-17.7 .5 11.8 .5-13.4 .5 16.8 .5-13.3 .5 10.9 .5-10.5 .5 13.3 .5-15.9 .5 14.4 .5-17.1 .5 15.4 .5-11.1 .5 13.4 .5-18.4 .5 14.6 .5-15.1 .5 16.3 .5-9.3 .5 10.6 .5-15.5 .5 21.9 .5-17.9 .5 12.7 .5-16.6 .5 21.1 .5-16.4 .5 12.4 .5-15.4 .5 12.7 .5-16 .5 15.2 .5-18.5 .6 19.3 .5-14.7 .5 20.4 .5-22.5 .5 19.2 .5-16.9 .5 13.2 .5-10.1 .5 15.3 .5-15.2 .5 12 .5-15.9 .5 15.7 .5-13.5 .5 12.1 .5-10.9 .5 14.9 .5-12.3 .5 10.9 .5-10.9 .5 14.7 .5-14.8 .5 13.7 .5-24 .5 24.8 .5-21.7 .5 19.6 .5-13.1 .5 9.7 .5-16.3 .5 19.5 .5-15.5 .5 17.4 .5-17.9 .5 21.4 .5-16.3 .5 9.8 .5-12.7 .5 18 .5-22.2 .5 16.7 .5-14.9 .5 13.8 .5-14.1 .5 13.9 .5-14.4 .5 17.4 .5-12.9 .5 13.2 .5-14.9 .5 10.9 .5-11.1 .5 13.2 .5-18.6 .5 25.4 .5-18.3 .5 10.8 .5-16.5 .5 16.2 .6-11.8 .5 11 .5-18.5 .5 20.3 .5-12 .5 12.8 .5-13.8 .5 15.5 .5-15.4 .5 16.8 .5-14.2 .5 10.3 .5-11.9 .5 21.1 .5-21.8 .5 15.3 .5-17.1 .5 13.1 .5-10.7 .5 13.4 .5-13.5 .5 13.9 .5-17.3 .5 21.7 .5-21.1 .5 17.9 .5-15.3 .5 10.4 .5-12.3 .5 18.2 .5-20 .5 14.6 .5-12.4 .5 12.4 .5-18.3 .5 17.8 .5-15.1 .5 9.9 .5-12.5 .5 16 .5-17.4 .5 16.2 .5-23.2 .5 15.6 .5-22.5 .5 22.5 .5-19.2 .5 16.1 .5-17.9 .5 12.3 .5-15.8 .5 14.7 .5-11.9 .5 14.7 .5-17.3 .5 13.6 .5-18.3 .5 16.9 .6-19.2 .5 16 .5-16.8 .5 18.4 .5-26.1 .5 15.7 .5-17.9 .5 14.8 .5-13.9 .5 16.9 .5-18.5 .5 17.3 .5-15.4 .5 13.7 .5-18.5 .5 14.1 .5-9.3 .5 12.3 .5-10.9 .5 12.6 .5-8.1 .5 9 .5-12.3 .5 11.4 .5-12.2 .5 14.3 .5-21.4 .5 22.8 .5-16 .5 15.4 .5-20.3 .5 20.7 .5-20 .5 13.4 .5-13.8 .5 14.4 .5-6.9 .5 16.7 .5-17.9 .5 18 .5-20.4 .5 17 .5-14.8 .5 12.3 .5-11 .5 12.4 .5-12 .5 9.9 .5-11 .5 14.3 .5-23.9 .5 26.1 .5-24.4 .5 19.8 .5-14.6 .5 14.1 .5-8.5 .5 18.5 .5-21.5 .6 17.6 .5-14.7 .5 11.9 .5-13.2 .5 14.1 .5-22.6 .5 23.7 .5-18.7 .5 18.5 .5-16.8 .5 12.4 .5-13.1 .5 18.3 .5-21.4 .5 19 .5-13.8 .5 12.7 .5-14 .5 15.5 .5-14.3 .5 16.5 .5-15.9 .5 13.6 .5-13 .5 12.6 .5-18.4 .5 15 .5-12.2 .5 11.7 .5-10.9 .5 15.7 .5-17.3 .5 12.1 .5-13.8 .5 12.7 .5-10.1 .5 10.3 .5-13.4 .5 19.7 .5-16.3 .5 10.4 .5-8.8 .5 10.9 .5-14.7 .5 19.5 .5-22.2 .5 17.3 .5-10.2 .5 13.4 .5-13.9 .5 11 .5-10.8 .5 12.6 .5-17.2 .5 19.8 .5-18.3 .5 12.4 .5-9.2 .5 11.8 .6-11.3 .5 10.3 .5-10.7 .5 12.5 .5-14.7 .5 13.5 .5-10.6 .5 14.7 .5-15.1 .5 11.5 .5-18 .5 17.3 .5-13.4 .5 13.1 .5-11.8 .5 12.8 .5-19.6 .5 16.2 .5-14.1 .5 18.9 .5-14.5 .5 15.1 .5-21.9 .5 20 .5-13.5 .5 13.1 .5-19.2 .5 17.2 .5-9.3 .5 19 .5-25.7 .5 20.3 .5-17.5 .5 16.8 .5-14.3 .5 13.1 .5-9.5 .5 13.4 .5-12.7 .5 14.2 .5-18.4 .5 13.3 .5-14.7 .5 17.8 .5-18.1 .5 13.3 .5-9.4 .5 19.8 .5-23.3 .5 17.6 .5-18 .5 14.7 .5-13.2 .5 13.7 .5-14.9 .5 13.2 .5-12.9 .5 15 .6-16.9 .5 17.9 .5-21.4 .5 20.3 .5-13.2 .5 13.1 .5-16.8 .5 18.5 .5-19.1 .5 15.6 .5-19.9 .5 18.3 .5-15.6 .5 15.3 .5-15.7 .5 15.8 .5-13.4 .5 14.1 .5-12.2 .5 21.5 .5-19.4 .5 13.9 .5-14.7 .5 12 .5-13 .5 16.2 .5-14 .5 15.3 .5-17 .5 18.8 .5-22.1 .5 16.6 .5-11.1 .5 9.6 .5-20.7 .5 20.2 .5-10.1 .5 12.1 .5-16.2 .5 11.8 .5-12.1 .5 11.9 .5-11.3 .5 15.2 .5-10.8 .5 15.1 .5-21.9 .5 17 .5-13.9 .5 15.2 .5-12.9 .5 17.1 .5-15.4 .5 18.5 .5-19.2 .5 12.9 .5-12.9 .5 12.2 .5-15.1 .6 15.9 .5-12.6 .5 15 .5-21.8 .5 21.5 .5-15.9 .5 13.6 .5-13.5 .5 11.8 .5-15.3 .5 16.2 .5-16.8 .5 19.9 .5-17.8 .5 13.3 .5-7.6 .5 9.1 .5-9.9 .5 15.7 .5-15.2 .5 15.2 .5-13.3 .5 14.6 .5-25.5 .5 21.2 .5-15.3 .5 14.7 .5-17.8 .5 16.3 .5-11.6 0 14.8" stroke="#ff0"/>
<path d="M534.2 1495l.5 36.7 .5-24.6 .5 25.1 .5-32.2 .5 31.8 .5-39.1 .5 33.3 .5-19.5 .5 22.4 .5-27.5 .5 22.1 .5-32.9 .5 38.7 .5-32.4 .5 31.7 .5-24 .5 20.3 .5-24.9 .5 30 .5-21.1 .5 20.4 .5-23.4 .5 29.2 .5-29 .5 33.5 .5-36.7 .5 23.8 .5-19.8 .5 17.3 .6-18.3 .5 20.9 .5-16.7 .5 21 .5-19.7 .5 19.7 .5-25.6 .5 22.2 .5-24.8 .5 31.3 .5-23.8 .5 17.9 .5-25.2 .5 30.4 .5-26.6 .5 20.1 .5-26.6 .5 26.5 .5-27.4 .5 41.5 .5-34.2 .5 20 .5-19.2 .5 30.3 .5-46.5 .5 34.7 .5-16.6 .5 16.1 .5-24.2 .5 25.8 .5-23.6 .5 31.7 .5-29.3 .5 22.1 .5-20.9 .5 30.6 .5-37.2 .5 32.1 .5-32.4 .5 20.6 .5-29.2 .5 30.9 .5-27.7 .5 23.8 .5-16.5 .5 20.1 .5-26.9 .5 28.8 .5-21.5 .5 26.2 .5-27.6 .5 22.7 .5-16.7 .5 30.7 .5-25.7 .5 23.6 .5-35.4 .5 30.4 .5-27.4 .6 27.3 .5-32.7 .5 26.2 .5-22.3 .5 33.3 .5-25.3 .5 18.1 .5-24.2 .5 23.1 .5-20.7 .5 19.3 .5-18.8 .5 21.7 .5-21 .5 33 .5-39.7 .5 21 .5-25.9 .5 26.2 .5-31.1 .5 35.8 .5-29.3 .5 30.6 .5-21.5 .5 27 .5-33 .5 26.3 .5-20.6 .5 17.5 .5-22.8 .5 28.4 .5-24.9 .5 31.5 .5-31.4 .5 40.6 .5-42.8 .5 26 .5-32.4 .5 33.2 .5-29.6 .5 34.9 .5-26.1 .5 24 .5-31 .5 33.6 .5-24.8 .5 21.9 .5-28.1 .5 29.9 .5-35.7 .5 43.2 .5-44.8 .5 35.4 .5-34.1 .5 29.4 .5-22.7 .5 23.8 .5-24.7 .6 20.8 .5-22.9 .5 25 .5-33.2 .5 32.5 .5-35.3 .5 44.3 .5-32 .5 22 .5-35.9 .5 40.6 .5-24.4 .5 31.8 .5-42.1 .5 30.6 .5-18 .5 15.7 .5-20.8 .5 28 .5-33.1 .5 28.1 .5-19.7 .5 20.4 .5-24.6 .5 26.7 .5-22 .5 29.3 .5-28.7 .5 26 .5-19.9 .5 21.8 .5-23.3 .5 26.9 .5-32.5 .5 28.2 .5-24.7 .5 21.5 .5-24.5 .5 25.2 .5-18.8 .5 23 .5-26.5 .5 24.2 .5-22.5 .5 20.3 .5-24.1 .5 24 .5-22.4 .5 20 .5-23.1 .5 20.5 .5-21.8 .5 31.7 .5-24.9 .5 26.2 .5-29.1 .5 28.7 .5-28.3 .5 22.8 .6-30.3 .5 28.6 .5-17.8 .5 16.4 .5-17.9 .5 21.5 .5-19.8 .5 21.5 .5-29.3 .5 38.5 .5-35.8 .5 27.7 .5-31 .5 26.8 .5-27.3 .5 22.1 .5-13 .5 23.4 .5-28.3 .5 31.4 .5-29 .5 23.7 .5-24.3 .5 19 .5-23.5 .5 24.3 .5-22.1 .5 26.8 .5-29.8 .5 35.5 .5-33.8 .5 24.2 .5-17.5 .5 19.9 .5-22.2 .5 19.3 .5-20.9 .5 18.3 .5-18.4 .5 26.4 .5-23.4 .5 25.4 .5-27.7 .5 27.8 .5-35.8 .5 25 .5-29.8 .5 28.5 .5-20.5 .5 27.8 .5-26 .5 22 .5-17 .5 19.2 .5-29.9 .5 25.7 .5-21.9 .5 16.5 .5-20.6 .6 20.3 .5-13.2 .5 21.9 .5-29.2 .5 37.2 .5-33.7 .5 24.6 .5-21.6 .5 16.3 .5-18.6 .5 22 .5-23.1 .5 27.3 .5-34.2 .5 38.3 .5-22.8 .5 30.8 .5-38.9 .5 20.8 .5-26.4 .5 32.4 .5-28 .5 26.6 .5-26.2 .5 32.4 .5-35.5 .5 33 .5-38 .5 27.8 .5-21.3 .5 19.7 .5-28.2 .5 22.4 .5-26.9 .5 31.8 .5-22.1 .5 21.4 .5-25.9 .5 30.1 .5-43.7 .5 34.3 .5-29.2 .5 29 .5-33.8 .5 30.4 .5-28.2 .5 24.8 .5-21.9 .5 29.1 .5-27.2 .5 23.7 .5-26.2 .5 26.5 .5-27.2 .5 24.9 .5-19.8 .5 31.3 .5-37.7 .5 27.4 .6-18.6 .5 20.3 .5-24.9 .5 31.5 .5-32.2 .5 29.3 .5-30.7 .5 32.1 .5-22.9 .5 23.7 .5-29.2 .5 35.4 .5-34.6 .5 26.7 .5-32.5 .5 25.5 .5-23.2 .5 28 .5-24 .5 19.5 .5-22.7 .5 32.9 .5-22.5 .5 19.2 .5-20.5 .5 23.6 .5-34.1 .5 34.5 .5-23.2 .5 17.8 .5-25 .5 21.3 .5-26.6 .5 27.9 .5-23.3 .5 20.6 .5-28.3 .5 28.8 .5-23.5 .5 30.4 .5-33.5 .5 35.4 .5-26 .5 20.4 .5-26.4 .5 35 .5-26.2 .5 27 .5-30.5 .5 16.3 .5-20.6 .5 20.9 .5-22 .5 25.9 .5-30.9 .5 30.4 .5-17.9 .5 30.6 .6-36.9 .5 28.8 .5-25.1 .5 28.9 .5-28.5 .5 28 .5-27.5 .5 27.8 .5-29.6 .5 21.9 .5-27.3 .5 33.5 .5-26.4 .5 26.2 .5-23.8 .5 24.4 .5-26.5 .5 19.7 .5-22.9 .5 33.3 .5-43.8 .5 35.2 .5-32.2 .5 32 .5-27.6 .5 22.5 .5-23.4 .5 31.5 .5-26.1 .5 17.2 .5-26.3 .5 24 .5-20.2 .5 25.8 .5-29 .5 24.4 .5-26.5 .5 35.3 .5-25.5 .5 35.6 .5-39.9 .5 28.5 .5-36.6 .5 35.5 .5-24.3 .5 25 .5-25.9 .5 23.3 .5-19.6 .5 19.5 .5-26.4 .5 22.4 .5-25.7 .5 36.4 .5-30.9 .5 28.5 .5-30.4 .5 21.7 .5-14.3 .6 18.4 .5-32.8 .5 34.8 .5-28.4 .5 24.7 .5-20.1 .5 31.4 .5-33.6 .5 21.6 .5-22.3 .5 31.3 .5-26.8 .5 24.8 .5-19 .5 24.3 .5-22.1 .5 23.4 .5-32 .5 22.7 .5-20.6 .5 26.6 .5-29.3 .5 26.3 .5-25.6 .5 24.6 .5-28.1 .5 34.1 .5-32 .5 27.1 .5-19.1 .5 21.6 .5-20.6 .5 19.7 .5-19 .5 16 .5-24.7 .5 30.4 .5-27.9 .5 28.3 .5-29.1 .5 24.5 .5-32 .5 32.5 .5-20.3 .5 29.7 .5-31.3 .5 28.9 .5-34.3 .5 32.6 .5-40.8 .5 35.2 .5-19.6 .5 21 .5-30.6 .5 34.1 .5-29.3 .5 20 .5-13.9 .5 24.1 .6-27.3 .5 35.6 .5-35.1 .5 19.3 .5-19.8 .5 36 .5-32.6 .5 17.9 .5-16 .5 18.2 .5-16.2 .5 17.9 .5-20.1 .5 19.5 .5-27.8 .5 32 .5-25.5 .5 17.5 .5-17.7 .5 23.5 .5-38.1 .5 34.4 .5-26.8 .5 22.8 .5-21.9 .5 20.6 .5-24.2 .5 31 .5-30.9 .5 30.5 .5-33.2 .5 39.9 .5-33.5 .5 26.8 .5-20 .5 18 .5-21.9 .5 23.2 .5-24.7 .5 24.7 .5-21.4 .5 18.1 .5-21 .5 18 .5-25.9 .5 32.9 .5-25.7 .5 25.6 .5-29.7 .5 30.8 .5-20.6 .5 21.9 .5-25 .5 19.9 .5-27 .5 26.9 .5-26 .5 28.8 .6-23.3 .5 26.8 .5-25.1 .5 22.5 .5-40.9 .5 39.2 .5-29.4 .5 30.7 .5-28.2 .5 23.3 .5-26.9 .5 23.1 .5-15.2 .5 17.9 .5-18.2 .5 19.8 .5-24.9 .5 33.5 .5-30.5 .5 26.9 .5-25.1 .5 20.8 .5-18 .5 21.9 .5-28.3 .5 29.9 .5-22.7 .5 18.6 .5-19.5 .5 20.2 .5-26.2 .5 20.1 .5-20.8 .5 22.3 .5-22.8 .5 21.1 .5-25.4 .5 26.8 .5-33.8 .5 39.7 .5-32.5 .5 31.2 .5-26.9 .5 27.2 .5-21.8 .5 18.5 .5-27.2 .5 25.7 .5-15.7 .5 21 .5-22.4 .5 27.9 .5-31.9 .5 24.7 .5-27.8 .5 36.7 .5-40.3 .5 32.2 .5-21.5 .6 27.3 .5-28.7 .5 20.9 .5-26.5 .5 25.7 .5-26.6 .5 23.4 .5-19.5 .5 29.1 .5-34.7 .5 28.4 .5-18.8 .5 18.2 .5-17.2 .5 23.2 .5-24.7 .5 19.9 .5-20.9 .5 30.7 .5-28.5 .5 17.1 .5-18.1 .5 26.7 .5-26.3 .5 15.8 .5-18.9 .5 23 .5-31.4 .5 44.1 .5-32.6 0 18.5" stroke="#bc8f8f"/>
<path d="M534.2 1478.6l.5 21.5 .5-14.1 .5 18.2 .5-19.6 .5 16 .5-12.8 .5 16.1 .5-16.2 .5 19.2 .5-18.3 .5 15.6 .5-24.3 .5 27.5 .5-19.9 .5 16.4 .5-16.2 .5 21.9 .5-26 .5 20 .5-14 .5 16.3 .5-12.2 .5 15.6 .5-17.9 .5 18.8 .5-19 .5 15.4 .5-16.4 .5 16.6 .6-18.2 .5 24.1 .5-26.1 .5 18 .5-13.7 .5 15.1 .5-16.1 .5 18 .5-23.4 .5 25.4 .5-18.9 .5 11.4 .5-14.9 .5 18.4 .5-20 .5 19.4 .5-13.8 .5 16.6 .5-17.7 .5 27.1 .5-26.5 .5 16.4 .5-20.4 .5 30.2 .5-29.4 .5 15.1 .5-19 .5 18.9 .5-15.2 .5 14.1 .5-18.6 .5 19.6 .5-23.5 .5 29 .5-24.4 .5 16 .5-17.1 .5 29.7 .5-20.5 .5 12.3 .5-15 .5 12.7 .5-11.5 .5 13.2 .5-20.4 .5 19.5 .5-15.8 .5 25.8 .5-24.3 .5 13.7 .5-15.8 .5 18.6 .5-16.7 .5 13.9 .5-11.8 .5 15.4 .5-21.2 .5 22.6 .5-18.8 .6 24 .5-31.9 .5 27.1 .5-16.8 .5 11.6 .5-15.1 .5 15 .5-21.6 .5 26.7 .5-21.9 .5 17.1 .5-17.2 .5 17.1 .5-24.6 .5 34.9 .5-28 .5 21.8 .5-28.8 .5 26.2 .5-13.8 .5 17 .5-15.5 .5 18.9 .5-24.2 .5 16.5 .5-16.6 .5 15.5 .5-25.9 .5 30.1 .5-21.1 .5 19.5 .5-16.7 .5 13.9 .5-16.6 .5 18.5 .5-18.2 .5 17.1 .5-13.7 .5 18.1 .5-20.4 .5 20.1 .5-21.6 .5 14.5 .5-13.8 .5 23 .5-29.3 .5 24.1 .5-17.3 .5 15.1 .5-14.8 .5 15.8 .5-16.6 .5 15.5 .5-17 .5 20.8 .5-27.6 .5 23.4 .5-15 .6 16.7 .5-16.5 .5 15.6 .5-19.4 .5 18.9 .5-15.9 .5 13.3 .5-14.8 .5 21.8 .5-17.5 .5 17.7 .5-15.8 .5 17.5 .5-20.9 .5 19.9 .5-15.7 .5 15.6 .5-25.2 .5 23 .5-21.6 .5 21.9 .5-13.3 .5 16.3 .5-18.1 .5 21.8 .5-24.9 .5 18.4 .5-19.1 .5 24 .5-20.2 .5 15.3 .5-14.8 .5 23.4 .5-30.6 .5 21.6 .5-14.9 .5 22.5 .5-23.7 .5 19.4 .5-17.2 .5 15.6 .5-15.8 .5 19.8 .5-29.1 .5 29.4 .5-18.3 .5 15.6 .5-15.6 .5 18.8 .5-18.1 .5 18 .5-21.7 .5 18.2 .5-16.1 .5 12.7 .5-21.1 .5 24.2 .5-24.2 .5 20.6 .6-12.8 .5 14.8 .5-12.8 .5 20.3 .5-29.3 .5 19.3 .5-13.6 .5 15 .5-15.8 .5 16.3 .5-15.8 .5 23.7 .5-30.7 .5 21.5 .5-13 .5 13 .5-16.9 .5 18.2 .5-18.7 .5 13.8 .5-11.6 .5 15.8 .5-23.3 .5 20.9 .5-27.2 .5 23.3 .5-15.7 .5 22.4 .5-22.6 .5 24.7 .5-21.5 .5 14.4 .5-13.9 .5 15.3 .5-15.8 .5 16.2 .5-15.5 .5 18.6 .5-21.5 .5 17.5 .5-13 .5 15.8 .5-21.5 .5 17.3 .5-21.3 .5 23.2 .5-26.3 .5 31.5 .5-18.4 .5 14.8 .5-18.8 .5 16.8 .5-21.2 .5 22.9 .5-20.5 .5 23.7 .5-18.8 .5 16 .5-18.2 .6 20.1 .5-16 .5 15.1 .5-15.1 .5 18.6 .5-16.8 .5 12.9 .5-13.4 .5 16.9 .5-21.6 .5 20.8 .5-15.3 .5 13.1 .5-14.5 .5 16.4 .5-17.8 .5 21.7 .5-15.9 .5 14 .5-16.5 .5 21.6 .5-15.8 .5 12.9 .5-12.8 .5 20.1 .5-20.1 .5 18.6 .5-20.3 .5 18.7 .5-15 .5 18.1 .5-14.3 .5 16.5 .5-15.5 .5 16 .5-20.4 .5 20.5 .5-17.5 .5 18 .5-14.9 .5 15 .5-15.3 .5 24.3 .5-21.4 .5 18.1 .5-21.1 .5 17.1 .5-20 .5 22.7 .5-18.3 .5 20.6 .5-24.6 .5 26.2 .5-30.7 .5 29.7 .5-25 .5 20.7 .5-17.4 .5 22.5 .6-18.6 .5 13.2 .5-17.1 .5 15.9 .5-20.6 .5 21.3 .5-16.3 .5 25.2 .5-18 .5 13.1 .5-16.1 .5 16 .5-12.1 .5 17.8 .5-23.7 .5 15.9 .5-17.1 .5 15.6 .5-19.2 .5 23.5 .5-18.5 .5 18 .5-14 .5 15.5 .5-17.8 .5 15 .5-19 .5 19.3 .5-14.9 .5 13.5 .5-18 .5 22.7 .5-16.2 .5 12 .5-17.6 .5 23.3 .5-19.8 .5 19.5 .5-17 .5 16.6 .5-15.4 .5 22.9 .5-21 .5 17.9 .5-22 .5 17.8 .5-23.1 .5 22.4 .5-18.7 .5 20.6 .5-21.8 .5 23.8 .5-21.2 .5 25.8 .5-27.1 .5 17.9 .5-13.7 .5 12.8 .6-19.5 .5 23.9 .5-25.1 .5 24.6 .5-25.4 .5 23.2 .5-20.4 .5 20.1 .5-18 .5 22.4 .5-21 .5 18.2 .5-21.2 .5 23 .5-14.2 .5 18.4 .5-20.5 .5 18.4 .5-17.8 .5 22.5 .5-21.1 .5 18.3 .5-16.8 .5 14 .5-18.3 .5 16.6 .5-14.5 .5 18.2 .5-21.6 .5 23 .5-23.1 .5 16.9 .5-11.7 .5 14 .5-16.4 .5 15.2 .5-15.3 .5 12 .5-11.8 .5 15.7 .5-18.1 .5 22.7 .5-24.5 .5 19.1 .5-15.6 .5 18.4 .5-19.7 .5 19.5 .5-18.6 .5 20.7 .5-21.1 .5 14.8 .5-12.7 .5 15.2 .5-13.8 .5 12.1 .5-17.8 .5 19 .5-15.5 .6 21.4 .5-29.1 .5 20.3 .5-20.3 .5 27.6 .5-18.7 .5 24.5 .5-25.7 .5 19.4 .5-20.7 .5 18.4 .5-16.2 .5 15.3 .5-13.8 .5 13.8 .5-17.8 .5 27.6 .5-28.1 .5 20 .5-15.1 .5 15.3 .5-18.3 .5 16 .5-12.6 .5 14.2 .5-16.4 .5 16.8 .5-27.8 .5 21 .5-13.3 .5 16.4 .5-13.7 .5 12.3 .5-11 .5 18.6 .5-18.5 .5 14.5 .5-17.4 .5 18.4 .5-13 .5 12.6 .5-15.4 .5 15.4 .5-20.4 .5 20.3 .5-13 .5 17.1 .5-23 .5 24 .5-24.7 .5 21.3 .5-18.1 .5 13.3 .5-14.3 .5 14.9 .5-10.8 .5 12.4 .5-12.5 .5 17.1 .6-23 .5 28.3 .5-20.7 .5 14.6 .5-15.3 .5 12.4 .5-11.2 .5 22.6 .5-28.1 .5 20.1 .5-21.4 .5 28.9 .5-23.9 .5 11.8 .5-15 .5 21.9 .5-20.6 .5 22.8 .5-31.1 .5 19.7 .5-22.8 .5 23.1 .5-13.5 .5 16.7 .5-18.8 .5 23.2 .5-25.5 .5 27.6 .5-21.4 .5 16.3 .5-15 .5 16.6 .5-15.7 .5 20.6 .5-29.3 .5 29 .5-31.9 .5 19.8 .5-10.4 .5 12.8 .5-14.9 .5 14.8 .5-11.7 .5 13.8 .5-15.9 .5 14.9 .5-15.1 .5 17.3 .5-18.3 .5 13.7 .5-14.2 .5 16.3 .5-18.5 .5 17.8 .5-18.5 .5 17 .5-13 .5 17.8 .6-19.4 .5 17.5 .5-17.1 .5 23.3 .5-25.8 .5 14.8 .5-8.5 .5 15 .5-15.6 .5 13.2 .5-19.6 .5 17.6 .5-16.4 .5 17 .5-10.2 .5 13.6 .5-16.5 .5 19.4 .5-17 .5 19.2 .5-21.2 .5 17.1 .5-22 .5 19.4 .5-14.3 .5 16 .5-14.2 .5 21 .5-30 .5 25.4 .5-23.3 .5 18 .5-14.3 .5 19.3 .5-19 .5 19.3 .5-16.6 .5 16.8 .5-17.5 .5 14.1 .5-16 .5 19.1 .5-15.1 .5 13 .5-12.6 .5 16.5 .5-20 .5 14.5 .5-14.3 .5 24 .5-32.3 .5 27.3 .5-24.3 .5 22.1 .5-27 .5 29.4 .5-24.9 .5 17.1 .5-13.3 .6 16.8 .5-19.7 .5 17 .5-19.6 .5 21.5 .5-17.1 .5 16.9 .5-18.1 .5 21 .5-20.9 .5 24.1 .5-21.3 .5 23.7 .5-19.7 .5 19.2 .5-19 .5 14.4 .5-13.4 .5 18 .5-22.2 .5 20.4 .5-16.5 .5 19 .5-21.7 .5 17.5 .5-19 .5 16 .5-18.6 .5 17.2 .5-13.3 0 23.9" stroke="#dcdcdc"/>
<path d="M534.2 1581.7l.5 1.3 .5 0 .5 0 .5-1.3 .5 1.3 .5-1.3 .5 1.3 .5-1.3 .5 1.3 .5 0 .5 0 .5-1.3 .5 1.3 .5-1.3 .5 1.3 .5-1.3 .5 1.3 .5-1.3 .5 1.3 .5 0 .5 0 .5-1.3 .5 1.3 .5-1.3 .5 1.3 .5-1.3 .5 1.3 .5-1.3 .5 1.3 .6-1.3 .5 1.3 .5 0 .5 0 .5-1.3 .5 1.3 .5-1.3 .5 1.3 .5-1.3 .5 1.3 .5-1.3 .5 1.3 .5 0 .5 0 .5-1.3 .5 1.3 .5-1.3 .5 1.3 .5 0 .5 0 .5-1.3 .5 1.3 .5-1.3 .5 1.3 .5-1.3 .5 1.3 .5-1.3 .5 1.3 .5-1.3 .5 1.3 .5-1.3 .5 1.3 .5-1.3 .5 1.3 .5 0 .5 0 .5-1.3 .5 1.3 .5-1.3 .5 1.3 .5-1.3 .5 1.3 .5-1.3 .5 1.3 .5 0 .5 0 .5-1.3 .5 1.3 .5-1.3 .5 1.3 .5-1.3 .5 1.3 .5-1.3 .5 1.3 .5-1.3 .5 1.3 .5 0 .5 0 .5 0 .6 0 .5-1.3 .5 1.3 .5-1.3 .5 1.3 .5 0 .5 0 .5-1.3 .5 1.3 .5-1.3 .5 1.3 .5 0 .5 0 .5-1.3 .5 1.3 .5-1.3 .5 1.3 .5-1.3 .5 1.3 .5-1.3 .5 1.3 .5-1.3 .5 1.3 .5 0 .5 0 .5-1.3 .5 1.3 .5-1.3 .5 1.3 .5 0 .5 0 .5-1.3 .5 1.3 .5-1.3 .5 1.3 .5 0 .5 0 .5 0 .5 0 .5-1.3 .5 1.3 .5-1.3 .5 1.3 .5-1.3 .5 1.3 .5-1.3 .5 1.3 .5 0 .5 0 .5 0 .5 0 .5-1.3 .5 1.3 .5-1.3 .5 1.3 .5-1.3 .5 1.3 .5-1.3 .6 1.3 .5 0 .5 0 .5 0 .5 0 .5-1.3 .5 1.3 .5 0 .5 0 .5-1.3 .5 1.3 .5-1.3 .5 1.3 .5-1.3 .5 1.3 .5-1.3 .5 1.3 .5 0 .5 0 .5-1.3 .5 1.3 .5-1.3 .5 1.3 .5-1.3 .5 1.3 .5-1.3 .5 1.3 .5 0 .5 0 .5-1.3 .5 1.3 .5-1.3 .5 1.3 .5 0 .5 0 .5 0 .5 0 .5 0 .5 0 .5-1.3 .5 1.3 .5 0 .5 0 .5-1.3 .5 1.3 .5-1.3 .5 1.3 .5-1.3 .5 1.3 .5-1.3 .5 1.3 .5-1.3 .5 1.3 .5-1.3 .5 1.3 .5 0 .5 0 .5 0 .5 0 .6 0 .5 0 .5-1.3 .5 1.3 .5 0 .5 0 .5-1.3 .5 1.3 .5-1.3 .5 1.3 .5 0 .5 0 .5-1.3 .5 1.3 .5-1.3 .5 1.3 .5-1.3 .5 1.3 .5-1.3 .5 1.3 .5-1.3 .5 1.3 .5 0 .5 0 .5-1.3 .5 1.3 .5-1.3 .5 1.3 .5-1.3 .5 1.3 .5-1.3 .5 1.3 .5-1.3 .5 1.3 .5 0 .5 0 .5-1.3 .5 1.3 .5-1.3 .5 1.3 .5-1.3 .5 1.3 .5-1.3 .5 1.3 .5-1.3 .5 1.3 .5-1.3 .5 1.3 .5-1.3 .5 1.3 .5-1.3 .5 1.3 .5 0 .5 0 .5-1.3 .5 1.3 .5 0 .5 0 .5-1.3 .6 1.3 .5-1.3 .5 1.3 .5 0 .5 0 .5-1.3 .5 1.3 .5-1.3 .5 1.3 .5-1.3 .5 1.3 .5-1.3 .5 1.3 .5-1.3 .5 1.3 .5-1.3 .5 1.3 .5-1.3 .5 1.3 .5-1.3 .5 1.3 .5-1.3 .5 1.3 .5-1.3 .5 1.3 .5-1.3 .5 1.3 .5 0 .5 0 .5-1.3 .5 1.3 .5-1.3 .5 1.3 .5-1.3 .5 1.3 .5 0 .5 0 .5-1.3 .5 1.3 .5 0 .5 0 .5 0 .5 0 .5-1.3 .5 1.3 .5-1.3 .5 1.3 .5 0 .5 0 .5 0 .5 0 .5 0 .5 0 .5-1.3 .5 1.3 .5 0 .5 0 .5-1.3 .5 1.3 .6-1.3 .5 1.3 .5-1.3 .5 1.3 .5 0 .5 0 .5 0 .5 0 .5-1.3 .5 1.3 .5-1.3 .5 1.3 .5-1.3 .5 1.3 .5-1.3 .5 1.3 .5 0 .5 0 .5 0 .5 0 .5-1.3 .5 1.3 .5-1.3 .5 1.3 .5-1.3 .5 1.3 .5-1.3 .5 1.3 .5-1.3 .5 1.3 .5-1.3 .5 1.3 .5-1.3 .5 1.3 .5-1.3 .5 1.3 .5-1.3 .5 1.3 .5-1.3 .5 1.3 .5-5 .5 5 .5-5 .5 5 .5-6.3 .5 6.3 .5-6.3 .5 6.3 .5-7.6 .5 5.1 .5-5.1 .5 7.6 .5-6.3 .5 6.3 .5-7.6 .5 5.1 .5-3.8 .5 6.3 .6-8.8 .5 7.5 .5-6.3 .5 6.3 .5-5 .5 3.8 .5-3.8 .5 5 .5-6.3 .5 5.1 .5-3.8 .5 5 .5-6.3 .5 5.1 .5-3.8 .5 3.8 .5-3.8 .5 5 .5-6.3 .5 5.1 .5-5.1 .5 6.3 .5-6.3 .5 7.6 .5-6.3 .5 3.8 .5-6.3 .5 7.5 .5-8.8 .5 8.8 .5-8.8 .5 8.8 .5-5 .5 5 .5-7.5 .5 8.8 .5-6.3 .5 6.3 .5-6.3 .5 3.8 .5-5.1 .5 5.1 .5-5.1 .5 7.6 .5-7.6 .5 5.1 .5-5.1 .5 7.6 .5-7.6 .5 5.1 .5-5.1 .5 5.1 .5-5.1 .5 5.1 .5-6.3 .5 6.3 .5-5.1 .5 7.6 .5-7.6 .6 5.1 .5-7.6 .5 8.8 .5-5 .5 3.8 .5-5.1 .5 7.6 .5-8.8 .5 8.8 .5-7.6 .5 6.3 .5-6.3 .5 5.1 .5-3.8 .5 6.3 .5-6.3 .5 6.3 .5-6.3 .5 3.8 .5-3.8 .5 5 .5-6.3 .5 6.3 .5-6.3 .5 5.1 .5-6.3 .5 7.5 .5-5 .5 6.3 .5-3.8 .5 3.8 .5-5 .5 3.7 .5-2.5 .5 3.8 .5-1.3 .5 1.3 .5-1.3 .5 1.3 .5-1.3 .5 1.3 .5 0 .5 0 .5-1.3 .5 1.3 .5 0 .5 0 .5 0 .5 0 .5-1.3 .5 1.3 .5-1.3 .5 1.3 .5 0 .5 0 .5-1.3 .5 1.3 .5-1.3 .5 1.3 .6-1.3 .5 1.3 .5 0 .5 0 .5-1.3 .5 1.3 .5-1.3 .5 1.3 .5 0 .5 0 .5-1.3 .5 1.3 .5-1.3 .5 1.3 .5 0 .5 0 .5-1.3 .5 1.3 .5-1.3 .5 1.3 .5-1.3 .5 1.3 .5-1.3 .5 1.3 .5 0 .5 0 .5-1.3 .5 1.3 .5 0 .5 0 .5-1.3 .5 1.3 .5 0 .5 0 .5-1.3 .5 1.3 .5 0 .5 0 .5 0 .5 0 .5 0 .5 0 .5-1.3 .5 1.3 .5 0 .5 0 .5 0 .5 0 .5-1.3 .5 1.3 .5-1.3 .5 1.3 .5 0 .5 0 .5 0 .5 0 .5-1.3 .5 1.3 .6-1.3 .5 1.3 .5-1.3 .5 1.3 .5-1.3 .5 1.3 .5 0 .5 0 .5-1.3 .5 1.3 .5 0 .5 0 .5 0 .5 0 .5-1.3 .5 1.3 .5-1.3 .5 1.3 .5-1.3 .5 1.3 .5 0 .5 0 .5-1.3 .5 1.3 .5-1.3 .5 1.3 .5 0 .5 0 .5-1.3 .5 1.3 .5 0 .5 0 .5 0 .5 0 .5-1.3 .5 1.3 .5 0 .5 0 .5 0 .5 0 .5-1.3 .5 1.3 .5-1.3 .5 1.3 .5-1.3 .5 1.3 .5 0 .5 0 .5-1.3 .5 1.3 .5-1.3 .5 1.3 .5-1.3 .5 1.3 .5-1.3 .5 1.3 .5-1.3 .5 1.3 .5-1.3 .6 1.3 .5-1.3 .5 1.3 .5-1.3 .5 1.3 .5 0 .5 0 .5-1.3 .5 1.3 .5-1.3 .5 1.3 .5-1.3 .5 1.3 .5-1.3 .5 1.3 .5-1.3 .5 1.3 .5 0 .5 0 .5-1.3 .5 1.3 .5-1.3 .5 1.3 .5 0 .5 0 .5 0 .5 0 .5 0 .5 0 .5-1.3 0 1.3" stroke="#9400d3"/>
<path d="M534.2 1560.3l.5 16.4 .5-12.6 .5 13.9 .5-16.4 .5 16.4 .5-16.4 .5 16.4 .5-18.9 .5 17.6 .5-13.9 .5 15.2 .5-12.6 .5 17.6 .5-18.9 .5 18.9 .5-16.4 .5 12.6 .5-20.1 .5 23.9 .5-18.9 .5 18.9 .5-17.6 .5 17.6 .5-16.4 .5 15.1 .5-13.8 .5 13.8 .5-17.6 .5 18.9 .6-20.2 .5 16.4 .5-15.1 .5 15.1 .5-13.8 .5 11.3 .5-11.3 .5 17.6 .5-18.9 .5 16.4 .5-18.9 .5 17.6 .5-16.4 .5 17.7 .5-16.4 .5 13.9 .5-13.9 .5 13.9 .5-13.9 .5 15.1 .5-15.1 .5 12.6 .5-15.1 .5 15.1 .5-16.4 .5 16.4 .5-15.1 .5 18.9 .5-18.9 .5 15.1 .5-12.6 .5 17.6 .5-25.2 .5 26.5 .5-17.6 .5 17.6 .5-22.7 .5 20.2 .5-17.7 .5 20.2 .5-20.2 .5 20.2 .5-16.4 .5 11.4 .5-12.6 .5 13.8 .5-18.9 .5 16.4 .5-13.9 .5 20.2 .5-18.9 .5 18.9 .5-16.4 .5 12.6 .5-12.6 .5 13.9 .5-17.7 .5 20.2 .5-16.4 .6 16.4 .5-17.6 .5 16.3 .5-18.9 .5 18.9 .5-22.6 .5 18.9 .5-12.6 .5 16.3 .5-20.1 .5 16.4 .5-22.7 .5 22.7 .5-16.4 .5 21.4 .5-23.9 .5 18.9 .5-17.7 .5 16.4 .5-15.1 .5 16.4 .5-12.6 .5 12.6 .5-15.2 .5 15.2 .5-20.2 .5 18.9 .5-16.4 .5 18.9 .5-15.1 .5 11.3 .5-16.3 .5 18.9 .5-16.4 .5 17.6 .5-16.4 .5 15.2 .5-15.2 .5 16.4 .5-15.1 .5 15.1 .5-16.4 .5 15.2 .5-21.5 .5 18.9 .5-15.1 .5 22.7 .5-25.2 .5 20.2 .5-24 .5 24 .5-11.4 .5 12.6 .5-15.1 .5 16.4 .5-22.7 .5 20.2 .5-15.2 .6 15.2 .5-25.2 .5 25.2 .5-12.6 .5 17.6 .5-21.4 .5 18.9 .5-17.7 .5 18.9 .5-21.4 .5 22.7 .5-20.2 .5 18.9 .5-20.1 .5 17.6 .5-16.4 .5 20.2 .5-22.7 .5 17.7 .5-13.9 .5 13.9 .5-13.9 .5 18.9 .5-21.4 .5 21.4 .5-18.9 .5 12.6 .5-12.6 .5 13.9 .5-22.7 .5 22.7 .5-21.5 .5 17.7 .5-12.6 .5 17.6 .5-13.8 .5 13.8 .5-20.1 .5 16.3 .5-12.6 .5 18.9 .5-17.6 .5 17.6 .5-21.4 .5 18.9 .5-18.9 .5 17.7 .5-20.2 .5 20.2 .5-21.5 .5 26.5 .5-20.2 .5 12.6 .5-13.8 .5 15.1 .5-12.6 .5 13.9 .5-16.4 .5 18.9 .6-22.7 .5 17.6 .5-16.3 .5 17.6 .5-16.4 .5 17.7 .5-16.4 .5 16.4 .5-20.2 .5 18.9 .5-18.9 .5 16.4 .5-17.7 .5 22.7 .5-23.9 .5 21.4 .5-17.6 .5 13.8 .5-10.1 .5 11.4 .5-16.4 .5 20.2 .5-22.7 .5 22.7 .5-13.9 .5 16.4 .5-15.1 .5 15.1 .5-22.7 .5 23.9 .5-17.6 .5 13.9 .5-12.6 .5 12.6 .5-12.6 .5 17.6 .5-17.6 .5 13.8 .5-15.1 .5 15.1 .5-13.8 .5 12.6 .5-17.7 .5 18.9 .5-20.1 .5 17.6 .5-11.3 .5 12.6 .5-15.2 .5 17.7 .5-17.7 .5 11.4 .5-16.4 .5 20.2 .5-18.9 .5 16.3 .5-20.1 .5 26.4 .5-20.1 .6 15.1 .5-17.6 .5 22.6 .5-25.2 .5 21.5 .5-18.9 .5 18.9 .5-16.4 .5 17.6 .5-12.6 .5 16.4 .5-25.2 .5 17.6 .5-11.3 .5 13.9 .5-16.4 .5 17.6 .5-23.9 .5 23.9 .5-17.6 .5 21.4 .5-18.9 .5 18.9 .5-22.7 .5 22.7 .5-18.9 .5 16.4 .5-18.9 .5 16.4 .5-16.4 .5 15.1 .5-13.9 .5 17.7 .5-24 .5 21.5 .5-22.7 .5 23.9 .5-15.1 .5 13.9 .5-13.9 .5 17.6 .5-21.4 .5 16.4 .5-15.1 .5 13.8 .5-8.8 .5 16.4 .5-23.9 .5 20.1 .5-18.9 .5 17.7 .5-16.4 .5 20.1 .5-22.6 .5 23.9 .5-26.5 .5 26.5 .5-27.7 .5 22.7 .6-15.2 .5 16.4 .5-18.9 .5 22.7 .5-22.7 .5 20.2 .5-15.1 .5 11.3 .5-13.9 .5 11.4 .5-8.8 .5 17.6 .5-18.9 .5 13.9 .5-20.2 .5 23.9 .5-21.4 .5 17.7 .5-15.2 .5 16.4 .5-16.4 .5 11.4 .5-13.9 .5 16.4 .5-20.2 .5 26.5 .5-18.9 .5 11.3 .5-15.1 .5 16.4 .5-13.9 .5 17.7 .5-26.5 .5 22.7 .5-13.9 .5 13.9 .5-17.6 .5 17.6 .5-12.6 .5 10.1 .5-10.1 .5 11.3 .5-12.6 .5 15.2 .5-16.4 .5 18.9 .5-16.4 .5 13.9 .5-11.4 .5 11.4 .5-13.9 .5 18.9 .5-26.5 .5 21.5 .5-21.5 .5 24 .5-15.1 .5 15.1 .6-13.9 .5 10.1 .5-15.1 .5 17.6 .5-15.1 .5 18.9 .5-18.9 .5 15.1 .5-18.9 .5 22.7 .5-18.9 .5 16.4 .5-15.1 .5 12.6 .5-17.7 .5 22.7 .5-20.2 .5 15.2 .5-12.6 .5 11.3 .5-20.2 .5 21.5 .5-13.9 .5 16.4 .5-13.9 .5 11.4 .5-17.7 .5 18.9 .5-18.9 .5 21.4 .5-18.9 .5 18.9 .5-18.9 .5 16.4 .5-22.7 .5 22.7 .5-22.7 .5 26.5 .5-17.6 .5 15.1 .5-18.9 .5 15.1 .5-13.9 .5 13.9 .5-18.9 .5 20.2 .5-13.9 .5 13.9 .5-15.2 .5 20.2 .5-16.4 .5 15.1 .5-15.1 .5 16.4 .5-17.6 .5 15.1 .5-18.9 .5 21.4 .5-18.9 .6 12.6 .5-18.9 .5 16.4 .5-13.9 .5 13.9 .5-15.1 .5 13.8 .5-11.3 .5 16.4 .5-13.9 .5 13.9 .5-16.4 .5 20.1 .5-18.9 .5 13.9 .5-13.9 .5 13.9 .5-16.4 .5 16.4 .5-22.7 .5 22.7 .5-15.1 .5 12.6 .5-12.6 .5 17.6 .5-17.6 .5 17.6 .5-17.6 .5 16.4 .5-17.7 .5 18.9 .5-15.1 .5 18.9 .5-23.9 .5 21.4 .5-17.7 .5 20.2 .5-21.4 .5 18.9 .5-27.7 .5 22.6 .5-20.1 .5 25.2 .5-17.7 .5 12.6 .5-21.4 .5 24 .5-15.2 .5 13.9 .5-13.9 .5 16.4 .5-21.4 .5 18.9 .5-25.2 .5 26.5 .5-16.4 .5 16.4 .5-16.4 .5 16.4 .6-20.2 .5 18.9 .5-16.4 .5 18.9 .5-21.4 .5 20.2 .5-25.2 .5 25.2 .5-15.2 .5 15.2 .5-21.5 .5 26.5 .5-21.4 .5 16.4 .5-17.7 .5 16.4 .5-20.2 .5 20.2 .5-15.1 .5 18.9 .5-17.7 .5 13.9 .5-16.4 .5 20.2 .5-17.7 .5 13.9 .5-16.4 .5 17.7 .5-16.4 .5 13.8 .5-12.6 .5 17.7 .5-17.7 .5 16.4 .5-15.1 .5 15.1 .5-15.1 .5 18.9 .5-21.4 .5 16.4 .5-13.9 .5 13.9 .5-12.6 .5 16.3 .5-15.1 .5 15.1 .5-17.6 .5 15.1 .5-15.1 .5 18.9 .5-21.4 .5 17.6 .5-15.1 .5 16.4 .5-15.1 .5 10 .5-11.3 .5 15.1 .6-16.4 .5 17.7 .5-20.2 .5 21.4 .5-18.9 .5 13.9 .5-22.7 .5 22.7 .5-20.2 .5 18.9 .5-12.6 .5 16.4 .5-13.8 .5 11.3 .5-11.3 .5 12.6 .5-12.6 .5 13.8 .5-15.1 .5 18.9 .5-18.9 .5 15.1 .5-15.1 .5 15.1 .5-13.8 .5 17.6 .5-17.6 .5 15.1 .5-16.4 .5 15.1 .5-23.9 .5 26.4 .5-21.4 .5 16.4 .5-11.3 .5 11.3 .5-17.6 .5 18.9 .5-16.4 .5 15.1 .5-12.6 .5 13.9 .5-13.9 .5 15.1 .5-18.9 .5 16.4 .5-11.3 .5 11.3 .5-20.2 .5 20.2 .5-16.4 .5 16.4 .5-13.9 .5 18.9 .5-21.4 .5 12.6 .5-15.1 .5 16.4 .5-11.4 .6 20.2 .5-22.7 .5 20.2 .5-17.7 .5 18.9 .5-18.9 .5 13.9 .5-13.9 .5 16.4 .5-16.4 .5 16.4 .5-23.9 .5 26.4 .5-18.9 .5 18.9 .5-20.1 .5 17.6 .5-17.6 .5 20.1 .5-18.9 .5 15.2 .5-18.9 .5 18.9 .5-15.2 .5 13.9 .5-16.4 .5 15.1 .5-12.6 .5 16.4 .5-15.1 0 15.1" stroke="#0ff"/>
<path d="M566.6 1583v-4.8M566.6 1205v4.8M631.4 1583v-4.8M631.4 1205v4.8M696.2 1583v-4.8M696.2 1205v4.8M761.1 1583v-4.8M761.1 1205v4.8M825.9 1583v-4.8M825.9 1205v4.8M534.2 1583v-9.5M534.2 1205v9.5M599 1583v-9.5M599 1205v9.5M663.8 1583v-9.5M663.8 1205v9.5M728.7 1583v-9.5M728.7 1205v9.5M793.5 1583v-9.5M793.5 1205v9.5M858.3 1583v-9.5M858.3 1205v9.5M534.2 1551.5h4.8M858.3 1551.5h-4.8M534.2 1488.5h4.8M858.3 1488.5h-4.8M534.2 1425.5h4.8M858.3 1425.5h-4.8M534.2 1362.5h4.8M858.3 1362.5h-4.8M534.2 1299.5h4.8M858.3 1299.5h-4.8M534.2 1236.5h4.8M858.3 1236.5h-4.8M534.2 1583h9.5M858.3 1583h-9.5M534.2 1520h9.5M858.3 1520h-9.5M534.2 1457h9.5M858.3 1457h-9.5M534.2 1394h9.5M858.3 1394h-9.5M534.2 1331h9.5M858.3 1331h-9.5M534.2 1268h9.5M858.3 1268h-9.5M534.2 1205h9.5M858.3 1205h-9.5" stroke="#000" stroke-width="1.2"/>
<rect x="534.2" y="1205" width="324.1" height="378" stroke="#000" stroke-width="1.2"/>
<g font-size="14.8"><text x="534.2" y="1599.6" text-anchor="middle">0</text><text x="599" y="1599.6" text-anchor="middle">20000</text><text x="663.8" y="1599.6" text-anchor="middle">40000</text><text x="728.7" y="1599.6" text-anchor="middle">60000</text><text x="793.5" y="1599.6" text-anchor="middle">80000</text><text x="858.3" y="1599.6" text-anchor="middle">1e+05</text><text x="530.2" y="1588.8" text-anchor="end">0</text><text x="530.2" y="1525.8" text-anchor="end">50</text><text x="530.2" y="1462.8" text-anchor="end">100</text><text x="530.2" y="1399.8" text-anchor="end">150</text><text x="530.2" y="1336.8" text-anchor="end">200</text><text x="530.2" y="1273.8" text-anchor="end">250</text><text x="530.2" y="1210.8" text-anchor="end">300</text></g>
<rect x="874" y="1230.7" width="90.5" height="154" fill="#fff" stroke="#000"/>
<g font-size="14.7"><path d="M879.8 1243H891.8" stroke="#000" stroke-width="1.3"/><text x="902" y="1247.9">Structure</text><path d="M879.8 1259H891.8" stroke="#f00" stroke-width="1.3"/><text x="902" y="1263.9">Coil</text><path d="M879.8 1275.4H891.8" stroke="#0f0" stroke-width="1.3"/><text x="902" y="1280.3">B-Sheet</text><path d="M879.8 1291.1H891.8" stroke="#00f" stroke-width="1.3"/><text x="902" y="1296">B-Bridge</text><path d="M879.8 1310.2H891.8" stroke="#ff0" stroke-width="1.3"/><text x="902" y="1315.1">Bend</text><path d="M879.8 1326.3H891.8" stroke="#bc8f8f" stroke-width="1.3"/><text x="902" y="1331.2">Turn</text><path d="M879.8 1342.7H891.8" stroke="#dcdcdc" stroke-width="1.3"/><text x="902" y="1347.6">A-Helix</text><path d="M879.8 1358.4H891.8" stroke="#9400d3" stroke-width="1.3"/><text x="902" y="1363.3">5-Helix</text><path d="M879.8 1374.4H891.8" stroke="#0ff" stroke-width="1.3"/><text x="902" y="1379.3">3-Helix</text></g>
<text x="691.3" y="1161.7" font-size="18.6" text-anchor="middle" font-weight="bold" textLength="347" lengthAdjust="spacingAndGlyphs">Secondary Structure  Wild CD36 + PLM</text>
<text x="696" y="1190" font-size="14" text-anchor="middle" textLength="301" lengthAdjust="spacingAndGlyphs">Structure = A-Helix + B-Sheet + B-Bridge + Turn</text>
<text x="696" y="1614.7" font-size="15.3" text-anchor="middle">Time (ps)</text>
<text transform="translate(497.5 1400) rotate(-90)" font-size="15.1" text-anchor="middle">Number of Residues</text>
<path d="M1025.5 1246.7l.5 28.4 .5-32.5 .5 27.2 .5-29.5 .5 36.5 .5-34.8 .5 22.4 .5-33.3 .5 46.2 .5-43.6 .5 43.7 .5-56.7 .5 41.5 .5-20.6 .5 21.9 .5-30.2 .5 35.7 .6-38.1 .5 35.4 .5-27.1 .5 22.5 .5-21.3 .5 23 .5-27.5 .5 22.6 .5-32.1 .5 36.7 .5-38.3 .5 32.5 .5-32.1 .5 25.9 .5-24.3 .5 27.8 .5-26.7 .5 25.8 .5-16.5 .5 26.7 .5-41 .5 46.4 .5-30.6 .5 41.9 .5-44.4 .5 27.3 .5-28.3 .5 28.8 .5-23.7 .5 22.8 .5-38.5 .5 45.6 .5-36.4 .5 40.3 .5-30.8 .5 38.3 .6-40 .5 27.4 .5-20.7 .5 24.2 .5-25.9 .5 31.5 .5-24.8 .5 35.7 .5-40 .5 27.3 .5-30 .5 29.8 .5-37.1 .5 44.5 .5-51.1 .5 46.2 .5-28.5 .5 31.2 .5-32 .5 23.3 .5-38.3 .5 35.5 .5-24.2 .5 28.2 .5-33.8 .5 27.1 .5-21 .5 44.1 .5-42.3 .5 22.6 .5-39 .5 44.5 .5-45.3 .5 55.6 .5-37.3 .5 30.9 .6-31.2 .5 33.5 .5-25.9 .5 32.9 .5-33 .5 39.3 .5-41.7 .5 38.9 .5-33.4 .5 26.9 .5-31.4 .5 35.3 .5-36.4 .5 26 .5-37 .5 27.7 .5-29.5 .5 31.4 .5-29.4 .5 36.8 .5-42.9 .5 38.3 .5-22.1 .5 22 .5-37.7 .5 48.5 .5-37.5 .5 33.1 .5-33.3 .5 35.7 .5-44.1 .5 57.1 .5-43.3 .5 33.1 .5-38.3 .5 25.1 .6-41.4 .5 54.5 .5-47.4 .5 31.7 .5-28.9 .5 33.5 .5-36.9 .5 34.5 .5-35.3 .5 41.7 .5-38.6 .5 30.3 .5-25.3 .5 35.9 .5-32.3 .5 24 .5-22.6 .5 25.8 .5-26.2 .5 31.3 .5-38.6 .5 42.2 .5-43.7 .5 34.1 .5-20 .5 19.9 .5-23.3 .5 25.8 .5-35.7 .5 40.5 .5-27.9 .5 24.1 .5-35.8 .5 39.2 .5-35.9 .5 26.7 .6-40.9 .5 45.1 .5-37.2 .5 29.3 .5-27 .5 32.5 .5-32.2 .5 43.7 .5-48.8 .5 38.9 .5-37.9 .5 48 .5-37.8 .5 28 .5-27.1 .5 25.8 .5-25.3 .5 30.6 .5-24.9 .5 21.8 .5-23.6 .5 26.6 .5-21.7 .5 34.1 .5-53 .5 37.9 .5-23.9 .5 21.2 .5-27.9 .5 27.8 .5-37.7 .5 47.8 .5-44.6 .5 41.2 .5-34.7 .5 27.7 .6-33.7 .5 34.8 .5-33.1 .5 27.3 .5-34.7 .5 33.3 .5-32.2 .5 42.7 .5-39.4 .5 36.2 .5-33.7 .5 28.2 .5-30.4 .5 40.9 .5-31.2 .5 22.4 .5-18.6 .5 34 .5-38.8 .5 33.1 .5-32 .5 26.8 .5-29.8 .5 30.8 .5-30.1 .5 22.3 .5-20.9 .5 28.7 .5-35.5 .5 32.5 .5-26.6 .5 36 .5-37.6 .5 27.9 .5-31.8 .5 38.8 .6-38.6 .5 26.1 .5-23.8 .5 30.2 .5-40.2 .5 38.3 .5-27 .5 26 .5-39.7 .5 47.4 .5-47.5 .5 40 .5-22.9 .5 25.1 .5-28.3 .5 27.9 .5-25.3 .5 25.2 .5-40.7 .5 45.1 .5-37.5 .5 38.7 .5-39.3 .5 36 .5-35.2 .5 37.6 .5-42.2 .5 39 .5-32.8 .5 27 .5-19 .5 34.4 .5-43.3 .5 33.2 .5-31.2 .5 37.4 .6-42.9 .5 37.3 .5-29.2 .5 40.7 .5-44.3 .5 32.4 .5-33 .5 25.9 .5-25.4 .5 36.9 .5-37.8 .5 29.6 .5-34 .5 37 .5-31.5 .5 31 .5-23.2 .5 26.4 .5-30.9 .5 34.7 .5-33.7 .5 40.6 .5-50.6 .5 28.3 .5-31.3 .5 36.9 .5-34.3 .5 38.9 .5-34.4 .5 33.5 .5-28.5 .5 38.3 .5-47.1 .5 42.3 .5-29.2 .5 22.5 .6-25.5 .5 31.8 .5-35.6 .5 33.1 .5-45.5 .5 36.5 .5-29.3 .5 31.7 .5-28.6 .5 47.6 .5-43.2 .5 29.8 .5-30.3 .5 32.8 .5-35.3 .5 29.4 .5-30.7 .5 29 .5-19.4 .5 21.4 .5-30.5 .5 33.9 .5-36.9 .5 45.1 .5-35 .5 33.5 .5-37.9 .5 32.7 .5-32.8 .5 34.3 .5-32.4 .5 25.1 .5-32.8 .5 38.6 .5-25.3 .6 21.1 .5-25.4 .5 40.4 .5-39.8 .5 21.1 .5-19.9 .5 34.8 .5-36.5 .5 30.3 .5-34.3 .5 26 .5-41.7 .5 60.2 .5-58.3 .5 45.9 .5-34.4 .5 36.9 .5-28.3 .5 23.8 .5-41 .5 39 .5-25.2 .5 28.8 .5-42.5 .5 37.8 .5-24.5 .5 28.1 .5-37 .5 29 .5-36.8 .5 50.2 .5-39.3 .5 30.2 .5-23.4 .5 23.1 .5-20.4 .6 26 .5-28.8 .5 32.9 .5-35.7 .5 25.9 .5-26.9 .5 29.3 .5-38.6 .5 49.3 .5-42.3 .5 38.4 .5-49.9 .5 38.6 .5-21 .5 24.2 .5-27.8 .5 35.4 .5-38.1 .5 26.2 .5-23.3 .5 25.5 .5-17.4 .5 20.5 .5-31 .5 30.9 .5-33.9 .5 30.9 .5-41.1 .5 41 .5-30.2 .5 44.2 .5-41.7 .5 30.2 .5-26 .5 21 .5-21.6 .6 32.2 .5-33.4 .5 30.4 .5-21.9 .5 29.5 .5-35.8 .5 27.8 .5-22.4 .5 22.3 .5-22.3 .5 24.7 .5-23.7 .5 36.2 .5-42.4 .5 38.4 .5-36.3 .5 41.6 .5-41.6 .5 32.3 .5-42 .5 43.3 .5-41.4 .5 53.6 .5-39.9 .5 24.7 .5-30.4 .5 44.8 .5-38.1 .5 42.8 .5-38.6 .5 36.3 .5-38.7 .5 23.3 .5-17.4 .5 27.3 .5-30.2 .6 24.6 .5-26.9 .5 32.1 .5-22.9 .5 31.6 .5-19 .5 32.2 .5-42.8 .5 39.8 .5-25.2 .5 36.7 .5-26.9 .5 44.4 .5-46.2 .5 26.3 .5-44.1 .5 46.4 .5-36.9 .5 29.1 .5-39 .5 39.6 .5-30.2 .5 32.3 .5-25.9 .5 25.2 .5-26 .5 34.7 .5-40 .5 45.6 .5-41.9 .5 27.2 .5-30.7 .5 36.6 .5-28.6 .5 25.8 .5-39.7 .6 41.2 .5-24.4 .5 22 .5-38.1 .5 44.4 .5-34.8 .5 31.1 .5-40.2 .5 33.1 .5-28.3 .5 31.8 .5-19 .5 30.9 .5-26 .5 25.7 .5-41 .5 42.3 .5-32.3 .5 29.4 .5-24 .5 29.9 .5-27.2 .5 26.3 .5-36.3 .5 52.8 .5-50.8 .5 32.2 .5-32.1 .5 29.8 .5-32 .5 33.1 .5-22.8 .5 28.7 .5-37.6 .5 32.9 .5-30.4 .6 40.1 .5-40.5 .5 30.5 .5-24.4 .5 23.8 .5-20.4 .5 31.4 .5-35.9 .5 25.8 .5-28 .5 28 .5-27.3 .5 37.4 .5-42.6 .5 33.3 .5-29.4 .5 34.4 .5-26.8 .5 38.6 .5-60.6 .5 41.8 .5-41.4 .5 42.9 .5-30.7 .5 28.7 .5-34.9 .5 33.3 .5-18.3 .5 20.4 .5-24.4 .5 30.5 .5-32.7 .5 31.7 .5-27.8 .5 34.6 .5-35.2 .6 27.7 .5-29.5 .5 41.6 .5-36.6 .5 26.9 .5-42.8 .5 37.5 .5-37 .5 23.7 .5-24.3 .5 37.5 .5-40 .5 27.1 .5-35 .5 29.9 .5-18.5 .5 26.2 .5-26.9 .5 22.3 .5-34.1 .5 40.6 .5-47.7 .5 46.9 .5-30 .5 22.1 .5-21.9 .5 19.5 .5-23.4 .5 24.7 .5-27.2 .5 39.4 .5-50.2 .5 41.8 .5-25.8 .5 37.1 .5-47.3 .6 34.7 .5-25.7 .5 28.7 .5-30.7 .5 31.6 .5-26.2 .5 20.6 .5-23 .5 33.5 .5-49 .5 37.6 .5-31.5 .5 42.8 .5-44.3 .5 47.6 .5-37.7 .5 39.2 .5-38.9 .5 31.2 .5-28.2 .5 24 .5-35.8 .5 46.6 .5-33.5 .5 19.4 .5-15.5 .5 28.6 .5-29.3 .5 28.4 .5-37.8 .5 32.9 .5-29.9 .5 31.6 .5-27.5 .5 24.9 .5-24.1 .6 38.5 .5-49.6 .5 36.1 .5-25.2 .5 22.5 .5-28.2 .5 31.5 .5-23.2 .5 23.7 .5-32.2 .5 31.9 .5-23.2 .5 28.1 .5-32.5 .5 30.8 .5-29.3 .5 31.2 .5-34.6 0 31.4" stroke="#000"/>
<path d="M1025.5 1469l.5 20.5 .5-26.5 .5 24.2 .5-21.5 .5 23.1 .5-28.1 .5 25.5 .5-25.2 .5 21.9 .5-17.8 .5 19.3 .5-20.3 .5 19.7 .5-20 .5 19.7 .5-15.4 .5 16.9 .6-24.1 .5 26.9 .5-17.1 .5 15.4 .5-16.2 .5 19.1 .5-21 .5 24.2 .5-29.8 .5 22.8 .5-14.7 .5 14.9 .5-14.9 .5 25 .5-23.7 .5 21.9 .5-22.3 .5 18.7 .5-19.1 .5 15 .5-25.9 .5 23.7 .5-21.1 .5 31.1 .5-24 .5 17.3 .5-17.7 .5 25.5 .5-22.3 .5 19.8 .5-19 .5 15 .5-17.5 .5 18.8 .5-17.2 .5 20.4 .6-25.4 .5 18.1 .5-17.3 .5 18.6 .5-17.6 .5 19.4 .5-23.1 .5 19.7 .5-19.6 .5 20.2 .5-15.3 .5 25 .5-25.1 .5 27.8 .5-29.8 .5 20.7 .5-23.3 .5 23.9 .5-27.5 .5 32.1 .5-27 .5 25.5 .5-32.3 .5 25 .5-22.2 .5 29.1 .5-23.8 .5 15.1 .5-24.7 .5 21 .5-14.8 .5 15.6 .5-17.7 .5 27.1 .5-25.6 .5 23.9 .6-25.5 .5 27.8 .5-28.5 .5 29.2 .5-27.9 .5 23.7 .5-19.7 .5 21 .5-17.5 .5 17.5 .5-23.2 .5 23.5 .5-21.8 .5 20.9 .5-18.8 .5 13.6 .5-16.8 .5 16.8 .5-21.9 .5 25.5 .5-24.1 .5 19.6 .5-12.7 .5 19.5 .5-19.8 .5 16 .5-9.4 .5 21.6 .5-24.7 .5 13.7 .5-17.4 .5 15.4 .5-12.5 .5 17.9 .5-16.3 .5 20.1 .6-27.3 .5 21 .5-19.1 .5 24.9 .5-21.9 .5 15.5 .5-18.7 .5 17.2 .5-18.2 .5 18.6 .5-21.5 .5 19.6 .5-16.2 .5 18.9 .5-19.6 .5 23.5 .5-26.6 .5 29.4 .5-24.2 .5 26.5 .5-27.8 .5 19.6 .5-24 .5 21.3 .5-17.6 .5 25 .5-27.1 .5 21.7 .5-26.7 .5 28.5 .5-28.3 .5 20.6 .5-15.8 .5 13.4 .5-13.4 .5 23.9 .6-22.6 .5 21.3 .5-19.8 .5 18.3 .5-17.6 .5 21.2 .5-26.3 .5 22.6 .5-17.4 .5 16.2 .5-20.9 .5 20.4 .5-18.8 .5 23.6 .5-19 .5 24.1 .5-24.5 .5 17.8 .5-24.3 .5 24.2 .5-24 .5 20.2 .5-19.2 .5 27.4 .5-33 .5 30.8 .5-28.2 .5 23.2 .5-16.7 .5 25.9 .5-26.5 .5 24.1 .5-18.7 .5 16 .5-20 .5 23 .6-21 .5 19.5 .5-22.2 .5 19.5 .5-19.1 .5 20.9 .5-15.4 .5 16.5 .5-17.6 .5 13.9 .5-17.4 .5 21.4 .5-24.2 .5 23.2 .5-24.4 .5 23.3 .5-18.2 .5 19.9 .5-25.2 .5 22 .5-16.5 .5 18.1 .5-22.2 .5 16.2 .5-22.3 .5 24.9 .5-18.6 .5 29.4 .5-26.2 .5 20 .5-19.8 .5 19 .5-21 .5 25.5 .5-29.4 .5 18.1 .6-15.3 .5 14 .5-20.3 .5 18.2 .5-12.3 .5 21.4 .5-27 .5 27.1 .5-28.7 .5 23 .5-20.3 .5 19.1 .5-23.7 .5 26.7 .5-27.1 .5 26.5 .5-19.9 .5 24.1 .5-26.7 .5 18.6 .5-19.3 .5 20.9 .5-13.6 .5 16 .5-13.9 .5 17 .5-24.2 .5 24.5 .5-20.1 .5 21.5 .5-20.8 .5 16 .5-24.6 .5 26.5 .5-25.8 .5 23 .6-12.9 .5 22.8 .5-32.9 .5 29.8 .5-22.4 .5 17.4 .5-23.5 .5 24 .5-22.4 .5 18.7 .5-27 .5 25.1 .5-22.2 .5 24.1 .5-17.4 .5 19 .5-19.5 .5 17.3 .5-18.3 .5 21.2 .5-21.9 .5 25.2 .5-36.3 .5 26.3 .5-17 .5 17.2 .5-13.1 .5 17 .5-20.5 .5 26.9 .5-30.3 .5 21.6 .5-18.1 .5 22.1 .5-22.7 .5 25.9 .6-26 .5 22.1 .5-16.9 .5 16.9 .5-24.3 .5 22.8 .5-19.7 .5 22.8 .5-27.3 .5 24.2 .5-22.9 .5 26.4 .5-19.9 .5 16.2 .5-26.7 .5 31.7 .5-20.6 .5 22.6 .5-32.3 .5 26.7 .5-17.5 .5 19.9 .5-21.3 .5 20.6 .5-19.7 .5 21.1 .5-27.2 .5 23.6 .5-24.3 .5 26.4 .5-16.1 .5 15 .5-23.1 .5 25 .5-14.7 .6 16.1 .5-25.6 .5 23.5 .5-21 .5 21.1 .5-19 .5 17.8 .5-12.9 .5 22.7 .5-25 .5 16.3 .5-20.2 .5 19.1 .5-23.6 .5 20.1 .5-17.9 .5 18.9 .5-22.1 .5 25.3 .5-22.7 .5 20.4 .5-18.4 .5 21.9 .5-17.3 .5 17.4 .5-16.2 .5 16 .5-16.3 .5 18.7 .5-21.8 .5 20.4 .5-21 .5 21.5 .5-17.4 .5 18 .5-23.9 .6 19.9 .5-24.4 .5 27.4 .5-21.6 .5 17.8 .5-25.8 .5 31.1 .5-35.7 .5 30.3 .5-26.1 .5 24.2 .5-18.6 .5 17.4 .5-13.1 .5 22.1 .5-20.5 .5 15.9 .5-19 .5 20.2 .5-18.8 .5 28 .5-33 .5 21.8 .5-17.6 .5 14.1 .5-15.6 .5 15.9 .5-12.8 .5 15.3 .5-18.3 .5 19.7 .5-21 .5 21.9 .5-19 .5 16 .5-19.1 .6 22 .5-23.3 .5 17.6 .5-16.1 .5 23.1 .5-23.4 .5 20.4 .5-20.7 .5 33.6 .5-32.7 .5 19.8 .5-19.1 .5 17.1 .5-19.9 .5 26.1 .5-23.5 .5 18.6 .5-21.4 .5 15.8 .5-21.4 .5 21.7 .5-13.7 .5 27.3 .5-31.9 .5 25 .5-16.5 .5 13.6 .5-14.6 .5 22 .5-23.6 .5 22.1 .5-23.7 .5 16.1 .5-26.9 .5 25.7 .5-16 .6 22.4 .5-19.4 .5 18.8 .5-35.7 .5 27 .5-23.5 .5 17.2 .5-28.4 .5 26.3 .5-30.1 .5 14.7 .5-16.3 .5 18.8 .5-21.5 .5 19.2 .5-16.3 .5 14.5 .5-16.6 .5 16.8 .5-15.1 .5 15.5 .5-15.6 .5 18.6 .5-20.3 .5 17.6 .5-14.7 .5 15.6 .5-17.3 .5 17.5 .5-12.1 .5 15.6 .5-19.8 .5 20.8 .5-17.8 .5 21.2 .5-24.9 .6 32.2 .5-28.6 .5 17.1 .5-15.9 .5 21.8 .5-23.3 .5 13.6 .5-14.2 .5 17.8 .5-22.4 .5 20.3 .5-24.8 .5 33.1 .5-27 .5 19 .5-23.8 .5 28.6 .5-27.9 .5 23.7 .5-22.7 .5 20.2 .5-17 .5 16.2 .5-18.7 .5 17.4 .5-16.3 .5 16 .5-19 .5 16.1 .5-19.6 .5 22.2 .5-18.8 .5 22.3 .5-15.7 .5 14.3 .5-15.2 .6 17.1 .5-30.9 .5 29.7 .5-19.1 .5 19.1 .5-22.8 .5 33.9 .5-33.9 .5 25.5 .5-25.3 .5 21.7 .5-22.2 .5 24.7 .5-24.7 .5 28 .5-22.1 .5 22.5 .5-27.2 .5 22.3 .5-17.7 .5 15.6 .5-16.7 .5 15.6 .5-16.9 .5 21.8 .5-29.8 .5 27.1 .5-20.4 .5 17.4 .5-20.6 .5 22.7 .5-27.8 .5 23.3 .5-19.9 .5 20.1 .5-15.4 .6 15.4 .5-17.1 .5 23.2 .5-28.9 .5 28.6 .5-25.5 .5 21.2 .5-19.4 .5 23 .5-27.6 .5 20.4 .5-13 .5 20 .5-19 .5 14.7 .5-23 .5 22.7 .5-13.5 .5 23.2 .5-34 .5 26.3 .5-23.2 .5 26.1 .5-23.3 .5 21.3 .5-18.1 .5 21.3 .5-20.8 .5 19.1 .5-22.5 .5 21.1 .5-23.2 .5 23.8 .5-14 .5 21.2 .5-25.1 .6 17.2 .5-16.5 .5 22.2 .5-19.3 .5 16 .5-23.7 .5 21.3 .5-12.9 .5 15.9 .5-16.3 .5 16.5 .5-17.1 .5 19.1 .5-22.8 .5 21.9 .5-19.6 .5 19.2 .5-18.6 .5 18.7 .5-21.5 .5 28.2 .5-24.8 .5 19.5 .5-14.8 .5 17.6 .5-15.8 .5 18 .5-17.7 .5 13.6 .5-20 .5 25.5 .5-19.8 .5 15.1 .5-23.7 .5 32.1 .5-21 .6 26.5 .5-36 .5 23.6 .5-18.6 .5 21.2 .5-23.8 .5 19.3 .5-25.2 .5 35.9 .5-31.4 .5 29.9 .5-22.3 .5 20 .5-21.7 .5 19.5 .5-18.2 .5 17.1 .5-18.3 0 25.1" stroke="#f00"/>
<path d="M1025.5 1416.2l.5 13.9 .5-19.4 .5 21.2 .5-18.1 .5 17.5 .5-16.3 .5 18.8 .5-23.4 .5 17.5 .5-15.7 .5 18.6 .5-22.7 .5 27 .5-21.2 .5 25.4 .5-27.5 .5 20.2 .6-17.5 .5 19.4 .5-21 .5 25.4 .5-19.4 .5 15.3 .5-18.3 .5 17.4 .5-12.5 .5 22.5 .5-25.3 .5 21.7 .5-28.9 .5 20.8 .5-19.7 .5 22.4 .5-19.5 .5 24.8 .5-30.8 .5 24.5 .5-18.3 .5 26.4 .5-29.9 .5 16.7 .5-22.5 .5 28.3 .5-21.2 .5 18.5 .5-15.4 .5 14.9 .5-20.3 .5 22.6 .5-23.9 .5 20.6 .5-16.2 .5 21.9 .6-20.9 .5 22.4 .5-25.7 .5 26.9 .5-28.2 .5 16.5 .5-17.4 .5 19.9 .5-19.4 .5 26.2 .5-21.6 .5 19.3 .5-16.9 .5 16.4 .5-15.2 .5 15.7 .5-17 .5 18.9 .5-17.8 .5 17.8 .5-20.2 .5 17 .5-12.5 .5 12.7 .5-16.9 .5 20.2 .5-21.9 .5 30.6 .5-29.8 .5 15.1 .5-13.2 .5 27.7 .5-35.7 .5 43.2 .5-37.8 .5 19.7 .6-22.7 .5 19.9 .5-18.1 .5 19.5 .5-16.6 .5 15.2 .5-24 .5 23.9 .5-16.6 .5 22.4 .5-24.8 .5 30.3 .5-36.6 .5 37.4 .5-27.1 .5 19.3 .5-20.7 .5 18 .5-15.3 .5 15.1 .5-16.7 .5 21.9 .5-20 .5 18.8 .5-21.4 .5 13.1 .5-18.3 .5 24.2 .5-22.6 .5 23.7 .5-17.7 .5 26.5 .5-25.1 .5 13.2 .5-15 .5 16.1 .6-23.3 .5 19.5 .5-18.2 .5 18.3 .5-18.5 .5 23.5 .5-25.4 .5 27.5 .5-26.8 .5 20.8 .5-17.5 .5 22 .5-24.7 .5 19.4 .5-12.1 .5 21 .5-20.6 .5 19.4 .5-18.7 .5 15.7 .5-18.6 .5 21 .5-24 .5 18.8 .5-12.5 .5 16.5 .5-18.7 .5 16.5 .5-21.1 .5 25.3 .5-20.5 .5 17.5 .5-16.3 .5 24.4 .5-26 .5 23.6 .6-23.1 .5 19.6 .5-24.1 .5 17.8 .5-12.6 .5 13.8 .5-15.6 .5 23.3 .5-23.9 .5 24.7 .5-27.9 .5 16.5 .5-13 .5 15.8 .5-14.8 .5 17 .5-21.4 .5 16.7 .5-17.8 .5 26.7 .5-27.4 .5 22.2 .5-19.3 .5 19.5 .5-19.7 .5 16.7 .5-19 .5 15.3 .5-10.4 .5 13.7 .5-14.6 .5 19.1 .5-18.6 .5 18.7 .5-16.2 .5 14.3 .6-19.9 .5 19.6 .5-19.3 .5 23.5 .5-17.4 .5 14.6 .5-18.2 .5 20 .5-23.5 .5 20.8 .5-19.5 .5 20.8 .5-18.8 .5 18.7 .5-26.1 .5 30 .5-26 .5 23.7 .5-20.6 .5 27.5 .5-25.9 .5 13.8 .5-17.6 .5 16.9 .5-21.2 .5 21.1 .5-16.8 .5 31.7 .5-30.3 .5 17.2 .5-11.8 .5 19.8 .5-16.8 .5 20.6 .5-22.1 .5 16.1 .6-14.9 .5 16.3 .5-21.5 .5 15 .5-13.8 .5 21.3 .5-25.1 .5 21 .5-21.2 .5 16.6 .5-14.6 .5 29.9 .5-33.3 .5 24 .5-28.6 .5 20.6 .5-12.3 .5 15 .5-16.7 .5 14.6 .5-16.7 .5 22.6 .5-24.1 .5 13.8 .5-16.4 .5 20 .5-21.4 .5 21.6 .5-23.1 .5 27.8 .5-24.8 .5 19.2 .5-23.8 .5 20.1 .5-19.2 .5 21.7 .6-19.5 .5 21.5 .5-22.1 .5 23.4 .5-20.5 .5 24.5 .5-25.1 .5 27.5 .5-26.7 .5 24.4 .5-18.8 .5 16 .5-16.1 .5 15.1 .5-15.9 .5 34.3 .5-30.7 .5 25.7 .5-26.2 .5 16.1 .5-21.4 .5 17.6 .5-19.2 .5 18.9 .5-12.2 .5 20.2 .5-21.4 .5 19.5 .5-17.1 .5 23.5 .5-29.1 .5 23 .5-20.8 .5 17.7 .5-20.3 .5 26.3 .6-21.6 .5 19.5 .5-22.9 .5 19.3 .5-21 .5 34.1 .5-26.2 .5 20.3 .5-25.5 .5 27.4 .5-26.9 .5 17.9 .5-15.6 .5 15.9 .5-15.9 .5 18.7 .5-20.5 .5 20 .5-17.9 .5 37.8 .5-34.9 .5 15.3 .5-16.2 .5 15.8 .5-19.1 .5 16.8 .5-13.9 .5 13.5 .5-19.7 .5 18.9 .5-13.6 .5 44.6 .5-45.2 .5 17.8 .5-22.7 .6 23.9 .5-18.7 .5 15.2 .5-15.1 .5 26.5 .5-24.6 .5 13 .5-18.4 .5 22.7 .5-15.6 .5 20.2 .5-27 .5 21.8 .5-18.1 .5 19.9 .5-23.9 .5 29.9 .5-29.8 .5 23.2 .5-26.5 .5 24.6 .5-26.9 .5 24.2 .5-17.9 .5 19.8 .5-22.7 .5 18.5 .5-18 .5 31.6 .5-20.9 .5 20.5 .5-26 .5 23.4 .5-23.3 .5 17.6 .5-17.9 .6 19.5 .5-16.9 .5 17.4 .5-15.1 .5 16.1 .5-17.8 .5 15.5 .5-19.4 .5 20 .5-20.8 .5 17.7 .5-16.3 .5 20.8 .5-24.5 .5 20.6 .5-26.1 .5 27.5 .5-25.5 .5 17.9 .5-18.1 .5 25.4 .5-18.7 .5 24.1 .5-25.9 .5 24 .5-23.3 .5 20.1 .5-24.6 .5 27.9 .5-29.5 .5 20.1 .5-10.4 .5 20.5 .5-27.1 .5 20.8 .5-16 .6 14.2 .5-20.2 .5 31.8 .5-25.9 .5 17.7 .5-19.4 .5 21.6 .5-21.3 .5 19.3 .5-16.3 .5 19.1 .5-21.9 .5 23.9 .5-18.6 .5 14.3 .5-18.3 .5 25 .5-25.9 .5 20.4 .5-21.6 .5 21.6 .5-30.4 .5 24.1 .5-14.2 .5 24.5 .5-28 .5 22.2 .5-17.1 .5 22.7 .5-22 .5 23 .5-23.1 .5 20.1 .5-25.7 .5 21.6 .5-23.5 .6 27.2 .5-16.4 .5 37.7 .5-30.1 .5 15 .5-16.9 .5 26.7 .5-16.9 .5 16.2 .5-11.3 .5 16 .5-18.8 .5 19 .5-19.8 .5 18 .5-21.9 .5 19.9 .5-16.1 .5 21.1 .5-21.8 .5 38.5 .5-39.5 .5 14.9 .5-17.6 .5 19.8 .5-16.6 .5 47.8 .5-44.9 .5 17.4 .5-18.1 .5 16.8 .5-23.4 .5 25.8 .5-17 .5 14.7 .5-14 .6 18.6 .5-19.6 .5 18.8 .5-17.5 .5 18.1 .5-19.4 .5 22.2 .5-26.9 .5 17.7 .5-20.8 .5 20.9 .5-17.2 .5 25.1 .5-26.9 .5 20.1 .5-20 .5 18.1 .5-13.5 .5 19 .5-25.6 .5 29.7 .5-28.6 .5 25.3 .5-23.2 .5 26 .5-23.9 .5 17.7 .5-20.9 .5 21.2 .5-25.4 .5 21.5 .5-19.2 .5 27.2 .5-21.9 .5 14.8 .5-23.2 .6 21.9 .5-17.6 .5 17.4 .5-24.1 .5 23.9 .5-16.4 .5 13.2 .5-12.9 .5 14.5 .5-16.8 .5 18.5 .5-13.4 .5 18.5 .5-22.1 .5 26.5 .5-25.8 .5 19.8 .5-17.3 .5 14.8 .5-20.2 .5 18.4 .5-12.6 .5 12.6 .5-14.3 .5 16.3 .5-13.3 .5 16.2 .5-18.8 .5 21.1 .5-18.7 .5 18.3 .5-17.9 .5 17.6 .5-16.6 .5 33 .5-35.8 .6 28.6 .5-29.3 .5 25.2 .5-20.1 .5 21 .5-19.5 .5 17.8 .5-18.4 .5 33.2 .5-37 .5 19.6 .5-18.7 .5 18.8 .5-20.3 .5 19.1 .5-23.9 .5 44 .5-45.3 .5 22 .5-15.3 .5 29.7 .5-30.8 .5 14.3 .5-15.7 .5 14.5 .5-11.6 .5 16.5 .5-19.7 .5 24.2 .5-27.1 .5 24.4 .5-17.8 .5 24 .5-31.9 .5 24.8 .5-14 .6 20.5 .5-21.7 .5 25.3 .5-26.8 .5 25.5 .5-24.3 .5 21.1 .5-29.1 .5 32.4 .5-26.9 .5 21.5 .5-19.2 .5 15.1 .5-18.6 .5 21.9 .5-23.8 .5 18.5 .5-19.1 .5 17 .5-16.7 .5 34.1 .5-35.5 .5 24 .5-18.8 .5 23.5 .5-23.7 .5 28.4 .5-29.4 .5 23.2 .5-18 .5 24 .5-26 .5 15.7 .5-23.9 .5 24.3 .5-21.6 .6 18.8 .5-17.1 .5 16.4 .5-18.4 .5 17 .5-14.3 .5 35.5 .5-38.6 .5 23.1 .5-23.1 .5 54.1 .5-52.5 .5 21.1 .5-24.4 .5 20.2 .5-12.2 .5 23.3 .5-25.4 0 17.8" stroke="#0f0"/>
<path d="M1025.5 1576.3l1 6.3 1-7.6 1 6.3 1-5 1 6.3 1.1-7.6 1 7.6 1-10.1 1 8.8 1-6.3 1 6.3 1-6.3 1 6.3 1-6.3 1 7.6 1-6.3 1 6.3 1.1-6.3 1 6.3 1-7.6 1 6.3 1-6.3 1 5.1 1-5.1 1 6.3 1-6.3 1 8.8 1-10 1.1 7.5 1-5 1 5 1-6.3 1 7.6 1-7.6 1 7.6 1-7.6 1 6.3 1-5 1 5 1-6.3 1.1 7.6 1-7.6 1 6.3 1-6.3 1 7.6 1-6.3 1 5 1-6.3 1 5.1 1-5.1 1 5.1 1.1-6.3 1 7.5 1-7.5 1 7.5 1-5 1 5 1-6.3 1 6.3 1-7.5 1 6.3 1-6.3 1 6.3 1.1-5.1 1 6.3 1-7.5 1 7.5 1-6.3 1 6.3 1-8.8 1 11.3 1-10 1 8.8 1-7.6 1.1 5.1 1-5.1 1 6.3 1-7.5 1 7.5 1-5 1 5 1-6.3 1 6.3 1-6.3 1 6.3 1-6.3 1.1 5.1 1-5.1 1 7.6 1-6.3 1 5 1-6.3 1 5.1 1-5.1 1 6.3 1-5 1 3.8 1.1-6.3 1 7.5 1-7.5 1 6.3 1-5.1 1 6.3 1-5 1 5 1-5 1 3.8 1-5.1 1 7.6 1.1-10.1 1 8.8 1-6.3 1 6.3 1-6.3 1 8.8 1-10 1 10 1-8.8 1 5.1 1-7.6 1.1 10.1 1-6.3 1 5 1-7.5 1 6.3 1-6.3 1 6.3 1-5.1 1 8.8 1-8.8 1 7.6 1-8.8 1.1 7.5 1-6.3 1 6.3 1-7.5 1 7.5 1-5 1 5 1-5 1 6.3 1-7.6 1 7.6 1.1-7.6 1 7.6 1-7.6 1 8.8 1-10 1 8.8 1-7.6 1 5.1 1-6.3 1 8.8 1-7.6 1 7.6 1.1-8.8 1 7.5 1-8.8 1 7.6 1-6.3 1 7.5 1-7.5 1 8.8 1-11.4 1 8.9 1-8.9 1.1 10.1 1-6.3 1 6.3 1-8.8 1 11.3 1-8.8 1 6.3 1-7.5 1 6.3 1-6.3 1 6.3 1-5.1 1.1 6.3 1-8.8 1 8.8 1-7.5 1 7.5 1-6.3 1 7.6 1-7.6 1 7.6 1-7.6 1 6.3 1.1-7.5 1 6.3 1-5.1 1 6.3 1-7.5 1 6.3 1-7.6 1 10.1 1-10.1 1 6.3 1-6.3 1 8.8 1.1-7.5 1 6.3 1-6.3 1 6.3 1-7.6 1 8.8 1-8.8 1 7.6 1-7.6 1 5 1-6.3 1.1 6.3 1-5 1 5 1-6.3 1 6.3 1-7.5 1 6.3 1-5.1 1 3.8 1-6.3 1 8.8 1-7.5 1.1 5 1-5 1 5 1-5 1 6.3 1-7.6 1 6.3 1-6.3 1 6.3 1-7.5 1 8.8 1.1-6.3 1 5 1-6.3 1 7.6 1-7.6 1 6.3 1-5 1 6.3 1-7.6 1 6.3 1-7.5 1 8.8 1.1-7.6 1 6.3 1-5 1 7.5 1-7.5 1 6.3 1-6.3 1 5 1-7.5 1 10 1-8.8 1.1 8.8 1-10 1 8.8 1-6.3 1 5 1-5 1 8.8 1-10.1 1 10.1 1-10.1 1 6.3 1-6.3 1.1 7.6 1-8.8 1 7.5 1-7.5 1 8.8 1-6.3 1 6.3 1-7.6 1 6.3 1-6.3 1 6.3 1.1-6.3 1 5.1 1-6.3 1 10 1-7.5 1 6.3 1-8.8 1 7.5 1-6.3 1 7.6 1-6.3 1 6.3 1.1-10.1 1 8.8 1-6.3 1 6.3 1-5 1 6.3 1-10.1 1 8.8 1-5 1 6.3 1-7.6 1.1 7.6 1-10.1 1 11.3 1-7.5 1 7.5 1-10 1 8.8 1-8.8 1 7.5 1-8.8 1 10.1 1-6.3 1.1 6.3 1-6.3 1 6.3 1-7.6 1 6.3 1-7.5 0 7.5" stroke="#00f"/>
<path d="M1025.5 1525.9l.5 15.6 .5-14.4 .5 13.3 .5-13.4 .5 11.1 .5-14.2 .5 16.2 .5-12.8 .5 9.8 .5-9.3 .5 10.2 .5-14.6 .5 15.1 .5-9.4 .5 9.2 .5-8.2 .5 15.6 .6-16.6 .5 9.7 .5-11.4 .5 11.2 .5-17 .5 17.7 .5-11.3 .5 12.1 .5-13.8 .5 15.4 .5-13 .5 13.8 .5-13.2 .5 12.8 .5-17.5 .5 16 .5-13.5 .5 16.5 .5-14.8 .5 14 .5-18.2 .5 21.6 .5-16.9 .5 12.6 .5-14.7 .5 13.6 .5-17.3 .5 18.3 .5-19.4 .5 17.6 .5-14.5 .5 17.5 .5-17.6 .5 16.7 .5-11.4 .5 11 .6-18.8 .5 15.1 .5-15.5 .5 14.5 .5-21.5 .5 23.6 .5-24.8 .5 27.2 .5-19.4 .5 10.3 .5-15.7 .5 15 .5-12.1 .5 13.3 .5-18.7 .5 12.4 .5-16.9 .5 24 .5-23.3 .5 21.7 .5-27.2 .5 21.6 .5-24.5 .5 18.2 .5-16.5 .5 16.1 .5-13.4 .5 15.6 .5-16.5 .5 12.6 .5-9.2 .5 13.3 .5-16.3 .5 17.9 .5-14.8 .5 13.7 .6-14.6 .5 20.3 .5-25.1 .5 18.3 .5-12.8 .5 16.8 .5-20.4 .5 13 .5-10.8 .5 13.9 .5-19.1 .5 14.1 .5-9.4 .5 14.9 .5-16.2 .5 14.7 .5-13.7 .5 13.9 .5-17.8 .5 19.1 .5-23.6 .5 21.3 .5-14.1 .5 11.6 .5-8.6 .5 12.2 .5-17 .5 16.7 .5-13.7 .5 13.9 .5-10.5 .5 13 .5-21.8 .5 27.4 .5-19.6 .5 14.5 .6-20 .5 17.3 .5-13.3 .5 11.2 .5-18.4 .5 18.4 .5-16.1 .5 15.2 .5-18.4 .5 18.9 .5-11.4 .5 22.3 .5-25.4 .5 17.9 .5-22 .5 19.7 .5-16.2 .5 11.2 .5-16 .5 19.9 .5-15.1 .5 14.7 .5-10.9 .5 14.3 .5-23.5 .5 18.5 .5-11 .5 13.7 .5-14.8 .5 15.3 .5-14.9 .5 13 .5-10.4 .5 10.2 .5-17 .5 16.3 .6-17 .5 19.6 .5-13.1 .5 11.3 .5-14.7 .5 16 .5-9.9 .5 13 .5-16.2 .5 12.4 .5-10.9 .5 18.3 .5-19.1 .5 10.9 .5-12.2 .5 12.9 .5-19 .5 20.4 .5-20.1 .5 23.3 .5-16.7 .5 11.4 .5-11.9 .5 10 .5-14.9 .5 16.7 .5-16 .5 18.4 .5-19.3 .5 17.1 .5-13 .5 14.7 .5-14.2 .5 13.4 .5-17.2 .5 19 .6-14 .5 10.8 .5-11.4 .5 12.2 .5-8.8 .5 10.6 .5-12.5 .5 16.7 .5-18.1 .5 14.4 .5-13.8 .5 11.4 .5-19.2 .5 19 .5-14.3 .5 14.8 .5-10.4 .5 12.8 .5-11.1 .5 10.5 .5-10.9 .5 14 .5-16 .5 14.2 .5-10.9 .5 12.1 .5-16.8 .5 14.5 .5-15.5 .5 17 .5-20.3 .5 16.9 .5-16.3 .5 15.9 .5-16.2 .5 14.4 .6-11.3 .5 17.1 .5-16.5 .5 11.1 .5-14.7 .5 14 .5-11.9 .5 13.6 .5-11.5 .5 11.3 .5-13.1 .5 13.3 .5-11.3 .5 15.5 .5-17.9 .5 20 .5-20.7 .5 16.6 .5-20.3 .5 18.1 .5-11.5 .5 11.3 .5-10.8 .5 12.3 .5-10.9 .5 12.6 .5-16.1 .5 12.3 .5-12.8 .5 13.2 .5-19.2 .5 18.8 .5-8.9 .5 10.7 .5-12.3 .5 14 .6-13.6 .5 10.9 .5-16.7 .5 15.7 .5-10.7 .5 14.1 .5-12.8 .5 9.5 .5-11.3 .5 14.3 .5-17.6 .5 16.9 .5-16.1 .5 16.6 .5-15 .5 14.5 .5-12.4 .5 11.8 .5-11.6 .5 11.9 .5-14.5 .5 18.8 .5-20.8 .5 16.3 .5-13.9 .5 11.5 .5-12.4 .5 16 .5-21.4 .5 18 .5-18.3 .5 18.2 .5-16.3 .5 19.8 .5-16.1 .5 15.4 .6-19.2 .5 17.9 .5-12.7 .5 12.3 .5-9.8 .5 13.1 .5-14.5 .5 12.2 .5-13.8 .5 16.1 .5-9.6 .5 9.5 .5-13 .5 15 .5-17.8 .5 16.6 .5-17.1 .5 22.2 .5-20.2 .5 18.6 .5-18.7 .5 13.6 .5-19.7 .5 15.8 .5-15.7 .5 19.2 .5-17.8 .5 17 .5-11.5 .5 10.6 .5-12.7 .5 14.6 .5-11.2 .5 9.2 .5-8.7 .6 11.4 .5-13.2 .5 12.9 .5-15.1 .5 16 .5-17.4 .5 16.7 .5-15 .5 14.3 .5-14.1 .5 14.5 .5-14.5 .5 15.2 .5-21.3 .5 23.3 .5-18.8 .5 16.5 .5-20.1 .5 17.4 .5-11.9 .5 11.8 .5-12.7 .5 11.2 .5-12.9 .5 15.9 .5-15.8 .5 16 .5-14 .5 15.4 .5-17.8 .5 14.9 .5-12.9 .5 14.6 .5-13.3 .5 16.7 .5-15.6 .6 10.6 .5-14.1 .5 19.6 .5-16.3 .5 10.8 .5-11.9 .5 15.7 .5-14.1 .5 16.3 .5-17.7 .5 12.2 .5-11.5 .5 13.4 .5-8.4 .5 10.8 .5-6.2 .5 11 .5-18.9 .5 19.5 .5-9.8 .5 15 .5-14.8 .5 16.9 .5-12.2 .5 11.9 .5-11.4 .5 11.1 .5-11.4 .5 17.5 .5-19.4 .5 13.2 .5-12.4 .5 9.4 .5-16.1 .5 23.4 .5-17.6 .6 10.7 .5-14.9 .5 19.3 .5-15.8 .5 12.5 .5-16.5 .5 22.8 .5-15.6 .5 12.8 .5-14.7 .5 18.5 .5-19.7 .5 16.5 .5-16.9 .5 17.5 .5-13.7 .5 12.3 .5-15 .5 11.8 .5-9.3 .5 13.4 .5-14 .5 17.6 .5-14.9 .5 12.3 .5-10.5 .5 13.8 .5-19 .5 16.2 .5-21.8 .5 18.2 .5-21.9 .5 14.7 .5-14.5 .5 17.6 .5-20.2 .6 13.2 .5-22.2 .5 18.7 .5-17.4 .5 17.7 .5-22.5 .5 14.5 .5-18 .5 12.4 .5-15.4 .5 16 .5-16.8 .5 19.3 .5-21.6 .5 19.9 .5-15 .5 13.3 .5-12.5 .5 11.3 .5-18.5 .5 19.7 .5-24.2 .5 22.4 .5-16.7 .5 17.9 .5-18.7 .5 15.6 .5-13.7 .5 18.5 .5-15.7 .5 14.5 .5-12.8 .5 14.1 .5-20.9 .5 18 .5-16.9 .6 16.6 .5-17.7 .5 19.5 .5-14.9 .5 11.4 .5-18.5 .5 20.5 .5-11.2 .5 13.6 .5-13.6 .5 12.6 .5-17.8 .5 19.1 .5-23.2 .5 22.3 .5-11.9 .5 13.9 .5-20.4 .5 17.2 .5-11.5 .5 12.3 .5-19.9 .5 17.1 .5-14.7 .5 13.8 .5-13 .5 12.8 .5-11.8 .5 12.7 .5-13.2 .5 13 .5-17.2 .5 16.3 .5-12.2 .5 12.4 .5-10.5 .6 18.8 .5-22 .5 21.7 .5-21.9 .5 14.9 .5-19.2 .5 16.9 .5-14.1 .5 14.2 .5-12.6 .5 12.6 .5-8.9 .5 11.8 .5-14 .5 11.6 .5-9.5 .5 11.4 .5-15.6 .5 16.3 .5-13.1 .5 17 .5-20.2 .5 12 .5-8.1 .5 13 .5-14.4 .5 17.8 .5-16.8 .5 15.6 .5-15.6 .5 10.7 .5-13.9 .5 14.8 .5-20.7 .5 18.9 .5-10.1 .6 13.4 .5-18.8 .5 16.4 .5-12.1 .5 16.8 .5-17.9 .5 19.4 .5-20.4 .5 13.5 .5-12.1 .5 12.7 .5-10.9 .5 13.7 .5-22.6 .5 22.3 .5-23.6 .5 25.4 .5-17.3 .5 9.5 .5-13.8 .5 18.5 .5-18.5 .5 16.8 .5-14.2 .5 15.1 .5-10.2 .5 10.6 .5-11.6 .5 12.5 .5-12.1 .5 11.9 .5-11.3 .5 14.5 .5-17.8 .5 17 .5-9.6 .6 12.8 .5-10.8 .5 14.2 .5-18.6 .5 18.6 .5-23.3 .5 19.9 .5-14.7 .5 16 .5-18.7 .5 13.9 .5-9 .5 12.7 .5-16.1 .5 15.3 .5-11.4 .5 13.4 .5-12.4 .5 9.5 .5-11.9 .5 11.1 .5-12.1 .5 12.9 .5-13.8 .5 17.3 .5-16.4 .5 13.6 .5-14 .5 15.9 .5-16.2 .5 12.8 .5-11.9 .5 11.2 .5-15.2 .5 21.6 .5-22 .6 16.1 .5-15.7 .5 12.6 .5-15.6 .5 22.6 .5-15 .5 16.3 .5-17 .5 12.8 .5-13.9 .5 18.1 .5-22.2 .5 13 .5-14.7 .5 18.3 .5-11.4 .5 9.5 .5-9 0 16.1" stroke="#ff0"/>
<path d="M1025.5 1504.6l.5 25.7 .5-21.5 .5 23.2 .5-20.6 .5 20.7 .5-18.9 .5 17.4 .5-22.4 .5 19.5 .5-18.3 .5 19.5 .5-19.7 .5 27.9 .5-25 .5 17.8 .5-18.8 .5 23.5 .6-22.3 .5 17.9 .5-23.2 .5 20.6 .5-25.6 .5 40.5 .5-30.9 .5 16.5 .5-24.4 .5 37.8 .5-31.5 .5 26 .5-30.7 .5 32.4 .5-23.2 .5 27.3 .5-26.8 .5 22.4 .5-24.8 .5 24.5 .5-26.8 .5 22.1 .5-24.5 .5 24.8 .5-17.1 .5 17.4 .5-23.1 .5 21.1 .5-26.9 .5 29.2 .5-21.1 .5 21.7 .5-28.5 .5 29.1 .5-28.3 .5 25.9 .6-23.3 .5 25.1 .5-36.9 .5 44.9 .5-33.1 .5 20.4 .5-21.9 .5 22.1 .5-26 .5 26.8 .5-21.1 .5 22.6 .5-18.2 .5 24.7 .5-40.5 .5 35 .5-27.6 .5 23.4 .5-15.4 .5 21.1 .5-23.1 .5 20.2 .5-25.2 .5 26.6 .5-17.2 .5 17.4 .5-28.2 .5 28.9 .5-27.6 .5 26.7 .5-20.7 .5 24.9 .5-23.7 .5 31 .5-27.1 .5 16.5 .6-21.8 .5 25.1 .5-23.8 .5 20.3 .5-14.7 .5 17.5 .5-21 .5 19.6 .5-20.9 .5 25.9 .5-29 .5 25.7 .5-18.6 .5 23.3 .5-29.8 .5 24.7 .5-28.4 .5 38.2 .5-30.2 .5 19.4 .5-26.3 .5 34 .5-30.3 .5 19.7 .5-15.5 .5 28.2 .5-30.4 .5 18.9 .5-19 .5 20.9 .5-17.5 .5 19 .5-32 .5 29.8 .5-25.9 .5 35.9 .6-29.9 .5 23 .5-22.1 .5 18.6 .5-19.6 .5 19 .5-21.4 .5 15.8 .5-31.7 .5 35 .5-26.2 .5 21.2 .5-26.8 .5 34.8 .5-30.6 .5 27.4 .5-19.7 .5 20 .5-18.4 .5 18.6 .5-24.6 .5 29.6 .5-34.7 .5 28.9 .5-23.9 .5 23.1 .5-18.5 .5 16.6 .5-17.7 .5 34.7 .5-35.2 .5 20.3 .5-15.1 .5 21.5 .5-29.2 .5 29 .6-25.5 .5 22 .5-21.6 .5 30.5 .5-39.7 .5 30.1 .5-15.5 .5 19.9 .5-38.6 .5 34.8 .5-30.6 .5 40.3 .5-31.1 .5 22.8 .5-25.8 .5 29.9 .5-28.6 .5 26.9 .5-25.1 .5 31.8 .5-24.9 .5 21.3 .5-27.3 .5 32.5 .5-30.5 .5 27.9 .5-25.6 .5 16.1 .5-18.8 .5 24.7 .5-22.9 .5 23 .5-21.1 .5 23.5 .5-30.9 .5 30.6 .6-30.6 .5 25.9 .5-24.6 .5 23.6 .5-17.7 .5 18.2 .5-24.1 .5 24.4 .5-30.1 .5 26.3 .5-20.7 .5 25.6 .5-27.1 .5 26.2 .5-27.4 .5 27 .5-31.3 .5 27.9 .5-21.3 .5 15.7 .5-19.8 .5 27 .5-22.8 .5 24.2 .5-26.4 .5 25.9 .5-23.4 .5 23.6 .5-26.8 .5 21.5 .5-20 .5 16.4 .5-30 .5 34.7 .5-23.1 .5 21.4 .6-16.2 .5 23.4 .5-24 .5 17.9 .5-30.7 .5 31.3 .5-16.9 .5 17.9 .5-16.2 .5 17.1 .5-21.5 .5 27.1 .5-25.5 .5 20.7 .5-19.8 .5 18.6 .5-15.2 .5 25.9 .5-43 .5 38.9 .5-28.4 .5 21.5 .5-19.5 .5 22.3 .5-20 .5 23.5 .5-33.2 .5 28.9 .5-25.6 .5 31.8 .5-29.4 .5 30.7 .5-26.6 .5 25.8 .5-26.8 .5 20.1 .6-21.8 .5 20.6 .5-18.3 .5 19.3 .5-19.7 .5 27.9 .5-29.4 .5 20.3 .5-22.5 .5 21.5 .5-14 .5 24.3 .5-27.8 .5 32.2 .5-35.9 .5 23.8 .5-25.3 .5 31.1 .5-26 .5 26.4 .5-25.9 .5 25.4 .5-24.3 .5 23.7 .5-26.5 .5 23.4 .5-24 .5 16.8 .5-28.2 .5 26 .5-19.7 .5 21.4 .5-26.3 .5 26.5 .5-19.6 .5 17.7 .6-19.9 .5 26.7 .5-18.4 .5 21.8 .5-32.2 .5 32.9 .5-20.7 .5 25.9 .5-30 .5 33.9 .5-33.8 .5 16.7 .5-24.2 .5 22.8 .5-34.1 .5 32.7 .5-32 .5 32 .5-31 .5 36 .5-28.5 .5 28.3 .5-33.9 .5 26.7 .5-24 .5 20.4 .5-14.6 .5 29.5 .5-25.2 .5 24.3 .5-25.5 .5 17.7 .5-22.4 .5 24.4 .5-22.9 .6 22.5 .5-20.4 .5 22.2 .5-22.5 .5 27.1 .5-23.5 .5 20.4 .5-20.1 .5 24.6 .5-25 .5 22.1 .5-22.1 .5 19.3 .5-20.7 .5 25.8 .5-31.5 .5 21.8 .5-12.7 .5 15.1 .5-15.8 .5 15.7 .5-23.3 .5 34.7 .5-35.2 .5 26.5 .5-16.1 .5 26.3 .5-32 .5 19.8 .5-25.4 .5 32.4 .5-34.1 .5 40.3 .5-40.1 .5 25.6 .5-21.8 .6 38.4 .5-33.9 .5 25.3 .5-22.1 .5 16.5 .5-23.8 .5 30.4 .5-24 .5 18.4 .5-24.7 .5 31.3 .5-30 .5 24.3 .5-17.3 .5 17 .5-19.7 .5 28.6 .5-26.2 .5 23.5 .5-24.2 .5 21.3 .5-28.3 .5 20.5 .5-18 .5 26.7 .5-34.8 .5 32 .5-25.4 .5 24 .5-25 .5 18.7 .5-21 .5 24.8 .5-18.6 .5 26 .5-27.5 .6 27.8 .5-27.5 .5 20.6 .5-20.5 .5 20.4 .5-26.6 .5 29.7 .5-26.2 .5 29.2 .5-32 .5 26.1 .5-18.7 .5 18.6 .5-25.8 .5 26.2 .5-21.6 .5 20.3 .5-19.8 .5 18.4 .5-21.3 .5 21.4 .5-16 .5 18.9 .5-20.9 .5 18.2 .5-16.1 .5 23.1 .5-21.4 .5 22.1 .5-30.5 .5 27.6 .5-20.1 .5 25.3 .5-22.5 .5 17.4 .5-18.2 .6 21 .5-24.2 .5 25.5 .5-25.2 .5 23 .5-19.9 .5 30.9 .5-25.5 .5 23.9 .5-26.1 .5 27.8 .5-30.5 .5 27.9 .5-29.7 .5 32.1 .5-17 .5 15.8 .5-32.7 .5 35.6 .5-23.9 .5 20.2 .5-27.1 .5 27.8 .5-17.8 .5 15.9 .5-18.6 .5 20.8 .5-22.9 .5 26.2 .5-25.1 .5 28.9 .5-23.8 .5 18.7 .5-18.3 .5 28.1 .5-32.7 .6 25.4 .5-22.6 .5 24.9 .5-21.1 .5 32.7 .5-33.2 .5 23.3 .5-23.3 .5 21.7 .5-31.9 .5 34.4 .5-37.8 .5 27.8 .5-16.8 .5 20.3 .5-23 .5 23.8 .5-25.6 .5 20.1 .5-17.7 .5 17.2 .5-20.4 .5 21.7 .5-23.5 .5 35.1 .5-34.6 .5 20.6 .5-14.8 .5 21.8 .5-32.9 .5 29.9 .5-18.8 .5 28 .5-33.4 .5 32.7 .5-33.6 .6 19.2 .5-23.7 .5 25.3 .5-19.9 .5 19.1 .5-21.6 .5 30.5 .5-26 .5 22.5 .5-26.1 .5 24 .5-34.9 .5 30.2 .5-21.2 .5 25.8 .5-30.2 .5 28.9 .5-17.9 .5 17.5 .5-24.3 .5 31.1 .5-24.6 .5 16.5 .5-22.3 .5 23.1 .5-25 .5 28.7 .5-23.2 .5 26.7 .5-30.2 .5 30.4 .5-23.5 .5 14.7 .5-22.1 .5 34.2 .5-35.3 .6 30.1 .5-22 .5 16.7 .5-17.4 .5 21.3 .5-20.3 .5 20.5 .5-22.3 .5 22.3 .5-18.9 .5 17.5 .5-24.2 .5 27.4 .5-18.6 .5 17.7 .5-22.4 .5 32.7 .5-39.2 .5 32 .5-21.2 .5 19.2 .5-24.2 .5 37.4 .5-33.9 .5 24.6 .5-31.2 .5 29.3 .5-22.6 .5 18.8 .5-21.3 .5 30.8 .5-25.5 .5 30.1 .5-40.1 .5 36.9 .5-33.3 .6 26.2 .5-29.4 .5 23.8 .5-29 .5 34.1 .5-22.6 .5 28.4 .5-31.4 .5 24.2 .5-20.4 .5 26.7 .5-29.3 .5 18.3 .5-19.2 .5 19.7 .5-18.6 .5 22.7 .5-33.2 .5 30.8 .5-21.5 .5 28.1 .5-26.8 .5 25.6 .5-38.4 .5 30.4 .5-20.6 .5 20.7 .5-22.7 .5 23.1 .5-15.6 .5 28.4 .5-41.9 .5 29.2 .5-24.4 .5 32.4 .5-29.3 .6 17.5 .5-15.4 .5 20.2 .5-19.1 .5 18.1 .5-15 .5 24.2 .5-28.4 .5 25.4 .5-17.8 .5 31.1 .5-38.5 .5 27.7 .5-22.1 .5 21.3 .5-33.2 .5 35.1 .5-30.1 0 18.4" stroke="#bc8f8f"/>
<path d="M1025.5 1482.8l.5 23.8 .5-20.2 .5 16.5 .5-16.7 .5 16.8 .5-20.1 .5 15.6 .5-13.1 .5 15.2 .5-12.9 .5 15.1 .5-16.7 .5 21.5 .5-24.2 .5 17.6 .5-13.4 .5 13.4 .6-18.1 .5 21.6 .5-20.1 .5 16.5 .5-21.4 .5 20.9 .5-19.9 .5 23.8 .5-19.8 .5 19.3 .5-19.9 .5 18.4 .5-14.1 .5 14.7 .5-17.1 .5 22.1 .5-22.1 .5 19 .5-13.1 .5 13.3 .5-16.6 .5 16.6 .5-21.3 .5 20.6 .5-11.8 .5 18.4 .5-24.3 .5 19.3 .5-19.9 .5 18.3 .5-18.5 .5 19.5 .5-23.8 .5 18.7 .5-13.6 .5 20.6 .6-21.1 .5 23.4 .5-18 .5 20.1 .5-21.8 .5 14.2 .5-16 .5 16.7 .5-19.1 .5 19 .5-15.7 .5 19.5 .5-18.8 .5 15.8 .5-23.6 .5 28.2 .5-27.3 .5 27.3 .5-15.5 .5 23.6 .5-24.9 .5 12.7 .5-18.3 .5 17.1 .5-13.8 .5 17.4 .5-20.4 .5 17.7 .5-16 .5 13.2 .5-14.2 .5 19.6 .5-29.7 .5 33.3 .5-25.2 .5 14.5 .6-16 .5 17 .5-13.5 .5 17.3 .5-22.7 .5 22 .5-20.1 .5 16.2 .5-15.9 .5 25.5 .5-27.8 .5 21.4 .5-14.9 .5 13.8 .5-13.3 .5 17.1 .5-16.7 .5 23.8 .5-31.1 .5 23.7 .5-19.4 .5 16 .5-18.7 .5 16.5 .5-17.1 .5 21.7 .5-21 .5 15.3 .5-16.7 .5 17.9 .5-14.4 .5 19 .5-19.5 .5 13.5 .5-14.4 .5 12.6 .6-13.4 .5 16.3 .5-19.6 .5 22.8 .5-16.5 .5 11.3 .5-11.3 .5 16.1 .5-18.9 .5 24.3 .5-24.2 .5 20.6 .5-21.8 .5 16.1 .5-19.9 .5 19 .5-20.8 .5 20 .5-14 .5 16.1 .5-14.7 .5 15.7 .5-15.6 .5 22.3 .5-27.2 .5 24.4 .5-24 .5 24.8 .5-21.8 .5 15.6 .5-12.1 .5 17.2 .5-17.4 .5 16.7 .5-17.5 .5 16.9 .6-19.1 .5 23.1 .5-28.7 .5 19 .5-12.7 .5 19.2 .5-19.4 .5 23.3 .5-25 .5 15.3 .5-24.3 .5 34.3 .5-24.1 .5 16.8 .5-19.7 .5 15.5 .5-10 .5 25.9 .5-23.2 .5 18.4 .5-17.6 .5 13 .5-20.9 .5 21.7 .5-13.6 .5 12.3 .5-19.7 .5 19.5 .5-23.7 .5 26 .5-21.8 .5 20.8 .5-15.8 .5 14.6 .5-18.2 .5 22.1 .6-16.6 .5 13.2 .5-16 .5 19.5 .5-18.1 .5 15.9 .5-17.9 .5 19.6 .5-18.2 .5 15.9 .5-16.6 .5 15.4 .5-18.9 .5 20.7 .5-25.1 .5 20.7 .5-19.4 .5 19.6 .5-14.3 .5 16.9 .5-17.7 .5 18.4 .5-18.1 .5 20 .5-27.4 .5 25.6 .5-20.9 .5 17 .5-17.8 .5 21 .5-14.2 .5 18.5 .5-21.8 .5 19.8 .5-21.6 .5 23.4 .6-26.8 .5 22 .5-17.9 .5 16.3 .5-14.1 .5 18.8 .5-16.3 .5 20.6 .5-17.8 .5 12.1 .5-15.3 .5 15.2 .5-16.4 .5 17.8 .5-23.7 .5 20.2 .5-16.7 .5 15.5 .5-15.4 .5 25.1 .5-21.9 .5 16.2 .5-12.9 .5 15.1 .5-18 .5 23.1 .5-25.8 .5 20.6 .5-20.2 .5 14.6 .5-15.9 .5 16.1 .5-18.5 .5 19.1 .5-14.4 .5 20.3 .6-20.2 .5 16 .5-17.5 .5 24.8 .5-27.9 .5 17.4 .5-13.6 .5 17.7 .5-16.3 .5 18.4 .5-22.6 .5 20.6 .5-17.4 .5 22.5 .5-27.9 .5 22 .5-19.5 .5 15.9 .5-12.4 .5 19.5 .5-21.6 .5 24 .5-21.3 .5 14 .5-16.7 .5 21.3 .5-27.1 .5 25.6 .5-22.4 .5 17.1 .5-12.5 .5 18.9 .5-23.4 .5 20 .5-12.7 .5 19.5 .6-19.8 .5 15.6 .5-17.5 .5 15.6 .5-14.3 .5 17.2 .5-17.2 .5 15 .5-17.1 .5 19.8 .5-17.6 .5 13.2 .5-12 .5 18.7 .5-20.6 .5 19 .5-25.1 .5 21.9 .5-13.6 .5 20.7 .5-25.4 .5 17.3 .5-20.3 .5 25.9 .5-20.2 .5 25.3 .5-29.3 .5 18.5 .5-15.6 .5 13.9 .5-13.8 .5 21 .5-18.2 .5 19.2 .5-27.8 .6 26.7 .5-21.1 .5 15 .5-13.1 .5 14.8 .5-17.2 .5 21.6 .5-17.9 .5 13.7 .5-15.3 .5 20.1 .5-20.7 .5 13.3 .5-11.3 .5 13.6 .5-12.8 .5 15.9 .5-14.9 .5 17.2 .5-19.8 .5 22.5 .5-31.5 .5 30.7 .5-22.4 .5 14.8 .5-10.9 .5 11.6 .5-13.5 .5 17.8 .5-18.3 .5 23 .5-23.2 .5 16.8 .5-12.9 .5 11.8 .5-17.2 .6 18.9 .5-20 .5 23.7 .5-21.4 .5 15.6 .5-23.8 .5 29.7 .5-21.7 .5 16.5 .5-21 .5 18.2 .5-16.8 .5 17.2 .5-16.4 .5 12.1 .5-12.8 .5 11.2 .5-8.4 .5 14.3 .5-13.6 .5 13.5 .5-12.3 .5 16.7 .5-22 .5 15 .5-14 .5 18 .5-20.2 .5 21 .5-13.7 .5 14.9 .5-17.6 .5 21.9 .5-20.3 .5 19.6 .5-19.9 .6 18.7 .5-25.7 .5 20.9 .5-11.1 .5 15.1 .5-15.1 .5 16.6 .5-21.2 .5 22.4 .5-22.1 .5 14.2 .5-11.9 .5 17.3 .5-17.8 .5 13.4 .5-17.3 .5 23.2 .5-18.8 .5 19.3 .5-20.5 .5 25 .5-27.7 .5 26.1 .5-18.6 .5 13.6 .5-17.9 .5 14.8 .5-17.8 .5 23.5 .5-18.9 .5 14.1 .5-16.3 .5 18.1 .5-19.8 .5 20.1 .5-18.6 .6 14.6 .5-15.2 .5 15.2 .5-14.3 .5 14.2 .5-5.9 .5 12.9 .5-8.5 .5 20.1 .5-23.6 .5 16.5 .5-16.6 .5 17.1 .5-14.6 .5 17.1 .5-15.3 .5 13.3 .5-13.8 .5 20 .5-22.7 .5 22.4 .5-19.3 .5 12.8 .5-12 .5 20.2 .5-24.6 .5 21.8 .5-18.6 .5 15.5 .5-20.1 .5 19.8 .5-16.7 .5 24.5 .5-24.4 .5 22.2 .5-19.6 .6 14.2 .5-14.5 .5 17.5 .5-16.5 .5 16.8 .5-19.4 .5 18.6 .5-16.8 .5 13.6 .5-14.9 .5 24.8 .5-30.3 .5 21.5 .5-24.6 .5 28 .5-18.2 .5 17.2 .5-17.1 .5 14 .5-20.7 .5 22.3 .5-19.2 .5 22.7 .5-21.9 .5 17.4 .5-14.9 .5 20.3 .5-30.8 .5 27.1 .5-17.8 .5 17 .5-20.1 .5 22.4 .5-14.5 .5 17.3 .5-19 .6 15.5 .5-13.1 .5 16.1 .5-30.2 .5 31 .5-24.2 .5 14.5 .5-9 .5 13.1 .5-13 .5 23.1 .5-25.2 .5 16.3 .5-14.8 .5 19 .5-21.6 .5 21.7 .5-17.6 .5 14.6 .5-15.2 .5 22.2 .5-25 .5 20 .5-22.7 .5 19.5 .5-20.4 .5 18.6 .5-14.8 .5 14.5 .5-20.6 .5 22.9 .5-18.6 .5 21.5 .5-22.3 .5 13 .5-16.1 .6 19.2 .5-16.6 .5 18.2 .5-18.9 .5 15.2 .5-15.7 .5 19 .5-14 .5 13.6 .5-22.1 .5 26.7 .5-20.3 .5 19.9 .5-21.5 .5 16.6 .5-19.7 .5 23.9 .5-21.5 .5 15.9 .5-15.9 .5 20.9 .5-20.8 .5 15.4 .5-13.4 .5 17.1 .5-17.9 .5 19.4 .5-20.2 .5 15.8 .5-12.1 .5 11 .5-9.9 .5 11.6 .5-23.4 .5 28 .5-22 .6 18.7 .5-16.7 .5 13.5 .5-19.2 .5 20.8 .5-22 .5 20.2 .5-13.2 .5 11.7 .5-15.5 .5 19.3 .5-11.4 .5 13.9 .5-17.7 .5 23.8 .5-21.3 .5 18.3 .5-20.1 .5 22.6 .5-29.4 .5 23.7 .5-16.2 .5 14.7 .5-21.9 .5 19.5 .5-17.2 .5 17.6 .5-11.8 .5 15.8 .5-19.1 .5 18.1 .5-15.9 .5 15.9 .5-21.5 .5 22.4 .5-15.4 .6 13.9 .5-22.8 .5 21.8 .5-14 .5 14.1 .5-19.8 .5 16.6 .5-17.5 .5 23.7 .5-17.5 .5 15.1 .5-14.3 .5 16.8 .5-22.3 .5 20 .5-23.4 .5 28.6 .5-22 0 20.5" stroke="#dcdcdc"/>
<path d="M1025.5 1585.1l81.2 0 81.2 0 81.2 0 81.2 0 0 0" stroke="#9400d3"/>
<path d="M1025.5 1563.7l.5 20.1 .5-21.4 .5 18.9 .5-22.7 .5 21.5 .5-16.4 .5 16.4 .5-20.2 .5 21.4 .5-18.9 .5 21.4 .5-20.1 .5 17.6 .5-21.4 .5 17.6 .5-11.3 .5 12.6 .6-20.2 .5 20.2 .5-21.4 .5 22.7 .5-20.2 .5 21.4 .5-16.4 .5 15.2 .5-18.9 .5 16.3 .5-11.3 .5 15.1 .5-13.8 .5 16.3 .5-21.4 .5 17.7 .5-22.7 .5 26.4 .5-21.4 .5 15.1 .5-13.8 .5 18.9 .5-15.1 .5 12.6 .5-13.9 .5 11.3 .5-13.8 .5 15.1 .5-10.1 .5 13.9 .5-17.7 .5 17.7 .5-21.4 .5 20.1 .5-20.1 .5 23.9 .6-20.2 .5 13.9 .5-16.4 .5 18.9 .5-20.1 .5 17.6 .5-12.6 .5 12.6 .5-16.4 .5 20.2 .5-15.1 .5 15.1 .5-13.9 .5 16.4 .5-17.6 .5 17.6 .5-21.4 .5 16.4 .5-15.2 .5 20.2 .5-22.7 .5 20.2 .5-17.7 .5 16.4 .5-13.8 .5 12.6 .5-16.4 .5 15.1 .5-20.2 .5 21.5 .5-13.9 .5 17.6 .5-16.3 .5 11.3 .5-17.6 .5 16.3 .6-21.4 .5 20.2 .5-16.4 .5 21.4 .5-18.9 .5 20.2 .5-17.7 .5 20.2 .5-26.5 .5 22.7 .5-18.9 .5 18.9 .5-13.8 .5 11.3 .5-17.6 .5 22.6 .5-15.1 .5 16.4 .5-21.4 .5 18.9 .5-18.9 .5 21.4 .5-17.6 .5 11.3 .5-15.1 .5 15.1 .5-11.3 .5 17.6 .5-26.5 .5 22.7 .5-11.3 .5 12.6 .5-16.4 .5 17.6 .5-18.9 .5 18.9 .6-21.4 .5 21.4 .5-12.6 .5 13.9 .5-17.6 .5 13.8 .5-18.9 .5 22.7 .5-17.6 .5 17.6 .5-23.9 .5 23.9 .5-21.4 .5 18.9 .5-16.4 .5 17.6 .5-16.3 .5 15.1 .5-15.1 .5 17.6 .5-17.6 .5 16.3 .5-22.6 .5 21.4 .5-15.1 .5 15.1 .5-15.1 .5 13.8 .5-12.6 .5 11.4 .5-16.4 .5 20.1 .5-21.4 .5 22.7 .5-18.9 .5 18.9 .6-15.1 .5 15.1 .5-13.9 .5 10.1 .5-18.9 .5 17.7 .5-13.9 .5 18.9 .5-18.9 .5 13.9 .5-11.4 .5 15.1 .5-25.2 .5 21.5 .5-20.2 .5 22.7 .5-17.7 .5 16.4 .5-17.6 .5 21.4 .5-18.9 .5 15.1 .5-12.6 .5 13.9 .5-15.1 .5 16.3 .5-15.1 .5 12.6 .5-15.1 .5 18.9 .5-25.2 .5 20.2 .5-11.4 .5 11.4 .5-15.2 .5 20.2 .6-18.9 .5 18.9 .5-15.1 .5 15.1 .5-17.6 .5 17.6 .5-17.6 .5 11.3 .5-15.1 .5 21.4 .5-17.6 .5 13.8 .5-20.1 .5 22.6 .5-15.1 .5 10.1 .5-17.6 .5 18.9 .5-12.6 .5 12.6 .5-13.9 .5 15.1 .5-20.1 .5 18.9 .5-18.9 .5 17.6 .5-13.9 .5 15.2 .5-18.9 .5 23.9 .5-17.6 .5 10 .5-15.1 .5 15.1 .5-11.3 .5 16.4 .6-16.4 .5 15.1 .5-13.8 .5 17.6 .5-17.6 .5 17.6 .5-21.4 .5 17.6 .5-22.7 .5 26.5 .5-16.4 .5 12.6 .5-17.6 .5 16.4 .5-15.2 .5 16.4 .5-13.8 .5 12.6 .5-13.9 .5 11.3 .5-10 .5 11.3 .5-10.1 .5 11.4 .5-11.4 .5 15.1 .5-16.3 .5 13.8 .5-13.8 .5 16.3 .5-16.3 .5 12.6 .5-11.4 .5 16.4 .5-22.7 .5 22.7 .6-25.2 .5 23.9 .5-20.1 .5 16.4 .5-15.2 .5 16.4 .5-17.6 .5 17.6 .5-15.1 .5 13.9 .5-15.2 .5 20.2 .5-18.9 .5 13.9 .5-11.4 .5 11.4 .5-15.2 .5 20.2 .5-17.6 .5 13.8 .5-15.1 .5 13.9 .5-16.4 .5 21.4 .5-21.4 .5 16.4 .5-16.4 .5 21.4 .5-18.9 .5 18.9 .5-17.6 .5 13.8 .5-23.9 .5 27.7 .5-21.4 .5 15.1 .6-15.1 .5 18.9 .5-18.9 .5 21.4 .5-26.5 .5 26.5 .5-16.4 .5 13.9 .5-22.7 .5 25.2 .5-17.6 .5 13.8 .5-12.6 .5 12.6 .5-16.4 .5 18.9 .5-17.6 .5 16.4 .5-24 .5 21.5 .5-13.9 .5 15.1 .5-21.4 .5 21.4 .5-21.4 .5 20.2 .5-20.2 .5 25.2 .5-16.4 .5 13.9 .5-17.7 .5 16.4 .5-15.1 .5 15.1 .5-12.6 .6 16.4 .5-15.1 .5 12.6 .5-13.9 .5 15.1 .5-15.1 .5 16.4 .5-15.1 .5 15.1 .5-16.4 .5 11.4 .5-13.9 .5 16.4 .5-13.9 .5 15.1 .5-17.6 .5 18.9 .5-21.4 .5 17.6 .5-12.6 .5 15.1 .5-18.9 .5 18.9 .5-17.6 .5 18.9 .5-21.4 .5 21.4 .5-18.9 .5 15.1 .5-13.8 .5 12.6 .5-16.4 .5 21.4 .5-17.6 .5 12.6 .5-10.1 .6 12.6 .5-18.9 .5 21.4 .5-22.7 .5 17.7 .5-15.2 .5 15.2 .5-12.6 .5 12.6 .5-13.9 .5 15.1 .5-12.6 .5 16.4 .5-23.9 .5 20.1 .5-21.4 .5 25.2 .5-17.6 .5 12.6 .5-16.4 .5 18.9 .5-20.2 .5 18.9 .5-17.6 .5 21.4 .5-15.1 .5 15.1 .5-15.1 .5 15.1 .5-15.1 .5 15.1 .5-15.1 .5 13.8 .5-16.3 .5 16.3 .5-23.9 .6 25.2 .5-16.4 .5 13.9 .5-11.4 .5 13.9 .5-16.4 .5 13.9 .5-13.9 .5 16.4 .5-21.4 .5 18.9 .5-15.1 .5 17.6 .5-17.6 .5 13.8 .5-15.1 .5 13.9 .5-16.4 .5 21.4 .5-15.1 .5 13.8 .5-15.1 .5 12.6 .5-20.1 .5 23.9 .5-18.9 .5 13.9 .5-10.1 .5 13.8 .5-13.8 .5 15.1 .5-21.4 .5 17.6 .5-10.1 .5 13.9 .5-16.4 .6 15.1 .5-15.1 .5 16.4 .5-15.1 .5 15.1 .5-22.7 .5 18.9 .5-13.8 .5 13.8 .5-13.8 .5 17.6 .5-15.1 .5 15.1 .5-13.9 .5 13.9 .5-16.4 .5 16.4 .5-20.2 .5 18.9 .5-16.3 .5 17.6 .5-15.1 .5 13.8 .5-16.3 .5 16.3 .5-16.3 .5 17.6 .5-20.2 .5 20.2 .5-16.4 .5 12.6 .5-11.3 .5 12.6 .5-13.9 .5 15.1 .5-13.8 .6 12.6 .5-16.4 .5 18.9 .5-16.4 .5 16.4 .5-20.2 .5 20.2 .5-18.9 .5 17.6 .5-18.9 .5 18.9 .5-13.8 .5 15.1 .5-17.6 .5 17.6 .5-13.9 .5 13.9 .5-21.4 .5 21.4 .5-15.1 .5 15.1 .5-17.6 .5 17.6 .5-21.4 .5 21.4 .5-22.7 .5 20.2 .5-15.1 .5 17.6 .5-13.9 .5 13.9 .5-12.6 .5 12.6 .5-12.6 .5 11.3 .5-15.1 .6 16.4 .5-20.2 .5 16.4 .5-11.3 .5 15.1 .5-15.1 .5 12.6 .5-15.1 .5 17.6 .5-22.7 .5 21.4 .5-16.3 .5 15.1 .5-17.7 .5 18.9 .5-12.6 .5 13.9 .5-15.1 .5 12.6 .5-16.4 .5 17.6 .5-16.3 .5 16.3 .5-15.1 .5 16.4 .5-17.6 .5 16.3 .5-17.6 .5 18.9 .5-15.1 .5 15.1 .5-16.4 .5 13.9 .5-16.4 .5 18.9 .5-12.6 .6 12.6 .5-21.4 .5 20.1 .5-20.1 .5 21.4 .5-20.2 .5 20.2 .5-15.1 .5 15.1 .5-15.1 .5 15.1 .5-11.3 .5 11.3 .5-13.9 .5 13.9 .5-12.6 .5 12.6 .5-12.6 .5 12.6 .5-15.1 .5 15.1 .5-22.7 .5 18.9 .5-16.4 .5 18.9 .5-17.6 .5 16.4 .5-15.1 .5 17.6 .5-12.6 .5 12.6 .5-20.2 .5 20.2 .5-15.1 .5 12.6 .5-16.4 .6 18.9 .5-11.3 .5 11.3 .5-12.6 .5 12.6 .5-12.6 .5 12.6 .5-13.9 .5 13.9 .5-13.9 .5 13.9 .5-11.3 .5 11.3 .5-16.4 .5 16.4 .5-12.6 .5 12.6 .5-13.9 .5 13.9 .5-17.6 .5 17.6 .5-12.6 .5 12.6 .5-12.6 .5 12.6 .5-22.7 .5 21.4 .5-16.3 .5 17.6 .5-13.9 .5 12.6 .5-11.3 .5 12.6 .5-13.9 .5 13.9 .5-25.2 .6 25.2 .5-16.4 .5 16.4 .5-13.9 .5 13.9 .5-20.2 .5 18.9 .5-17.6 .5 17.6 .5-11.3 .5 12.6 .5-15.1 .5 15.1 .5-13.9 .5 13.9 .5-12.6 .5 12.6 .5-17.6 0 16.3" stroke="#0ff"/>
<path d="M1058 1585.1v-4.8M1058 1207v4.8M1122.9 1585.1v-4.8M1122.9 1207v4.8M1187.9 1585.1v-4.8M1187.9 1207v4.8M1252.9 1585.1v-4.8M1252.9 1207v4.8M1317.8 1585.1v-4.8M1317.8 1207v4.8M1025.5 1585.1v-9.5M1025.5 1207v9.5M1090.5 1585.1v-9.5M1090.5 1207v9.5M1155.4 1585.1v-9.5M1155.4 1207v9.5M1220.4 1585.1v-9.5M1220.4 1207v9.5M1285.3 1585.1v-9.5M1285.3 1207v9.5M1350.3 1585.1v-9.5M1350.3 1207v9.5M1025.5 1553.6h4.8M1350.3 1553.6h-4.8M1025.5 1490.6h4.8M1350.3 1490.6h-4.8M1025.5 1427.6h4.8M1350.3 1427.6h-4.8M1025.5 1364.5h4.8M1350.3 1364.5h-4.8M1025.5 1301.5h4.8M1350.3 1301.5h-4.8M1025.5 1238.5h4.8M1350.3 1238.5h-4.8M1025.5 1585.1h9.5M1350.3 1585.1h-9.5M1025.5 1522.1h9.5M1350.3 1522.1h-9.5M1025.5 1459.1h9.5M1350.3 1459.1h-9.5M1025.5 1396h9.5M1350.3 1396h-9.5M1025.5 1333h9.5M1350.3 1333h-9.5M1025.5 1270h9.5M1350.3 1270h-9.5M1025.5 1207h9.5M1350.3 1207h-9.5" stroke="#000" stroke-width="1.2"/>
<rect x="1025.5" y="1207" width="324.8" height="378.1" stroke="#000" stroke-width="1.2"/>
<g font-size="14.8"><text x="1025.5" y="1601.7" text-anchor="middle">0</text><text x="1090.5" y="1601.7" text-anchor="middle">20000</text><text x="1155.4" y="1601.7" text-anchor="middle">40000</text><text x="1220.4" y="1601.7" text-anchor="middle">60000</text><text x="1285.3" y="1601.7" text-anchor="middle">80000</text><text x="1350.3" y="1601.7" text-anchor="middle">1e+05</text><text x="1021.5" y="1590.9" text-anchor="end">0</text><text x="1021.5" y="1527.9" text-anchor="end">50</text><text x="1021.5" y="1464.9" text-anchor="end">100</text><text x="1021.5" y="1401.8" text-anchor="end">150</text><text x="1021.5" y="1338.8" text-anchor="end">200</text><text x="1021.5" y="1275.8" text-anchor="end">250</text><text x="1021.5" y="1212.8" text-anchor="end">300</text></g>
<rect x="1366" y="1232.7" width="90.5" height="154.3" fill="#fff" stroke="#000"/>
<g font-size="14.7"><path d="M1372 1245.3H1383.4" stroke="#000" stroke-width="1.3"/><text x="1394.3" y="1250.2">Structure</text><path d="M1372 1261.4H1383.4" stroke="#f00" stroke-width="1.3"/><text x="1394.3" y="1266.3">Coil</text><path d="M1372 1277.4H1383.4" stroke="#0f0" stroke-width="1.3"/><text x="1394.3" y="1282.3">B-Sheet</text><path d="M1372 1293.5H1383.4" stroke="#00f" stroke-width="1.3"/><text x="1394.3" y="1298.4">B-Bridge</text><path d="M1372 1312.6H1383.4" stroke="#ff0" stroke-width="1.3"/><text x="1394.3" y="1317.5">Bend</text><path d="M1372 1328.7H1383.4" stroke="#bc8f8f" stroke-width="1.3"/><text x="1394.3" y="1333.6">Turn</text><path d="M1372 1344.7H1383.4" stroke="#dcdcdc" stroke-width="1.3"/><text x="1394.3" y="1349.6">A-Helix</text><path d="M1372 1360.8H1383.4" stroke="#9400d3" stroke-width="1.3"/><text x="1394.3" y="1365.7">5-Helix</text><path d="M1372 1376.1H1383.4" stroke="#0ff" stroke-width="1.3"/><text x="1394.3" y="1381">3-Helix</text></g>
<text x="1195.2" y="1165.4" font-size="18.6" text-anchor="middle" font-weight="bold" textLength="377.7" lengthAdjust="spacingAndGlyphs">Secondary Structure CD36 Mut (K164A) + PLM</text>
<text x="1188" y="1192.4" font-size="14" text-anchor="middle" textLength="301" lengthAdjust="spacingAndGlyphs">Structure = A-Helix + B-Sheet + B-Bridge + Turn</text>
<text x="1188" y="1617.2" font-size="15.3" text-anchor="middle">Time (ps)</text>
<text transform="translate(992.5 1396) rotate(-90)" font-size="15.1" text-anchor="middle">Number of Residues</text>
<text x="13.5" y="32.9" font-size="39" font-weight="bold" textLength="44" lengthAdjust="spacingAndGlyphs">(a)</text>
<text x="15" y="1119.8" font-size="39.5" font-weight="bold" textLength="45.6" lengthAdjust="spacingAndGlyphs">(b)</text>
<defs><pattern id="p1" y="-.5" width="107" height="8" patternUnits="userSpaceOnUse"><path transform="translate(0 .5)" stroke="#007f00" d="M5 0h4m3 0h4m2 0h2m16 0h3m7 0h7m8 0h2m16 0h2m3 0h1m15 0h2M0 1h1m1 0h2m8 0h3m7 0h1m1 0h1m3 0h12m1 0h3m6 0h1m2 0h1m1 0h9m2 0h4m10 0h1m11 0h3M3 2h1m7 0h4m1 0h1m1 0h5m2 0h3m2 0h6m2 0h3m3 0h2m16 0h5m1 0h1m1 0h2m11 0h6m14 0h1M8 3h1m23 0h15m3 0h3m2 0h6m23 0h2m1 0h2m11 0h5M1 4h4m1 0h4m1 0h6m36 0h2m6 0h1m16 0h3m1 0h1m2 0h1m6 0h4M7 5h1m24 0h1m2 0h1m14 0h3m1 0h1m1 0h1m23 0h4m2 0h1m12 0h1M1 6h6m8 0h1m5 0h4m5 0h2m1 0h4m9 0h11m7 0h1m6 0h3m1 0h2m12 0h1m15 0h2M1 7h2m2 0h5m10 0h1m1 0h2m7 0h5m5 0h8m1 0h2m7 0h2m27 0h1m14 0h1"/></pattern><pattern id="p2" y="-.5" width="107" height="8" patternUnits="userSpaceOnUse"><path transform="translate(0 .5)" stroke="#ff0" d="M0 0h1m11 0h2m1 0h6m3 0h1m6 0h1m25 0h2m4 0h4m5 0h2m7 0h1m2 0h1m15 0h7M10 1h1m2 0h2m30 0h2m16 0h1m1 0h2m2 0h1m12 0h4m10 0h1M2 2h6m10 0h1m6 0h4m12 0h1m2 0h1m5 0h2m2 0h3m4 0h8M0 3h2m15 0h2m14 0h4m11 0h1m17 0h2m26 0h9m3 0h1M2 4h3m3 0h3m6 0h7m10 0h1m32 0h5m6 0h2m21 0h5M0 5h1m2 0h3m4 0h1m3 0h2m6 0h1m1 0h2m2 0h3m11 0h2m4 0h1m2 0h2m26 0h3m2 0h6m14 0h3M1 6h4m11 0h4m5 0h1m36 0h3m4 0h6m2 0h4m4 0h3m10 0h5m2 0h2M23 7h6m11 0h1m5 0h2m3 0h1m7 0h4m29 0h5m4 0h6"/></pattern><pattern id="p3" y="-.5" width="107" height="8" patternUnits="userSpaceOnUse"><path transform="translate(0 .5)" stroke="#fff" d="M3 0h6m13 0h2m23 0h1m7 0h7m4 0h6m2 0h2m28 0h2M0 1h2m6 0h1m1 0h1m40 0h1m3 0h1m3 0h4m7 0h6m3 0h3m3 0h3M3 2h6m17 0h1m11 0h4m12 0h2m12 0h3m20 0h3m5 0h6M0 3h6m7 0h10m1 0h7m70 0h1M6 4h3m4 0h3m46 0h6m26 0h3M2 5h4m8 0h1m12 0h1m9 0h4m25 0h3m14 0h1M2 6h2m1 0h2m11 0h2m11 0h4m2 0h2m3 0h5m2 0h9m2 0h1m2 0h8m17 0h2m14 0h1M2 7h2m21 0h1m15 0h4m10 0h1m3 0h1m13 0h1m4 0h5"/></pattern><pattern id="p4" y="-.5" width="107" height="8" patternUnits="userSpaceOnUse"><path transform="translate(0 .5)" stroke="#ff0" d="M0 0h2m4 0h6m16 0h2m50 0h1m6 0h5M0 1h3m7 0h2m2 0h14m2 0h7m21 0h3m2 0h1m26 0h1m7 0h5M3 2h2m14 0h2m8 0h1m2 0h3m3 0h10m8 0h1m12 0h3m12 0h1m5 0h4M0 3h2m4 0h4m11 0h3m5 0h3m6 0h3m2 0h2m6 0h2m1 0h2m3 0h1m2 0h2m1 0h5m4 0h1m1 0h6m2 0h7m5 0h3m2 0h2m3 0h1M13 4h1m4 0h1m8 0h4m6 0h3m3 0h16m4 0h1m9 0h7m4 0h6m11 0h1M1 5h2m3 0h1m15 0h1m3 0h3m4 0h1m2 0h6m8 0h2m6 0h3m3 0h1m28 0h2m4 0h4M5 6h1m2 0h3m9 0h1m4 0h2m3 0h2m8 0h3m9 0h11m2 0h3m1 0h2m7 0h1m8 0h5M0 7h5m2 0h6m16 0h1m1 0h1m6 0h3m23 0h1m2 0h4m7 0h1m4 0h2m1 0h1m17 0h3"/></pattern><pattern id="p5" y="-.5" width="107" height="8" patternUnits="userSpaceOnUse"><path transform="translate(0 .5)" stroke="#007f00" d="M0 0h2m8 0h5m33 0h1m9 0h1M0 1h2m20 0h2m13 0h4m5 0h2m8 0h1m28 0h4m3 0h1m5 0h1M17 2h3m16 0h1m22 0h1m2 0h2m5 0h2m18 0h2M3 3h8m17 0h5m6 0h5m25 0h1M14 4h3m1 0h1m13 0h2m38 0h5m10 0h1m12 0h1m5 0h1M0 5h2m20 0h6m46 0h2m1 0h1m6 0h1m4 0h3M1 6h1m7 0h2m1 0h4m2 0h9m7 0h9m3 0h1m2 0h3m1 0h1m8 0h4m10 0h3m15 0h2m8 0h1M3 7h7m13 0h2m32 0h1m12 0h1m3 0h2m6 0h3m10 0h3m3 0h5"/></pattern><pattern id="p6" y="-.5" width="107" height="8" patternUnits="userSpaceOnUse"><path transform="translate(0 .5)" stroke="#fff" d="M5 0h1m24 0h1M38 2h1M20 3h1m25 0h1M18 4h1M24 5h1m69 0h1M5 6h1m76 0h1M7 7h1m58 0h1"/></pattern><pattern id="p7" y="-.5" width="107" height="8" patternUnits="userSpaceOnUse"><path transform="translate(0 .5)" stroke="#fff" d="M4 0h1m2 0h1m2 0h1m4 0h3m3 0h3m23 0h1m1 0h3m1 0h4m6 0h3m7 0h1m11 0h2m8 0h2m2 0h1m3 0h1M4 1h2m5 0h1m11 0h1m3 0h1m2 0h1m1 0h1m9 0h1m1 0h4m9 0h1m4 0h1m2 0h2m7 0h3m3 0h1m1 0h2m7 0h2m1 0h1m4 0h1m2 0h5M7 2h2m1 0h2m1 0h3m18 0h1m1 0h1m13 0h1m6 0h4m12 0h1m6 0h2m8 0h1m1 0h2m5 0h1M0 3h4m2 0h2m7 0h1m3 0h1m8 0h1m4 0h2m10 0h1m7 0h4m5 0h1m11 0h1m5 0h2m8 0h2m9 0h1m4 0h1M6 4h4m10 0h1m11 0h1m3 0h2m5 0h2m3 0h1m4 0h2m12 0h1m17 0h2m3 0h1m2 0h3m3 0h1m5 0h2M0 5h4m1 0h2m4 0h2m11 0h1m1 0h1m1 0h1m2 0h1m20 0h2m5 0h3m2 0h1m4 0h1m8 0h3m2 0h1m1 0h1m4 0h1m2 0h4m1 0h4m3 0h1M3 6h1m5 0h6m6 0h1m1 0h4m10 0h3m1 0h2m3 0h1m1 0h2m1 0h1m7 0h2m3 0h1m15 0h2m3 0h3m10 0h1M5 7h2m8 0h1m4 0h2m12 0h4m2 0h1m11 0h1m15 0h2m1 0h1m3 0h1m3 0h2m1 0h1m9 0h1m8 0h1"/></pattern><pattern id="p8" y="-.5" width="107" height="8" patternUnits="userSpaceOnUse"><path transform="translate(0 .5)" stroke="#007f00" d="M1 0h4m2 0h4m17 0h5m1 0h3m4 0h3m10 0h5m17 0h4m3 0h9m12 0h3M5 1h4m2 0h6m2 0h2m2 0h4m1 0h2m18 0h5m5 0h4m9 0h1m1 0h2m3 0h2m6 0h2m1 0h3m10 0h1M4 2h2m15 0h5m5 0h1m1 0h1m12 0h5m6 0h4m14 0h3m4 0h5m2 0h1m2 0h8M5 3h10m1 0h6m4 0h9m10 0h7m2 0h1m3 0h1m6 0h1m4 0h12m4 0h2m7 0h12M2 4h1m2 0h8m7 0h4m5 0h2m28 0h1m5 0h4m2 0h3m21 0h4m3 0h2M1 5h1m2 0h1m3 0h2m16 0h3m6 0h2m11 0h4m6 0h11m1 0h1m4 0h1m8 0h1m4 0h3m10 0h5M1 6h6m5 0h5m19 0h5m5 0h4m1 0h2m2 0h1m2 0h1m7 0h2m5 0h8m2 0h1m1 0h1m3 0h2m12 0h2M1 7h2m4 0h1m5 0h6m5 0h1m4 0h1m9 0h1m5 0h20m26 0h2"/></pattern><pattern id="p9" y="-.5" width="107" height="8" patternUnits="userSpaceOnUse"><path transform="translate(0 .5)" stroke="#fff" d="M6 0h1m21 0h4m2 0h1m5 0h1m15 0h2m24 0h3M4 1h1m14 0h2m41 0h1m5 0h3m10 0h1m14 0h1M1 2h1m37 0h1m13 0h1m8 0h1m26 0h1m1 0h1m9 0h4M13 3h2m35 0h1m30 0h2m20 0h2M40 4h2m5 0h1m1 0h2m6 0h2M0 5h1m15 0h1m2 0h1m41 0h1m26 0h3M1 6h1m28 0h1m17 0h1m7 0h1m13 0h1M15 7h2m55 0h1m3 0h2m2 0h1m15 0h3"/></pattern><pattern id="p10" y="-.5" width="107" height="8" patternUnits="userSpaceOnUse"><path transform="translate(0 .5)" stroke="#fff" d="M0 0h1m3 0h4m8 0h5m7 0h1m3 0h5m3 0h7m20 0h4m6 0h3m3 0h1m3 0h8m4 0h1M2 1h1m4 0h1m1 0h2m11 0h3m27 0h5m4 0h7m1 0h1m4 0h2m6 0h1m12 0h5M0 2h2m25 0h7m14 0h1m1 0h3m18 0h2m1 0h3m8 0h2m3 0h1m3 0h4m2 0h4m1 0h1M12 3h1m5 0h1m2 0h1m10 0h1m9 0h4m7 0h2m5 0h2m20 0h4m8 0h2m2 0h3M1 4h3m13 0h1m6 0h3m18 0h1m1 0h1m1 0h6m4 0h1m5 0h2m7 0h3m6 0h4m17 0h3M4 5h4m6 0h2m5 0h2m3 0h1m12 0h3m1 0h1m5 0h14m4 0h2m6 0h3m17 0h1m6 0h3M2 6h3m2 0h2m5 0h2m2 0h2m9 0h1m11 0h4m9 0h7m9 0h6m4 0h5m12 0h1m3 0h3m1 0h2M18 7h1m10 0h1m1 0h3m18 0h3m11 0h2m8 0h1m3 0h1m1 0h4m2 0h1m2 0h1m6 0h2"/></pattern><pattern id="p11" y="-.5" width="107" height="8" patternUnits="userSpaceOnUse"><path transform="translate(0 .5)" stroke="#007f00" d="M0 0h4m4 0h2m4 0h1m5 0h1m3 0h1m3 0h9m10 0h2m1 0h2m3 0h1m2 0h1m1 0h1m14 0h3m4 0h8m2 0h1m7 0h2M1 1h3m1 0h6m2 0h3m2 0h10m1 0h4m3 0h12m2 0h3m11 0h7m1 0h2m4 0h4m9 0h1m2 0h1m1 0h2m7 0h2M1 2h13m4 0h1m2 0h1m1 0h1m6 0h4m2 0h1m1 0h2m2 0h6m9 0h4m2 0h4m3 0h4m11 0h4m3 0h4m4 0h4M1 3h2m5 0h1m3 0h6m4 0h2m6 0h5m3 0h1m8 0h2m4 0h3m6 0h4m1 0h4m15 0h3m4 0h2m5 0h1m2 0h3M0 4h3m6 0h4m1 0h2m3 0h1m9 0h1m4 0h2m1 0h1m7 0h6m1 0h5m1 0h9m4 0h2m1 0h3m5 0h5m3 0h3m4 0h2M2 5h1m1 0h1m1 0h1m1 0h3m5 0h3m1 0h1m1 0h9m6 0h2m17 0h1m5 0h6m9 0h1m4 0h3m1 0h1m3 0h7m5 0h4M3 6h2m6 0h3m1 0h2m10 0h6m2 0h1m3 0h4m6 0h1m3 0h1m1 0h3m1 0h2m4 0h6m1 0h1m1 0h5m4 0h1m3 0h1m1 0h5m8 0h4M2 7h1m10 0h1m1 0h2m3 0h5m6 0h3m4 0h6m2 0h4m1 0h1m4 0h1m1 0h1m2 0h2m11 0h3m4 0h3m3 0h4m6 0h2m1 0h1"/></pattern><pattern id="p12" y="-.5" width="107" height="8" patternUnits="userSpaceOnUse"><path transform="translate(0 .5)" stroke="#007f00" d="M1 0h1m5 0h5m1 0h1m3 0h3m1 0h1m3 0h1m2 0h3m8 0h1m7 0h1m10 0h2m18 0h1m19 0h1m1 0h1m1 0h3m1 0h1M1 1h8m9 0h13m1 0h1m2 0h1m2 0h1m14 0h2m7 0h1m4 0h2m4 0h5m1 0h1m10 0h8m1 0h2m3 0h2M0 2h1m4 0h10m1 0h3m8 0h1m1 0h1m1 0h6m2 0h1m4 0h12m2 0h2m2 0h3m7 0h1m2 0h3m6 0h1m14 0h1M2 3h1m6 0h4m19 0h9m3 0h7m3 0h1m1 0h1m6 0h5m2 0h1m3 0h10m9 0h1m4 0h2m1 0h3M1 4h2m1 0h2m4 0h3m1 0h12m11 0h4m2 0h3m7 0h4m1 0h1m4 0h2m6 0h2m7 0h3m3 0h3m2 0h1m2 0h11M0 5h1m1 0h3m2 0h7m1 0h2m1 0h1m15 0h3m7 0h1m4 0h8m2 0h1m1 0h2m2 0h1m6 0h3m7 0h1m16 0h3M1 6h1m12 0h1m3 0h3m1 0h5m2 0h1m1 0h7m12 0h1m8 0h2m2 0h5m5 0h1m2 0h5m4 0h4m1 0h6m6 0h1M1 7h2m8 0h4m6 0h1m1 0h2m8 0h1m11 0h5m4 0h8m11 0h1m6 0h3m12 0h7m2 0h1"/></pattern><pattern id="p13" y="-.5" width="107" height="8" patternUnits="userSpaceOnUse"><path transform="translate(0 .5)" stroke="#808080" d="M8 0h2m13 0h3m11 0h4m2 0h4m4 0h3m3 0h1m29 0h3m10 0h2m3 0h1M5 1h4m3 0h3m4 0h3m31 0h1m7 0h2m9 0h5m2 0h4m6 0h1M1 2h1m11 0h10m2 0h13m3 0h1m3 0h1m1 0h7m23 0h2m7 0h2m3 0h4m9 0h1M3 3h1m31 0h2m12 0h1m8 0h1m20 0h2M3 4h5m16 0h2m44 0h1M12 5h3m20 0h5m6 0h5m11 0h2m22 0h2m7 0h1M0 6h2m37 0h1m7 0h2m8 0h2m2 0h10m1 0h3m23 0h5M6 7h1m8 0h3m17 0h1m1 0h1m6 0h1m7 0h2m20 0h3m1 0h2m1 0h2m4 0h5m7 0h4"/></pattern><pattern id="p14" y="-.5" width="107" height="8" patternUnits="userSpaceOnUse"><path transform="translate(0 .5)" stroke="#000" d="M1 0h3m37 0h2m17 0h1m7 0h1M1 1h5m14 0h1m66 0h1M15 2h1m4 0h3m19 0h1m26 0h1m1 0h1m30 0h1M2 3h1m23 0h1m36 0h1m33 0h3M6 4h1m34 0h1m1 0h2m20 0h4M4 5h1m32 0h1m9 0h1m31 0h1m3 0h1M0 6h1m17 0h1m1 0h1m17 0h3m1 0h3m9 0h1m25 0h1M63 7h1m23 0h1"/></pattern><pattern id="p15" y="-.5" width="107" height="8" patternUnits="userSpaceOnUse"><path transform="translate(0 .5)" stroke="#000" d="M12 0h1m41 0h1m32 0h2m12 0h5M1 1h1m6 0h2m28 0h3m6 0h1m11 0h2m17 0h2m1 0h1m4 0h1m8 0h6M1 2h1m36 0h1m8 0h1m4 0h3m8 0h1m16 0h1m1 0h2m7 0h4M2 3h5m29 0h2m6 0h1m22 0h1M0 4h1m5 0h1m14 0h1m7 0h2m14 0h1m21 0h1m13 0h1m10 0h4m5 0h5M0 5h6m6 0h3m6 0h2m7 0h2m15 0h1m7 0h2m1 0h5m4 0h1m1 0h1m1 0h3m3 0h4m7 0h1m10 0h2m2 0h2M0 6h1m2 0h3m3 0h1m12 0h7m16 0h2m7 0h1m3 0h1m34 0h4m6 0h1m1 0h2M0 7h2m3 0h1m26 0h1m34 0h1m8 0h1m25 0h3"/></pattern><pattern id="p16" y="-.5" width="107" height="8" patternUnits="userSpaceOnUse"><path transform="translate(0 .5)" stroke="#fff" d="M9 0h1m2 0h1m26 0h6m6 0h4m4 0h4m8 0h1m5 0h1m1 0h1M2 1h5m5 0h4m8 0h1m5 0h2m4 0h2m11 0h2m4 0h2m10 0h3m12 0h6m1 0h3m4 0h1m2 0h4M4 2h4m19 0h12m1 0h5m7 0h1m16 0h1m2 0h4m14 0h3m7 0h1M2 3h13m1 0h2m17 0h1m3 0h8m13 0h3m16 0h2m11 0h4M1 4h1m3 0h8m4 0h3m3 0h2m16 0h8m17 0h2m5 0h1m4 0h3m4 0h1m2 0h4m1 0h1m2 0h1M4 5h5m4 0h9m6 0h2m17 0h3m3 0h1m6 0h1m6 0h2m13 0h2m6 0h1m7 0h7M2 6h2m6 0h2m10 0h1m13 0h1m3 0h1m2 0h6m23 0h2m20 0h1M2 7h2m1 0h1m12 0h1m1 0h2m5 0h9m9 0h1m5 0h2m22 0h1m9 0h1m7 0h4m2 0h4"/></pattern><pattern id="p17" y="-.5" width="107" height="8" patternUnits="userSpaceOnUse"><path transform="translate(0 .5)" stroke="#ff0" d="M1 0h1m13 0h1m34 0h2m21 0h2m17 0h3m1 0h2M16 1h2m25 0h2m33 0h1m3 0h1m2 0h1m20 0h1M3 2h1m21 0h4m7 0h3m27 0h1m38 0h2M3 3h1m31 0h2m37 0h1M16 4h4m7 0h2m20 0h3m25 0h2m19 0h2m5 0h2M4 5h1m1 0h1m12 0h11m2 0h2m4 0h2m25 0h1m39 0h1M9 6h2m7 0h2m5 0h1m50 0h1m22 0h2M4 7h1m14 0h1m21 0h1m20 0h1m31 0h2"/></pattern><pattern id="p18" y="-.5" width="107" height="8" patternUnits="userSpaceOnUse"><path transform="translate(0 .5)" stroke="#000" d="M3 0h4m12 0h1m6 0h3m6 0h2m1 0h4m6 0h2m1 0h5m11 0h6m4 0h1m3 0h1m4 0h1m7 0h5m4 0h2m1 0h1M1 1h1m2 0h2m4 0h1m23 0h3m9 0h2m5 0h4m1 0h3m8 0h1m32 0h1M1 2h1m11 0h5m5 0h3m7 0h7m5 0h2m1 0h5m1 0h3m9 0h7m13 0h1M2 3h3m12 0h10m5 0h1m3 0h1m5 0h2m11 0h2m9 0h2m4 0h1m5 0h1m11 0h3m1 0h2M0 4h8m1 0h7m8 0h3m5 0h6m3 0h6m1 0h3m9 0h2m7 0h3m1 0h1m9 0h1m2 0h2m4 0h7m7 0h1M5 5h5m6 0h8m1 0h4m8 0h1m30 0h1m5 0h1m22 0h5m4 0h1M7 6h2m5 0h1m11 0h3m1 0h1m22 0h3m7 0h2m7 0h3m6 0h2m22 0h2M0 7h1m14 0h1m9 0h1m24 0h9m7 0h1m8 0h5m2 0h1m7 0h1m3 0h1m3 0h1m2 0h2m3 0h1"/></pattern><pattern id="p19" y="-.5" width="107" height="8" patternUnits="userSpaceOnUse"><path transform="translate(0 .5)" stroke="#000" d="M0 0h6m14 0h5m11 0h2m16 0h3m7 0h8m1 0h1m8 0h3m9 0h1M3 1h2m3 0h1m8 0h3m1 0h2m1 0h4m34 0h2m1 0h4m6 0h3m3 0h4m1 0h3m14 0h4M1 2h4m1 0h6m5 0h8m7 0h2m1 0h8m6 0h1m4 0h1m7 0h2m1 0h10m6 0h2m6 0h3M1 3h3m6 0h3m19 0h3m10 0h1m4 0h2m3 0h11m1 0h1m4 0h3M4 4h2m7 0h1m9 0h4m3 0h2m15 0h2m1 0h2m4 0h5m6 0h6m5 0h12m11 0h6M0 5h1m4 0h4m8 0h1m6 0h13m1 0h3m7 0h3m8 0h4m11 0h3m8 0h4m1 0h5m6 0h2m2 0h1M26 6h2m3 0h11m16 0h9m4 0h1m7 0h4m5 0h1m7 0h10M2 7h19m1 0h1m5 0h3m1 0h2m13 0h1m2 0h2m3 0h5m7 0h1m1 0h1m2 0h3m5 0h8m10 0h9"/></pattern><pattern id="p20" y="-.5" width="107" height="8" patternUnits="userSpaceOnUse"><path transform="translate(0 .5)" stroke="#fff" d="M3 0h2m3 0h3m18 0h1m2 0h3m3 0h2m8 0h1m2 0h4m1 0h4m2 0h9m9 0h12M0 1h2m7 0h10m4 0h8m9 0h1m7 0h2m18 0h3m11 0h2m2 0h10m7 0h4M3 2h6m6 0h1m3 0h2m7 0h2m17 0h3m11 0h2m6 0h2m11 0h5m2 0h1m10 0h3M0 3h1m7 0h1m10 0h2m5 0h8m15 0h2m8 0h1m3 0h5m1 0h17m11 0h10M6 4h5m2 0h7m9 0h1m17 0h1m2 0h1m21 0h5m2 0h5m11 0h1m8 0h1M3 5h1m13 0h8m8 0h1m4 0h6m4 0h12m13 0h5m12 0h1m2 0h1m1 0h1m6 0h2M1 6h2m4 0h1m13 0h2m10 0h4m8 0h2m5 0h2m10 0h3m7 0h2m10 0h10m5 0h6M0 7h2m6 0h2m11 0h6m6 0h11m2 0h1m11 0h5m2 0h4m28 0h3"/></pattern><pattern id="p21" y="-.5" width="107" height="8" patternUnits="userSpaceOnUse"><path transform="translate(0 .5)" stroke="#fff" d="M27 0h1m19 0h1m47 0h1m6 0h1M16 1h1m32 0h1M1 3h1m69 0h1M28 4h1m14 0h1m11 0h1M9 5h1M20 7h1"/></pattern><pattern id="p22" y="-.5" width="107" height="8" patternUnits="userSpaceOnUse"><path transform="translate(0 .5)" stroke="#000" d="M0 0h5m3 0h3m7 0h3m3 0h3m6 0h1m7 0h7m6 0h1m2 0h1m6 0h1m12 0h1m12 0h2m13 0h2M2 1h1m1 0h1m5 0h4m1 0h1m5 0h8m3 0h1m4 0h1m3 0h2m6 0h1m8 0h1m3 0h1m1 0h1m5 0h1m5 0h1m1 0h2m7 0h2m6 0h2m4 0h3M1 2h1m10 0h2m16 0h1m3 0h2m4 0h1m7 0h1m3 0h3m2 0h2m3 0h1m1 0h3m2 0h4m2 0h3m7 0h2m4 0h5m1 0h1m5 0h4M7 3h2m5 0h1m8 0h1m6 0h3m3 0h3m1 0h1m2 0h4m4 0h2m4 0h1m1 0h1m2 0h2m11 0h2m4 0h1m2 0h3m14 0h6M7 4h1m11 0h2m13 0h1m4 0h1m1 0h2m1 0h2m8 0h2m4 0h2m4 0h5m7 0h8m4 0h6m7 0h4M1 5h3m6 0h1m2 0h1m3 0h4m1 0h1m2 0h9m3 0h2m10 0h4m11 0h1m5 0h2m2 0h1m3 0h2m8 0h2m1 0h3m5 0h1m6 0h1M2 6h3m1 0h6m11 0h1m6 0h3m7 0h1m3 0h1m2 0h1m2 0h1m4 0h2m3 0h1m3 0h1m1 0h1m11 0h1m5 0h2m2 0h1m1 0h1m1 0h2m7 0h1M0 7h1m3 0h1m5 0h3m4 0h5m13 0h1m6 0h4m6 0h1m1 0h1m1 0h1m6 0h1m3 0h3m12 0h1m2 0h1m8 0h4"/></pattern><pattern id="p23" y="-.5" width="107" height="8" patternUnits="userSpaceOnUse"><path transform="translate(0 .5)" stroke="#007f00" d="M0 0h2m7 0h1m1 0h2m11 0h1m4 0h1m16 0h1m21 0h1m5 0h2m2 0h3m7 0h1M33 1h1m4 0h3m2 0h2m4 0h1m2 0h3m14 0h1m7 0h2m17 0h1m1 0h2M0 2h1m7 0h3m12 0h1m1 0h2m3 0h2m4 0h4m9 0h1m6 0h3m20 0h1m12 0h1m1 0h6m6 0h1M0 3h4m4 0h1m15 0h2m3 0h1m11 0h3m4 0h3m15 0h4m2 0h2m5 0h2m10 0h2m11 0h3M5 4h5m10 0h1m3 0h5m1 0h2m10 0h5m3 0h1m4 0h1m17 0h1m9 0h2m20 0h2M3 5h3m7 0h1m16 0h4m8 0h2m1 0h1m3 0h3m5 0h1m5 0h3m4 0h3m1 0h3m5 0h3m3 0h5m8 0h5M0 6h1m2 0h1m5 0h1m6 0h4m4 0h3m3 0h1m1 0h1m36 0h2m2 0h3m5 0h1m17 0h1m2 0h3M4 7h2m8 0h1m4 0h1m7 0h4m3 0h2m4 0h1m6 0h4m2 0h2m10 0h1m2 0h4m21 0h1m1 0h1m3 0h2"/></pattern><pattern id="p24" y="-.5" width="107" height="8" patternUnits="userSpaceOnUse"><path transform="translate(0 .5)" stroke="#ff0" d="M2 0h7m13 0h5m2 0h1m5 0h2m6 0h1m1 0h1m5 0h4m9 0h6m5 0h2m9 0h1m8 0h1m8 0h3M0 1h5m5 0h1m2 0h5m2 0h3m2 0h1m1 0h1m11 0h2m6 0h3m3 0h4m4 0h1m19 0h1m1 0h1m16 0h1m3 0h3M0 2h2m9 0h9m6 0h2m2 0h2m9 0h1m13 0h3m6 0h3m3 0h1m12 0h1m2 0h1M4 3h9m2 0h1m9 0h3m22 0h1m1 0h5m1 0h1m2 0h1m11 0h1m6 0h4m12 0h1m1 0h3m2 0h1m2 0h1M1 4h5m1 0h1m1 0h2m14 0h2m2 0h4m1 0h4m5 0h5m3 0h4m10 0h2m17 0h1m1 0h2m1 0h1m1 0h3m2 0h3m5 0h3M1 5h5m1 0h2m2 0h3m7 0h1m3 0h3m3 0h3m3 0h9m9 0h5m1 0h2m4 0h1m3 0h1m5 0h6m9 0h5m7 0h1M0 6h2m2 0h2m4 0h2m5 0h6m1 0h6m4 0h6m3 0h2m1 0h2m4 0h6m4 0h3m1 0h4m7 0h1m10 0h2m5 0h1m4 0h2m2 0h3M3 7h1m4 0h2m4 0h4m3 0h8m5 0h4m3 0h1m8 0h4m7 0h3m1 0h1m3 0h1m3 0h2m1 0h1m2 0h4m1 0h2m5 0h3m5 0h3m4 0h1"/></pattern><pattern id="p25" y="-.5" width="107" height="8" patternUnits="userSpaceOnUse"><path transform="translate(0 .5)" stroke="#fff" d="M1 0h2m20 0h2m1 0h4m4 0h2m8 0h5m1 0h2m13 0h2m7 0h1m3 0h1m10 0h1m7 0h2M1 1h2m4 0h1m23 0h1m11 0h2m20 0h4m7 0h2m2 0h1m19 0h2m3 0h1M0 2h2m5 0h1m1 0h3m2 0h1m1 0h4m52 0h4m18 0h2m10 0h1M4 3h3m1 0h3m6 0h2m14 0h2m7 0h1m4 0h1m1 0h2m10 0h1m3 0h1m9 0h1m5 0h4m20 0h1M0 4h4m7 0h3m11 0h1m6 0h7m3 0h2m3 0h2m1 0h2m5 0h2m2 0h2m5 0h1m7 0h2m7 0h1m5 0h1m9 0h1M1 5h2m27 0h2m36 0h4m11 0h1m10 0h3M0 6h1m1 0h4m3 0h1m3 0h4m20 0h1m8 0h1m9 0h5m10 0h5m12 0h5m1 0h1m10 0h2M2 7h9m6 0h4m6 0h7m10 0h1m7 0h2m12 0h1m18 0h4m7 0h1"/></pattern><pattern id="p26" y="-.5" width="107" height="8" patternUnits="userSpaceOnUse"><path transform="translate(0 .5)" stroke="#f00" d="M9 0h1m14 0h1m7 0h1m1 0h2m10 0h1m48 0h1M2 1h2m3 0h2m9 0h1m5 0h1m31 0h1m12 0h1m29 0h1m6 0h1M7 2h5m6 0h1m17 0h3m18 0h3m8 0h2m7 0h4m15 0h1m1 0h1m3 0h1M6 3h3m7 0h2m4 0h2m15 0h1m19 0h2m15 0h3M2 4h1m7 0h1m2 0h1m40 0h1m4 0h1m1 0h3m11 0h1m13 0h5M1 5h2m31 0h3m17 0h1m8 0h1m4 0h1m25 0h2M0 6h1m12 0h1m7 0h1m38 0h1m20 0h1M3 7h1m19 0h4m18 0h1m36 0h1m8 0h1"/></pattern><pattern id="p27" y="-.5" width="107" height="8" patternUnits="userSpaceOnUse"><path transform="translate(0 .5)" stroke="#ff0" d="M4 0h2m7 0h4m1 0h1m11 0h5m8 0h1m22 0h5m6 0h1m2 0h1m1 0h3m5 0h6m8 0h3M0 1h1m3 0h1m1 0h1m12 0h1m1 0h3m2 0h1m15 0h5m8 0h6m3 0h2m22 0h1m10 0h3m1 0h4M0 2h11m9 0h8m14 0h1m4 0h1m6 0h2m4 0h9m1 0h5m1 0h3m3 0h2m2 0h6m1 0h6M6 3h4m8 0h9m4 0h2m1 0h3m1 0h1m3 0h3m2 0h1m29 0h1m4 0h1m21 0h1m1 0h1M6 4h11m7 0h7m4 0h1m20 0h2m4 0h3m4 0h10m1 0h12m2 0h2m3 0h1m3 0h3M4 5h10m9 0h4m7 0h7m3 0h5m7 0h1m11 0h9m19 0h2m3 0h3m2 0h1M5 6h3m5 0h2m4 0h2m10 0h2m5 0h2m2 0h3m15 0h7m2 0h1m4 0h2m5 0h4m15 0h7M2 7h6m5 0h11m1 0h1m2 0h6m1 0h2m8 0h2m7 0h1m7 0h3m1 0h2m7 0h2m18 0h1m1 0h9"/></pattern><pattern id="p28" y="-.5" width="107" height="8" patternUnits="userSpaceOnUse"><path transform="translate(0 .5)" stroke="#808080" d="M0 0h3m7 0h1m6 0h1m8 0h2m1 0h2m1 0h3m4 0h3m2 0h2m1 0h1m2 0h1m1 0h1m1 0h2m4 0h1m4 0h4m4 0h2m1 0h2m11 0h4m9 0h2m2 0h1M1 1h3m4 0h1m5 0h3m3 0h3m1 0h3m5 0h3m2 0h1m5 0h1m1 0h1m2 0h1m2 0h6m2 0h4m5 0h3m1 0h2m2 0h2m1 0h1m3 0h2m2 0h2m4 0h3m9 0h2M0 2h1m1 0h1m1 0h7m1 0h1m1 0h1m11 0h1m1 0h1m2 0h1m18 0h1m4 0h2m1 0h6m6 0h1m1 0h4m4 0h2m1 0h2m3 0h2m1 0h2m2 0h7m2 0h3M2 3h1m1 0h1m3 0h1m4 0h2m6 0h1m1 0h1m3 0h2m2 0h1m4 0h3m4 0h1m1 0h1m1 0h5m1 0h1m4 0h1m5 0h7m3 0h2m4 0h2m4 0h2m6 0h2m5 0h1M1 4h6m7 0h1m3 0h3m7 0h1m1 0h2m3 0h1m2 0h2m2 0h5m1 0h7m6 0h3m13 0h4m1 0h4m2 0h1m3 0h1m2 0h1m3 0h2m4 0h2M3 5h1m3 0h1m4 0h1m1 0h2m4 0h2m4 0h2m1 0h2m2 0h3m6 0h2m1 0h3m9 0h1m1 0h5m6 0h1m2 0h2m4 0h2m5 0h4m3 0h1m1 0h1m8 0h1M2 6h1m1 0h2m4 0h1m4 0h2m1 0h1m2 0h2m6 0h5m1 0h1m4 0h2m2 0h1m5 0h1m1 0h1m1 0h4m4 0h2m6 0h1m2 0h1m1 0h3m7 0h2m4 0h2m3 0h1m3 0h2m1 0h1M3 7h1m2 0h1m8 0h2m8 0h2m7 0h1m6 0h4m1 0h1m16 0h1m6 0h1m6 0h2m5 0h1m3 0h4m2 0h4m1 0h1m1 0h1m2 0h1"/></pattern><pattern id="p29" y="-.5" width="107" height="8" patternUnits="userSpaceOnUse"><path transform="translate(0 .5)" stroke="#000" d="M5 0h2m7 0h5m10 0h3m2 0h1m5 0h1m5 0h1m8 0h2m7 0h1m9 0h1m8 0h1m18 0h2M7 1h1m21 0h1m13 0h3m23 0h1m2 0h1M35 2h1m9 0h1m3 0h4m9 0h2m14 0h1m9 0h1m15 0h2M0 3h1m34 0h2m24 0h5m2 0h1m1 0h2m9 0h1m24 0h1M11 4h3m7 0h3m2 0h1m70 0h1M34 5h1m36 0h1M5 6h3m25 0h2m11 0h3m5 0h2m13 0h2m3 0h1m6 0h2m13 0h2M4 7h1m50 0h1m49 0h1"/></pattern><pattern id="p30" y="-.5" width="107" height="8" patternUnits="userSpaceOnUse"><path transform="translate(0 .5)" stroke="#007f00" d="M13 0h1m1 0h1m3 0h1m2 0h1m14 0h3m2 0h2m1 0h1m4 0h7m4 0h1m9 0h1m2 0h1m5 0h1m10 0h1m2 0h1m5 0h1M3 1h1m9 0h1m4 0h1m4 0h3m4 0h2m2 0h1m1 0h1m1 0h1m16 0h2m1 0h1m1 0h1m20 0h3m5 0h4m4 0h1M0 2h9m4 0h2m3 0h1m1 0h1m1 0h1m4 0h2m5 0h2m3 0h1m7 0h1m9 0h2m10 0h1m1 0h6m1 0h1m2 0h1m1 0h1m8 0h2m5 0h1m2 0h5M4 3h1m1 0h2m8 0h4m1 0h1m1 0h2m2 0h1m4 0h3m1 0h3m9 0h3m4 0h2m1 0h1m10 0h4m3 0h1m8 0h3m10 0h1m1 0h1M3 4h1m1 0h1m1 0h1m4 0h1m2 0h5m13 0h2m3 0h3m1 0h1m10 0h2m1 0h3m8 0h2m2 0h2m2 0h2m4 0h3m2 0h2m5 0h1m1 0h1m4 0h2M1 5h2m2 0h1m3 0h2m8 0h1m1 0h1m17 0h1m10 0h3m4 0h2m11 0h2m1 0h1m8 0h1m3 0h1m5 0h1m2 0h1m4 0h2m3 0h2M1 6h1m1 0h1m2 0h7m8 0h2m5 0h1m8 0h1m1 0h1m2 0h2m7 0h1m21 0h1m2 0h1m3 0h2m9 0h1m6 0h3M0 7h1m4 0h1m2 0h1m1 0h1m1 0h2m3 0h2m1 0h2m2 0h2m4 0h2m6 0h2m8 0h1m1 0h1m3 0h4m8 0h1m26 0h1m2 0h1m6 0h4"/></pattern><pattern id="p31" y="-.5" width="107" height="8" patternUnits="userSpaceOnUse"><path transform="translate(0 .5)" stroke="#fff" d="M0 0h8m68 0h1m2 0h1m15 0h6M9 1h2m31 0h2m51 0h2m5 0h3M14 2h3m21 0h8m11 0h1M12 3h4m11 0h1m72 0h7M39 4h1m50 0h1M2 5h8m62 0h1M28 6h2m3 0h1m66 0h6M1 7h2m17 0h6m31 0h4m4 0h2m3 0h3"/></pattern><pattern id="p32" y="-.5" width="107" height="8" patternUnits="userSpaceOnUse"><path transform="translate(0 .5)" stroke="#f00" d="M46 0h5m12 0h1m10 0h1m13 0h4m4 0h3M0 1h2m1 0h1m22 0h6m18 0h3m2 0h5m9 0h7m5 0h2m7 0h5m4 0h8M2 2h3m16 0h2m1 0h10m1 0h6m26 0h3m2 0h14m13 0h3m3 0h2M9 3h1m36 0h1m24 0h5m1 0h3m4 0h1m2 0h5m9 0h1M5 4h2m55 0h1m11 0h8m13 0h7M34 5h3m2 0h7m35 0h5m11 0h2m6 0h2M6 6h1m2 0h1m9 0h2m13 0h1m7 0h7m11 0h10m25 0h7M4 7h2m7 0h1m39 0h1m11 0h5m13 0h1m5 0h3"/></pattern><pattern id="p33" y="-.5" width="107" height="8" patternUnits="userSpaceOnUse"><path transform="translate(0 .5)" stroke="#fff" d="M0 0h3m3 0h1m2 0h2m3 0h3m9 0h1m4 0h6m1 0h3m5 0h1m7 0h1m7 0h1m6 0h5m14 0h2m3 0h2M1 1h2m26 0h3m8 0h1m3 0h8m1 0h7m6 0h1m1 0h14m3 0h1m14 0h1m1 0h2M11 2h6m1 0h1m25 0h5m1 0h1m3 0h1m3 0h4m1 0h7m4 0h7m11 0h4m9 0h1M3 3h1m1 0h2m2 0h1m3 0h1m6 0h3m16 0h3m7 0h2m6 0h2m2 0h13m20 0h3m1 0h2m3 0h2M5 4h1m2 0h4m13 0h5m3 0h15m10 0h8m13 0h2m13 0h1m10 0h1M0 5h2m11 0h1m9 0h2m3 0h1m5 0h7m10 0h2m3 0h3m1 0h1m16 0h3m3 0h1m9 0h1M5 6h6m9 0h8m8 0h1m16 0h2m5 0h5m7 0h3m15 0h1m3 0h1m9 0h1M1 7h4m1 0h5m1 0h6m1 0h1m7 0h6m8 0h2m8 0h1m14 0h1m5 0h2m3 0h7m3 0h1m6 0h2"/></pattern><pattern id="p34" y="-.5" width="107" height="8" patternUnits="userSpaceOnUse"><path transform="translate(0 .5)" stroke="#808080" d="M26 0h18m5 0h3m15 0h6m1 0h1m1 0h9m2 0h2m13 0h1m1 0h1M30 1h1m11 0h10m8 0h13m6 0h3m22 0h2M0 2h3m2 0h16m23 0h10m1 0h4m9 0h19m10 0h2M12 3h6m13 0h8m17 0h3m3 0h8m4 0h5m27 0h1M10 4h11m14 0h1m6 0h1m5 0h3m6 0h1m2 0h7m29 0h3M0 5h3m2 0h1m5 0h2m10 0h8m6 0h9m10 0h1m9 0h4m7 0h4m7 0h9m3 0h1M0 6h3m15 0h1m11 0h3m11 0h5m19 0h1m7 0h16m2 0h9M1 7h4m4 0h1m21 0h4m69 0h3"/></pattern><pattern id="p35" y="-.5" width="107" height="8" patternUnits="userSpaceOnUse"><path transform="translate(0 .5)" stroke="#00f" d="M7 0h4m28 0h1m6 0h1m26 0h5m21 0h4M0 1h5m22 0h1m26 0h2m10 0h6m8 0h2m12 0h1m11 0h1M3 2h2m8 0h8m4 0h1m6 0h1m7 0h4m23 0h5m21 0h2M5 3h2m1 0h2m21 0h1m6 0h4m8 0h4m4 0h1m8 0h3M7 4h1m1 0h3m8 0h1m9 0h1m10 0h2m29 0h1m26 0h1M8 5h1m7 0h1m22 0h1m9 0h3m38 0h5m8 0h2M7 6h2m9 0h2m11 0h2m1 0h2m2 0h2m39 0h1m7 0h1m16 0h2M11 7h1m24 0h1m22 0h3m29 0h4m5 0h3"/></pattern><pattern id="p36" y="-.5" width="107" height="8" patternUnits="userSpaceOnUse"><path transform="translate(0 .5)" stroke="#fff" d="M11 0h4m8 0h1m1 0h3m11 0h10m3 0h1m18 0h1M1 1h2m5 0h2m20 0h10m6 0h1m54 0h1M4 2h2m33 0h1m28 0h1m3 0h2m17 0h1M13 3h1m13 0h5m35 0h5M13 4h1m3 0h1m8 0h3m8 0h2m20 0h4m12 0h4m18 0h2M28 5h3m19 0h1m12 0h1m28 0h3M14 6h2m5 0h6m26 0h1m6 0h2m3 0h3m2 0h4m9 0h1m10 0h2M3 7h2m7 0h2m8 0h2m2 0h1m20 0h2m39 0h5"/></pattern><pattern id="p37" y="-.5" width="107" height="8" patternUnits="userSpaceOnUse"><path transform="translate(0 .5)" stroke="#ff0" d="M4 0h2m1 0h1m6 0h1m19 0h2m22 0h3m4 0h4m8 0h1m7 0h2m5 0h1m4 0h2m2 0h4M0 1h4m14 0h2m2 0h1m22 0h1m5 0h2m17 0h1m4 0h1m5 0h1m4 0h1m5 0h1m12 0h1M6 2h3m4 0h2m15 0h4m22 0h1m5 0h5m20 0h3M14 3h1m15 0h2m13 0h2m13 0h1m6 0h1m11 0h3m8 0h4m1 0h2m8 0h1M1 4h1m8 0h1m10 0h2m5 0h1m7 0h1m1 0h1m3 0h3m1 0h3m3 0h2m1 0h1m18 0h1m18 0h1m3 0h3M1 5h1m32 0h1m1 0h1m1 0h5m4 0h1m7 0h2m2 0h3m6 0h4m10 0h2m2 0h1m7 0h2M4 6h1m1 0h1m7 0h2m5 0h2m16 0h1m1 0h1m1 0h7m15 0h2m4 0h2m1 0h1m9 0h1m7 0h1m7 0h1M0 7h1m17 0h2m11 0h8m3 0h1m5 0h1m8 0h1m8 0h1m1 0h2m1 0h3m7 0h2m2 0h1m11 0h2"/></pattern><pattern id="p38" y="-.5" width="107" height="8" patternUnits="userSpaceOnUse"><path transform="translate(0 .5)" stroke="#ff0" d="M1 0h1m7 0h2m1 0h4m3 0h2m4 0h1m16 0h3m5 0h1m1 0h5m12 0h1m7 0h2m1 0h1m7 0h1m3 0h1m9 0h1M1 1h2m17 0h8m4 0h2m5 0h1m1 0h2m4 0h1m1 0h3m1 0h4m6 0h2m25 0h1m5 0h1m3 0h1m1 0h3M2 2h1m1 0h1m7 0h3m6 0h1m1 0h2m10 0h4m4 0h1m1 0h1m2 0h1m2 0h1m4 0h3m2 0h2m9 0h1m1 0h2m8 0h3m5 0h1m6 0h2m1 0h2M3 3h8m1 0h1m1 0h3m8 0h3m2 0h4m9 0h2m3 0h3m12 0h1m4 0h1m4 0h1m3 0h4m2 0h1m5 0h2m1 0h2m9 0h1M1 4h1m6 0h1m17 0h1m1 0h2m1 0h1m14 0h7m1 0h1m7 0h2m20 0h1m2 0h1m8 0h3m6 0h1M4 5h2m3 0h2m6 0h2m20 0h2m1 0h2m4 0h1m4 0h1m12 0h1m10 0h1m3 0h1m15 0h2M2 6h2m2 0h7m5 0h5m5 0h2m2 0h2m18 0h3m1 0h2m10 0h2m5 0h3m5 0h1m3 0h2m10 0h1M0 7h7m16 0h3m2 0h2m3 0h1m1 0h1m3 0h1m12 0h3m2 0h2m5 0h2m1 0h1m7 0h1m9 0h3m1 0h2m1 0h1m7 0h2m4 0h1"/></pattern><pattern id="p39" y="-.5" width="107" height="8" patternUnits="userSpaceOnUse"><path transform="translate(0 .5)" stroke="#007f00" d="M4 0h3m12 0h2m54 0h2M11 1h1m29 0h1m26 0h1m16 0h1m11 0h1M34 2h1m29 0h1m1 0h1M4 3h2m27 0h4m65 0h1M2 4h2m14 0h5m13 0h3m19 0h1m1 0h2m37 0h1M4 5h6m34 0h2m43 0h3M40 6h1m6 0h3m23 0h1M72 7h2"/></pattern><pattern id="p40" y="-.5" width="107" height="8" patternUnits="userSpaceOnUse"><path transform="translate(0 .5)" stroke="#fff" d="M30 0h1m38 0h1m24 0h1M5 1h1m46 0h1m3 0h1m9 0h1m2 0h1M7 2h1m12 0h1m5 0h1m7 0h1m17 0h1m43 0h1m8 0h1M0 3h1m38 0h1m45 0h1m14 0h1m5 0h1M21 4h1m19 0h1m40 0h1m5 0h1m5 0h1m3 0h1m6 0h1M40 5h1m24 0h1m14 0h1m23 0h1M10 6h1m7 0h1m23 0h1M23 7h1m12 0h1m35 0h1m1 0h1m4 0h1m14 0h1"/></pattern><pattern id="p41" y="-.5" width="107" height="8" patternUnits="userSpaceOnUse"><path transform="translate(0 .5)" stroke="#fff" d="M1 0h1m11 0h1m4 0h1m1 0h1m10 0h1m20 0h1m2 0h1m9 0h1m28 0h1M8 1h1m1 0h1m16 0h1m9 0h1m4 0h1m9 0h1m10 0h1m1 0h1m11 0h1m17 0h1M2 2h1m7 0h1m6 0h1m1 0h1m14 0h1m18 0h1m3 0h1m8 0h1m2 0h1m1 0h1m1 0h1m11 0h1m16 0h1M1 3h1m1 0h1m1 0h1m14 0h1m12 0h1m1 0h1m9 0h1m2 0h1m9 0h1m2 0h1m2 0h1m7 0h1m6 0h1m1 0h1m4 0h1m6 0h1m2 0h1m2 0h1m4 0h1M0 4h1m10 0h1m4 0h1m15 0h1m21 0h1m4 0h1m13 0h1m15 0h1m11 0h1M0 5h1m10 0h1m7 0h1m11 0h1m4 0h1m6 0h1m5 0h1m1 0h1m10 0h1m13 0h1m3 0h1m18 0h1M0 6h1m2 0h1m13 0h1m4 0h1m2 0h1m5 0h1m3 0h1m1 0h1m1 0h1m1 0h1m2 0h1m4 0h1m4 0h1m3 0h1m17 0h1m21 0h1M1 7h1m12 0h1m57 0h1m4 0h1m2 0h1m1 0h1m14 0h1m3 0h1"/></pattern><pattern id="p42" y="-.5" width="107" height="8" patternUnits="userSpaceOnUse"><path transform="translate(0 .5)" stroke="#f00" d="M3 0h6m8 0h6m6 0h5m4 0h4m3 0h1m18 0h1m11 0h2m1 0h1m6 0h4m13 0h1M11 1h2m4 0h2m4 0h1m6 0h1m2 0h3m8 0h1m9 0h7m5 0h2m7 0h1m5 0h2m1 0h1m9 0h1m1 0h5m2 0h4M1 2h2m3 0h1m1 0h3m7 0h1m4 0h1m2 0h3m8 0h4m1 0h1m2 0h2m1 0h1m10 0h1m4 0h1m3 0h1m3 0h2m8 0h3m6 0h1m2 0h2m4 0h1M7 3h7m2 0h5m7 0h2m16 0h3m4 0h2m2 0h4m2 0h4m3 0h3m1 0h3m2 0h11m1 0h1m6 0h7m1 0h1M8 4h1m1 0h6m3 0h2m3 0h4m1 0h1m1 0h1m5 0h5m5 0h2m4 0h4m8 0h2m1 0h2m6 0h3m1 0h4m5 0h3m4 0h1m1 0h3m2 0h4M2 5h3m1 0h3m2 0h1m10 0h11m8 0h1m4 0h3m4 0h1m7 0h3m7 0h2m2 0h1m2 0h4m18 0h2m2 0h3M0 6h1m1 0h1m2 0h1m3 0h4m4 0h2m6 0h10m5 0h2m2 0h1m9 0h1m3 0h2m4 0h1m1 0h2m2 0h2m3 0h1m6 0h4m6 0h1m2 0h3m1 0h1M1 7h1m1 0h1m7 0h4m1 0h12m12 0h1m1 0h1m10 0h7m8 0h2m9 0h1m6 0h2"/></pattern><pattern id="p43" y="-.5" width="107" height="8" patternUnits="userSpaceOnUse"><path transform="translate(0 .5)" stroke="#fff" d="M2 0h5m6 0h1m8 0h1m3 0h2m11 0h4m2 0h2m1 0h4m3 0h3m4 0h1m2 0h1m4 0h2m8 0h5m18 0h1m1 0h2M9 1h2m5 0h1m6 0h1m5 0h2m18 0h1m5 0h2m7 0h1m1 0h2m2 0h1m3 0h5m12 0h4m1 0h1m2 0h1m3 0h4M0 2h1m16 0h3m4 0h1m15 0h4m4 0h2m7 0h1m18 0h1m1 0h2m4 0h4m7 0h3m3 0h2M1 3h1m3 0h1m2 0h2m2 0h3m5 0h1m1 0h3m4 0h2m17 0h4m3 0h1m1 0h2m11 0h1m8 0h4m2 0h2m16 0h1m1 0h1M5 4h2m13 0h2m1 0h3m3 0h2m2 0h2m3 0h1m1 0h2m14 0h1m5 0h3m1 0h5m6 0h1m5 0h1m2 0h2m6 0h6m1 0h1m1 0h3M13 5h2m6 0h1m4 0h1m2 0h2m17 0h4m6 0h2m6 0h2m13 0h1m7 0h5m7 0h1m3 0h2M2 6h1m1 0h2m1 0h1m3 0h4m3 0h1m1 0h2m2 0h1m11 0h2m10 0h1m2 0h1m7 0h1m2 0h1m1 0h2m1 0h3m1 0h1m5 0h6m2 0h1m3 0h2m14 0h1M0 7h2m2 0h2m2 0h2m8 0h5m1 0h1m11 0h1m12 0h2m3 0h4m7 0h1m3 0h3m5 0h7m10 0h1m8 0h1"/></pattern><pattern id="p44" y="-.5" width="107" height="8" patternUnits="userSpaceOnUse"><path transform="translate(0 .5)" stroke="#808080" d="M13 0h2M5 1h1M22 2h1m23 0h2m18 0h1M24 3h3M3 4h3m39 0h7M14 5h3m16 0h3M22 6h8m6 0h1M19 7h1"/></pattern><pattern id="p45" y="-.5" width="107" height="8" patternUnits="userSpaceOnUse"><path transform="translate(0 .5)" stroke="#fff" d="M0 0h1m1 0h1m43 0h1m15 0h1m13 0h1m16 0h1m8 0h1m1 0h1m1 0h1M7 1h1m6 0h1m21 0h1m30 0h1m9 0h1m19 0h1m3 0h1m3 0h1M0 2h1m18 0h1m18 0h1m1 0h1m2 0h1m7 0h1m1 0h1m10 0h1m6 0h1m5 0h1m1 0h1m1 0h1m1 0h1m5 0h1M3 3h1m11 0h1m1 0h1m2 0h1m23 0h1m22 0h1m6 0h1m3 0h1m4 0h1m2 0h1M2 4h1m27 0h1m13 0h1m6 0h1m4 0h1m1 0h1m25 0h1m16 0h1M5 5h1m7 0h1m2 0h1m15 0h1m8 0h1m6 0h1m1 0h1m11 0h1m17 0h1m6 0h1m14 0h1M11 6h1m1 0h1m10 0h1m4 0h1m2 0h1m1 0h1m2 0h1m7 0h1m16 0h1m4 0h1m4 0h1m4 0h1m1 0h1m4 0h1m12 0h1m8 0h1M0 7h1m15 0h1m12 0h1m1 0h1m10 0h1m11 0h1m1 0h1m16 0h1m1 0h1m1 0h1m6 0h1m5 0h1m7 0h1m7 0h1"/></pattern><pattern id="p46" y="-.5" width="107" height="8" patternUnits="userSpaceOnUse"><path transform="translate(0 .5)" stroke="#fff" d="M6 0h2m4 0h1m10 0h8m10 0h3m2 0h1m6 0h2m1 0h3m4 0h1m7 0h1m1 0h5m8 0h1m4 0h2m1 0h3m2 0h2m1 0h1m1 0h2M0 1h10m2 0h1m5 0h2m9 0h1m6 0h3m4 0h1m5 0h3m7 0h8m2 0h5m3 0h2m5 0h4m10 0h6M2 2h3m8 0h3m6 0h1m2 0h2m2 0h1m7 0h2m6 0h2m4 0h1m1 0h1m1 0h1m1 0h3m1 0h1m10 0h11m15 0h1M1 3h1m3 0h10m1 0h3m1 0h2m7 0h3m8 0h8m5 0h4m16 0h2m6 0h2m10 0h14M2 4h4m5 0h5m1 0h2m13 0h6m3 0h2m1 0h1m5 0h1m2 0h2m4 0h4m1 0h2m2 0h4m1 0h2m3 0h3m3 0h2m1 0h1m3 0h2M0 5h2m1 0h1m6 0h3m10 0h8m5 0h2m28 0h5m7 0h1m4 0h2m12 0h6m1 0h3M3 6h1m3 0h2m4 0h1m2 0h1m9 0h5m5 0h3m1 0h3m4 0h1m4 0h1m4 0h2m2 0h1m6 0h1m14 0h1m3 0h2m8 0h1m1 0h7M2 7h1m12 0h1m4 0h1m22 0h5m3 0h4m12 0h2m18 0h9"/></pattern><pattern id="p47" y="-.5" width="107" height="8" patternUnits="userSpaceOnUse"><path transform="translate(0 .5)" stroke="#007f00" d="M2 0h2m18 0h2m18 0h1m32 0h1M4 1h1m1 0h2m22 0h1m10 0h1m10 0h2m4 0h1m12 0h1m24 0h3M7 2h1m1 0h1m10 0h2m4 0h2m3 0h1m2 0h2m8 0h1m31 0h2M9 3h1m20 0h1m16 0h1m2 0h3M24 4h2m25 0h3m3 0h3m17 0h1m6 0h1m11 0h1m6 0h1M1 5h1m14 0h1m30 0h2m15 0h3m5 0h1M4 6h6m10 0h1m20 0h1m12 0h2m5 0h1m11 0h2m6 0h1m5 0h2m1 0h3M9 7h2m38 0h1m32 0h2"/></pattern><pattern id="p48" y="-.5" width="107" height="8" patternUnits="userSpaceOnUse"><path transform="translate(0 .5)" stroke="#f00" d="M5 0h3m19 0h6m9 0h1m3 0h9m5 0h8m9 0h4m2 0h3m13 0h5M1 1h1m13 0h1m5 0h7m9 0h2m3 0h1m11 0h2m3 0h3m4 0h1m18 0h2m4 0h2m10 0h3M0 2h1m17 0h11m6 0h4m45 0h6M1 3h1m23 0h2m4 0h1m25 0h1m14 0h2m13 0h7m3 0h3m1 0h1M0 4h6m3 0h5m4 0h2m15 0h3m1 0h7m21 0h6m13 0h1M4 5h2m7 0h7m9 0h2m6 0h3m14 0h5m2 0h10m20 0h1M0 6h2m21 0h5m5 0h3m9 0h1m9 0h4m1 0h12m7 0h1m5 0h7m1 0h4m7 0h2M0 7h1m7 0h1m29 0h9m16 0h8m6 0h1m6 0h4m12 0h7"/></pattern><pattern id="p49" y="-.5" width="107" height="8" patternUnits="userSpaceOnUse"><path transform="translate(0 .5)" stroke="#000" d="M0 0h8m1 0h4m3 0h1m1 0h2m35 0h2m18 0h1m23 0h4M13 1h2m9 0h3m2 0h7m8 0h1m5 0h1m22 0h1m4 0h6m10 0h11M31 2h11m18 0h2m9 0h6m5 0h2m6 0h3m13 0h1M5 3h7m16 0h3m6 0h5m22 0h5m21 0h6m1 0h1m8 0h1M0 4h1m19 0h3m3 0h1m10 0h2m1 0h2m18 0h11M1 5h3m7 0h2m25 0h1m15 0h1m4 0h1m5 0h3m7 0h8M3 6h1m6 0h2m40 0h2m46 0h2M12 7h1m16 0h2m9 0h7m1 0h2m34 0h3m1 0h4"/></pattern><pattern id="p50" y="-.5" width="107" height="8" patternUnits="userSpaceOnUse"><path transform="translate(0 .5)" stroke="#f00" d="M2 0h2m20 0h4m7 0h1m9 0h3m3 0h2m4 0h6m10 0h4m6 0h3m1 0h1M10 1h1m26 0h1m13 0h7m11 0h2m5 0h1m6 0h2m14 0h4M3 2h9m3 0h2m5 0h6m16 0h5m14 0h5m7 0h1m3 0h2M2 3h1m2 0h1m2 0h6m14 0h1m16 0h1m1 0h4m1 0h1m7 0h1m27 0h2m2 0h1M9 4h2m1 0h4m13 0h7m23 0h1M2 5h2m4 0h4m1 0h1m1 0h1m31 0h1m11 0h1m15 0h4m8 0h1m3 0h8M8 6h3m50 0h3m19 0h5m1 0h1M1 7h1m8 0h2m20 0h1m12 0h3m3 0h8m21 0h1m7 0h4m11 0h4"/></pattern><pattern id="p51" y="-.5" width="107" height="8" patternUnits="userSpaceOnUse"><path transform="translate(0 .5)" stroke="#fff" d="M1 0h6m10 0h6m4 0h2m7 0h2m17 0h3m6 0h5m10 0h1m6 0h1m1 0h3m7 0h4M1 1h1m3 0h4m5 0h2m2 0h1m5 0h2m10 0h1m6 0h4m20 0h10m29 0h1M3 2h2m2 0h6m3 0h4m3 0h4m13 0h6m3 0h3m19 0h1m1 0h3m20 0h8M1 3h2m11 0h11m6 0h1m2 0h2m2 0h1m1 0h4m3 0h6m5 0h2m7 0h4m8 0h2m4 0h10m1 0h5m2 0h1m1 0h1M2 4h2m19 0h10m1 0h10m7 0h6m10 0h5m14 0h2m3 0h3m2 0h1M6 5h2m2 0h1m4 0h10m1 0h2m7 0h4m9 0h5m3 0h15m21 0h2m1 0h1m4 0h1M1 6h5m26 0h7m1 0h2m10 0h4m13 0h11m3 0h7m9 0h8M0 7h4m8 0h2m21 0h2m9 0h2m1 0h1m7 0h3m12 0h4m2 0h1m4 0h2m4 0h1m2 0h9"/></pattern><pattern id="p52" y="-.5" width="107" height="8" patternUnits="userSpaceOnUse"><path transform="translate(0 .5)" stroke="#f00" d="M14 0h1m5 0h3m5 0h4m36 0h8m4 0h3m8 0h1M2 1h1m2 0h1m2 0h3m3 0h3m3 0h3m53 0h3M20 2h11m1 0h4m7 0h5m13 0h1m37 0h5M2 3h1m20 0h2m39 0h3m3 0h3m30 0h2M1 4h1m64 0h1m7 0h1m2 0h1m10 0h5M10 5h1m20 0h2m18 0h3m7 0h1M10 6h4m2 0h1m52 0h4m5 0h6m3 0h2m13 0h5M1 7h1m37 0h5m8 0h1"/></pattern><pattern id="p53" y="-.5" width="107" height="8" patternUnits="userSpaceOnUse"><path transform="translate(0 .5)" stroke="#007f00" d="M1 0h3m12 0h8m3 0h2m1 0h1m2 0h3m11 0h1m11 0h2m1 0h15m5 0h4M15 1h2m6 0h7m3 0h4m17 0h5m3 0h2m4 0h5m9 0h3M4 2h5m10 0h2m14 0h10m6 0h1m8 0h6m7 0h6M2 3h5m19 0h1m3 0h2m5 0h3m2 0h4m10 0h1m2 0h2m3 0h4m10 0h8m2 0h3m2 0h1m1 0h8M5 4h1m7 0h2m4 0h2m38 0h3m11 0h2m18 0h1m6 0h4M9 5h2m11 0h2m22 0h1m34 0h10M1 6h2m6 0h3m23 0h16m6 0h3m5 0h7m2 0h5m8 0h1M1 7h1m1 0h4m8 0h2m13 0h16m15 0h3m11 0h4m3 0h1m9 0h9"/></pattern><pattern id="p54" y="-.5" width="107" height="8" patternUnits="userSpaceOnUse"><path transform="translate(0 .5)" stroke="#fff" d="M3 0h4m2 0h4m2 0h16m12 0h5m3 0h13m10 0h15m10 0h4m1 0h3M3 1h4m2 0h2m1 0h2m1 0h1m12 0h5m3 0h9m2 0h14m7 0h1m15 0h12m8 0h2M1 2h3m1 0h4m11 0h9m1 0h4m2 0h2m1 0h15m10 0h1m4 0h3m10 0h9M0 3h8m3 0h5m4 0h12m11 0h11m14 0h19m2 0h1m1 0h4m10 0h2M4 4h7m4 0h9m1 0h24m1 0h6m1 0h2m6 0h2m1 0h15m2 0h5m5 0h6m1 0h4M2 5h7m3 0h5m1 0h6m13 0h2m4 0h3m5 0h10m1 0h1m6 0h5m2 0h4m1 0h9m1 0h7M2 6h9m1 0h7m9 0h8m7 0h25m1 0h4m14 0h2m4 0h4m7 0h3M1 7h3m8 0h9m2 0h2m10 0h1m3 0h3m9 0h2m8 0h3m29 0h1m2 0h2m6 0h1m1 0h1"/></pattern><pattern id="p55" y="-.5" width="107" height="8" patternUnits="userSpaceOnUse"><path transform="translate(0 .5)" stroke="#000" d="M0 0h5m5 0h4m1 0h3m12 0h2m2 0h3m20 0h4m2 0h1m2 0h3m6 0h3m2 0h1m5 0h2m5 0h1M0 1h1m7 0h2m1 0h1m9 0h1m11 0h5m2 0h6m1 0h2m1 0h9m1 0h1m7 0h1m2 0h1m2 0h5m12 0h1m11 0h1M5 2h2m8 0h1m3 0h6m3 0h7m1 0h4m6 0h2m4 0h1m24 0h9m2 0h12m4 0h3M7 3h1m2 0h10m12 0h4m1 0h1m2 0h5m2 0h1m1 0h1m1 0h2m3 0h2m2 0h5m1 0h2m7 0h14M2 4h3m9 0h1m2 0h1m1 0h2m2 0h2m1 0h1m4 0h7m15 0h3m3 0h1m11 0h1m5 0h8m2 0h1m11 0h5M3 5h1m5 0h2m2 0h1m1 0h1m4 0h3m1 0h1m3 0h1m2 0h22m6 0h4m1 0h1m1 0h3m5 0h4m11 0h10M2 6h1m1 0h4m2 0h2m15 0h4m8 0h6m5 0h2m1 0h2m5 0h9m3 0h8m1 0h4m11 0h1m3 0h2m4 0h1M1 7h7m1 0h4m3 0h3m2 0h1m5 0h2m2 0h5m1 0h4m9 0h1m6 0h1m6 0h3m2 0h3m14 0h6m7 0h2"/></pattern><pattern id="p56" y="-.5" width="107" height="8" patternUnits="userSpaceOnUse"><path transform="translate(0 .5)" stroke="#f00" d="M0 0h11m10 0h1m2 0h3m10 0h5m1 0h3m3 0h3m4 0h4m21 0h9M0 1h1m1 0h1m33 0h4m17 0h3m8 0h2m1 0h3m14 0h8m5 0h1m1 0h4M5 2h13m2 0h8m16 0h4m4 0h6m14 0h8m3 0h4m9 0h8M1 3h3m2 0h20m26 0h3m41 0h8M8 4h6m4 0h1m32 0h1M8 5h6m26 0h4m20 0h5M1 6h19m25 0h2m14 0h5m37 0h3M0 7h5m15 0h6m18 0h5m1 0h7m15 0h2m16 0h3"/></pattern><pattern id="p57" y="-.5" width="107" height="8" patternUnits="userSpaceOnUse"><path transform="translate(0 .5)" stroke="#fff" d="M5 0h5m8 0h10m19 0h3m7 0h3m10 0h2m8 0h3m2 0h6m3 0h3M24 1h7m69 0h7M17 2h1m1 0h2m8 0h9m1 0h5m25 0h6m9 0h5m4 0h1M1 3h2m2 0h5m6 0h1m11 0h8m5 0h1m1 0h1m7 0h3m7 0h2m2 0h6m4 0h4m16 0h1M18 4h1m7 0h1m20 0h3m5 0h4m10 0h1m4 0h7m4 0h13m2 0h5M0 5h6m34 0h2m6 0h10m8 0h2m14 0h1m6 0h2M0 6h2m21 0h2m5 0h14m4 0h4m5 0h3m3 0h7m18 0h5m1 0h1M2 7h24m42 0h1m6 0h2m6 0h4"/></pattern><pattern id="p58" y="-.5" width="107" height="8" patternUnits="userSpaceOnUse"><path transform="translate(0 .5)" stroke="#fff" d="M2 0h3m17 0h3m20 0h20m22 0h1M62 1h1m7 0h6M2 2h6m4 0h1m13 0h1m18 0h1m19 0h2M62 3h1m6 0h8M5 4h1m49 0h1m50 0h1M5 5h6m9 0h1m26 0h4m3 0h1m29 0h18M22 6h2m48 0h2m27 0h5M4 7h8m43 0h7m3 0h1m38 0h3"/></pattern><pattern id="p59" y="-.5" width="107" height="8" patternUnits="userSpaceOnUse"><path transform="translate(0 .5)" stroke="#007f00" d="M0 0h1m5 0h2m1 0h2m2 0h1m8 0h3m1 0h7m4 0h4m3 0h2m1 0h1m3 0h6m3 0h3m4 0h1m1 0h1m1 0h1m3 0h1m2 0h1m3 0h5m8 0h1m3 0h2m3 0h2M0 1h3m2 0h2m3 0h2m1 0h2m1 0h1m3 0h1m2 0h3m9 0h1m6 0h1m1 0h2m6 0h1m4 0h1m1 0h3m4 0h1m4 0h2m1 0h2m3 0h2m3 0h1m1 0h1m8 0h6m4 0h2M1 2h2m1 0h1m3 0h1m2 0h1m1 0h1m2 0h2m13 0h1m3 0h2m1 0h1m1 0h2m9 0h2m1 0h10m1 0h1m1 0h2m1 0h4m1 0h2m3 0h1m3 0h4m1 0h3m7 0h1m4 0h1M1 3h1m2 0h1m3 0h1m11 0h3m1 0h2m5 0h1m4 0h1m2 0h4m2 0h3m2 0h1m1 0h3m3 0h1m11 0h1m2 0h5m6 0h1m3 0h2m3 0h2m2 0h1m5 0h2M2 4h1m1 0h2m3 0h3m11 0h1m2 0h1m5 0h1m1 0h1m2 0h3m1 0h1m1 0h4m6 0h2m1 0h3m4 0h3m3 0h1m3 0h1m5 0h1m1 0h2m6 0h5m2 0h2m2 0h3m1 0h3M0 5h1m8 0h2m15 0h5m1 0h3m5 0h1m1 0h3m7 0h1m2 0h1m4 0h1m1 0h3m4 0h1m4 0h3m9 0h1m11 0h1m2 0h2m2 0h2M0 6h5m1 0h1m1 0h1m2 0h4m1 0h1m5 0h1m2 0h1m4 0h1m1 0h2m1 0h4m3 0h5m2 0h1m1 0h3m10 0h2m2 0h1m1 0h3m9 0h1m3 0h4m2 0h3m2 0h1m5 0h1M0 7h1m1 0h3m6 0h1m2 0h2m16 0h1m4 0h2m1 0h1m2 0h1m1 0h1m4 0h1m1 0h1m1 0h2m6 0h3m1 0h5m1 0h3m1 0h1m1 0h2m3 0h2m3 0h6m1 0h1m3 0h3"/></pattern><pattern id="p60" y="-.5" width="107" height="8" patternUnits="userSpaceOnUse"><path transform="translate(0 .5)" stroke="#808080" d="M1 0h6m4 0h2m35 0h4m1 0h5m9 0h8m9 0h1m5 0h3m6 0h1m2 0h2m1 0h1M3 1h1m11 0h2m5 0h3m9 0h1m1 0h6m1 0h5m6 0h4m8 0h1m12 0h1m1 0h2m13 0h8m1 0h2M6 2h1m5 0h1m13 0h4m1 0h1m7 0h1m2 0h1m1 0h3m3 0h1m7 0h2m5 0h1m1 0h3m9 0h2m2 0h2m13 0h2m3 0h2M0 3h2m13 0h4m4 0h1m8 0h6m6 0h1m2 0h3m20 0h5m3 0h6m7 0h3m6 0h2m3 0h2M2 4h1m4 0h1m9 0h1m18 0h1m1 0h1m1 0h6m3 0h6m11 0h9m3 0h5M2 5h3m8 0h10m3 0h3m1 0h1m2 0h6m17 0h1m7 0h1m3 0h4m8 0h3m3 0h1m11 0h4M7 6h6m11 0h1m3 0h2m6 0h1m7 0h6m10 0h1m4 0h1m5 0h2m2 0h5m1 0h1m2 0h3m1 0h1m1 0h1m1 0h1M1 7h5m5 0h3m7 0h2m5 0h2m6 0h6m3 0h1m1 0h1m2 0h1m5 0h1m6 0h7m1 0h1m13 0h1m2 0h1m10 0h7"/></pattern><pattern id="p61" y="-.5" width="107" height="8" patternUnits="userSpaceOnUse"><path transform="translate(0 .5)" stroke="#fff" d="M10 0h1m19 0h1m20 0h1m15 0h1m17 0h1M3 1h1m9 0h1m65 0h1m22 0h1M13 2h1m51 0h1M35 3h1m24 0h1M9 4h1m10 0h1m11 0h1m10 0h1m13 0h1M2 5h1m11 0h1m5 0h1m50 0h1M30 6h1m6 0h1m6 0h1m6 0h1m48 0h1M3 7h1m1 0h1m40 0h1m9 0h1m22 0h1"/></pattern><pattern id="p62" y="-.5" width="107" height="8" patternUnits="userSpaceOnUse"><path transform="translate(0 .5)" stroke="#fff" d="M8 0h1m4 0h1m6 0h1m4 0h1m2 0h1m7 0h1m11 0h3m1 0h1m20 0h1m1 0h1m15 0h1m2 0h1m5 0h1M5 1h2m6 0h1m7 0h1m8 0h1m4 0h1m10 0h2m18 0h1m11 0h1m2 0h1m8 0h1m2 0h1M5 2h1m12 0h1m2 0h1m1 0h1m14 0h2m23 0h3m6 0h1m8 0h1m5 0h1m2 0h1m3 0h1m3 0h2M6 3h2m1 0h1m8 0h1m3 0h2m6 0h1m3 0h1m8 0h1m17 0h2m15 0h3m5 0h1m1 0h1m1 0h1m3 0h1m2 0h2m4 0h1M0 4h2m7 0h1m9 0h2m2 0h2m6 0h1m4 0h1m28 0h1m3 0h1m4 0h1m9 0h1m5 0h1m3 0h2m6 0h1m1 0h1M5 5h2m1 0h1m3 0h4m18 0h1m8 0h2m22 0h1m12 0h1m2 0h1m11 0h1m4 0h1m4 0h1M15 6h2m17 0h1m2 0h1m2 0h2m9 0h1m1 0h1m1 0h1m4 0h1m14 0h2m10 0h1m3 0h1m10 0h1M1 7h1m23 0h3m4 0h1m9 0h1m13 0h1m30 0h1m5 0h1m12 0h1"/></pattern><pattern id="p63" y="-.5" width="107" height="8" patternUnits="userSpaceOnUse"><path transform="translate(0 .5)" stroke="#007f00" d="M1 0h3m4 0h8m1 0h10m5 0h4m2 0h1m1 0h2m13 0h2m1 0h8m1 0h11m1 0h1m6 0h2m6 0h2m2 0h4M0 1h2m4 0h2m3 0h4m13 0h1m4 0h2m8 0h5m2 0h1m10 0h6m6 0h1m4 0h3m1 0h1m2 0h2m1 0h2m1 0h1m1 0h1m9 0h1M10 2h3m14 0h3m1 0h5m10 0h2m17 0h1m22 0h5m1 0h2m5 0h1m4 0h1M4 3h4m1 0h5m4 0h2m1 0h2m5 0h1m1 0h10m8 0h4m11 0h3m1 0h1m22 0h4m3 0h4m2 0h4M0 4h3m3 0h5m7 0h2m3 0h4m11 0h5m1 0h1m4 0h2m16 0h1m1 0h3m7 0h5m1 0h7m4 0h2m3 0h6M1 5h2m17 0h4m4 0h5m4 0h1m9 0h1m1 0h5m2 0h6m6 0h3m6 0h4m1 0h10m5 0h3m1 0h6M3 6h2m16 0h1m8 0h5m1 0h4m6 0h3m2 0h5m2 0h1m7 0h2m2 0h1m2 0h5m14 0h1m2 0h1m2 0h3M2 7h5m22 0h2m1 0h5m4 0h5m1 0h1m1 0h2m1 0h5m3 0h1m12 0h1m28 0h2m2 0h1"/></pattern><pattern id="p64" y="-.5" width="107" height="8" patternUnits="userSpaceOnUse"><path transform="translate(0 .5)" stroke="#ff0" d="M8 0h3m28 0h1m12 0h2m46 0h1M11 1h3m14 0h1m23 0h2m10 0h1m1 0h1M1 2h1m3 0h1m31 0h2m23 0h1m20 0h2m7 0h3M16 3h2m4 0h1m39 0h4m20 0h1M104 4h1M11 5h1m11 0h1m14 0h1m2 0h1M9 6h2m33 0h2m12 0h2m14 0h1m24 0h1m4 0h1m1 0h1M10 7h1m1 0h1m87 0h1"/></pattern><pattern id="p65" y="-.5" width="107" height="8" patternUnits="userSpaceOnUse"><path transform="translate(0 .5)" stroke="#ff0" d="M3 0h1m6 0h1m8 0h1m1 0h2m13 0h2m13 0h2m8 0h1m11 0h1m21 0h1m5 0h3M2 1h4m3 0h1m13 0h3m3 0h1m3 0h1m2 0h5m30 0h1m10 0h4m5 0h1M1 2h1m12 0h3m6 0h1m7 0h2m3 0h3m8 0h1m1 0h2m11 0h3m17 0h2m1 0h1M2 3h4m1 0h2m4 0h1m9 0h1m39 0h1m6 0h3m2 0h2m3 0h3m13 0h1M1 4h1m8 0h1m36 0h1m25 0h1m14 0h2m6 0h1m6 0h1M3 5h2m9 0h1m6 0h5m1 0h1m21 0h8m12 0h2m18 0h1m9 0h4m1 0h2M4 6h6m4 0h1m16 0h2m5 0h1m14 0h1m11 0h2m39 0h1M3 7h3m6 0h2m5 0h4m16 0h1m15 0h5m3 0h2m4 0h3m10 0h3m1 0h3"/></pattern><pattern id="p66" y="-.5" width="107" height="8" patternUnits="userSpaceOnUse"><path transform="translate(0 .5)" stroke="#00f" d="M8 0h2m4 0h1m1 0h4m2 0h3m19 0h1m5 0h3m10 0h2m1 0h11m5 0h2m13 0h8M2 1h1m10 0h1m1 0h1m7 0h3m6 0h3m1 0h1m3 0h3m14 0h3m11 0h5m1 0h1m6 0h1m12 0h1m1 0h2M0 2h2m1 0h2m9 0h5m4 0h5m6 0h4m10 0h2m2 0h5m4 0h8m7 0h7m1 0h2m4 0h1M11 3h3m1 0h2m4 0h12m14 0h1m16 0h1m24 0h2m12 0h4M11 4h5m3 0h1m1 0h1m21 0h1m2 0h1m7 0h5m4 0h4m2 0h2m16 0h3m12 0h1m1 0h3M0 5h6m22 0h2m5 0h2m6 0h4m2 0h1m9 0h1m7 0h6m5 0h1m5 0h1M5 6h9m1 0h3m5 0h3m1 0h3m3 0h1m13 0h1m10 0h6m8 0h1m1 0h3m1 0h5m4 0h2m8 0h1m1 0h1M0 7h1m5 0h1m9 0h1m6 0h1m3 0h2m4 0h4m5 0h6m1 0h2m10 0h1m9 0h2m4 0h8m1 0h1m19 0h1"/></pattern><pattern id="p67" y="-.5" width="107" height="8" patternUnits="userSpaceOnUse"><path transform="translate(0 .5)" stroke="#ff0" d="M69 0h1m33 0h1M12 1h1m37 0h3M7 2h1M60 4h1M3 5h1m32 0h1m62 0h1M27 6h2m60 0h1M6 7h1"/></pattern><pattern id="p68" y="-.5" width="107" height="8" patternUnits="userSpaceOnUse"><path transform="translate(0 .5)" stroke="#007f00" d="M9 1h1m18 0h2m49 0h3M14 2h1m56 0h1m25 0h2M95 3h1M41 4h1M54 5h1M2 6h2M9 7h1m45 0h5m30 0h2m5 0h2"/></pattern><pattern id="p69" y="-.5" width="107" height="8" patternUnits="userSpaceOnUse"><path transform="translate(0 .5)" stroke="#007f00" d="M9 0h1m15 0h1m3 0h1m7 0h4m20 0h1m11 0h1m9 0h1m18 0h2M32 1h1m22 0h1m10 0h2m1 0h2m3 0h3m13 0h4m1 0h1M0 2h1m6 0h1m13 0h1m34 0h1m2 0h1m6 0h4m14 0h1M6 3h1m11 0h1m4 0h2m9 0h1m9 0h1M7 4h2m12 0h1m19 0h8m7 0h1m13 0h3m4 0h3m1 0h1m1 0h1m12 0h2m6 0h1M2 5h2m2 0h2m9 0h1m30 0h5m1 0h3m18 0h1m24 0h7M3 6h6m12 0h3m14 0h3m6 0h1m3 0h1m9 0h4m21 0h1m4 0h3M0 7h3m26 0h6m14 0h5m21 0h1"/></pattern><pattern id="p70" y="-.5" width="107" height="8" patternUnits="userSpaceOnUse"><path transform="translate(0 .5)" stroke="#007f00" d="M0 0h3m3 0h4m1 0h1m4 0h1m1 0h4m15 0h4m4 0h1m4 0h1m1 0h4m1 0h3m7 0h1m2 0h2m1 0h1m1 0h2m2 0h5m3 0h1m17 0h2M1 1h1m3 0h1m2 0h5m1 0h1m2 0h1m1 0h1m1 0h1m4 0h3m1 0h3m6 0h1m5 0h2m1 0h1m8 0h2m5 0h1m7 0h1m4 0h1m5 0h3m2 0h2m1 0h2m3 0h2m1 0h1m3 0h4M0 2h2m2 0h1m2 0h1m1 0h2m1 0h2m2 0h2m2 0h1m1 0h3m5 0h1m2 0h2m2 0h3m4 0h1m5 0h6m3 0h2m4 0h3m2 0h4m3 0h3m4 0h2m4 0h1m4 0h1M1 3h6m2 0h2m2 0h2m3 0h1m1 0h1m2 0h1m6 0h1m1 0h3m5 0h2m9 0h1m1 0h1m3 0h2m5 0h2m2 0h1m2 0h1m9 0h2m3 0h4m5 0h1m2 0h1m2 0h6M0 4h2m2 0h2m3 0h1m11 0h1m10 0h2m1 0h1m1 0h4m4 0h1m1 0h5m5 0h1m1 0h2m4 0h4m3 0h2m3 0h2m1 0h4m1 0h1m8 0h5M0 5h1m7 0h1m6 0h2m3 0h2m1 0h1m6 0h1m1 0h3m1 0h1m1 0h3m9 0h3m9 0h2m2 0h5m3 0h2m2 0h1m2 0h3m2 0h2m2 0h1m1 0h1m1 0h3m1 0h1m5 0h1M5 6h1m3 0h2m10 0h3m9 0h2m1 0h3m6 0h1m1 0h2m4 0h5m2 0h4m5 0h3m2 0h1m1 0h3m6 0h2m3 0h3m2 0h4m4 0h4M3 7h1m2 0h1m3 0h1m4 0h1m3 0h2m2 0h5m1 0h1m1 0h5m1 0h5m4 0h2m1 0h1m5 0h2m10 0h1m1 0h6m3 0h1m4 0h3m4 0h4m2 0h9m1 0h1"/></pattern><pattern id="p71" y="-.5" width="107" height="8" patternUnits="userSpaceOnUse"><path transform="translate(0 .5)" stroke="#f00" d="M2 0h1m8 0h4m4 0h1m5 0h7m4 0h1m1 0h1m17 0h7m26 0h2m1 0h1m9 0h3M0 1h4m3 0h2m1 0h11m14 0h1m13 0h1m5 0h2m2 0h1m3 0h1m2 0h1m8 0h7m3 0h2m16 0h4M1 2h1m1 0h1m1 0h5m2 0h1m10 0h1m3 0h3m9 0h4m2 0h8m1 0h4m13 0h2m1 0h2m8 0h3m2 0h1m2 0h3m5 0h7M1 3h3m3 0h1m7 0h5m1 0h2m1 0h1m15 0h1m8 0h3m3 0h1m19 0h3m3 0h1m21 0h2m1 0h1M4 4h1m10 0h3m6 0h6m3 0h1m1 0h2m2 0h1m1 0h4m4 0h3m4 0h4m2 0h1m12 0h1m1 0h1m16 0h1m1 0h2M2 5h3m7 0h3m6 0h2m11 0h11m19 0h1m3 0h1m1 0h8m7 0h3m7 0h1m9 0h2M3 6h1m6 0h2m2 0h2m14 0h3m1 0h2m1 0h1m20 0h3m1 0h11m10 0h2m11 0h4m2 0h4M0 7h2m14 0h5m5 0h5m13 0h2m15 0h1m3 0h1m3 0h4m3 0h1m2 0h2m14 0h1m1 0h1"/></pattern><pattern id="p72" y="-.5" width="107" height="8" patternUnits="userSpaceOnUse"><path transform="translate(0 .5)" stroke="#fff" d="M5 0h1m7 0h1m20 0h1m7 0h1m40 0h1m1 0h1m7 0h1m8 0h1M1 1h1m2 0h1m8 0h1m19 0h1m14 0h1m6 0h1m13 0h1m6 0h1m5 0h1m2 0h1m19 0h1M2 2h1m14 0h1m1 0h1m19 0h1m17 0h1m33 0h1m12 0h1M6 3h1m8 0h1m9 0h1m27 0h1m15 0h1m2 0h1m1 0h1m6 0h1M11 4h1m1 0h1m40 0h1m12 0h1m17 0h1m4 0h1m1 0h1m8 0h1M36 5h1m7 0h1m18 0h1m8 0h1m4 0h1m2 0h1m9 0h1m3 0h1M12 6h1m3 0h1m15 0h1m1 0h1m25 0h1m7 0h1m9 0h1m15 0h1m7 0h1M1 7h1m5 0h1m2 0h1m26 0h1m3 0h1m6 0h1m3 0h1m10 0h1m6 0h1m12 0h1m6 0h1"/></pattern><pattern id="p73" y="-.5" width="107" height="8" patternUnits="userSpaceOnUse"><path transform="translate(0 .5)" stroke="#ff0" d="M32 0h3m6 0h2m27 0h2m18 0h4M30 1h1m22 0h2m9 0h1M0 2h4m7 0h2M4 3h2m57 0h2M2 4h6m22 0h1m11 0h3m27 0h2m14 0h6m3 0h2M16 5h3m10 0h3m27 0h3m21 0h1M2 6h2m13 0h1m20 0h1m1 0h2m14 0h3m32 0h3m10 0h2M1 7h4m15 0h3m82 0h1"/></pattern><pattern id="p74" y="-.5" width="107" height="8" patternUnits="userSpaceOnUse"><path transform="translate(0 .5)" stroke="#fff" d="M3 0h1m11 0h1m2 0h1m3 0h1m2 0h1m3 0h1m1 0h1m2 0h1m4 0h1m3 0h1m1 0h1m1 0h1m1 0h1m2 0h1m1 0h1m6 0h1m9 0h1m15 0h1m3 0h1m1 0h1m2 0h1m1 0h1m1 0h1m1 0h1M0 1h1m2 0h1m2 0h1m1 0h1m3 0h1m9 0h1m3 0h1m2 0h1m5 0h1m6 0h1m4 0h1m1 0h1m5 0h1m9 0h1m2 0h1m3 0h1m2 0h1m2 0h1m2 0h1m7 0h1m2 0h1m8 0h1m4 0h1M5 2h1m2 0h1m4 0h1m2 0h1m9 0h1m13 0h1m8 0h1m14 0h1m1 0h1m1 0h1m8 0h1m2 0h1m10 0h1m13 0h1M0 3h1m1 0h1m2 0h1m9 0h1m6 0h1m2 0h1m2 0h1m2 0h1m4 0h1m3 0h1m3 0h1m8 0h1m2 0h1m5 0h1m9 0h1m1 0h1m1 0h1m13 0h1m2 0h1m1 0h1m2 0h1m6 0h1M0 4h1m3 0h1m7 0h1m10 0h1m6 0h1m1 0h1m8 0h1m1 0h1m1 0h1m5 0h1m5 0h1m5 0h1m3 0h1m1 0h1m2 0h1m8 0h1m2 0h1m5 0h1m1 0h1m1 0h1m1 0h1m4 0h1M3 5h1m6 0h1m1 0h1m11 0h1m4 0h1m7 0h1m9 0h1m4 0h1m8 0h1m1 0h1m9 0h1m4 0h1m5 0h1m5 0h1m5 0h1m2 0h1m1 0h1M1 6h1m3 0h1m2 0h1m3 0h1m1 0h1m15 0h1m5 0h1m3 0h1m5 0h1m1 0h1m7 0h1m9 0h1m1 0h1m5 0h1m5 0h1m4 0h1m2 0h1m1 0h1m3 0h1m4 0h1M5 7h1m6 0h1m1 0h1m14 0h1m1 0h1m5 0h1m3 0h1m1 0h1m3 0h1m1 0h1m7 0h1m2 0h1m3 0h1m8 0h1m1 0h1m1 0h1m2 0h1m7 0h1m3 0h1m7 0h1"/></pattern><pattern id="p75" y="-.5" width="107" height="8" patternUnits="userSpaceOnUse"><path transform="translate(0 .5)" stroke="#fff" d="M11 0h1m23 0h1m19 0h1m24 0h1m17 0h1M0 1h1m52 0h1m17 0h1m12 0h1m10 0h1M6 2h1m12 0h1m30 0h1m32 0h1M1 3h1m2 0h1m10 0h1m7 0h1m57 0h1M0 4h1m33 0h1m15 0h1M26 5h1m3 0h1m8 0h1m19 0h1m11 0h1m9 0h1M1 6h1m21 0h1m46 0h1m25 0h1M36 7h1m11 0h1m19 0h1m15 0h1"/></pattern><pattern id="p76" y="-.5" width="107" height="8" patternUnits="userSpaceOnUse"><path transform="translate(0 .5)" stroke="#f00" d="M6 0h1m5 0h1m2 0h3m6 0h2m26 0h2m11 0h3m3 0h2m29 0h3M7 1h2m13 0h2m8 0h1m1 0h1m5 0h1m1 0h1m13 0h5m2 0h1m15 0h1m11 0h2m4 0h1m3 0h5M2 2h1m17 0h1m7 0h2m6 0h2m3 0h1m1 0h3m2 0h6m5 0h2m6 0h2m1 0h1m20 0h1M1 3h5m13 0h2m11 0h5m10 0h2m14 0h3m3 0h2m24 0h1M0 4h3m17 0h1m7 0h3m2 0h1m2 0h2m2 0h1m3 0h1m3 0h2m3 0h3m5 0h1m1 0h2m10 0h2M6 5h1m25 0h1m1 0h1m5 0h1m5 0h1m18 0h6m8 0h2m2 0h1m4 0h1M10 6h1m10 0h1m6 0h1m8 0h7m7 0h1m9 0h3m11 0h2m13 0h2m3 0h3m7 0h1M0 7h1m1 0h1m11 0h8m10 0h2m2 0h2m7 0h3m5 0h1m22 0h3m2 0h3m19 0h4"/></pattern><pattern id="p77" y="-.5" width="107" height="8" patternUnits="userSpaceOnUse"><path transform="translate(0 .5)" stroke="#007f00" d="M2 0h3m24 0h2m31 0h1m14 0h1M4 1h2m18 0h1m17 0h1m15 0h2m20 0h5m7 0h2M7 2h2m53 0h6m5 0h3m19 0h1M12 3h2m2 0h3m14 0h1m21 0h2m18 0h1m22 0h1M7 4h9m81 0h3m3 0h1M4 5h4m53 0h1m5 0h1m8 0h1m3 0h5m8 0h1M4 6h1m1 0h2m25 0h5m4 0h1m6 0h4m5 0h7m8 0h3M0 7h1m13 0h2m28 0h1m12 0h4m6 0h1m17 0h1m3 0h2m3 0h2"/></pattern><pattern id="p78" y="-.5" width="107" height="8" patternUnits="userSpaceOnUse"><path transform="translate(0 .5)" stroke="#fff" d="M1 0h1m14 0h4m31 0h9m5 0h8m9 0h3m1 0h2M4 1h1m10 0h2m5 0h3m40 0h1m7 0h1M15 2h1m32 0h2m7 0h2m6 0h2m7 0h1m16 0h1M1 3h1m4 0h2m7 0h1m1 0h4m14 0h1m9 0h2m1 0h1m5 0h4m2 0h1m7 0h1m1 0h1m30 0h1m1 0h1M9 4h1m27 0h1m2 0h2m32 0h1m1 0h2m19 0h3M0 5h2m8 0h2m2 0h1m1 0h1m6 0h2m25 0h2m8 0h1m3 0h3m20 0h1M10 6h2m13 0h1m4 0h1m10 0h2m6 0h1m1 0h1m15 0h2m13 0h2m14 0h1M1 7h1m6 0h2m8 0h1m28 0h1m4 0h2m8 0h1m27 0h4m2 0h2m2 0h1"/></pattern><pattern id="p79" y="-.5" width="107" height="8" patternUnits="userSpaceOnUse"><path transform="translate(0 .5)" stroke="#ff0" d="M1 0h1m3 0h1m2 0h1m1 0h3m1 0h4m2 0h3m1 0h1m1 0h3m4 0h2m2 0h1m10 0h1m1 0h3m3 0h2m17 0h3m28 0h1M0 1h2m4 0h2m11 0h4m3 0h1m13 0h1m9 0h2m7 0h2m10 0h2m4 0h1m19 0h1m5 0h1M2 2h2m28 0h1m1 0h2m4 0h1m1 0h4m1 0h1m17 0h1m1 0h2m14 0h4m2 0h4m3 0h1m1 0h4m1 0h2M12 3h1m10 0h1m9 0h1m12 0h1m5 0h1m22 0h2m6 0h1m3 0h1m5 0h3M1 4h2m16 0h1m2 0h4m4 0h2m9 0h2m3 0h2m16 0h2m2 0h3m5 0h3m9 0h1M0 5h1m3 0h4m5 0h3m17 0h7m12 0h4m1 0h2m12 0h2m3 0h7m21 0h1M3 6h2m5 0h1m25 0h2m3 0h2m1 0h2m6 0h5m5 0h3m7 0h1m3 0h1m2 0h1m3 0h3m2 0h2M1 7h1m1 0h6m13 0h1m10 0h2m1 0h1m8 0h1m12 0h1m3 0h1m2 0h1m1 0h1m30 0h1"/></pattern><pattern id="p80" y="-.5" width="107" height="8" patternUnits="userSpaceOnUse"><path transform="translate(0 .5)" stroke="#00f" d="M5 0h5m5 0h7m6 0h6m3 0h2m2 0h10m2 0h1m32 0h11m8 0h2M6 1h1m29 0h2m5 0h4m9 0h1m4 0h6m8 0h1m9 0h4m14 0h3M0 2h3m2 0h1m1 0h5m1 0h4m8 0h9m17 0h4m2 0h4m1 0h2m7 0h1m7 0h2M5 3h13m14 0h3m5 0h7m1 0h4m4 0h1m1 0h2m1 0h5m2 0h3m1 0h5m24 0h6M1 4h3m4 0h3m9 0h6m5 0h5m10 0h2m6 0h8m15 0h4m12 0h2m3 0h5m1 0h3M1 5h6m30 0h7m5 0h1m2 0h5m5 0h1m1 0h2m8 0h1m2 0h2m7 0h1m1 0h4m5 0h4M0 6h1m6 0h4m4 0h3m1 0h6m2 0h4m2 0h2m10 0h1m10 0h2m7 0h1m2 0h1m32 0h1M3 7h4m8 0h2m5 0h3m1 0h5m14 0h1m5 0h3m21 0h2m15 0h3m2 0h1m1 0h1m4 0h3"/></pattern><pattern id="p81" y="-.5" width="107" height="8" patternUnits="userSpaceOnUse"><path transform="translate(0 .5)" stroke="#007f00" d="M13 0h2m2 0h2m3 0h1m12 0h6m1 0h2m11 0h1m2 0h1m4 0h1m3 0h6m1 0h6m6 0h1m2 0h2m1 0h1m9 0h3M1 1h1m3 0h1m22 0h2m4 0h1m4 0h5m3 0h1m4 0h3m1 0h1m22 0h5m10 0h2m3 0h1m6 0h1M1 2h1m1 0h2m5 0h2m1 0h1m2 0h2m2 0h5m2 0h2m2 0h1m5 0h1m2 0h1m1 0h2m5 0h1m4 0h2m10 0h1m5 0h3m3 0h1m5 0h3m1 0h1m2 0h1m6 0h1m5 0h1M13 3h1m1 0h1m2 0h1m14 0h1m1 0h2m1 0h4m4 0h3m4 0h2m3 0h4m7 0h2m3 0h4m4 0h3m2 0h2m1 0h2m1 0h2m6 0h1M1 4h2m1 0h2m3 0h2m1 0h4m3 0h1m17 0h2m4 0h5m1 0h1m6 0h3m3 0h1m1 0h1m1 0h1m5 0h1m3 0h1m7 0h1m1 0h1m1 0h1m3 0h1m2 0h1m1 0h4M0 5h1m4 0h5m2 0h6m7 0h1m5 0h2m12 0h3m4 0h2m14 0h4m3 0h1m1 0h2m1 0h1m2 0h2m5 0h1m7 0h1m1 0h1m4 0h1M3 6h2m2 0h1m1 0h3m2 0h2m3 0h1m3 0h1m4 0h2m4 0h1m3 0h1m1 0h4m7 0h1m7 0h8m1 0h8m5 0h3m8 0h4m3 0h3m1 0h3M4 7h4m1 0h1m1 0h1m1 0h1m5 0h1m1 0h1m2 0h2m4 0h1m4 0h2m8 0h2m3 0h3m5 0h1m2 0h1m1 0h3m5 0h1m2 0h3m1 0h1m6 0h2m2 0h1m2 0h1m6 0h2"/></pattern><pattern id="p82" y="-.5" width="107" height="8" patternUnits="userSpaceOnUse"><path transform="translate(0 .5)" stroke="#00f" d="M7 0h3m1 0h5m6 0h2m2 0h3m15 0h1m4 0h2m8 0h2m6 0h2m7 0h3m1 0h1m5 0h2m4 0h4m4 0h4m1 0h2M4 1h1m21 0h1m1 0h4m1 0h2m2 0h2m26 0h1m8 0h3m19 0h2m5 0h1m2 0h1M14 2h1m7 0h1m4 0h1m1 0h2m5 0h3m9 0h1m3 0h3m1 0h6m10 0h2m1 0h2m2 0h1m6 0h1m3 0h2m5 0h1m4 0h1m2 0h2M4 3h2m3 0h1m3 0h1m9 0h2m2 0h5m11 0h2m2 0h1m30 0h3m12 0h3m2 0h1m3 0h1m2 0h2M0 4h4m4 0h1m9 0h1m8 0h5m1 0h1m5 0h1m1 0h3m8 0h1m7 0h2m13 0h2m19 0h1m7 0h3M3 5h2m19 0h1m13 0h3m23 0h1m7 0h1m11 0h4m17 0h1M0 6h3m3 0h1m17 0h2m7 0h3m2 0h1m7 0h2m3 0h2m1 0h4m2 0h4m4 0h3m10 0h4m1 0h2m1 0h3m5 0h1m1 0h1m1 0h1M0 7h1m8 0h3m4 0h2m15 0h1m31 0h1m7 0h2"/></pattern><pattern id="p83" y="-.5" width="107" height="8" patternUnits="userSpaceOnUse"><path transform="translate(0 .5)" stroke="#ff0" d="M3 0h3m4 0h2m2 0h5m12 0h2m3 0h1m3 0h1m2 0h2m13 0h1m1 0h1m1 0h2m10 0h2m2 0h2m1 0h1m3 0h1m10 0h1m2 0h2m1 0h2m1 0h1M2 1h3m1 0h3m6 0h1m6 0h1m4 0h4m3 0h3m1 0h3m2 0h2m1 0h2m4 0h1m1 0h2m4 0h2m11 0h1m9 0h1m5 0h2m1 0h4m3 0h1m3 0h2M6 2h2m1 0h4m4 0h2m9 0h1m7 0h1m6 0h1m6 0h2m1 0h1m8 0h3m5 0h6m1 0h2m4 0h1m3 0h1m3 0h1m4 0h2M8 3h4m3 0h1m6 0h1m4 0h1m13 0h2m3 0h1m15 0h1m2 0h2m2 0h1m1 0h4m7 0h2m2 0h3m2 0h1m1 0h2m5 0h1m4 0h1M1 4h1m4 0h2m4 0h2m3 0h5m1 0h1m18 0h1m5 0h1m1 0h4m2 0h3m4 0h4m8 0h1m3 0h1m1 0h7m3 0h1m5 0h1m7 0h1M1 5h1m1 0h2m1 0h1m2 0h3m1 0h2m5 0h1m1 0h2m3 0h2m11 0h1m6 0h2m5 0h3m6 0h2m4 0h2m4 0h5m4 0h2m9 0h2m3 0h1m3 0h3M0 6h2m3 0h1m13 0h1m5 0h1m16 0h3m4 0h5m3 0h1m8 0h1m1 0h3m2 0h2m3 0h5m8 0h1m1 0h1m1 0h1m7 0h2M2 7h2m5 0h1m6 0h1m2 0h5m4 0h2m5 0h3m1 0h2m9 0h1m13 0h1m5 0h4m1 0h1m2 0h1m11 0h4m6 0h1m2 0h1m1 0h1"/></pattern><pattern id="p84" y="-.5" width="107" height="8" patternUnits="userSpaceOnUse"><path transform="translate(0 .5)" stroke="#00f" d="M3 0h1m11 0h1m2 0h1m1 0h2m4 0h1m5 0h1m4 0h2m4 0h1m8 0h3m4 0h1m2 0h7m2 0h3m3 0h1m1 0h1m5 0h1m7 0h2m9 0h1M0 1h3m2 0h1m1 0h1m1 0h1m9 0h1m12 0h3m26 0h1m1 0h1m5 0h2m6 0h1m21 0h1m1 0h1M3 2h1m1 0h1m2 0h1m18 0h2m3 0h4m3 0h2m2 0h2m3 0h2m1 0h7m3 0h1m2 0h1m10 0h1m2 0h1m10 0h1m1 0h1M1 3h1m15 0h1m2 0h4m10 0h2m3 0h5m5 0h1m1 0h1m1 0h2m10 0h1m9 0h1m10 0h1m1 0h1m5 0h2m10 0h1M11 4h3m8 0h2m3 0h1m11 0h1m2 0h2m1 0h2m28 0h1m2 0h4m4 0h2m10 0h5M2 5h2m2 0h1m10 0h3m9 0h2m6 0h1m5 0h3m3 0h2m8 0h3m7 0h1m10 0h1m1 0h1m2 0h2m3 0h2m1 0h1m4 0h2m1 0h2m1 0h1M0 6h1m9 0h1m8 0h3m3 0h1m10 0h1m3 0h2m5 0h2m6 0h1m1 0h3m1 0h3m8 0h1m6 0h4m3 0h1m2 0h3m2 0h2m2 0h1M2 7h5m9 0h1m1 0h5m6 0h2m3 0h2m2 0h1m4 0h1m7 0h2m10 0h2m3 0h2m5 0h1m10 0h1m1 0h2m6 0h3m5 0h1"/></pattern><pattern id="p85" y="-.5" width="107" height="8" patternUnits="userSpaceOnUse"><path transform="translate(0 .5)" stroke="#808080" d="M0 0h1m1 0h3m2 0h1m1 0h5m8 0h2m21 0h2m1 0h2m11 0h1m1 0h2m2 0h3m2 0h1m25 0h1M1 1h8m11 0h1m1 0h7m2 0h1m4 0h1m1 0h5m9 0h3m1 0h1m1 0h1m8 0h1m3 0h2m27 0h1M1 2h2m10 0h1m26 0h1m10 0h4m1 0h1m11 0h5m7 0h2m2 0h2m7 0h2m3 0h2M6 3h1m1 0h1m1 0h3m12 0h10m2 0h2m13 0h1m18 0h5m2 0h1m24 0h1m1 0h2M1 4h1m2 0h1m12 0h5m14 0h1m17 0h3m9 0h1m10 0h1m5 0h3m14 0h1m2 0h4M3 5h2m12 0h5m5 0h1m6 0h2m7 0h1m5 0h4m2 0h1m9 0h1m8 0h4m12 0h1M4 6h1m10 0h3m9 0h2m13 0h1m10 0h2m2 0h2m6 0h1m2 0h5m2 0h2m14 0h2m13 0h1M6 7h6m17 0h1m3 0h2m2 0h7m7 0h1m29 0h1m9 0h3m2 0h5"/></pattern><pattern id="p86" y="-.5" width="107" height="8" patternUnits="userSpaceOnUse"><path transform="translate(0 .5)" stroke="#00f" d="M11 0h3m5 0h2m1 0h2m36 0h2m6 0h1m1 0h3m16 0h10m2 0h6M3 1h1m9 0h4m10 0h1m3 0h1m1 0h4m6 0h4m4 0h1m2 0h3m5 0h5m3 0h7m4 0h6m8 0h2m4 0h2m2 0h2M1 2h4m27 0h1m8 0h6m19 0h7m10 0h1m1 0h1m8 0h11M0 3h11m5 0h5m11 0h1m1 0h1m4 0h15m6 0h2m14 0h5m2 0h3m3 0h6m7 0h3M19 4h12m20 0h6m14 0h3m2 0h6m4 0h1m5 0h2m2 0h7M0 5h2m10 0h2m1 0h2m9 0h2m1 0h6m8 0h2m53 0h4m1 0h1M16 6h1m5 0h3m8 0h3m7 0h1m13 0h1m9 0h9M2 7h1m11 0h2m14 0h6m4 0h8m12 0h1m7 0h8m1 0h10m2 0h3m8 0h3"/></pattern><pattern id="p87" y="-.5" width="107" height="8" patternUnits="userSpaceOnUse"><path transform="translate(0 .5)" stroke="#808080" d="M0 0h10m13 0h2m12 0h1m22 0h1m3 0h3m12 0h1m4 0h2m17 0h1M0 1h5m1 0h3m1 0h3m7 0h2m17 0h1m3 0h1m21 0h3m4 0h1m28 0h2m2 0h2M4 2h2m8 0h1m1 0h4m12 0h3m2 0h9m8 0h1m13 0h2m9 0h2m9 0h4m1 0h2M1 3h4m9 0h2m5 0h2m13 0h1m6 0h1m1 0h3m2 0h1m1 0h12m1 0h3m6 0h3m10 0h2m4 0h2m11 0h1M0 4h5m10 0h2m5 0h9m6 0h3m13 0h2m9 0h4m10 0h1m12 0h4m1 0h1M1 5h2m9 0h3m2 0h2m6 0h5m15 0h3m2 0h1m2 0h3m6 0h2M10 6h2m1 0h2m6 0h6m22 0h2m23 0h1m15 0h2M2 7h2m11 0h4m15 0h1m1 0h3m7 0h1m18 0h12m23 0h2m3 0h1"/></pattern><pattern id="p88" y="-.5" width="107" height="8" patternUnits="userSpaceOnUse"><path transform="translate(0 .5)" stroke="#ff0" d="M1 0h1m1 0h4m4 0h5m9 0h2m34 0h3m10 0h1m2 0h3m5 0h5m6 0h1m9 0h1M1 1h6m28 0h2m15 0h2m5 0h6m4 0h2m12 0h1m4 0h14M1 2h1m9 0h1m8 0h1m1 0h1m11 0h5m18 0h1m1 0h3m3 0h5m7 0h5m20 0h1M8 3h2m2 0h2m1 0h1m11 0h1m3 0h1m1 0h5m2 0h2m13 0h7m10 0h4m11 0h3m1 0h2m6 0h2M0 4h1m7 0h11m1 0h3m10 0h10m1 0h5m13 0h2m11 0h1m7 0h5M24 5h5m8 0h1m18 0h2m6 0h2m5 0h1m11 0h1m7 0h1m3 0h4m3 0h3M4 6h1m6 0h6m9 0h2m3 0h3m11 0h1m16 0h1m1 0h1m1 0h4m2 0h6M4 7h1m43 0h5m12 0h5m1 0h4m4 0h9m4 0h3m4 0h2"/></pattern><pattern id="p89" y="-.5" width="107" height="8" patternUnits="userSpaceOnUse"><path transform="translate(0 .5)" stroke="#000" d="M1 0h7m20 0h1m47 0h2M25 1h1M2 2h5m33 0h3m14 0h1M5 3h1m8 0h1m13 0h1m11 0h1m33 0h2m23 0h1M0 4h1m5 0h5m47 0h1M37 5h1m50 0h1M0 6h1m91 0h1M6 7h1m1 0h1"/></pattern><pattern id="p90" y="-.5" width="107" height="8" patternUnits="userSpaceOnUse"><path transform="translate(0 .5)" stroke="#808080" d="M0 0h1m1 0h2m1 0h3m4 0h2m2 0h1m5 0h1m2 0h1m3 0h1m1 0h1m3 0h4m9 0h1m2 0h1m1 0h2m1 0h2m3 0h1m3 0h1m3 0h3m2 0h3m3 0h1m3 0h4m1 0h3m2 0h1m3 0h2m4 0h1M0 1h2m1 0h5m1 0h4m1 0h4m3 0h1m1 0h1m5 0h2m1 0h1m3 0h3m4 0h8m2 0h3m1 0h3m5 0h1m1 0h1m1 0h1m1 0h3m2 0h1m1 0h1m3 0h3m13 0h1m1 0h4M5 2h2m1 0h2m1 0h2m1 0h1m2 0h2m1 0h2m8 0h1m7 0h2m2 0h6m1 0h6m5 0h4m1 0h3m12 0h2m4 0h3m1 0h1m5 0h3m1 0h1m1 0h4M0 3h1m2 0h2m2 0h3m1 0h1m2 0h1m4 0h2m2 0h2m1 0h2m1 0h3m1 0h2m2 0h2m9 0h2m2 0h1m4 0h1m2 0h1m1 0h1m3 0h2m1 0h2m5 0h1m3 0h1m3 0h3m2 0h1m1 0h2m2 0h1m1 0h1m5 0h4M0 4h6m10 0h1m2 0h2m1 0h1m4 0h2m1 0h3m3 0h2m1 0h1m2 0h2m2 0h4m3 0h1m2 0h1m4 0h3m5 0h3m2 0h2m13 0h2m5 0h2m2 0h4M1 5h1m1 0h3m2 0h2m4 0h1m1 0h3m6 0h1m10 0h3m1 0h1m1 0h4m1 0h1m1 0h3m1 0h2m1 0h2m17 0h1m5 0h2m2 0h1m3 0h2m6 0h2m1 0h2m2 0h1m1 0h1M0 6h3m1 0h1m1 0h3m3 0h2m1 0h1m2 0h3m6 0h2m4 0h1m1 0h1m1 0h1m1 0h1m1 0h2m6 0h2m3 0h1m1 0h1m4 0h1m1 0h1m3 0h2m2 0h1m1 0h1m2 0h1m2 0h3m1 0h1m5 0h5m4 0h3m1 0h2m1 0h2M1 7h2m4 0h1m2 0h2m4 0h2m11 0h1m3 0h1m3 0h1m2 0h2m1 0h1m2 0h3m3 0h1m3 0h1m4 0h3m1 0h1m3 0h1m6 0h3m3 0h2m4 0h8m1 0h1m2 0h3"/></pattern><pattern id="p91" y="-.5" width="107" height="8" patternUnits="userSpaceOnUse"><path transform="translate(0 .5)" stroke="#000" d="M16 0h1m22 0h1m4 0h2m29 0h3m16 0h2M33 1h1m58 0h1M1 2h1m21 0h1m5 0h1m36 0h1m2 0h1m2 0h1m5 0h1m11 0h1m1 0h1M1 3h1m21 0h3m20 0h1m2 0h1m46 0h1M5 4h1m31 0h1m48 0h1m1 0h1M3 5h1m10 0h1m11 0h2m2 0h4m16 0h2M17 6h1m1 0h3m8 0h1m2 0h1m6 0h1m10 0h1m15 0h2m8 0h1M3 7h1m74 0h1"/></pattern><pattern id="p92" y="-.5" width="107" height="8" patternUnits="userSpaceOnUse"><path transform="translate(0 .5)" stroke="#f00" d="M0 0h2m2 0h2m20 0h4m3 0h1m4 0h4m3 0h5m9 0h1m14 0h1m6 0h1m1 0h1M1 1h1m2 0h3m12 0h5m13 0h3m18 0h4m1 0h2m9 0h2m10 0h1m6 0h1m6 0h1M3 2h4m10 0h1m5 0h2m13 0h2m9 0h5m15 0h1m1 0h1m1 0h2m6 0h1m1 0h2m8 0h5m4 0h1M1 3h1m7 0h3m6 0h5m1 0h1m25 0h2m7 0h15m7 0h2m11 0h10m1 0h2M1 4h1m13 0h3m4 0h5m3 0h1m23 0h6m3 0h6m5 0h1m1 0h1m8 0h4m11 0h2m2 0h3M6 5h1m3 0h3m4 0h4m1 0h1m2 0h3m4 0h1m3 0h3m11 0h1m3 0h7m5 0h2m3 0h1m3 0h1m10 0h3m1 0h5M1 6h1m16 0h1m8 0h1m5 0h2m13 0h10m6 0h6m2 0h3m11 0h1m3 0h3m2 0h3m6 0h1M0 7h1m6 0h1m5 0h6m4 0h1m2 0h5m5 0h1m4 0h2m10 0h3m2 0h4m4 0h1m30 0h2m3 0h2"/></pattern><pattern id="p93" y="-.5" width="107" height="8" patternUnits="userSpaceOnUse"><path transform="translate(0 .5)" stroke="#007f00" d="M0 0h9m40 0h4m1 0h5m13 0h1m31 0h2M5 1h3m24 0h2m2 0h1m7 0h3m2 0h7m10 0h5m8 0h5m17 0h2M17 2h4m30 0h3m1 0h2m3 0h1M5 3h3m52 0h1m33 0h2M9 4h3m8 0h5m15 0h1m10 0h4m15 0h15M0 5h1m6 0h1m35 0h2m8 0h3m16 0h1m3 0h1m29 0h1M4 6h1m4 0h2m12 0h2m23 0h3m28 0h3M12 7h2m7 0h5m15 0h2m23 0h2m34 0h3"/></pattern><pattern id="p94" y="-.5" width="107" height="8" patternUnits="userSpaceOnUse"><path transform="translate(0 .5)" stroke="#fff" d="M5 0h1m29 0h1m69 0h2M1 1h2m4 0h3m9 0h2m22 0h3m17 0h1m24 0h4M14 2h1m2 0h2m1 0h2m9 0h1m30 0h2m26 0h2m6 0h1M57 3h1m18 0h2M12 4h5m63 0h1m2 0h3m20 0h1M3 5h1m18 0h1m10 0h3m17 0h1m15 0h1M13 6h1m6 0h5m39 0h3m24 0h3M24 7h2m12 0h3m3 0h1m54 0h2m2 0h1"/></pattern><pattern id="p95" y="-.5" width="107" height="8" patternUnits="userSpaceOnUse"><path transform="translate(0 .5)" stroke="#ff0" d="M0 0h1m7 0h1m1 0h4m6 0h1m1 0h1m5 0h1m6 0h1m6 0h2m4 0h1m1 0h6m4 0h2m3 0h1m1 0h4m1 0h2m6 0h1m1 0h2m3 0h1m7 0h3m1 0h2m1 0h2m1 0h2M2 1h2m1 0h1m1 0h5m1 0h1m13 0h2m5 0h6m2 0h1m1 0h1m1 0h1m1 0h1m3 0h2m5 0h2m1 0h1m2 0h2m2 0h2m1 0h3m1 0h4m1 0h1m2 0h1m4 0h3m2 0h2m1 0h1m8 0h1M0 2h2m12 0h4m3 0h9m4 0h1m8 0h1m4 0h1m3 0h1m7 0h2m2 0h4m1 0h1m1 0h1m3 0h2m1 0h1m3 0h1m1 0h3m2 0h1m10 0h1m3 0h3M1 3h5m3 0h1m5 0h1m1 0h1m1 0h2m3 0h4m1 0h1m8 0h1m3 0h1m4 0h2m2 0h1m9 0h2m1 0h1m3 0h1m10 0h1m1 0h1m6 0h1m1 0h4m1 0h1m3 0h7M0 4h1m2 0h1m1 0h3m1 0h1m1 0h1m3 0h1m2 0h1m1 0h1m3 0h2m3 0h5m2 0h4m1 0h1m1 0h2m1 0h2m2 0h1m2 0h1m2 0h1m1 0h2m2 0h3m8 0h1m1 0h3m1 0h5m2 0h1m2 0h2m5 0h2m5 0h3M0 5h3m4 0h1m2 0h1m1 0h3m2 0h3m3 0h1m2 0h2m5 0h5m1 0h4m1 0h1m1 0h2m3 0h1m3 0h1m4 0h1m2 0h2m5 0h1m3 0h2m1 0h7m3 0h1m8 0h2m5 0h1M0 6h2m7 0h1m5 0h1m4 0h1m8 0h1m7 0h3m14 0h2m4 0h2m4 0h3m2 0h2m1 0h1m1 0h1m4 0h8m2 0h3m2 0h4m4 0h1M2 7h2m5 0h1m1 0h3m1 0h2m1 0h2m1 0h1m1 0h3m3 0h10m1 0h1m4 0h1m6 0h1m2 0h1m1 0h2m2 0h1m7 0h1m5 0h2m3 0h2m2 0h7m2 0h1m1 0h3m2 0h3m1 0h3"/></pattern><pattern id="p96" y="-.5" width="107" height="8" patternUnits="userSpaceOnUse"><path transform="translate(0 .5)" stroke="#00f" d="M0 0h2m1 0h1m2 0h3m4 0h3m13 0h1m1 0h2m8 0h3m8 0h1m1 0h2m2 0h2m3 0h1m3 0h1m4 0h6m1 0h5m1 0h2m1 0h1m1 0h2m8 0h4m2 0h1M1 1h1m4 0h2m3 0h2m3 0h3m3 0h1m1 0h2m2 0h2m2 0h1m8 0h3m1 0h2m2 0h1m4 0h2m2 0h1m2 0h2m5 0h2m2 0h1m3 0h11m5 0h2m4 0h3m2 0h4M0 2h2m1 0h2m3 0h1m8 0h2m1 0h1m2 0h1m2 0h5m8 0h1m2 0h1m4 0h1m6 0h1m2 0h3m12 0h4m4 0h1m6 0h1m8 0h2M0 3h2m6 0h1m1 0h8m1 0h1m1 0h1m6 0h3m8 0h4m6 0h3m10 0h1m1 0h1m2 0h2m1 0h2m1 0h1m4 0h3m6 0h1m1 0h1m4 0h1m1 0h1m2 0h4m1 0h3M0 4h1m5 0h1m1 0h2m6 0h3m5 0h2m1 0h1m14 0h5m4 0h1m2 0h3m1 0h1m8 0h1m1 0h2m5 0h3m3 0h3m3 0h1m1 0h4m4 0h7M3 5h1m1 0h3m8 0h1m1 0h1m5 0h2m1 0h2m4 0h1m5 0h1m1 0h1m1 0h2m6 0h1m1 0h1m1 0h2m1 0h3m1 0h1m1 0h3m4 0h2m1 0h2m2 0h1m1 0h1m1 0h2m8 0h1m2 0h1m2 0h2m2 0h2m2 0h1M1 6h1m3 0h7m2 0h2m2 0h2m6 0h1m3 0h2m5 0h1m3 0h2m5 0h8m2 0h1m4 0h1m4 0h1m2 0h1m2 0h1m7 0h1m2 0h1m4 0h1m1 0h3m10 0h2M1 7h2m1 0h1m6 0h3m3 0h5m3 0h2m1 0h5m2 0h2m5 0h2m1 0h1m1 0h1m4 0h2m2 0h3m6 0h2m2 0h1m1 0h2m2 0h1m10 0h1m1 0h1m3 0h1m1 0h2m1 0h1m4 0h2m2 0h1"/></pattern><pattern id="p97" y="-.5" width="107" height="8" patternUnits="userSpaceOnUse"><path transform="translate(0 .5)" stroke="#ff0" d="M6 0h1m5 0h1m24 0h2m1 0h2m31 0h1m14 0h1m3 0h1M5 1h1m13 0h2m33 0h1m9 0h1m31 0h1M16 2h1m20 0h1m2 0h3m14 0h1m5 0h1m20 0h1m11 0h1M4 3h2m5 0h1m12 0h1m45 0h2m3 0h3m16 0h1M5 4h1m22 0h3m4 0h1m4 0h2m16 0h1m24 0h1m2 0h1m10 0h2m2 0h1m1 0h3M3 5h3m13 0h3m9 0h1m7 0h1m1 0h1m27 0h1M8 6h2m14 0h2m2 0h1m2 0h1m11 0h1m6 0h2m10 0h1m1 0h1m4 0h1m3 0h1m21 0h1m3 0h2M7 7h1m20 0h2m18 0h1m10 0h2m4 0h1m8 0h1m5 0h1m19 0h2"/></pattern><pattern id="p98" y="-.5" width="107" height="8" patternUnits="userSpaceOnUse"><path transform="translate(0 .5)" stroke="#808080" d="M5 0h1m1 0h3m5 0h4m26 0h2m3 0h1m31 0h6M6 1h2m31 0h2m38 0h2m2 0h1m21 0h2M1 2h4m31 0h2m5 0h11m31 0h1m1 0h2m2 0h1m12 0h3M1 3h2m36 0h2m10 0h5m5 0h3m10 0h1m6 0h10M1 4h1m20 0h2m5 0h2m27 0h1m5 0h1m1 0h5m5 0h1M0 5h1m3 0h1m2 0h1m18 0h1m45 0h3m12 0h1m6 0h1M5 6h3m9 0h1m44 0h1m10 0h2M12 7h13m9 0h1m4 0h7m7 0h1m14 0h1m3 0h3m18 0h2"/></pattern><pattern id="p99" y="-.5" width="107" height="8" patternUnits="userSpaceOnUse"><path transform="translate(0 .5)" stroke="#fff" d="M2 0h10m1 0h8m6 0h11m1 0h1m2 0h3m1 0h2m1 0h1m1 0h2m6 0h2m5 0h1m1 0h2m3 0h10m10 0h1m4 0h2m1 0h4M0 1h2m1 0h1m4 0h9m7 0h2m7 0h4m2 0h3m9 0h1m4 0h5m5 0h4m24 0h10m2 0h1M0 2h11m2 0h3m3 0h1m5 0h3m3 0h1m4 0h12m4 0h5m3 0h4m1 0h3m1 0h3m5 0h1m1 0h6m1 0h1m1 0h1m3 0h1m2 0h1m6 0h2m2 0h1M1 3h8m1 0h5m5 0h2m2 0h2m1 0h9m2 0h3m4 0h1m3 0h5m4 0h6m2 0h7m16 0h1m6 0h1m3 0h3M2 4h2m3 0h3m4 0h4m2 0h4m1 0h2m22 0h1m6 0h1m3 0h3m6 0h1m1 0h1m2 0h1m3 0h9m2 0h1m1 0h1m14 0h1M2 5h3m3 0h6m1 0h2m2 0h4m1 0h5m1 0h4m7 0h7m12 0h1m6 0h6m12 0h4m1 0h2m2 0h2m6 0h4M0 6h3m3 0h1m1 0h1m1 0h1m1 0h3m2 0h5m2 0h5m1 0h4m12 0h2m4 0h4m2 0h4m2 0h2m7 0h2m3 0h1m3 0h7m1 0h1m7 0h5m1 0h1M0 7h4m5 0h1m2 0h7m1 0h1m2 0h3m4 0h3m2 0h5m3 0h4m8 0h2m4 0h5m1 0h1m8 0h4m2 0h6m12 0h4m1 0h1"/></pattern><pattern id="p100" y="-.5" width="107" height="8" patternUnits="userSpaceOnUse"><path transform="translate(0 .5)" stroke="#f00" d="M1 0h2m20 0h2m2 0h11m7 0h1m1 0h5m15 0h4m29 0h3M0 1h5m5 0h1m1 0h9m4 0h3m8 0h1m3 0h2m5 0h3m7 0h7m1 0h1m6 0h2m17 0h4m3 0h5M6 2h1m6 0h1m3 0h4m3 0h6m13 0h1m2 0h4m3 0h4m7 0h1m1 0h2m12 0h1m3 0h1m2 0h1m3 0h2M6 3h6m6 0h1m4 0h1m37 0h7m5 0h1m3 0h1m2 0h1m12 0h5m3 0h3m1 0h2M3 4h1m7 0h3m1 0h2m25 0h3m7 0h3m2 0h1m15 0h1m2 0h7m10 0h5m4 0h5M2 5h1m11 0h2m8 0h1m6 0h2m2 0h2m9 0h2m14 0h1m22 0h3m4 0h8M7 6h3m13 0h1m8 0h1m13 0h2m1 0h4m36 0h4M4 7h5m4 0h2m1 0h3m8 0h4m20 0h2m21 0h3m5 0h1m13 0h4m6 0h1"/></pattern><pattern id="p101" y="-.5" width="107" height="8" patternUnits="userSpaceOnUse"><path transform="translate(0 .5)" stroke="#000" d="M0 0h8m1 0h2m1 0h3m5 0h2m9 0h4m3 0h4m1 0h3m1 0h8m3 0h11m2 0h4m16 0h2m2 0h1M0 1h1m1 0h9m5 0h2m5 0h3m22 0h3m1 0h1m1 0h1m27 0h1m11 0h12M0 2h9m2 0h2m9 0h3m6 0h9m14 0h1m4 0h4m9 0h2m3 0h1m2 0h2m2 0h1m12 0h3M1 3h2m1 0h2m1 0h1m6 0h1m15 0h1m52 0h1m10 0h4m1 0h1m3 0h1M6 4h6m1 0h3m12 0h7m3 0h9m1 0h6m12 0h3m37 0h1M1 5h4m5 0h6m25 0h14m2 0h5m18 0h3m11 0h3m3 0h1M8 6h2m17 0h1m3 0h8m11 0h6m1 0h3m6 0h7m12 0h1m8 0h3m4 0h1M2 7h2m2 0h4m4 0h10m14 0h11m8 0h13m20 0h3m8 0h1m3 0h1"/></pattern><pattern id="p102" y="-.5" width="107" height="8" patternUnits="userSpaceOnUse"><path transform="translate(0 .5)" stroke="#000" d="M1 0h7m80 0h1M25 1h2m3 0h4m23 0h1m2 0h1m3 0h2m2 0h11m5 0h1m12 0h1m3 0h1M1 2h3m5 0h3m36 0h2m5 0h1m2 0h1m9 0h2m10 0h2m7 0h4m6 0h1M8 3h2m32 0h2m16 0h1m11 0h3m6 0h2M0 4h2m21 0h1m19 0h1m27 0h3m19 0h2M15 5h6m30 0h4m25 0h2m2 0h4m1 0h1M15 6h1m4 0h1m1 0h3m19 0h3m16 0h2m19 0h1m6 0h4m3 0h1m6 0h2M0 7h1m5 0h2m3 0h1m19 0h4m26 0h2m29 0h3m11 0h1"/></pattern><pattern id="p103" y="-.5" width="107" height="8" patternUnits="userSpaceOnUse"><path transform="translate(0 .5)" stroke="#fff" d="M0 0h3m28 0h4m13 0h1m5 0h1m28 0h1m11 0h2m2 0h1M39 1h2m20 0h1m16 0h2m2 0h3m7 0h2M37 2h1M0 3h3m12 0h1m26 0h2m16 0h1m45 0h1M10 4h2m33 0h1m32 0h1m10 0h2m4 0h2M1 5h1m7 0h1m11 0h3m8 0h4m4 0h2m24 0h1M12 7h2m65 0h3m19 0h1"/></pattern><pattern id="p104" y="-.5" width="107" height="8" patternUnits="userSpaceOnUse"><path transform="translate(0 .5)" stroke="#fff" d="M0 0h5m1 0h2m1 0h1m4 0h4m2 0h2m1 0h3m7 0h4m2 0h4m2 0h2m3 0h3m4 0h5m2 0h1m10 0h1m5 0h4m2 0h3m4 0h2m3 0h1m3 0h1M0 1h3m3 0h1m1 0h1m1 0h1m1 0h1m1 0h1m3 0h1m2 0h1m2 0h2m2 0h1m4 0h4m1 0h1m7 0h5m2 0h1m2 0h9m3 0h1m4 0h4m4 0h1m3 0h1m1 0h3m1 0h3m1 0h2m1 0h1m1 0h5M0 2h1m1 0h6m1 0h1m1 0h1m1 0h1m3 0h5m2 0h3m6 0h1m2 0h2m3 0h2m4 0h3m3 0h1m2 0h2m9 0h2m1 0h2m3 0h3m1 0h1m5 0h3m3 0h1m1 0h6m3 0h3M2 3h5m4 0h6m1 0h1m3 0h3m4 0h6m5 0h1m1 0h1m2 0h3m1 0h1m3 0h1m1 0h1m2 0h2m5 0h1m4 0h1m2 0h1m6 0h2m4 0h1m1 0h6m3 0h1m1 0h2m1 0h2M0 4h1m3 0h1m1 0h2m2 0h1m7 0h3m2 0h1m2 0h3m4 0h1m2 0h5m1 0h1m2 0h3m2 0h1m1 0h1m5 0h1m1 0h2m7 0h2m2 0h1m5 0h1m1 0h2m1 0h2m3 0h1m1 0h1m3 0h1m4 0h1m5 0h1M0 5h1m2 0h2m1 0h1m1 0h5m3 0h2m1 0h3m6 0h10m2 0h1m1 0h1m1 0h2m4 0h2m2 0h1m5 0h1m1 0h3m1 0h1m2 0h1m1 0h1m1 0h2m1 0h1m1 0h4m4 0h2m3 0h1m2 0h2m5 0h1m2 0h2M2 6h3m1 0h1m5 0h3m5 0h2m1 0h3m1 0h1m2 0h1m1 0h2m2 0h1m1 0h2m6 0h2m3 0h1m1 0h3m2 0h4m4 0h2m4 0h1m4 0h2m3 0h1m2 0h1m2 0h3m3 0h3m1 0h4m1 0h4M0 7h2m2 0h3m3 0h2m1 0h2m4 0h1m1 0h2m2 0h2m1 0h1m1 0h4m5 0h1m8 0h1m3 0h1m2 0h1m2 0h1m9 0h2m2 0h1m1 0h1m1 0h1m9 0h1m4 0h1m2 0h1m1 0h1m4 0h2m1 0h2"/></pattern><pattern id="p105" y="-.5" width="107" height="8" patternUnits="userSpaceOnUse"><path transform="translate(0 .5)" stroke="#007f00" d="M0 0h5m27 0h2m2 0h1m17 0h1m40 0h3M7 1h4m14 0h1m5 0h2m2 0h15m2 0h3m22 0h1M0 2h1m11 0h2m6 0h2m11 0h1m19 0h2m6 0h2m5 0h1m10 0h3m6 0h1m8 0h1m1 0h1M1 3h2m14 0h1m29 0h9m10 0h3m13 0h1m4 0h3m5 0h3m7 0h2M1 4h1m20 0h8m1 0h9m21 0h3m5 0h3m10 0h13m7 0h5M17 5h8m3 0h4m17 0h3m47 0h3M3 6h1m1 0h5m3 0h2m6 0h4m22 0h6m2 0h7m5 0h7m7 0h2m1 0h3m6 0h2m5 0h3m3 0h1M1 7h2m11 0h3m8 0h4m19 0h2m9 0h2m17 0h8m6 0h1m3 0h1"/></pattern><pattern id="p106" y="-.5" width="107" height="8" patternUnits="userSpaceOnUse"><path transform="translate(0 .5)" stroke="#ff0" d="M2 0h6m7 0h4m11 0h2m1 0h1m2 0h6m8 0h1m5 0h1m9 0h4m4 0h1m8 0h3m1 0h3m2 0h8m4 0h2M0 1h5m4 0h1m7 0h3m6 0h4m4 0h4m23 0h4m16 0h9m1 0h2m1 0h2m1 0h6M3 2h1m8 0h4m15 0h3m7 0h1m11 0h1m5 0h7m5 0h11m12 0h3m4 0h3m2 0h1M7 3h1m6 0h3m11 0h5m7 0h8m6 0h7m15 0h5m6 0h7M2 4h2m12 0h5m6 0h4m3 0h2m11 0h5m1 0h1m16 0h2m19 0h2m1 0h7M2 5h3m8 0h3m2 0h6m2 0h1m10 0h2m1 0h6m2 0h4m25 0h1m16 0h1m5 0h3m2 0h2M6 6h2m1 0h1m9 0h10m16 0h1m2 0h1m2 0h9m2 0h1m2 0h5m7 0h1m3 0h7m7 0h4M3 7h5m11 0h1m2 0h3m4 0h1m10 0h2m1 0h4m4 0h1m1 0h2m21 0h5m2 0h3m19 0h2"/></pattern><pattern id="p107" y="-.5" width="107" height="8" patternUnits="userSpaceOnUse"><path transform="translate(0 .5)" stroke="#ff0" d="M11 0h1m4 0h1m2 0h5m2 0h2m4 0h2m4 0h3m1 0h2m1 0h4m11 0h3m19 0h1m1 0h3m2 0h4m3 0h3m3 0h1m1 0h1M1 1h1m1 0h4m6 0h3m5 0h2m1 0h4m11 0h5m10 0h1m2 0h2m6 0h1m18 0h1m11 0h4m2 0h1M4 2h5m8 0h2m3 0h7m1 0h5m5 0h4m6 0h1m10 0h5m4 0h2m3 0h8m9 0h3m5 0h1m5 0h1M1 3h8m2 0h6m5 0h1m12 0h2m10 0h2m12 0h2m2 0h1m2 0h8m10 0h2m1 0h3m8 0h3M1 4h1m3 0h5m7 0h1m3 0h7m2 0h6m13 0h1m2 0h2m6 0h1m1 0h4m7 0h3m6 0h3m6 0h2m2 0h4M3 5h2m3 0h2m1 0h2m3 0h5m1 0h1m16 0h8m5 0h5m4 0h1m1 0h1m11 0h4m5 0h8m12 0h3M1 6h3m4 0h2m7 0h4m8 0h2m13 0h1m3 0h3m2 0h1m4 0h2m3 0h3m1 0h3m2 0h2m1 0h1m12 0h1m8 0h2m3 0h2M1 7h3m23 0h1m31 0h6m7 0h3m1 0h5m6 0h2m2 0h1m4 0h1"/></pattern><pattern id="p108" y="-.5" width="107" height="8" patternUnits="userSpaceOnUse"><path transform="translate(0 .5)" stroke="#fff" d="M1 0h1m8 0h8m11 0h3m27 0h3m11 0h3m13 0h6m5 0h1m5 0h1M2 1h6m6 0h2m7 0h9m2 0h5m8 0h1m3 0h2m2 0h2m3 0h2m9 0h1m1 0h3m18 0h2M4 2h1m4 0h1m7 0h2m21 0h3m3 0h5m23 0h3m2 0h1m4 0h1m14 0h4M3 3h2m10 0h2m32 0h7m11 0h2m1 0h8m1 0h5M5 4h3m9 0h2m12 0h4m6 0h1m2 0h11m3 0h1m12 0h4m8 0h7m6 0h1m6 0h2M8 5h1m2 0h4m3 0h7m1 0h3m8 0h3m9 0h5m22 0h1m10 0h4m2 0h2m4 0h3M4 6h2m6 0h2m7 0h1m1 0h1m8 0h8m27 0h2m5 0h1m1 0h2m7 0h1m12 0h2m3 0h4M3 7h2m4 0h1m1 0h7m6 0h2m2 0h7m13 0h3m3 0h2m13 0h2m4 0h2m6 0h4m3 0h1m10 0h1m2 0h1"/></pattern><pattern id="p109" y="-.5" width="107" height="8" patternUnits="userSpaceOnUse"><path transform="translate(0 .5)" stroke="#007f00" d="M1 0h1m14 0h6m1 0h1m20 0h3m2 0h2m3 0h3m9 0h2m6 0h2m10 0h7m12 0h1M4 1h1m3 0h2m26 0h7m17 0h5m5 0h2m6 0h2m17 0h1M1 2h4m24 0h3m21 0h7m23 0h4M12 3h2m10 0h2m8 0h2m6 0h2m6 0h2m11 0h6M1 4h5m20 0h2m16 0h4m5 0h1m5 0h1m2 0h1m4 0h6m24 0h5M1 5h1m9 0h6m4 0h14m7 0h2m3 0h1m1 0h6m6 0h3m5 0h4m13 0h2m16 0h2M28 6h4m12 0h2m10 0h5m4 0h1m1 0h2m7 0h2m9 0h1m5 0h1m7 0h6M5 7h3m11 0h4m12 0h2m34 0h3m10 0h1m9 0h1m1 0h3"/></pattern><pattern id="p110" y="-.5" width="107" height="8" patternUnits="userSpaceOnUse"><path transform="translate(0 .5)" stroke="#007f00" d="M0 0h1m3 0h1m21 0h1m5 0h2m11 0h1m12 0h2m8 0h2m3 0h4m1 0h5m6 0h3m10 0h1M1 1h2m3 0h3m5 0h2m3 0h2m4 0h3m16 0h1m5 0h6m5 0h3m13 0h1m7 0h1M0 2h1m6 0h2m18 0h3m9 0h5m6 0h2m13 0h6m13 0h2m5 0h1m2 0h2m2 0h8M8 3h1m8 0h1m2 0h1m5 0h1m4 0h2m2 0h4m2 0h1m6 0h1m1 0h1m1 0h1m2 0h1m4 0h3m14 0h3m1 0h2m7 0h1m4 0h1m9 0h2M3 4h3m2 0h2m3 0h1m1 0h1m1 0h4m8 0h3m2 0h3m10 0h2m11 0h2m4 0h1m3 0h4m8 0h7m7 0h3M4 5h1m4 0h1m13 0h4m3 0h2m6 0h5m9 0h1m6 0h1m2 0h3m11 0h2m3 0h3m5 0h1m1 0h1m4 0h2m1 0h6M2 6h4m3 0h2m6 0h3m3 0h2m3 0h2m5 0h3m1 0h2m1 0h1m5 0h1m3 0h3m6 0h1m4 0h2m1 0h2m7 0h2m1 0h11m14 0h1M3 7h1m13 0h3m11 0h3m9 0h1m9 0h2m10 0h3m1 0h3m8 0h4m2 0h4m10 0h1m5 0h1"/></pattern><pattern id="p111" y="-.5" width="107" height="8" patternUnits="userSpaceOnUse"><path transform="translate(0 .5)" stroke="#fff" d="M1 0h4m18 0h1m2 0h11m8 0h1m8 0h4m10 0h7m16 0h2m5 0h5m2 0h2M4 1h4m1 0h5m1 0h2m15 0h1m9 0h14m6 0h4m2 0h2m16 0h3m8 0h2M2 2h15m4 0h1m1 0h4m5 0h8m8 0h2m1 0h1m3 0h2m2 0h2m1 0h14m25 0h1M6 3h12m9 0h2m6 0h16m2 0h10m3 0h1m3 0h3m4 0h4m8 0h15M12 4h2m2 0h6m4 0h1m20 0h3m1 0h1m1 0h14m5 0h1m3 0h9m3 0h12M7 5h8m1 0h1m1 0h6m1 0h1m17 0h2m4 0h2m11 0h3m15 0h2m8 0h11m2 0h4M6 6h7m4 0h11m2 0h3m3 0h1m10 0h7m18 0h2m1 0h2m4 0h6m7 0h6m5 0h2M11 7h5m9 0h10m4 0h5m9 0h21m4 0h1"/></pattern><pattern id="p112" y="-.5" width="107" height="8" patternUnits="userSpaceOnUse"><path transform="translate(0 .5)" stroke="#fff" d="M51 0h2m14 0h2m36 0h1M7 1h1m41 0h1m6 0h5M57 2h3m38 0h1M4 3h2M26 4h2m29 0h1M15 5h3M33 6h3m9 0h2m30 0h2M31 7h2m72 0h1"/></pattern><pattern id="p113" y="-.5" width="107" height="8" patternUnits="userSpaceOnUse"><path transform="translate(0 .5)" stroke="#ff0" d="M60 0h1M66 1h1m39 0h1M5 2h1m3 0h1M8 3h1m1 0h1m92 0h1M5 4h1m9 0h1M34 5h1M0 6h1m83 0h1"/></pattern><pattern id="p114" y="-.5" width="107" height="8" patternUnits="userSpaceOnUse"><path transform="translate(0 .5)" stroke="#007f00" d="M1 0h5m25 0h7m13 0h5m3 0h7m3 0h2m8 0h11m8 0h5m3 0h1M0 1h2m10 0h2m7 0h1m2 0h2m19 0h11m4 0h3m14 0h5m16 0h1M6 2h4m6 0h2m13 0h1m13 0h1m26 0h2m11 0h1m12 0h7m1 0h1M1 3h8m13 0h5m14 0h2m55 0h7M0 4h1m10 0h5m15 0h4m1 0h1m43 0h6m4 0h10M0 5h6m7 0h5m10 0h3m22 0h3m46 0h1M10 6h2m67 0h2M0 7h13m31 0h1m5 0h8m45 0h4"/></pattern><pattern id="p115" y="-.5" width="107" height="8" patternUnits="userSpaceOnUse"><path transform="translate(0 .5)" stroke="#000" d="M8 0h3m7 0h2m12 0h1m44 0h2m25 0h3M9 1h5m38 0h3M65 2h4m1 0h3M6 3h1m7 0h1m62 0h1m5 0h1M26 4h1m53 0h6m9 0h5M14 5h3M5 6h1m43 0h2M10 7h3m6 0h4m8 0h5m31 0h6m8 0h1"/></pattern><pattern id="p116" y="-.5" width="107" height="8" patternUnits="userSpaceOnUse"><path transform="translate(0 .5)" stroke="#007f00" d="M1 0h1m5 0h2m12 0h1m7 0h7m3 0h6m1 0h10m9 0h1m11 0h2m7 0h6m5 0h1m8 0h1M0 1h3m31 0h4m3 0h3m4 0h4m10 0h1m13 0h2m1 0h5m8 0h2m5 0h1M4 2h1m1 0h2m6 0h5m6 0h2m2 0h1m12 0h1m4 0h2m4 0h1m3 0h3m1 0h1m8 0h1m3 0h1m5 0h2M2 3h2m2 0h3m3 0h3m10 0h1m15 0h1m3 0h1m2 0h3m5 0h4m13 0h1m1 0h4m14 0h3m7 0h1M2 4h1m4 0h3m5 0h1m10 0h2m13 0h7m3 0h2m6 0h4m8 0h2m5 0h6m12 0h2m4 0h1M25 5h1m5 0h1m1 0h6m5 0h1m9 0h5m14 0h6m4 0h3m3 0h1m11 0h4M1 6h1m11 0h1m3 0h1m13 0h2m1 0h1m2 0h2m2 0h2m5 0h2m1 0h3m17 0h1m1 0h1m2 0h1m2 0h2m9 0h1m1 0h1m3 0h1m2 0h2m1 0h2M1 7h1m4 0h3m3 0h3m2 0h1m3 0h1m1 0h1m5 0h2m6 0h2m1 0h1m2 0h2m3 0h3m3 0h2m1 0h1m5 0h1m3 0h3m11 0h1m1 0h1m5 0h1m4 0h1m10 0h1"/></pattern><pattern id="p117" y="-.5" width="107" height="8" patternUnits="userSpaceOnUse"><path transform="translate(0 .5)" stroke="#000" d="M26 0h10m6 0h6m5 0h2m15 0h1m12 0h1m11 0h1m5 0h1M2 1h1m2 0h1m3 0h6m3 0h2m2 0h1m6 0h2m2 0h10m1 0h5m10 0h1m5 0h1m3 0h1m7 0h1m3 0h3m15 0h1M3 2h1m6 0h6m18 0h3m3 0h1m9 0h2m1 0h1m4 0h2m2 0h2m7 0h2m1 0h10m9 0h1m4 0h4M0 3h1m3 0h3m4 0h3m1 0h1m1 0h5m13 0h2m6 0h2m5 0h3m1 0h5m6 0h4m2 0h6m9 0h4m4 0h5M0 4h3m5 0h8m4 0h3m14 0h5m8 0h3m2 0h1m2 0h3m9 0h7m6 0h5m1 0h2m5 0h1m2 0h2M11 5h5m8 0h4m8 0h7m1 0h10m38 0h1m5 0h1M6 6h2m6 0h5m22 0h7m6 0h1m6 0h1m4 0h1m9 0h2m14 0h6M4 7h1m4 0h2m3 0h1m5 0h5m2 0h9m12 0h3m1 0h2m14 0h6m4 0h3m6 0h2m1 0h2m9 0h2"/></pattern><pattern id="p118" y="-.5" width="107" height="8" patternUnits="userSpaceOnUse"><path transform="translate(0 .5)" stroke="#00f" d="M0 0h1m29 0h1m1 0h1m28 0h1m3 0h1m4 0h1m1 0h5m7 0h6m11 0h4M4 1h3m1 0h2m4 0h2m6 0h3m20 0h4m6 0h7m6 0h4m1 0h1m4 0h2m3 0h3m4 0h5m2 0h1m7 0h1M5 2h1m30 0h1m6 0h2m8 0h1m15 0h7m9 0h3m7 0h2m2 0h2m3 0h2M7 3h3m12 0h1m10 0h3m30 0h1m6 0h1m2 0h5m9 0h9M3 4h3m2 0h1m1 0h4m4 0h1m6 0h5m13 0h3m23 0h2m2 0h1m4 0h2M3 5h1m4 0h6m6 0h1m7 0h2m17 0h1m27 0h2M2 6h3m4 0h5m8 0h3m9 0h2m7 0h2m6 0h1m29 0h1m11 0h5m1 0h1m1 0h5M1 7h2m12 0h1m15 0h6m11 0h1m17 0h2m10 0h2m3 0h2m21 0h1"/></pattern><pattern id="p119" y="-.5" width="107" height="8" patternUnits="userSpaceOnUse"><path transform="translate(0 .5)" stroke="#00f" d="M2 0h1m1 0h1M1 1h4m13 0h1m11 0h1m7 0h1m4 0h1m14 0h2m29 0h1M2 2h2m51 0h4m4 0h2M16 3h1M18 4h3m73 0h8M4 5h2m88 0h4M4 6h2m34 0h1m3 0h3m48 0h2M6 7h1m31 0h1m12 0h4m3 0h1m33 0h1"/></pattern><pattern id="p120" y="-.5" width="107" height="8" patternUnits="userSpaceOnUse"><path transform="translate(0 .5)" stroke="#ff0" d="M28 0h3m11 0h2m50 0h5M7 1h1m49 0h4m21 0h1m5 0h4M10 2h1m12 0h8m9 0h2m40 0h6m5 0h1M1 3h1m42 0h1m52 0h1m2 0h1M14 4h3m7 0h1m44 0h2m9 0h1M6 5h1m56 0h2m16 0h1M0 6h2m28 0h1m13 0h1m7 0h2m12 0h1m24 0h1M14 7h3m20 0h2m4 0h1m15 0h5"/></pattern><pattern id="p121" y="-.5" width="107" height="8" patternUnits="userSpaceOnUse"><path transform="translate(0 .5)" stroke="#ff0" d="M2 0h5m18 0h1m14 0h1m19 0h1m30 0h7m1 0h3m4 0h1M18 1h3m2 0h1m57 0h3M4 2h2m76 0h8m12 0h3M3 3h5m12 0h2m4 0h2m2 0h4m20 0h6m10 0h2m22 0h1M9 4h6m30 0h1m4 0h1m8 0h2m40 0h1M4 5h4m6 0h5m14 0h2m3 0h2m2 0h10m3 0h7m2 0h9m25 0h1M0 6h5m10 0h5m33 0h2m1 0h3m11 0h1m5 0h2m1 0h1m7 0h4M8 7h2m9 0h3m42 0h1m9 0h1m7 0h1"/></pattern><pattern id="p122" y="-.5" width="107" height="8" patternUnits="userSpaceOnUse"><path transform="translate(0 .5)" stroke="#007f00" d="M1 0h2m4 0h2m19 0h2m6 0h1m11 0h4m4 0h1m1 0h1m7 0h1m2 0h1m13 0h3m1 0h2m1 0h3m1 0h3m6 0h1m1 0h2M12 1h2m6 0h2m9 0h2m13 0h2m5 0h5m9 0h1m6 0h1m8 0h2m3 0h4m9 0h1m2 0h2M1 2h2m1 0h4m2 0h2m1 0h4m6 0h3m10 0h2m19 0h7m11 0h1m1 0h1m3 0h3m6 0h1m7 0h1m1 0h4M2 3h2m9 0h1m5 0h3m8 0h4m2 0h1m6 0h2m2 0h1m19 0h1m13 0h1m3 0h1m8 0h2m1 0h2M7 4h1m11 0h1m13 0h2m15 0h1m16 0h6m6 0h2m1 0h3m11 0h5M1 5h7m9 0h1m3 0h2m2 0h1m2 0h3m9 0h3m3 0h1m2 0h5m9 0h1m1 0h2m1 0h2m32 0h1M1 6h1m4 0h3m9 0h5m10 0h3m1 0h1m16 0h1m7 0h2m5 0h1m2 0h2m3 0h5m11 0h1M6 7h1m4 0h1m12 0h1m10 0h3m6 0h6m5 0h2m10 0h4m3 0h2"/></pattern><pattern id="p123" y="-.5" width="107" height="8" patternUnits="userSpaceOnUse"><path transform="translate(0 .5)" stroke="#808080" d="M0 0h2m21 0h2m31 0h2m2 0h1m7 0h1m5 0h2M26 1h1m15 0h1m8 0h5m6 0h7m34 0h1M0 2h2m12 0h1m8 0h1m61 0h1m5 0h1m3 0h1M6 3h1m17 0h1m10 0h1m11 0h2m6 0h1m14 0h4m27 0h1m4 0h1M7 4h2m38 0h1m7 0h1m6 0h1m21 0h2M12 5h1m2 0h2m24 0h1m34 0h3m13 0h1m5 0h1m4 0h3M0 6h1m15 0h1m27 0h5m1 0h3m6 0h1m31 0h1M1 7h2m7 0h2m7 0h1m28 0h3m21 0h1m12 0h3m1 0h3"/></pattern><pattern id="p124" y="-.5" width="107" height="8" patternUnits="userSpaceOnUse"><path transform="translate(0 .5)" stroke="#000" d="M14 0h1m7 0h2m8 0h1M87 1h4M10 2h3M3 3h1m36 0h1m54 0h5M23 4h2m40 0h4m26 0h4M12 5h2m7 0h1m50 0h6M2 6h1m24 0h3m32 0h6m25 0h3M23 7h1m40 0h3"/></pattern><pattern id="p125" y="-.5" width="107" height="8" patternUnits="userSpaceOnUse"><path transform="translate(0 .5)" stroke="#fff" d="M6 0h1m11 0h1m45 0h2m7 0h3m26 0h3M6 1h4m12 0h1m34 0h3m5 0h3m2 0h2m13 0h4M24 2h1m23 0h5m13 0h2m6 0h2m7 0h13m4 0h4M5 3h1m47 0h2m2 0h1m8 0h2m16 0h2m17 0h2M6 4h2m82 0h3M4 5h3m32 0h1m1 0h5m56 0h1M21 6h3m19 0h1m3 0h3m10 0h3m8 0h2m1 0h1m12 0h3M1 7h7m33 0h1m1 0h2m4 0h2m7 0h1"/></pattern><pattern id="p126" y="-.5" width="107" height="8" patternUnits="userSpaceOnUse"><path transform="translate(0 .5)" stroke="#808080" d="M1 0h2m1 0h1m9 0h1m7 0h3m7 0h1m2 0h1m4 0h1m2 0h2m9 0h1m1 0h1m3 0h1m3 0h1m9 0h1m4 0h1m2 0h1m1 0h3m4 0h2m2 0h2m1 0h1M1 1h3m9 0h4m3 0h1m2 0h1m1 0h2m3 0h1m2 0h1m1 0h1m7 0h2m2 0h1m11 0h1m2 0h3m3 0h1m4 0h4m1 0h3m1 0h1m11 0h1m2 0h3m4 0h1M6 2h2m4 0h1m3 0h1m5 0h5m1 0h2m1 0h3m2 0h3m5 0h1m1 0h1m4 0h4m2 0h3m5 0h2m5 0h3m4 0h2m8 0h1m3 0h1m2 0h4m5 0h1M1 3h8m3 0h1m3 0h3m4 0h3m1 0h1m6 0h2m3 0h2m11 0h1m5 0h5m3 0h2m1 0h2m6 0h10m1 0h1m1 0h3m4 0h1m8 0h1M2 4h1m5 0h2m1 0h1m3 0h1m4 0h1m1 0h2m2 0h3m5 0h3m5 0h1m2 0h2m3 0h1m1 0h2m6 0h2m1 0h1m1 0h2m4 0h1m1 0h1m1 0h1m4 0h1m2 0h3m6 0h4m2 0h1m4 0h1M1 5h1m1 0h2m2 0h2m9 0h8m9 0h3m1 0h1m4 0h2m2 0h5m2 0h1m1 0h1m5 0h2m5 0h10m1 0h1m2 0h2m1 0h1m6 0h1m2 0h5M1 6h4m1 0h1m1 0h3m1 0h2m26 0h2m2 0h3m1 0h2m2 0h1m1 0h1m8 0h1m4 0h1m2 0h2m6 0h1m2 0h1m13 0h1m2 0h1m5 0h2M1 7h1m7 0h3m3 0h1m2 0h1m2 0h1m4 0h3m6 0h1m4 0h6m2 0h1m6 0h1m1 0h1m10 0h1m2 0h3m2 0h1m2 0h3m10 0h2m2 0h2m2 0h2"/></pattern><pattern id="p127" y="-.5" width="107" height="8" patternUnits="userSpaceOnUse"><path transform="translate(0 .5)" stroke="#007f00" d="M3 0h4m10 0h1m1 0h4m2 0h10m35 0h7m1 0h4M5 1h8m9 0h6m35 0h3m14 0h1M8 2h11m15 0h13m23 0h6m15 0h2m10 0h1M3 3h1m16 0h13m19 0h1m8 0h1m1 0h1m16 0h3m11 0h1M2 4h9m6 0h1m1 0h3m5 0h11m6 0h1m2 0h7m2 0h2m18 0h4M8 5h9m50 0h11m9 0h10m3 0h7M0 6h14m45 0h6m17 0h3m13 0h1M3 7h4m2 0h3m11 0h11m5 0h10m7 0h4m10 0h10m1 0h1m11 0h4m8 0h2"/></pattern><pattern id="p128" y="-.5" width="107" height="8" patternUnits="userSpaceOnUse"><path transform="translate(0 .5)" stroke="#f00" d="M2 0h1m1 0h2m1 0h1m2 0h3m3 0h5m9 0h1m3 0h1m1 0h3m1 0h1m1 0h1m1 0h1m2 0h3m3 0h2m1 0h1m1 0h1m1 0h1m4 0h3m1 0h5m2 0h1m3 0h1m2 0h1m12 0h1m5 0h3M0 1h6m8 0h2m2 0h5m1 0h4m1 0h2m1 0h1m2 0h3m4 0h2m1 0h1m4 0h2m3 0h2m1 0h1m4 0h3m2 0h1m4 0h5m5 0h1m4 0h5m1 0h1m4 0h1m1 0h1m1 0h1m1 0h2M4 2h1m5 0h1m4 0h1m6 0h6m3 0h3m1 0h1m6 0h2m5 0h1m5 0h2m3 0h1m1 0h1m2 0h1m1 0h1m2 0h1m7 0h2m1 0h1m1 0h2m1 0h2m1 0h3m4 0h1m2 0h2m1 0h1M1 3h1m6 0h1m1 0h2m2 0h1m3 0h1m2 0h2m2 0h2m3 0h3m1 0h2m1 0h4m2 0h5m1 0h1m6 0h1m1 0h1m1 0h1m3 0h3m5 0h1m2 0h3m2 0h5m2 0h1m1 0h4m1 0h2m1 0h1m3 0h1m1 0h1m2 0h1M0 4h2m5 0h3m1 0h3m2 0h4m7 0h1m4 0h3m4 0h1m3 0h1m2 0h4m1 0h6m3 0h1m4 0h2m1 0h1m8 0h2m1 0h2m13 0h1m6 0h1m1 0h2M3 5h1m2 0h1m2 0h2m1 0h3m5 0h3m1 0h1m1 0h1m5 0h3m1 0h3m2 0h1m3 0h1m2 0h5m2 0h1m1 0h1m1 0h1m2 0h1m3 0h2m1 0h1m1 0h1m1 0h2m1 0h3m2 0h2m5 0h2m1 0h1m1 0h4m1 0h1m1 0h3m2 0h1M0 6h1m5 0h2m2 0h4m1 0h1m8 0h4m6 0h3m1 0h1m3 0h3m6 0h1m2 0h2m2 0h4m3 0h1m1 0h1m3 0h4m3 0h1m3 0h1m1 0h1m1 0h3m2 0h1m1 0h1m2 0h3M0 7h1m2 0h3m5 0h3m1 0h2m3 0h5m1 0h1m1 0h1m1 0h1m3 0h1m1 0h2m5 0h2m2 0h1m1 0h1m3 0h1m8 0h2m1 0h1m13 0h1m2 0h3m1 0h1m1 0h3m4 0h1m1 0h2m5 0h2"/></pattern><pattern id="p129" y="-.5" width="107" height="8" patternUnits="userSpaceOnUse"><path transform="translate(0 .5)" stroke="#00f" d="M6 0h1m3 0h2m4 0h1m1 0h1m5 0h3m4 0h2m2 0h2m1 0h1m12 0h3m12 0h3m2 0h1m2 0h2m17 0h2M0 1h1m2 0h2m2 0h1m9 0h1m21 0h1m8 0h3m2 0h1m5 0h1m17 0h5m5 0h1m8 0h1m5 0h1M1 2h3m8 0h4m7 0h4m6 0h4m2 0h1m13 0h2m4 0h4m1 0h2m5 0h9m10 0h2m10 0h1m2 0h2M0 3h1m3 0h4m5 0h3m12 0h1m7 0h1m4 0h5m2 0h1m6 0h3m5 0h2m3 0h1m1 0h1m9 0h2m1 0h2m11 0h1m6 0h4M3 4h1m12 0h6m7 0h2m7 0h7m10 0h1m4 0h2m6 0h2m28 0h3m2 0h4M4 5h4m14 0h1m2 0h3m2 0h1m2 0h1m6 0h1m3 0h2m3 0h3m2 0h6m17 0h6m21 0h3M6 6h1m19 0h1m13 0h2m2 0h4m3 0h2m4 0h1m5 0h1m3 0h1m7 0h1m3 0h2m1 0h5m3 0h6m4 0h1m1 0h1m1 0h1M5 7h1m6 0h1m8 0h3m5 0h3m9 0h7m1 0h1m1 0h1m2 0h2m7 0h1m5 0h1m13 0h5m1 0h2m9 0h2m1 0h1"/></pattern><pattern id="p130" y="-.5" width="107" height="8" patternUnits="userSpaceOnUse"><path transform="translate(0 .5)" stroke="#ff0" d="M5 0h3m4 0h4m4 0h5m3 0h1m1 0h1m14 0h1m5 0h1m9 0h1m2 0h6m1 0h1m4 0h1m7 0h2m13 0h1m4 0h3M0 1h3m13 0h1m4 0h2m4 0h5m18 0h5m4 0h1m4 0h2m2 0h5m3 0h1m4 0h1m7 0h2m5 0h1m2 0h3m2 0h1M1 2h5m7 0h1m3 0h1m17 0h6m3 0h1m2 0h1m9 0h1m6 0h1m4 0h5m1 0h1m1 0h6m7 0h2m3 0h1m2 0h6m2 0h1M10 3h1m1 0h4m4 0h7m2 0h2m7 0h2m2 0h3m5 0h5m4 0h5m4 0h1m23 0h3m3 0h2m1 0h1M6 4h3m1 0h3m17 0h1m9 0h5m2 0h1m8 0h4m1 0h1m4 0h1m2 0h2m3 0h2m14 0h3m2 0h6m3 0h3M1 5h2m16 0h3m4 0h3m1 0h2m7 0h2m1 0h1m3 0h1m2 0h4m4 0h1m1 0h8m1 0h3m9 0h6M0 6h7m9 0h2m22 0h2m2 0h1m8 0h3m12 0h1m6 0h1m4 0h5m2 0h1m1 0h2m6 0h3m2 0h2M3 7h6m9 0h3m2 0h8m2 0h1m1 0h3m2 0h2m2 0h4m4 0h4m11 0h6m4 0h2m5 0h1m1 0h4m1 0h1m1 0h7m4 0h1m1 0h1"/></pattern><pattern id="p131" y="-.5" width="107" height="8" patternUnits="userSpaceOnUse"><path transform="translate(0 .5)" stroke="#f00" d="M1 0h8m28 0h5m35 0h4m1 0h6m12 0h7M0 1h2m7 0h5m12 0h2m4 0h3m11 0h4m3 0h10m2 0h2m6 0h4m8 0h11m5 0h1m2 0h3M13 2h2m2 0h1m13 0h3m6 0h2m3 0h12m6 0h1m13 0h1m16 0h3m5 0h2M6 3h2m20 0h2m1 0h1m3 0h10m17 0h3m6 0h3m7 0h4m2 0h2m1 0h3m2 0h3M0 4h6m3 0h1m1 0h1m12 0h10m6 0h11m3 0h1m21 0h6m5 0h2m3 0h1m5 0h2M2 5h4m6 0h1m11 0h8m13 0h11m11 0h2m10 0h1m10 0h5M0 6h1m1 0h1m2 0h4m4 0h3m3 0h2m12 0h1m9 0h2m6 0h9m2 0h2m10 0h3m7 0h1M11 7h6m2 0h3m15 0h3m24 0h4m15 0h1m2 0h2m8 0h6m2 0h1"/></pattern><pattern id="p132" y="-.5" width="107" height="8" patternUnits="userSpaceOnUse"><path transform="translate(0 .5)" stroke="#007f00" d="M0 0h1m8 0h3m9 0h2m7 0h15m1 0h7m9 0h2m12 0h9m1 0h5M0 1h2m10 0h6m2 0h5m11 0h1m14 0h8m15 0h4m5 0h7m7 0h2M13 2h1m4 0h1m14 0h1m1 0h1m8 0h1m2 0h1m15 0h2m1 0h4m1 0h10m2 0h2m1 0h1m1 0h1m3 0h4m3 0h1M14 3h5m4 0h8m8 0h4m13 0h6m1 0h3m5 0h2m2 0h2m7 0h2m16 0h5M2 4h2m29 0h9m3 0h3m20 0h4m19 0h2m2 0h5m4 0h3M3 5h2m3 0h6m9 0h3m7 0h3m1 0h1m11 0h6m3 0h2m9 0h9m3 0h12m2 0h4M1 6h1m2 0h3m2 0h2m5 0h1m22 0h4m3 0h2m4 0h3m4 0h3m11 0h6m3 0h2m7 0h1M2 7h12m1 0h4m16 0h1m3 0h1m1 0h2m15 0h3m9 0h1m7 0h1m2 0h3m6 0h4"/></pattern></defs>
<g transform="translate(65.4 1664.60) scale(1 1.6045)">
<path fill="#00f" d="M0 1.5h225v1h-225zM0 2.5h225v2h-225zM225 2.5h96v2h-96zM0 4.5h321v7h-321zM0 79.5h321v5h-321zM0 121.5h321v1h-321zM0 122.5h321v5h-321zM0 189.5h321v5h-321zM0 245.5h321v5h-321zM0 254.5h321v1h-321zM0 255.5h321v5h-321zM151 269.5h32v1h-32zM0 270.5h183v2h-183zM0 272.5h183v1h-183zM0 273.5h321v9h-321zM0 285.5h321v1h-321zM0 286.5h321v9h-321zM0 356.5h160v1h-160zM160 356.5h161v1h-161zM0 357.5h39v4h-39zM109 357.5h212v4h-212zM0 379.5h321v7h-321zM0 392.5h321v5h-321zM0 397.5h177v1h-177zM177 397.5h144v1h-144z"/>
<path fill="#f00" d="M0 12.5h321v12h-321zM0 24.5h321v2h-321zM0 40.5h321v15h-321zM0 55.5h321v1h-321zM0 60.5h321v5h-321zM0 77.5h321v1h-321zM0 91.5h321v5h-321zM0 104.5h321v1h-321zM0 139.5h321v8h-321zM0 149.5h321v6h-321zM0 155.5h321v6h-321zM0 165.5h321v1h-321zM0 166.5h321v4h-321zM0 170.5h321v1h-321zM0 203.5h257v1h-257zM0 204.5h321v4h-321zM0 218.5h321v7h-321zM0 225.5h321v2h-321zM0 236.5h321v1h-321zM0 252.5h321v1h-321zM0 260.5h321v5h-321zM0 296.5h321v5h-321zM0 310.5h321v4h-321zM0 316.5h321v7h-321zM0 329.5h96v5h-96zM96 329.5h113v5h-113zM209 329.5h112v5h-112zM0 338.5h321v4h-321zM0 342.5h321v6h-321zM0 348.5h321v4h-321zM0 363.5h321v13h-321zM0 376.5h321v1h-321z"/>
<path fill="#007f00" d="M144 26.5h177v1h-177zM0 28.5h321v1h-321zM177 30.5h144v1h-144zM0 35.5h321v1h-321zM0 37.5h321v1h-321zM0 67.5h321v1h-321zM0 76.5h321v1h-321zM0 107.5h321v2h-321zM0 176.5h321v2h-321zM0 181.5h321v1h-321zM282 185.5h39v1h-39zM0 194.5h321v3h-321zM0 197.5h321v1h-321zM0 200.5h321v1h-321zM257 201.5h64v1h-64zM154 202.5h13v1h-13zM257 202.5h64v1h-64zM257 203.5h64v1h-64zM177 211.5h144v3h-144zM42 227.5h279v1h-279zM0 230.5h321v1h-321zM151 231.5h170v4h-170zM151 235.5h170v1h-170zM0 242.5h321v3h-321zM0 265.5h321v1h-321zM183 269.5h138v1h-138zM183 270.5h138v2h-138zM0 305.5h321v2h-321zM6 323.5h138v1h-138zM144 323.5h177v1h-177zM6 324.5h315v3h-315zM0 335.5h167v1h-167zM0 355.5h321v1h-321zM0 362.5h321v1h-321zM0 391.5h321v1h-321z"/>
<path fill="#ff0" d="M0 30.5h13v1h-13zM13 30.5h164v1h-164zM0 31.5h13v4h-13zM13 31.5h164v4h-164zM0 56.5h321v4h-321zM0 68.5h321v3h-321zM0 78.5h321v1h-321zM0 85.5h321v2h-321zM0 87.5h321v4h-321zM0 97.5h321v1h-321zM0 98.5h321v1h-321zM0 99.5h321v5h-321zM0 110.5h321v2h-321zM0 112.5h186v2h-186zM186 112.5h113v2h-113zM299 112.5h22v2h-22zM0 114.5h321v4h-321zM0 128.5h321v3h-321zM0 147.5h321v2h-321zM0 162.5h321v3h-321zM0 172.5h321v2h-321zM0 182.5h321v1h-321zM0 201.5h257v1h-257zM0 202.5h154v1h-154zM167 202.5h90v1h-90zM0 208.5h321v1h-321zM0 211.5h177v3h-177zM0 214.5h183v2h-183zM0 216.5h183v1h-183zM0 227.5h42v1h-42zM0 228.5h42v1h-42zM0 231.5h151v4h-151zM0 268.5h151v1h-151zM0 269.5h151v1h-151zM0 302.5h321v1h-321zM0 303.5h321v1h-321zM0 307.5h321v3h-321zM0 323.5h6v1h-6zM0 324.5h6v3h-6zM39 357.5h70v4h-70zM0 378.5h321v1h-321zM0 386.5h321v1h-321zM0 387.5h321v3h-321z"/>
<path fill="#808080" d="M177 31.5h144v4h-144zM0 133.5h321v4h-321z"/>
<path fill="#000" d="M0 180.5h321v1h-321zM0 184.5h321v1h-321zM0 199.5h321v1h-321zM167 335.5h154v1h-154zM167 337.5h154v1h-154z"/>
<path fill="url(#p1)" d="M0 1.5h225v1h-225zM225 1.5h96v1h-96zM0 84.5h321v1h-321zM0 208.5h321v1h-321zM0 209.5h321v2h-321zM42 228.5h279v1h-279zM183 268.5h138v1h-138zM0 269.5h151v1h-151zM0 397.5h177v1h-177z"/>
<path fill="url(#p2)" d="M0 1.5h225v1h-225zM0 77.5h321v1h-321zM0 118.5h321v1h-321zM0 165.5h321v1h-321zM0 181.5h321v1h-321zM0 397.5h177v1h-177z"/>
<path fill="url(#p3)" d="M0 1.5h225v1h-225zM225 2.5h96v2h-96zM0 35.5h321v1h-321zM0 182.5h321v1h-321zM42 227.5h279v1h-279zM0 268.5h151v1h-151zM0 362.5h321v1h-321z"/>
<path fill="url(#p4)" d="M225 1.5h96v1h-96zM225 2.5h96v2h-96zM0 235.5h151v1h-151zM0 254.5h321v1h-321zM151 268.5h32v1h-32zM151 269.5h32v1h-32z"/>
<path fill="url(#p5)" d="M225 2.5h96v2h-96zM0 29.5h321v1h-321zM0 36.5h321v1h-321zM0 180.5h321v1h-321zM183 216.5h138v1h-138zM0 235.5h151v1h-151zM0 361.5h321v1h-321z"/>
<path fill="url(#p6)" d="M0 12.5h321v12h-321z"/>
<path fill="url(#p7)" d="M0 24.5h321v2h-321zM0 329.5h96v5h-96z"/>
<path fill="url(#p8)" d="M0 26.5h144v1h-144zM0 175.5h321v1h-321z"/>
<path fill="url(#p9)" d="M144 26.5h177v1h-177zM0 87.5h321v4h-321zM0 97.5h321v1h-321zM0 128.5h321v3h-321zM0 172.5h321v2h-321zM144 323.5h177v1h-177z"/>
<path fill="url(#p10)" d="M0 28.5h321v1h-321zM177 30.5h144v1h-144zM0 76.5h321v1h-321zM0 78.5h321v1h-321zM0 85.5h321v2h-321zM0 165.5h321v1h-321zM0 199.5h321v1h-321zM0 200.5h321v1h-321zM0 208.5h321v1h-321zM0 216.5h183v1h-183zM0 228.5h42v1h-42zM183 269.5h138v1h-138zM6 323.5h138v1h-138z"/>
<path fill="url(#p11)" d="M13 30.5h164v1h-164zM0 75.5h321v1h-321zM0 97.5h321v1h-321zM0 127.5h321v1h-321z"/>
<path fill="url(#p12)" d="M13 31.5h164v4h-164zM0 118.5h321v1h-321zM0 199.5h321v1h-321zM0 237.5h321v1h-321zM0 282.5h321v1h-321z"/>
<path fill="url(#p13)" d="M13 31.5h164v4h-164z"/>
<path fill="url(#p14)" d="M13 31.5h164v4h-164zM0 133.5h321v4h-321z"/>
<path fill="url(#p15)" d="M177 31.5h144v4h-144z"/>
<path fill="url(#p16)" d="M177 31.5h144v4h-144zM0 231.5h151v4h-151z"/>
<path fill="url(#p17)" d="M177 31.5h144v4h-144zM0 121.5h321v1h-321zM151 231.5h170v4h-170z"/>
<path fill="url(#p18)" d="M0 35.5h321v1h-321zM0 181.5h321v1h-321zM42 337.5h125v1h-125z"/>
<path fill="url(#p19)" d="M0 37.5h321v1h-321zM0 183.5h321v1h-321z"/>
<path fill="url(#p20)" d="M0 37.5h321v1h-321zM0 180.5h321v1h-321z"/>
<path fill="url(#p21)" d="M0 40.5h321v15h-321zM0 296.5h321v5h-321z"/>
<path fill="url(#p22)" d="M0 55.5h321v1h-321zM0 75.5h321v1h-321zM0 76.5h321v1h-321z"/>
<path fill="url(#p23)" d="M0 55.5h321v1h-321zM0 85.5h321v2h-321zM0 254.5h321v1h-321zM0 352.5h321v1h-321zM0 390.5h321v1h-321z"/>
<path fill="url(#p24)" d="M0 67.5h321v1h-321zM0 209.5h321v2h-321zM0 253.5h321v1h-321zM0 390.5h321v1h-321z"/>
<path fill="url(#p25)" d="M0 67.5h321v1h-321zM0 211.5h177v3h-177zM177 211.5h144v3h-144zM0 242.5h321v3h-321zM0 378.5h321v1h-321z"/>
<path fill="url(#p26)" d="M0 75.5h321v1h-321zM0 76.5h321v1h-321zM0 253.5h321v1h-321z"/>
<path fill="url(#p27)" d="M0 84.5h321v1h-321z"/>
<path fill="url(#p28)" d="M0 87.5h321v4h-321z"/>
<path fill="url(#p29)" d="M0 87.5h321v4h-321z"/>
<path fill="url(#p30)" d="M0 98.5h321v1h-321zM0 109.5h321v1h-321zM0 128.5h321v3h-321zM0 240.5h321v1h-321zM0 377.5h321v1h-321zM0 386.5h321v1h-321z"/>
<path fill="url(#p31)" d="M0 104.5h321v1h-321z"/>
<path fill="url(#p32)" d="M0 105.5h321v1h-321z"/>
<path fill="url(#p33)" d="M0 107.5h321v2h-321zM167 335.5h154v1h-154z"/>
<path fill="url(#p34)" d="M186 112.5h113v2h-113z"/>
<path fill="url(#p35)" d="M186 112.5h113v2h-113z"/>
<path fill="url(#p36)" d="M0 121.5h321v1h-321zM0 236.5h321v1h-321zM0 310.5h321v4h-321zM0 335.5h167v1h-167zM0 387.5h321v3h-321z"/>
<path fill="url(#p37)" d="M0 127.5h321v1h-321zM177 211.5h144v3h-144zM183 269.5h138v1h-138zM183 272.5h138v1h-138zM0 377.5h321v1h-321z"/>
<path fill="url(#p38)" d="M0 133.5h321v4h-321z"/>
<path fill="url(#p39)" d="M0 147.5h321v2h-321z"/>
<path fill="url(#p40)" d="M0 149.5h321v6h-321z"/>
<path fill="url(#p41)" d="M0 155.5h321v6h-321z"/>
<path fill="url(#p42)" d="M0 161.5h321v1h-321zM0 301.5h321v1h-321z"/>
<path fill="url(#p43)" d="M0 162.5h321v3h-321zM0 376.5h321v1h-321z"/>
<path fill="url(#p44)" d="M0 162.5h321v3h-321z"/>
<path fill="url(#p45)" d="M0 166.5h321v4h-321z"/>
<path fill="url(#p46)" d="M0 170.5h321v1h-321zM151 231.5h170v4h-170zM151 235.5h170v1h-170zM183 270.5h138v2h-138zM0 303.5h321v1h-321zM167 337.5h154v1h-154z"/>
<path fill="url(#p47)" d="M0 172.5h321v2h-321z"/>
<path fill="url(#p48)" d="M0 182.5h321v1h-321zM0 251.5h321v1h-321z"/>
<path fill="url(#p49)" d="M0 182.5h321v1h-321z"/>
<path fill="url(#p50)" d="M0 183.5h321v1h-321zM0 237.5h321v1h-321z"/>
<path fill="url(#p51)" d="M0 184.5h321v1h-321zM0 230.5h321v1h-321z"/>
<path fill="url(#p52)" d="M0 184.5h321v1h-321z"/>
<path fill="url(#p53)" d="M0 185.5h282v1h-282zM183 214.5h138v2h-138z"/>
<path fill="url(#p54)" d="M0 197.5h321v1h-321z"/>
<path fill="url(#p55)" d="M0 200.5h321v1h-321z"/>
<path fill="url(#p56)" d="M0 202.5h154v1h-154zM167 202.5h90v1h-90z"/>
<path fill="url(#p57)" d="M0 203.5h257v1h-257z"/>
<path fill="url(#p58)" d="M0 204.5h321v4h-321z"/>
<path fill="url(#p59)" d="M0 211.5h177v3h-177zM0 376.5h321v1h-321z"/>
<path fill="url(#p60)" d="M177 211.5h144v3h-144z"/>
<path fill="url(#p61)" d="M0 218.5h321v7h-321zM0 260.5h321v5h-321zM0 316.5h321v7h-321zM0 338.5h321v4h-321zM0 363.5h321v13h-321z"/>
<path fill="url(#p62)" d="M0 225.5h321v2h-321z"/>
<path fill="url(#p63)" d="M0 231.5h151v4h-151z"/>
<path fill="url(#p64)" d="M0 270.5h183v2h-183z"/>
<path fill="url(#p65)" d="M183 270.5h138v2h-138z"/>
<path fill="url(#p66)" d="M183 272.5h138v1h-138z"/>
<path fill="url(#p67)" d="M0 285.5h321v1h-321zM109 357.5h212v4h-212z"/>
<path fill="url(#p68)" d="M0 285.5h321v1h-321z"/>
<path fill="url(#p69)" d="M0 302.5h321v1h-321z"/>
<path fill="url(#p70)" d="M0 307.5h321v3h-321z"/>
<path fill="url(#p71)" d="M0 314.5h321v2h-321z"/>
<path fill="url(#p72)" d="M96 329.5h113v5h-113zM209 329.5h112v5h-112z"/>
<path fill="url(#p73)" d="M209 329.5h112v5h-112z"/>
<path fill="url(#p74)" d="M0 342.5h321v6h-321z"/>
<path fill="url(#p75)" d="M0 348.5h321v4h-321z"/>
<path fill="url(#p76)" d="M0 352.5h321v1h-321z"/>
<path fill="url(#p77)" d="M0 353.5h321v2h-321z"/>
<path fill="url(#p78)" d="M0 355.5h321v1h-321z"/>
<path fill="url(#p79)" d="M160 356.5h161v1h-161z"/>
<path fill="url(#p80)" d="M0 361.5h321v1h-321z"/>
<path fill="url(#p81)" d="M0 378.5h321v1h-321z"/>
<path fill="url(#p82)" d="M0 386.5h321v1h-321zM0 391.5h321v1h-321z"/>
<path fill="url(#p83)" d="M0 391.5h321v1h-321z"/>
<path stroke="#00f" stroke-width="3" d="M0 70h3M4 70h1M17 70h1M18 70h1M22 70h1M25 70h3M29 70h4M37 70h7M53 70h5M62 70h2M66 70h2M71 70h6M80 70h4M95 70h1M98 70h3M102 70h8M112 70h1M117 70h1M120 70h1M121 70h1M124 70h3M129 70h8M139 70h1M141 70h1M143 70h1M145 70h8M154 70h3M158 70h1M159 70h3M164 70h2M169 70h1M171 70h3M180 70h1M191 70h2M193 70h1M195 70h4M202 70h11M214 70h1M218 70h2M224 70h1M228 70h1M239 70h1M241 70h3M245 70h5M253 70h7M264 70h3M267 70h6M275 70h3M279 70h5M286 70h5M301 70h1M306 70h2M314 70h3M318 70h1"/>
<path stroke="#00f" stroke-width="4" d="M39 359.5h2M43 359.5h1M45 359.5h1M52 359.5h2M57 359.5h2M61 359.5h1M65 359.5h1M67 359.5h1M69 359.5h4M74 359.5h1M77 359.5h3M80 359.5h1M85 359.5h1M87 359.5h4M92 359.5h2M96 359.5h1M98 359.5h1"/>
<path stroke="#ff0" stroke-width="5" d="M1 82h4M9 82h4M26 82h1M28 82h5M48 82h1M59 82h1M64 82h1M102 82h2M106 82h1M110 82h6M161 82h2M165 82h1M179 82h1M184 82h1M233 82h3M284 82h1M293 82h5M307 82h1M1 192h3M5 192h1M10 192h1M22 192h1M58 192h1M78 192h1M135 192h1M137 192h3M167 192h2M178 192h3M194 192h2M197 192h1M206 192h2M234 192h1M248 192h1M253 192h1M255 192h1M273 192h1M3 248h2M30 248h4M36 248h1M46 248h1M50 248h1M59 248h1M105 248h1M107 248h1M116 248h1M142 248h2M162 248h3M172 248h1M189 248h1M228 248h1M248 248h2M265 248h1M271 248h3M293 248h2M1 395h2M137 395h1M178 395h2M195 395h1"/>
<path stroke="#fff" stroke-width="5" d="M1 82h4M36 82h1M102 82h1M161 82h1M192 82h2M233 82h1M241 82h1M6 192h1M42 192h1M51 192h1M104 192h1M107 192h1M147 192h2M151 192h2M210 192h1M264 192h1M310 192h3M319 192h1M25 248h1M32 248h1M77 248h1M89 248h1M99 248h1M139 248h1M162 248h1M175 248h1M189 248h1M201 248h1M205 248h1M68 395h1M114 395h1M158 395h1M189 395h1M191 395h1M225 395h1M290 395h1"/>
<path stroke="#fff" stroke-width="4" d="M39 359.5h1M54 359.5h2M70 359.5h5M90 359.5h1M96 359.5h1M106 359.5h2"/>
</g>
<path stroke="#000" stroke-width="1.2" d="M64.8 2307V1663.6H387V2307"/>
<rect x="64.8" y="2306.8" width="322.2" height="6.4" fill="#000"/>
<rect x="60" y="2315" width="333.5" height="7" fill="#000"/>
<path stroke="#000" stroke-width="1" d="M64.8 2304.5h-3.3M64.8 2301.5h-3.3M64.8 2298.5h-3.3M64.8 2295.5h-3.3M64.8 2291.5h-3.3M64.8 2288.5h-3.3M64.8 2285.5h-3.3M64.8 2282.5h-3.3M64.8 2279.5h-3.3M64.8 2275.5h-6.2M64.8 2272.5h-3.3M64.8 2269.5h-3.3M64.8 2266.5h-3.3M64.8 2263.5h-3.3M64.8 2259.5h-3.3M64.8 2256.5h-3.3M64.8 2253.5h-3.3M64.8 2250.5h-3.3M64.8 2247.5h-3.3M64.8 2243.5h-6.2M64.8 2240.5h-3.3M64.8 2237.5h-3.3M64.8 2234.5h-3.3M64.8 2230.5h-3.3M64.8 2227.5h-3.3M64.8 2224.5h-3.3M64.8 2221.5h-3.3M64.8 2218.5h-3.3M64.8 2214.5h-3.3M64.8 2211.5h-6.2M64.8 2208.5h-3.3M64.8 2205.5h-3.3M64.8 2202.5h-3.3M64.8 2198.5h-3.3M64.8 2195.5h-3.3M64.8 2192.5h-3.3M64.8 2189.5h-3.3M64.8 2186.5h-3.3M64.8 2182.5h-3.3M64.8 2179.5h-6.2M64.8 2176.5h-3.3M64.8 2173.5h-3.3M64.8 2170.5h-3.3M64.8 2166.5h-3.3M64.8 2163.5h-3.3M64.8 2160.5h-3.3M64.8 2157.5h-3.3M64.8 2153.5h-3.3M64.8 2150.5h-3.3M64.8 2147.5h-6.2M64.8 2144.5h-3.3M64.8 2141.5h-3.3M64.8 2137.5h-3.3M64.8 2134.5h-3.3M64.8 2131.5h-3.3M64.8 2128.5h-3.3M64.8 2125.5h-3.3M64.8 2121.5h-3.3M64.8 2118.5h-3.3M64.8 2115.5h-6.2M64.8 2112.5h-3.3M64.8 2109.5h-3.3M64.8 2105.5h-3.3M64.8 2102.5h-3.3M64.8 2099.5h-3.3M64.8 2096.5h-3.3M64.8 2092.5h-3.3M64.8 2089.5h-3.3M64.8 2086.5h-3.3M64.8 2083.5h-6.2M64.8 2080.5h-3.3M64.8 2076.5h-3.3M64.8 2073.5h-3.3M64.8 2070.5h-3.3M64.8 2067.5h-3.3M64.8 2064.5h-3.3M64.8 2060.5h-3.3M64.8 2057.5h-3.3M64.8 2054.5h-3.3M64.8 2051.5h-6.2M64.8 2048.5h-3.3M64.8 2044.5h-3.3M64.8 2041.5h-3.3M64.8 2038.5h-3.3M64.8 2035.5h-3.3M64.8 2032.5h-3.3M64.8 2028.5h-3.3M64.8 2025.5h-3.3M64.8 2022.5h-3.3M64.8 2019.5h-6.2M64.8 2015.5h-3.3M64.8 2012.5h-3.3M64.8 2009.5h-3.3M64.8 2006.5h-3.3M64.8 2003.5h-3.3M64.8 1999.5h-3.3M64.8 1996.5h-3.3M64.8 1993.5h-3.3M64.8 1990.5h-3.3M64.8 1987.5h-6.2M64.8 1983.5h-3.3M64.8 1980.5h-3.3M64.8 1977.5h-3.3M64.8 1974.5h-3.3M64.8 1971.5h-3.3M64.8 1967.5h-3.3M64.8 1964.5h-3.3M64.8 1961.5h-3.3M64.8 1958.5h-3.3M64.8 1955.5h-6.2M64.8 1951.5h-3.3M64.8 1948.5h-3.3M64.8 1945.5h-3.3M64.8 1942.5h-3.3M64.8 1938.5h-3.3M64.8 1935.5h-3.3M64.8 1932.5h-3.3M64.8 1929.5h-3.3M64.8 1926.5h-3.3M64.8 1922.5h-6.2M64.8 1919.5h-3.3M64.8 1916.5h-3.3M64.8 1913.5h-3.3M64.8 1910.5h-3.3M64.8 1906.5h-3.3M64.8 1903.5h-3.3M64.8 1900.5h-3.3M64.8 1897.5h-3.3M64.8 1894.5h-3.3M64.8 1890.5h-6.2M64.8 1887.5h-3.3M64.8 1884.5h-3.3M64.8 1881.5h-3.3M64.8 1877.5h-3.3M64.8 1874.5h-3.3M64.8 1871.5h-3.3M64.8 1868.5h-3.3M64.8 1865.5h-3.3M64.8 1861.5h-3.3M64.8 1858.5h-6.2M64.8 1855.5h-3.3M64.8 1852.5h-3.3M64.8 1849.5h-3.3M64.8 1845.5h-3.3M64.8 1842.5h-3.3M64.8 1839.5h-3.3M64.8 1836.5h-3.3M64.8 1833.5h-3.3M64.8 1829.5h-3.3M64.8 1826.5h-6.2M64.8 1823.5h-3.3M64.8 1820.5h-3.3M64.8 1817.5h-3.3M64.8 1813.5h-3.3M64.8 1810.5h-3.3M64.8 1807.5h-3.3M64.8 1804.5h-3.3M64.8 1800.5h-3.3M64.8 1797.5h-3.3M64.8 1794.5h-6.2M64.8 1791.5h-3.3M64.8 1788.5h-3.3M64.8 1784.5h-3.3M64.8 1781.5h-3.3M64.8 1778.5h-3.3M64.8 1775.5h-3.3M64.8 1772.5h-3.3M64.8 1768.5h-3.3M64.8 1765.5h-3.3M64.8 1762.5h-6.2M64.8 1759.5h-3.3M64.8 1756.5h-3.3M64.8 1752.5h-3.3M64.8 1749.5h-3.3M64.8 1746.5h-3.3M64.8 1743.5h-3.3M64.8 1740.5h-3.3M64.8 1736.5h-3.3M64.8 1733.5h-3.3M64.8 1730.5h-6.2M64.8 1727.5h-3.3M64.8 1723.5h-3.3M64.8 1720.5h-3.3M64.8 1717.5h-3.3M64.8 1714.5h-3.3M64.8 1711.5h-3.3M64.8 1707.5h-3.3M64.8 1704.5h-3.3M64.8 1701.5h-3.3M64.8 1698.5h-6.2M64.8 1695.5h-3.3M64.8 1691.5h-3.3M64.8 1688.5h-3.3M64.8 1685.5h-3.3M64.8 1682.5h-3.3M64.8 1679.5h-3.3M64.8 1675.5h-3.3M64.8 1672.5h-3.3M64.8 1669.5h-3.3M64.8 1666.5h-6.2"/>
<g font-family="'Liberation Sans',sans-serif" font-size="7.6" text-anchor="end"><text x="56.6" y="2278.6">20</text><text x="56.6" y="2246.5">40</text><text x="56.6" y="2214.4">60</text><text x="56.6" y="2182.3">80</text><text x="56.6" y="2150.2">100</text><text x="56.6" y="2118.2">120</text><text x="56.6" y="2086.1">140</text><text x="56.6" y="2054">160</text><text x="56.6" y="2021.9">180</text><text x="56.6" y="1989.8">200</text><text x="56.6" y="1957.7">220</text><text x="56.6" y="1925.6">240</text><text x="56.6" y="1893.5">260</text><text x="56.6" y="1861.4">280</text><text x="56.6" y="1829.4">300</text><text x="56.6" y="1797.3">320</text><text x="56.6" y="1765.2">340</text><text x="56.6" y="1733.1">360</text><text x="56.6" y="1701">380</text><text x="56.6" y="1668.9">400</text></g>
<text x="226" y="1648" font-family="'Liberation Sans',sans-serif" font-size="15.2" text-anchor="middle" textLength="142" lengthAdjust="spacingAndGlyphs">Secondary structure</text>
<text x="226.6" y="2336.6" font-family="'Liberation Sans',sans-serif" font-size="12.6" text-anchor="middle">Time (ps)</text>
<text transform="translate(34.4 1985) rotate(-90)" font-family="'Liberation Sans',sans-serif" font-size="13" text-anchor="middle">Residue</text>
<clipPath id="c65"><rect x="0" y="2335.6" width="393.5" height="30"/></clipPath>
<g font-family="'Liberation Sans',sans-serif" font-size="11.4" clip-path="url(#c65)"><rect x="9.8" y="2345.4" width="11.2" height="9.4" fill="#fff" stroke="#000" stroke-width="1.1"/><text x="25.6" y="2354">Coil</text><rect x="47.2" y="2345.4" width="11.2" height="9.4" fill="#f00" stroke="#000" stroke-width="1.1"/><text x="61.7" y="2354">B-Sheet</text><rect x="105.4" y="2345.4" width="11.2" height="9.4" fill="#000" stroke="#000" stroke-width="1.1"/><text x="120.4" y="2354">B-Bridge</text><rect x="166.9" y="2345.4" width="11.2" height="9.4" fill="#007f00" stroke="#000" stroke-width="1.1"/><text x="181.9" y="2354">Bend</text><rect x="210" y="2345.4" width="11.2" height="9.4" fill="#ff0" stroke="#000" stroke-width="1.1"/><text x="224.8" y="2354">Turn</text><rect x="251.6" y="2345.4" width="11.2" height="9.4" fill="#00f" stroke="#000" stroke-width="1.1"/><text x="265.8" y="2354">A-Helix</text><rect x="304.8" y="2345.4" width="11.2" height="9.4" fill="#800080" stroke="#000" stroke-width="1.1"/><text x="319.3" y="2354">5-Helix</text><rect x="358.1" y="2345.4" width="11.2" height="9.4" fill="#808080" stroke="#000" stroke-width="1.1"/><text x="371" y="2354">3-Helix</text></g>
<g transform="translate(540.2 1664.39) scale(1 1.6132)">
<path fill="#00f" d="M0 1.5h152v1h-152zM0 2.5h16v1h-16zM26 2.5h126v1h-126zM0 3.5h16v2h-16zM26 3.5h126v2h-126zM0 5.5h16v4h-16zM26 5.5h126v4h-126zM0 9.5h152v1h-152zM0 29.5h10v5h-10zM0 79.5h324v5h-324zM0 121.5h139v1h-139zM139 121.5h185v1h-185zM0 122.5h139v5h-139zM139 122.5h185v5h-185zM136 132.5h49v5h-49zM0 188.5h146v6h-146zM0 244.5h136v1h-136zM0 245.5h149v2h-149zM0 247.5h149v3h-149zM0 254.5h324v6h-324zM0 270.5h136v1h-136zM0 271.5h136v1h-136zM136 271.5h58v1h-58zM194 271.5h130v1h-130zM0 272.5h324v1h-324zM0 273.5h324v9h-324zM0 285.5h162v1h-162zM0 286.5h175v2h-175zM0 288.5h324v7h-324zM0 356.5h194v2h-194zM194 356.5h130v2h-130zM0 358.5h246v3h-246zM246 358.5h52v3h-52zM298 358.5h26v3h-26zM0 361.5h324v1h-324zM0 379.5h324v7h-324zM0 392.5h324v4h-324zM26 396.5h217v2h-217z"/>
<path fill="#007f00" d="M217 1.5h107v1h-107zM217 2.5h107v1h-107zM0 26.5h324v1h-324zM0 35.5h324v1h-324zM0 66.5h324v1h-324zM194 85.5h114v1h-114zM139 97.5h185v1h-185zM0 107.5h139v2h-139zM139 107.5h33v2h-33zM282 107.5h42v2h-42zM181 113.5h143v5h-143zM139 131.5h185v1h-185zM159 161.5h165v2h-165zM0 176.5h324v2h-324zM0 181.5h282v1h-282zM139 185.5h185v1h-185zM146 194.5h178v1h-178zM0 195.5h324v2h-324zM156 197.5h168v1h-168zM156 198.5h168v1h-168zM156 199.5h168v1h-168zM0 214.5h6v3h-6zM32 214.5h20v3h-20zM194 214.5h17v3h-17zM298 214.5h16v3h-16zM10 227.5h22v1h-22zM32 228.5h292v1h-292zM84 230.5h20v5h-20zM159 230.5h165v5h-165zM136 239.5h188v3h-188zM0 242.5h136v2h-136zM136 242.5h188v2h-188zM156 247.5h45v3h-45zM201 247.5h123v3h-123zM0 265.5h324v1h-324zM136 266.5h26v1h-26zM136 269.5h188v1h-188zM194 270.5h130v1h-130zM162 285.5h162v1h-162zM0 305.5h324v2h-324zM136 309.5h188v1h-188zM10 323.5h314v1h-314zM10 324.5h314v3h-314zM0 335.5h279v1h-279zM136 353.5h188v1h-188zM0 355.5h324v1h-324zM0 362.5h324v1h-324zM0 375.5h32v1h-32zM0 377.5h324v1h-324zM0 391.5h324v1h-324z"/>
<path fill="#ff0" d="M16 2.5h10v1h-10zM152 2.5h65v1h-65zM16 3.5h10v2h-10zM152 3.5h172v2h-172zM16 5.5h10v4h-10zM152 5.5h65v4h-65zM217 5.5h107v4h-107zM152 9.5h172v1h-172zM10 29.5h39v5h-39zM49 29.5h275v5h-275zM0 34.5h324v1h-324zM0 36.5h324v2h-324zM0 56.5h324v4h-324zM0 67.5h146v4h-146zM146 67.5h178v4h-178zM0 78.5h324v1h-324zM308 85.5h16v1h-16zM0 86.5h194v2h-194zM194 86.5h130v2h-130zM0 88.5h324v3h-324zM0 97.5h139v1h-139zM0 98.5h139v2h-139zM139 98.5h185v2h-185zM0 100.5h162v4h-162zM162 100.5h162v4h-162zM172 107.5h110v2h-110zM0 110.5h181v3h-181zM0 113.5h139v5h-139zM139 113.5h42v5h-42zM0 128.5h139v3h-139zM139 128.5h185v3h-185zM185 132.5h139v5h-139zM0 147.5h324v2h-324zM0 161.5h159v2h-159zM0 163.5h159v2h-159zM0 165.5h159v1h-159zM0 172.5h324v2h-324zM282 181.5h42v1h-42zM0 182.5h282v1h-282zM282 182.5h42v1h-42zM149 186.5h175v1h-175zM0 201.5h324v1h-324zM0 202.5h324v2h-324zM0 208.5h97v1h-97zM0 209.5h97v2h-97zM97 209.5h227v2h-227zM0 211.5h324v3h-324zM6 214.5h26v3h-26zM52 214.5h142v3h-142zM211 214.5h87v3h-87zM314 214.5h10v3h-10zM0 227.5h10v1h-10zM32 227.5h292v1h-292zM0 228.5h32v1h-32zM0 230.5h32v5h-32zM32 230.5h13v5h-13zM45 230.5h39v5h-39zM104 230.5h55v5h-55zM0 269.5h136v1h-136zM136 270.5h58v1h-58zM175 286.5h149v2h-149zM0 302.5h324v2h-324zM0 307.5h136v2h-136zM136 307.5h188v2h-188zM0 309.5h136v1h-136zM0 323.5h10v1h-10zM0 324.5h10v3h-10zM0 378.5h324v1h-324zM0 386.5h324v1h-324zM0 387.5h324v3h-324zM0 396.5h26v2h-26z"/>
<path fill="#f00" d="M0 12.5h324v12h-324zM0 24.5h324v1h-324zM0 40.5h324v15h-324zM0 55.5h324v1h-324zM0 60.5h324v4h-324zM0 76.5h324v2h-324zM0 91.5h139v4h-139zM139 91.5h185v4h-185zM0 95.5h139v1h-139zM0 104.5h139v1h-139zM233 104.5h91v1h-91zM0 105.5h139v1h-139zM0 139.5h139v5h-139zM139 139.5h185v5h-185zM0 144.5h324v3h-324zM0 149.5h168v12h-168zM168 149.5h156v12h-156zM0 166.5h162v4h-162zM162 166.5h162v4h-162zM0 170.5h324v1h-324zM0 204.5h194v4h-194zM194 204.5h46v4h-46zM240 204.5h84v4h-84zM0 218.5h324v7h-324zM0 225.5h262v2h-262zM262 225.5h62v2h-62zM0 235.5h136v1h-136zM0 236.5h136v1h-136zM0 251.5h136v1h-136zM0 252.5h136v1h-136zM55 260.5h269v1h-269zM0 261.5h324v4h-324zM0 296.5h324v4h-324zM0 300.5h39v1h-39zM55 300.5h269v1h-269zM0 310.5h324v4h-324zM36 314.5h58v3h-58zM136 314.5h123v3h-123zM259 314.5h65v3h-65zM0 317.5h324v6h-324zM0 328.5h324v5h-324zM0 338.5h324v4h-324zM0 342.5h324v6h-324zM0 348.5h194v4h-194zM194 348.5h130v4h-130zM0 363.5h324v12h-324zM32 375.5h292v1h-292z"/>
<path fill="#000" d="M139 104.5h94v1h-94zM0 180.5h324v1h-324zM0 184.5h324v1h-324zM0 198.5h156v1h-156zM0 199.5h156v1h-156zM0 200.5h324v1h-324zM194 208.5h130v1h-130zM136 236.5h188v1h-188zM136 252.5h188v1h-188z"/>
<path fill="#808080" d="M0 132.5h136v5h-136zM146 188.5h178v6h-178zM149 247.5h7v3h-7z"/>
<path fill="url(#p12)" d="M0 1.5h152v1h-152zM10 29.5h39v5h-39zM0 75.5h324v1h-324zM194 86.5h130v2h-130zM194 208.5h130v1h-130zM0 269.5h136v1h-136z"/>
<path fill="url(#p2)" d="M0 1.5h152v1h-152zM26 2.5h126v1h-126zM194 85.5h114v1h-114zM0 118.5h139v1h-139zM0 181.5h282v1h-282zM97 208.5h97v1h-97zM159 230.5h165v5h-165z"/>
<path fill="url(#p3)" d="M0 1.5h152v1h-152zM152 2.5h65v1h-65zM217 2.5h107v1h-107zM0 121.5h139v1h-139zM0 180.5h324v1h-324zM0 182.5h282v1h-282zM149 186.5h175v1h-175zM32 227.5h292v1h-292zM0 235.5h136v1h-136zM0 251.5h136v1h-136zM162 285.5h162v1h-162zM36 314.5h58v3h-58zM0 335.5h279v1h-279zM136 353.5h188v1h-188zM0 361.5h324v1h-324z"/>
<path fill="url(#p53)" d="M152 1.5h65v1h-65zM233 104.5h91v1h-91zM0 175.5h324v1h-324zM0 185.5h139v1h-139z"/>
<path fill="url(#p4)" d="M152 1.5h65v1h-65zM217 1.5h107v1h-107zM139 97.5h185v1h-185zM149 187.5h175v1h-175zM146 194.5h178v1h-178zM136 309.5h188v1h-188zM0 390.5h324v1h-324z"/>
<path fill="url(#p10)" d="M217 1.5h107v1h-107zM0 105.5h139v1h-139zM0 107.5h139v2h-139zM0 165.5h159v1h-159zM139 185.5h185v1h-185zM0 198.5h156v1h-156zM194 208.5h130v1h-130zM32 228.5h292v1h-292zM136 242.5h188v2h-188zM136 269.5h188v1h-188zM194 270.5h130v1h-130zM10 323.5h314v1h-314zM32 375.5h292v1h-292zM0 386.5h324v1h-324z"/>
<path fill="url(#p84)" d="M16 2.5h10v1h-10zM16 3.5h10v2h-10zM0 396.5h26v2h-26z"/>
<path fill="url(#p1)" d="M26 2.5h126v1h-126zM152 2.5h65v1h-65zM0 34.5h324v1h-324zM0 85.5h194v1h-194zM0 118.5h139v1h-139zM0 180.5h324v1h-324zM0 194.5h146v1h-146zM0 198.5h156v1h-156zM0 201.5h324v1h-324zM45 230.5h39v5h-39zM136 237.5h188v2h-188zM0 244.5h136v1h-136zM136 244.5h188v1h-188zM162 266.5h162v1h-162z"/>
<path fill="url(#p24)" d="M217 2.5h107v1h-107zM0 66.5h324v1h-324zM0 85.5h194v1h-194z"/>
<path fill="url(#p17)" d="M26 3.5h126v2h-126zM0 270.5h136v1h-136zM194 270.5h130v1h-130z"/>
<path fill="url(#p77)" d="M152 3.5h172v2h-172zM139 98.5h185v2h-185zM159 163.5h165v2h-165zM0 183.5h324v1h-324zM149 245.5h175v2h-175zM0 270.5h136v1h-136zM0 386.5h324v1h-324z"/>
<path fill="url(#p9)" d="M152 3.5h172v2h-172zM0 172.5h324v2h-324zM0 211.5h324v3h-324zM201 247.5h123v3h-123zM136 270.5h58v1h-58zM175 286.5h149v2h-149zM136 307.5h188v2h-188z"/>
<path fill="url(#p20)" d="M0 9.5h152v1h-152zM139 131.5h185v1h-185zM194 204.5h46v4h-46z"/>
<path fill="url(#p46)" d="M152 9.5h172v1h-172zM168 149.5h156v12h-156zM0 199.5h156v1h-156zM136 236.5h188v1h-188z"/>
<path fill="url(#p85)" d="M152 9.5h172v1h-172zM139 121.5h185v1h-185zM0 211.5h324v3h-324z"/>
<path fill="url(#p86)" d="M0 10.5h130v1h-130z"/>
<path fill="url(#p6)" d="M0 12.5h324v12h-324z"/>
<path fill="url(#p62)" d="M0 24.5h324v1h-324zM0 144.5h324v3h-324zM0 225.5h262v2h-262z"/>
<path fill="url(#p36)" d="M0 26.5h324v1h-324zM0 78.5h324v1h-324zM139 91.5h185v4h-185zM159 161.5h165v2h-165zM0 387.5h324v3h-324z"/>
<path fill="url(#p37)" d="M0 29.5h10v5h-10zM181 110.5h143v3h-143zM194 356.5h130v2h-130z"/>
<path fill="url(#p87)" d="M10 29.5h39v5h-39z"/>
<path fill="url(#p35)" d="M10 29.5h39v5h-39z"/>
<path fill="url(#p23)" d="M49 29.5h275v5h-275zM139 95.5h185v1h-185zM149 187.5h175v1h-175zM0 199.5h156v1h-156zM0 209.5h97v2h-97zM0 230.5h32v5h-32zM136 352.5h188v1h-188zM32 375.5h292v1h-292zM65 376.5h259v1h-259z"/>
<path fill="url(#p78)" d="M49 29.5h275v5h-275zM0 36.5h324v2h-324zM0 128.5h139v3h-139zM0 242.5h136v2h-136zM0 355.5h324v1h-324z"/>
<path fill="url(#p88)" d="M0 35.5h324v1h-324zM159 163.5h165v2h-165z"/>
<path fill="url(#p63)" d="M0 36.5h324v2h-324zM181 110.5h143v3h-143z"/>
<path fill="url(#p21)" d="M0 40.5h324v15h-324zM0 296.5h324v4h-324z"/>
<path fill="url(#p22)" d="M0 55.5h324v1h-324zM0 75.5h324v1h-324z"/>
<path fill="url(#p25)" d="M0 66.5h324v1h-324zM0 86.5h194v2h-194zM139 104.5h94v1h-94zM139 121.5h185v1h-185zM0 163.5h159v2h-159zM97 209.5h227v2h-227zM136 309.5h188v1h-188zM0 377.5h324v1h-324z"/>
<path fill="url(#p39)" d="M146 67.5h178v4h-178zM139 91.5h185v4h-185zM0 147.5h324v2h-324z"/>
<path fill="url(#p76)" d="M0 75.5h324v1h-324z"/>
<path fill="url(#p89)" d="M0 76.5h324v2h-324z"/>
<path fill="url(#p30)" d="M0 86.5h194v2h-194zM0 98.5h139v2h-139zM0 109.5h139v1h-139zM0 128.5h139v3h-139zM194 356.5h130v2h-130zM0 378.5h324v1h-324zM0 390.5h324v1h-324z"/>
<path fill="url(#p90)" d="M0 88.5h324v3h-324z"/>
<path fill="url(#p91)" d="M0 88.5h324v3h-324z"/>
<path fill="url(#p92)" d="M139 95.5h185v1h-185zM0 165.5h159v1h-159zM0 301.5h324v1h-324zM0 314.5h36v3h-36zM94 314.5h42v3h-42z"/>
<path fill="url(#p11)" d="M0 97.5h139v1h-139z"/>
<path fill="url(#p42)" d="M139 104.5h94v1h-94z"/>
<path fill="url(#p50)" d="M139 105.5h185v1h-185zM0 260.5h55v1h-55z"/>
<path fill="url(#p49)" d="M139 105.5h185v1h-185z"/>
<path fill="url(#p93)" d="M172 107.5h110v2h-110zM139 113.5h42v5h-42zM0 237.5h136v2h-136z"/>
<path fill="url(#p94)" d="M181 113.5h143v5h-143z"/>
<path fill="url(#p95)" d="M139 121.5h185v1h-185z"/>
<path fill="url(#p96)" d="M0 132.5h136v5h-136z"/>
<path fill="url(#p97)" d="M0 132.5h136v5h-136z"/>
<path fill="url(#p40)" d="M139 139.5h185v5h-185z"/>
<path fill="url(#p45)" d="M0 149.5h168v12h-168zM0 328.5h324v5h-324z"/>
<path fill="url(#p43)" d="M0 161.5h159v2h-159z"/>
<path fill="url(#p98)" d="M159 163.5h165v2h-165z"/>
<path fill="url(#p72)" d="M0 166.5h162v4h-162z"/>
<path fill="url(#p16)" d="M162 166.5h162v4h-162zM136 314.5h123v3h-123z"/>
<path fill="url(#p99)" d="M0 170.5h324v1h-324zM0 200.5h324v1h-324zM136 252.5h188v1h-188z"/>
<path fill="url(#p47)" d="M0 172.5h324v2h-324z"/>
<path fill="url(#p18)" d="M0 181.5h282v1h-282zM0 182.5h282v1h-282zM136 251.5h188v1h-188z"/>
<path fill="url(#p5)" d="M0 182.5h282v1h-282zM0 197.5h156v1h-156zM194 204.5h46v4h-46zM104 230.5h55v5h-55zM0 239.5h136v3h-136zM0 266.5h136v1h-136zM0 282.5h324v1h-324z"/>
<path fill="url(#p19)" d="M0 183.5h324v1h-324z"/>
<path fill="url(#p100)" d="M0 183.5h324v1h-324z"/>
<path fill="url(#p51)" d="M0 184.5h324v1h-324z"/>
<path fill="url(#p52)" d="M0 184.5h324v1h-324z"/>
<path fill="url(#p101)" d="M156 199.5h168v1h-168z"/>
<path fill="url(#p69)" d="M0 200.5h324v1h-324zM0 202.5h324v2h-324z"/>
<path fill="url(#p102)" d="M0 201.5h324v1h-324z"/>
<path fill="url(#p103)" d="M0 202.5h324v2h-324zM0 204.5h194v4h-194zM240 204.5h84v4h-84zM52 214.5h142v3h-142z"/>
<path fill="url(#p8)" d="M97 208.5h97v1h-97zM32 227.5h292v1h-292z"/>
<path fill="url(#p59)" d="M97 209.5h227v2h-227zM0 211.5h324v3h-324z"/>
<path fill="url(#p31)" d="M211 214.5h87v3h-87zM26 396.5h217v2h-217z"/>
<path fill="url(#p61)" d="M0 218.5h324v7h-324zM0 261.5h324v4h-324zM0 310.5h324v4h-324zM0 317.5h324v6h-324zM0 338.5h324v4h-324zM0 363.5h324v12h-324z"/>
<path fill="url(#p104)" d="M262 225.5h62v2h-62z"/>
<path fill="url(#p105)" d="M0 229.5h324v1h-324z"/>
<path fill="url(#p33)" d="M159 230.5h165v5h-165zM136 239.5h188v3h-188z"/>
<path fill="url(#p55)" d="M136 235.5h188v1h-188z"/>
<path fill="url(#p106)" d="M156 247.5h45v3h-45zM0 253.5h324v1h-324z"/>
<path fill="url(#p66)" d="M136 270.5h58v1h-58z"/>
<path fill="url(#p107)" d="M136 271.5h58v1h-58z"/>
<path fill="url(#p108)" d="M194 271.5h130v1h-130z"/>
<path fill="url(#p109)" d="M175 286.5h149v2h-149z"/>
<path fill="url(#p110)" d="M0 302.5h324v2h-324z"/>
<path fill="url(#p70)" d="M0 307.5h136v2h-136zM0 309.5h136v1h-136z"/>
<path fill="url(#p111)" d="M259 314.5h65v3h-65z"/>
<path fill="url(#p112)" d="M10 324.5h314v3h-314z"/>
<path fill="url(#p74)" d="M0 342.5h324v6h-324z"/>
<path fill="url(#p75)" d="M0 348.5h194v4h-194zM194 348.5h130v4h-130z"/>
<path fill="url(#p113)" d="M0 358.5h246v3h-246z"/>
<path fill="url(#p38)" d="M0 377.5h324v1h-324z"/>
<path fill="url(#p82)" d="M0 378.5h324v1h-324zM0 391.5h324v1h-324z"/>
<path fill="url(#p83)" d="M0 391.5h324v1h-324z"/>
<path stroke="#00f" stroke-width="4" d="M16 7.5h1M19 7.5h3M25 7.5h1M152 7.5h2M155 7.5h1M158 7.5h2M160 7.5h2M173 7.5h1M178 7.5h1M182 7.5h2M186 7.5h4M193 7.5h5M206 7.5h5M213 7.5h1M216 7.5h1M0 69.5h3M7 69.5h2M12 69.5h1M14 69.5h2M17 69.5h6M24 69.5h4M30 69.5h1M32 69.5h1M34 69.5h1M42 69.5h2M46 69.5h3M49 69.5h1M54 69.5h2M58 69.5h2M63 69.5h2M66 69.5h8M79 69.5h2M82 69.5h3M87 69.5h2M90 69.5h2M92 69.5h2M99 69.5h2M107 69.5h9M116 69.5h1M118 69.5h1M120 69.5h7M129 69.5h2M133 69.5h4M140 69.5h1M142 69.5h2M144 69.5h2M158 69.5h1M169 69.5h3M172 69.5h1M216 69.5h1M243 69.5h2M247 69.5h1M287 69.5h1M310 69.5h3M316 69.5h1M319 69.5h1M163 102.5h1M165 102.5h1M167 102.5h1M171 102.5h1M173 102.5h3M177 102.5h3M182 102.5h1M184 102.5h11M196 102.5h1M198 102.5h3M206 102.5h3M215 102.5h2M221 102.5h3M232 102.5h1M234 102.5h4M241 102.5h1M243 102.5h4M248 102.5h4M258 102.5h1M262 102.5h1M269 102.5h2M272 102.5h2M274 102.5h1M283 102.5h5M292 102.5h1M299 102.5h2M307 102.5h2M313 102.5h3"/>
<path stroke="#808080" stroke-width="4" d="M217 7.5h2M222 7.5h2M225 7.5h3M230 7.5h3M238 7.5h2M243 7.5h1M247 7.5h4M255 7.5h1M260 7.5h1M264 7.5h2M270 7.5h1M275 7.5h1M277 7.5h1M280 7.5h1M285 7.5h1M291 7.5h3M295 7.5h1M299 7.5h2M306 7.5h2M315 7.5h3M319 7.5h1M321 7.5h1M170 102.5h1M175 102.5h1M185 102.5h2M191 102.5h1M196 102.5h2M199 102.5h2M203 102.5h3M209 102.5h2M215 102.5h1M219 102.5h3M231 102.5h3M234 102.5h2M238 102.5h3M249 102.5h1M251 102.5h1M267 102.5h1M275 102.5h2M281 102.5h4M295 102.5h2M316 102.5h1M318 102.5h5"/>
<path stroke="#808080" stroke-width="5" d="M140 125h3M150 125h1M161 125h1M162 125h2M175 125h4M182 125h1M184 125h1M186 125h1M192 125h1M203 125h1M210 125h1M244 125h1M248 125h1M250 125h1M255 125h1M257 125h1M269 125h1M277 125h1M278 125h1M282 125h2M285 125h1M296 125h1M304 125h1M313 125h2M321 125h1M185 135h1M189 135h1M196 135h1M198 135h3M202 135h1M204 135h3M232 135h3M255 135h1M262 135h1M264 135h2M271 135h1M276 135h3M280 135h1M283 135h2M286 135h2M291 135h1M298 135h2M306 135h2"/>
<path stroke="#808080" stroke-width="3" d="M247 360h1M284 360h1"/>
<path stroke="#ff0" stroke-width="5" d="M4 82h1M13 82h1M53 82h1M66 82h1M173 82h1M178 82h1M208 82h1M253 82h4M278 82h1M312 82h2M142 125h5M164 125h1M166 125h1M170 125h1M172 125h2M175 125h2M178 125h3M182 125h2M189 125h5M194 125h1M199 125h3M206 125h1M223 125h1M226 125h1M230 125h1M233 125h1M236 125h1M243 125h2M245 125h4M250 125h1M252 125h2M255 125h3M258 125h1M263 125h1M265 125h8M276 125h1M279 125h1M282 125h2M285 125h3M289 125h1M305 125h1M308 125h1M310 125h1M147 135h1M155 135h2M165 135h2"/>
<path stroke="#ff0" stroke-width="6" d="M6 191.5h1M8 191.5h3M25 191.5h3M59 191.5h2M75 191.5h1M102 191.5h1M109 191.5h1M117 191.5h1M119 191.5h1M137 191.5h1M144 191.5h2M149 191.5h2M157 191.5h1M161 191.5h1M173 191.5h1M179 191.5h1M188 191.5h2M197 191.5h1M199 191.5h1M201 191.5h1M203 191.5h1M211 191.5h1M214 191.5h2M217 191.5h1M219 191.5h1M235 191.5h1M236 191.5h1M244 191.5h2M247 191.5h1M253 191.5h1M263 191.5h1M265 191.5h1M272 191.5h4M277 191.5h2M280 191.5h2M286 191.5h2M289 191.5h1M294 191.5h1M296 191.5h1M300 191.5h1M303 191.5h1M317 191.5h2"/>
<path stroke="#ff0" stroke-width="2" d="M0 246.5h2M26 246.5h1M35 246.5h1M120 246.5h2M140 246.5h1M144 246.5h1"/>
<path stroke="#ff0" stroke-width="3" d="M9 249h1M12 249h1M50 249h1M60 249h1M89 249h1M100 249h1M112 249h1M118 249h2M134 249h1M248 360h1M251 360h1M254 360h2M259 360h1M261 360h3M264 360h2M268 360h4M274 360h1M285 360h3M295 360h3M299 360h4M318 360h1"/>
<path stroke="#ff0" stroke-width="4" d="M4 394.5h1M23 394.5h1M58 394.5h1M65 394.5h3M260 394.5h2M297 394.5h4M301 394.5h2"/>
<path stroke="#fff" stroke-width="5" d="M3 82h1M39 82h1M43 82h1M101 82h1M107 82h1M123 82h1M175 82h1M252 82h1M291 82h1M304 82h1M142 135h1M173 135h3"/>
<path stroke="#fff" stroke-width="6" d="M7 191.5h1M13 191.5h1M27 191.5h2M30 191.5h3M56 191.5h1M120 191.5h1M141 191.5h2"/>
<path stroke="#fff" stroke-width="4" d="M1 394.5h1M16 394.5h1M128 394.5h1M172 394.5h1"/>
<path stroke="#007f00" stroke-width="6" d="M147 191.5h1M156 191.5h1M158 191.5h1M220 191.5h1M246 191.5h1M265 191.5h1M278 191.5h1M303 191.5h2"/>
</g>
<path stroke="#000" stroke-width="1.2" d="M539.6 2311V1663.4H865.2V2311"/>
<rect x="539.6" y="2311" width="325.6" height="5.7" fill="#000"/>
<rect x="535" y="2318.5" width="336.7" height="7.3" fill="#000"/>
<path stroke="#000" stroke-width="1" d="M539.6 2308.5h-3.3M539.6 2304.5h-3.3M539.6 2301.5h-3.3M539.6 2298.5h-3.3M539.6 2295.5h-3.3M539.6 2291.5h-3.3M539.6 2288.5h-3.3M539.6 2285.5h-3.3M539.6 2282.5h-3.3M539.6 2279.5h-6.2M539.6 2275.5h-3.3M539.6 2272.5h-3.3M539.6 2269.5h-3.3M539.6 2266.5h-3.3M539.6 2262.5h-3.3M539.6 2259.5h-3.3M539.6 2256.5h-3.3M539.6 2253.5h-3.3M539.6 2249.5h-3.3M539.6 2246.5h-6.2M539.6 2243.5h-3.3M539.6 2240.5h-3.3M539.6 2237.5h-3.3M539.6 2233.5h-3.3M539.6 2230.5h-3.3M539.6 2227.5h-3.3M539.6 2224.5h-3.3M539.6 2220.5h-3.3M539.6 2217.5h-3.3M539.6 2214.5h-6.2M539.6 2211.5h-3.3M539.6 2208.5h-3.3M539.6 2204.5h-3.3M539.6 2201.5h-3.3M539.6 2198.5h-3.3M539.6 2195.5h-3.3M539.6 2191.5h-3.3M539.6 2188.5h-3.3M539.6 2185.5h-3.3M539.6 2182.5h-6.2M539.6 2178.5h-3.3M539.6 2175.5h-3.3M539.6 2172.5h-3.3M539.6 2169.5h-3.3M539.6 2166.5h-3.3M539.6 2162.5h-3.3M539.6 2159.5h-3.3M539.6 2156.5h-3.3M539.6 2153.5h-3.3M539.6 2149.5h-6.2M539.6 2146.5h-3.3M539.6 2143.5h-3.3M539.6 2140.5h-3.3M539.6 2137.5h-3.3M539.6 2133.5h-3.3M539.6 2130.5h-3.3M539.6 2127.5h-3.3M539.6 2124.5h-3.3M539.6 2120.5h-3.3M539.6 2117.5h-6.2M539.6 2114.5h-3.3M539.6 2111.5h-3.3M539.6 2108.5h-3.3M539.6 2104.5h-3.3M539.6 2101.5h-3.3M539.6 2098.5h-3.3M539.6 2095.5h-3.3M539.6 2091.5h-3.3M539.6 2088.5h-3.3M539.6 2085.5h-6.2M539.6 2082.5h-3.3M539.6 2078.5h-3.3M539.6 2075.5h-3.3M539.6 2072.5h-3.3M539.6 2069.5h-3.3M539.6 2066.5h-3.3M539.6 2062.5h-3.3M539.6 2059.5h-3.3M539.6 2056.5h-3.3M539.6 2053.5h-6.2M539.6 2049.5h-3.3M539.6 2046.5h-3.3M539.6 2043.5h-3.3M539.6 2040.5h-3.3M539.6 2037.5h-3.3M539.6 2033.5h-3.3M539.6 2030.5h-3.3M539.6 2027.5h-3.3M539.6 2024.5h-3.3M539.6 2020.5h-6.2M539.6 2017.5h-3.3M539.6 2014.5h-3.3M539.6 2011.5h-3.3M539.6 2007.5h-3.3M539.6 2004.5h-3.3M539.6 2001.5h-3.3M539.6 1998.5h-3.3M539.6 1995.5h-3.3M539.6 1991.5h-3.3M539.6 1988.5h-6.2M539.6 1985.5h-3.3M539.6 1982.5h-3.3M539.6 1978.5h-3.3M539.6 1975.5h-3.3M539.6 1972.5h-3.3M539.6 1969.5h-3.3M539.6 1966.5h-3.3M539.6 1962.5h-3.3M539.6 1959.5h-3.3M539.6 1956.5h-6.2M539.6 1953.5h-3.3M539.6 1949.5h-3.3M539.6 1946.5h-3.3M539.6 1943.5h-3.3M539.6 1940.5h-3.3M539.6 1937.5h-3.3M539.6 1933.5h-3.3M539.6 1930.5h-3.3M539.6 1927.5h-3.3M539.6 1924.5h-6.2M539.6 1920.5h-3.3M539.6 1917.5h-3.3M539.6 1914.5h-3.3M539.6 1911.5h-3.3M539.6 1907.5h-3.3M539.6 1904.5h-3.3M539.6 1901.5h-3.3M539.6 1898.5h-3.3M539.6 1895.5h-3.3M539.6 1891.5h-6.2M539.6 1888.5h-3.3M539.6 1885.5h-3.3M539.6 1882.5h-3.3M539.6 1878.5h-3.3M539.6 1875.5h-3.3M539.6 1872.5h-3.3M539.6 1869.5h-3.3M539.6 1866.5h-3.3M539.6 1862.5h-3.3M539.6 1859.5h-6.2M539.6 1856.5h-3.3M539.6 1853.5h-3.3M539.6 1849.5h-3.3M539.6 1846.5h-3.3M539.6 1843.5h-3.3M539.6 1840.5h-3.3M539.6 1836.5h-3.3M539.6 1833.5h-3.3M539.6 1830.5h-3.3M539.6 1827.5h-6.2M539.6 1824.5h-3.3M539.6 1820.5h-3.3M539.6 1817.5h-3.3M539.6 1814.5h-3.3M539.6 1811.5h-3.3M539.6 1807.5h-3.3M539.6 1804.5h-3.3M539.6 1801.5h-3.3M539.6 1798.5h-3.3M539.6 1795.5h-6.2M539.6 1791.5h-3.3M539.6 1788.5h-3.3M539.6 1785.5h-3.3M539.6 1782.5h-3.3M539.6 1778.5h-3.3M539.6 1775.5h-3.3M539.6 1772.5h-3.3M539.6 1769.5h-3.3M539.6 1766.5h-3.3M539.6 1762.5h-6.2M539.6 1759.5h-3.3M539.6 1756.5h-3.3M539.6 1753.5h-3.3M539.6 1749.5h-3.3M539.6 1746.5h-3.3M539.6 1743.5h-3.3M539.6 1740.5h-3.3M539.6 1736.5h-3.3M539.6 1733.5h-3.3M539.6 1730.5h-6.2M539.6 1727.5h-3.3M539.6 1724.5h-3.3M539.6 1720.5h-3.3M539.6 1717.5h-3.3M539.6 1714.5h-3.3M539.6 1711.5h-3.3M539.6 1707.5h-3.3M539.6 1704.5h-3.3M539.6 1701.5h-3.3M539.6 1698.5h-6.2M539.6 1695.5h-3.3M539.6 1691.5h-3.3M539.6 1688.5h-3.3M539.6 1685.5h-3.3M539.6 1682.5h-3.3M539.6 1678.5h-3.3M539.6 1675.5h-3.3M539.6 1672.5h-3.3M539.6 1669.5h-3.3M539.6 1666.5h-6.2"/>
<g font-family="'Liberation Sans',sans-serif" font-size="7.6" text-anchor="end"><text x="531.4" y="2281.7">20</text><text x="531.4" y="2249.5">40</text><text x="531.4" y="2217.2">60</text><text x="531.4" y="2184.9">80</text><text x="531.4" y="2152.7">100</text><text x="531.4" y="2120.4">120</text><text x="531.4" y="2088.1">140</text><text x="531.4" y="2055.9">160</text><text x="531.4" y="2023.6">180</text><text x="531.4" y="1991.3">200</text><text x="531.4" y="1959.1">220</text><text x="531.4" y="1926.8">240</text><text x="531.4" y="1894.5">260</text><text x="531.4" y="1862.3">280</text><text x="531.4" y="1830">300</text><text x="531.4" y="1797.8">320</text><text x="531.4" y="1765.5">340</text><text x="531.4" y="1733.2">360</text><text x="531.4" y="1701">380</text><text x="531.4" y="1668.7">400</text></g>
<text x="701.7" y="1649" font-family="'Liberation Sans',sans-serif" font-size="15.2" text-anchor="middle" textLength="142" lengthAdjust="spacingAndGlyphs">Secondary structure</text>
<text x="702" y="2341" font-family="'Liberation Sans',sans-serif" font-size="12.6" text-anchor="middle">Time (ps)</text>
<text transform="translate(509.2 1987) rotate(-90)" font-family="'Liberation Sans',sans-serif" font-size="13" text-anchor="middle">Residue</text>
<clipPath id="c540"><rect x="0" y="2339.5" width="869.5" height="30"/></clipPath>
<g font-family="'Liberation Sans',sans-serif" font-size="11.4" clip-path="url(#c540)"><rect x="484.5" y="2349.3" width="11.2" height="9.4" fill="#fff" stroke="#000" stroke-width="1.1"/><text x="500.3" y="2357.9">Coil</text><rect x="521.9" y="2349.3" width="11.2" height="9.4" fill="#f00" stroke="#000" stroke-width="1.1"/><text x="536.4" y="2357.9">B-Sheet</text><rect x="580.1" y="2349.3" width="11.2" height="9.4" fill="#000" stroke="#000" stroke-width="1.1"/><text x="595.1" y="2357.9">B-Bridge</text><rect x="641.6" y="2349.3" width="11.2" height="9.4" fill="#007f00" stroke="#000" stroke-width="1.1"/><text x="656.6" y="2357.9">Bend</text><rect x="684.7" y="2349.3" width="11.2" height="9.4" fill="#ff0" stroke="#000" stroke-width="1.1"/><text x="699.5" y="2357.9">Turn</text><rect x="726.3" y="2349.3" width="11.2" height="9.4" fill="#00f" stroke="#000" stroke-width="1.1"/><text x="740.5" y="2357.9">A-Helix</text><rect x="779.5" y="2349.3" width="11.2" height="9.4" fill="#800080" stroke="#000" stroke-width="1.1"/><text x="794" y="2357.9">5-Helix</text><rect x="832.8" y="2349.3" width="11.2" height="9.4" fill="#808080" stroke="#000" stroke-width="1.1"/><text x="845.7" y="2357.9">3-Helix</text></g>
<g transform="translate(1019.4 1669.30) scale(1 1.5963)">
<path fill="#00f" d="M0 1.5h106v1h-106zM0 2.5h106v1h-106zM0 3.5h106v4h-106zM0 7.5h106v3h-106zM0 10.5h106v1h-106zM112 30.5h209v5h-209zM225 67.5h96v4h-96zM0 79.5h225v5h-225zM225 79.5h96v5h-96zM0 121.5h321v1h-321zM0 122.5h321v5h-321zM58 132.5h183v5h-183zM241 132.5h80v5h-80zM0 189.5h321v5h-321zM0 245.5h321v5h-321zM0 255.5h321v5h-321zM0 270.5h225v1h-225zM0 271.5h225v2h-225zM225 271.5h96v2h-96zM0 273.5h321v9h-321zM0 285.5h321v10h-321zM0 356.5h116v4h-116zM116 356.5h83v4h-83zM199 356.5h122v4h-122zM0 360.5h199v1h-199zM0 361.5h199v1h-199zM0 379.5h225v2h-225zM0 381.5h225v5h-225zM225 381.5h96v5h-96zM0 392.5h199v5h-199zM0 397.5h87v1h-87z"/>
<path fill="#ff0" d="M106 2.5h119v1h-119zM106 3.5h119v4h-119zM106 7.5h119v3h-119zM96 30.5h16v5h-16zM225 36.5h96v2h-96zM0 56.5h321v4h-321zM0 67.5h225v4h-225zM0 78.5h225v1h-225zM0 85.5h225v3h-225zM0 88.5h225v3h-225zM225 88.5h96v3h-96zM0 97.5h321v1h-321zM0 98.5h225v3h-225zM225 98.5h96v3h-96zM0 101.5h321v3h-321zM0 110.5h225v2h-225zM0 112.5h225v6h-225zM0 128.5h321v4h-321zM0 147.5h321v2h-321zM0 162.5h321v3h-321zM0 172.5h321v2h-321zM0 182.5h225v1h-225zM225 182.5h96v1h-96zM0 201.5h321v3h-321zM0 209.5h321v2h-321zM0 211.5h321v3h-321zM0 214.5h32v3h-32zM32 214.5h29v3h-29zM61 214.5h164v3h-164zM0 227.5h39v1h-39zM0 228.5h39v1h-39zM0 231.5h39v5h-39zM0 254.5h321v1h-321zM0 268.5h90v1h-90zM0 269.5h90v1h-90zM225 270.5h96v1h-96zM0 302.5h321v2h-321zM0 307.5h299v3h-299zM299 307.5h22v3h-22zM0 323.5h22v1h-22zM0 324.5h22v1h-22zM0 325.5h22v2h-22zM199 360.5h122v1h-122zM0 386.5h225v1h-225zM0 387.5h225v2h-225zM225 387.5h96v2h-96zM0 389.5h225v1h-225z"/>
<path fill="#007f00" d="M225 2.5h96v1h-96zM225 7.5h96v3h-96zM0 27.5h321v1h-321zM0 35.5h321v1h-321zM0 36.5h225v2h-225zM0 66.5h321v1h-321zM0 107.5h321v1h-321zM225 112.5h96v6h-96zM0 176.5h321v2h-321zM0 181.5h225v1h-225zM0 195.5h321v2h-321zM0 197.5h321v1h-321zM0 200.5h321v1h-321zM39 227.5h282v1h-282zM0 230.5h321v1h-321zM39 231.5h282v5h-282zM225 238.5h96v4h-96zM0 242.5h321v3h-321zM0 265.5h321v1h-321zM90 269.5h231v1h-231zM0 282.5h247v1h-247zM0 305.5h321v2h-321zM22 323.5h203v1h-203zM22 324.5h203v1h-203zM22 325.5h299v2h-299zM0 335.5h321v1h-321zM0 355.5h321v1h-321zM199 361.5h122v1h-122zM0 362.5h321v1h-321zM0 378.5h225v1h-225zM225 379.5h96v2h-96zM0 390.5h199v2h-199z"/>
<path fill="#f00" d="M0 12.5h225v1h-225zM0 13.5h321v11h-321zM0 24.5h225v1h-225zM0 25.5h225v1h-225zM0 40.5h225v2h-225zM0 42.5h321v13h-321zM0 55.5h321v1h-321zM0 60.5h321v5h-321zM0 76.5h225v2h-225zM0 91.5h321v4h-321zM0 104.5h321v1h-321zM0 139.5h321v8h-321zM0 149.5h321v12h-321zM0 165.5h321v1h-321zM0 166.5h321v4h-321zM0 170.5h321v1h-321zM0 204.5h321v5h-321zM0 218.5h321v4h-321zM0 222.5h218v5h-218zM0 236.5h225v2h-225zM225 236.5h96v2h-96zM0 252.5h321v1h-321zM0 260.5h321v5h-321zM0 296.5h321v5h-321zM0 310.5h321v4h-321zM128 314.5h39v4h-39zM0 318.5h225v5h-225zM225 318.5h96v5h-96zM0 328.5h321v5h-321zM0 338.5h321v4h-321zM0 342.5h321v6h-321zM0 348.5h199v4h-199zM0 363.5h321v12h-321z"/>
<path fill="#808080" d="M0 30.5h96v5h-96zM0 132.5h58v5h-58z"/>
<path fill="#000" d="M0 179.5h321v1h-321zM225 183.5h96v1h-96zM0 184.5h225v1h-225zM0 198.5h321v1h-321z"/>
<path fill="url(#p12)" d="M0 1.5h106v1h-106zM225 36.5h96v2h-96zM225 98.5h96v3h-96zM0 194.5h321v1h-321z"/>
<path fill="url(#p4)" d="M0 1.5h106v1h-106zM106 10.5h119v1h-119zM225 110.5h96v2h-96zM0 127.5h321v1h-321zM0 253.5h321v1h-321zM225 386.5h96v1h-96z"/>
<path fill="url(#p53)" d="M106 1.5h119v1h-119zM225 28.5h96v2h-96zM0 65.5h321v1h-321zM0 106.5h321v1h-321z"/>
<path fill="url(#p2)" d="M106 1.5h119v1h-119zM0 28.5h106v2h-106zM225 28.5h96v2h-96zM225 85.5h96v3h-96zM0 161.5h321v1h-321zM0 165.5h321v1h-321zM0 181.5h225v1h-225z"/>
<path fill="url(#p114)" d="M225 1.5h96v1h-96z"/>
<path fill="url(#p17)" d="M0 2.5h106v1h-106zM0 36.5h225v2h-225zM0 76.5h225v2h-225z"/>
<path fill="url(#p1)" d="M106 2.5h119v1h-119zM225 78.5h96v1h-96zM0 84.5h321v1h-321zM225 88.5h96v3h-96zM225 110.5h96v2h-96zM0 180.5h321v1h-321zM0 199.5h321v1h-321zM39 228.5h282v1h-282zM0 269.5h90v1h-90zM0 397.5h87v1h-87z"/>
<path fill="url(#p3)" d="M106 2.5h119v1h-119zM0 10.5h106v1h-106zM0 35.5h321v1h-321zM0 78.5h225v1h-225zM0 182.5h225v1h-225zM0 228.5h39v1h-39zM0 254.5h321v1h-321zM0 268.5h90v1h-90zM0 282.5h247v1h-247zM0 362.5h321v1h-321z"/>
<path fill="url(#p51)" d="M225 2.5h96v1h-96zM0 184.5h225v1h-225zM0 197.5h321v1h-321zM0 230.5h321v1h-321z"/>
<path fill="url(#p31)" d="M106 3.5h119v4h-119zM0 104.5h321v1h-321zM225 112.5h96v6h-96zM0 121.5h321v1h-321zM0 335.5h321v1h-321zM225 387.5h96v2h-96z"/>
<path fill="url(#p39)" d="M106 3.5h119v4h-119zM0 204.5h321v5h-321z"/>
<path fill="url(#p8)" d="M225 3.5h96v4h-96zM0 175.5h321v1h-321z"/>
<path fill="url(#p115)" d="M225 3.5h96v4h-96zM225 7.5h96v3h-96z"/>
<path fill="url(#p99)" d="M225 7.5h96v3h-96z"/>
<path fill="url(#p92)" d="M225 12.5h96v1h-96zM167 314.5h58v4h-58z"/>
<path fill="url(#p6)" d="M0 13.5h321v11h-321zM0 139.5h321v8h-321z"/>
<path fill="url(#p7)" d="M0 24.5h225v1h-225z"/>
<path fill="url(#p46)" d="M0 25.5h225v1h-225zM0 170.5h321v1h-321zM225 183.5h96v1h-96zM0 198.5h321v1h-321zM225 238.5h96v4h-96z"/>
<path fill="url(#p18)" d="M0 27.5h321v1h-321zM0 181.5h225v1h-225zM225 184.5h96v1h-96zM0 199.5h321v1h-321zM225 236.5h96v2h-96z"/>
<path fill="url(#p9)" d="M0 27.5h321v1h-321zM0 30.5h96v5h-96zM0 85.5h225v3h-225zM0 97.5h321v1h-321zM0 128.5h321v4h-321zM0 172.5h321v2h-321zM0 211.5h321v3h-321zM61 214.5h164v3h-164z"/>
<path fill="url(#p83)" d="M0 30.5h96v5h-96zM0 378.5h225v1h-225zM0 390.5h199v2h-199z"/>
<path fill="url(#p116)" d="M0 30.5h96v5h-96z"/>
<path fill="url(#p96)" d="M96 30.5h16v5h-16zM0 132.5h58v5h-58z"/>
<path fill="url(#p33)" d="M0 36.5h225v2h-225zM0 209.5h321v2h-321z"/>
<path fill="url(#p10)" d="M225 36.5h96v2h-96zM225 88.5h96v3h-96zM0 165.5h321v1h-321zM39 231.5h282v5h-282zM128 314.5h39v4h-39zM0 361.5h199v1h-199z"/>
<path fill="url(#p72)" d="M0 40.5h225v2h-225zM0 149.5h321v12h-321zM0 166.5h321v4h-321zM0 222.5h218v5h-218zM225 236.5h96v2h-96z"/>
<path fill="url(#p21)" d="M0 42.5h321v13h-321zM0 296.5h321v5h-321z"/>
<path fill="url(#p117)" d="M0 55.5h321v1h-321zM0 200.5h321v1h-321z"/>
<path fill="url(#p23)" d="M0 55.5h321v1h-321zM225 76.5h96v2h-96zM0 198.5h321v1h-321zM0 386.5h225v1h-225z"/>
<path fill="url(#p24)" d="M0 66.5h321v1h-321z"/>
<path fill="url(#p25)" d="M0 66.5h321v1h-321zM0 200.5h321v1h-321zM0 378.5h225v1h-225zM0 390.5h199v2h-199z"/>
<path fill="url(#p11)" d="M0 75.5h321v1h-321zM0 97.5h321v1h-321z"/>
<path fill="url(#p22)" d="M0 75.5h321v1h-321z"/>
<path fill="url(#p118)" d="M225 78.5h96v1h-96z"/>
<path fill="url(#p37)" d="M0 84.5h321v1h-321zM0 200.5h321v1h-321zM0 397.5h87v1h-87z"/>
<path fill="url(#p28)" d="M0 85.5h225v3h-225zM0 88.5h225v3h-225z"/>
<path fill="url(#p14)" d="M0 85.5h225v3h-225zM0 88.5h225v3h-225z"/>
<path fill="url(#p63)" d="M225 85.5h96v3h-96zM225 214.5h96v3h-96zM0 231.5h39v5h-39z"/>
<path fill="url(#p81)" d="M0 98.5h225v3h-225z"/>
<path fill="url(#p52)" d="M225 98.5h96v3h-96zM0 184.5h225v1h-225zM225 314.5h96v4h-96zM199 348.5h122v4h-122z"/>
<path fill="url(#p48)" d="M0 105.5h321v1h-321zM0 182.5h225v1h-225zM0 251.5h321v1h-321z"/>
<path fill="url(#p36)" d="M0 107.5h321v1h-321zM39 227.5h282v1h-282zM0 236.5h225v2h-225zM0 252.5h321v1h-321z"/>
<path fill="url(#p5)" d="M0 108.5h321v1h-321zM0 229.5h321v1h-321zM0 361.5h199v1h-199zM225 378.5h96v1h-96z"/>
<path fill="url(#p69)" d="M0 110.5h225v2h-225z"/>
<path fill="url(#p119)" d="M0 110.5h225v2h-225zM0 112.5h225v6h-225z"/>
<path fill="url(#p47)" d="M0 112.5h225v6h-225zM0 172.5h321v2h-321zM0 201.5h321v3h-321z"/>
<path fill="url(#p120)" d="M225 112.5h96v6h-96zM199 392.5h122v5h-122z"/>
<path fill="url(#p121)" d="M0 118.5h321v1h-321zM225 214.5h96v3h-96z"/>
<path fill="url(#p122)" d="M0 128.5h321v4h-321zM0 302.5h321v2h-321z"/>
<path fill="url(#p123)" d="M0 128.5h321v4h-321z"/>
<path fill="url(#p97)" d="M0 132.5h58v5h-58zM116 356.5h83v4h-83z"/>
<path fill="url(#p77)" d="M0 147.5h321v2h-321zM0 184.5h225v1h-225zM0 236.5h225v2h-225zM0 352.5h321v3h-321z"/>
<path fill="url(#p42)" d="M0 161.5h321v1h-321z"/>
<path fill="url(#p43)" d="M0 162.5h321v3h-321z"/>
<path fill="url(#p20)" d="M0 179.5h321v1h-321z"/>
<path fill="url(#p49)" d="M0 180.5h321v1h-321zM225 181.5h96v1h-96zM0 182.5h225v1h-225z"/>
<path fill="url(#p19)" d="M0 183.5h225v1h-225z"/>
<path fill="url(#p100)" d="M0 183.5h225v1h-225z"/>
<path fill="url(#p105)" d="M0 185.5h321v1h-321z"/>
<path fill="url(#p124)" d="M0 201.5h321v3h-321z"/>
<path fill="url(#p125)" d="M0 204.5h321v5h-321z"/>
<path fill="url(#p126)" d="M0 211.5h321v3h-321z"/>
<path fill="url(#p30)" d="M0 211.5h321v3h-321z"/>
<path fill="url(#p127)" d="M32 214.5h29v3h-29z"/>
<path fill="url(#p61)" d="M0 218.5h321v4h-321zM0 260.5h321v5h-321zM0 318.5h225v5h-225zM0 363.5h321v12h-321z"/>
<path fill="url(#p128)" d="M218 222.5h103v5h-103z"/>
<path fill="url(#p93)" d="M0 238.5h225v4h-225z"/>
<path fill="url(#p78)" d="M0 242.5h321v3h-321zM225 270.5h96v1h-96zM0 355.5h321v1h-321z"/>
<path fill="url(#p76)" d="M0 253.5h321v1h-321z"/>
<path fill="url(#p16)" d="M90 269.5h231v1h-231zM22 323.5h203v1h-203zM0 387.5h225v2h-225zM0 389.5h225v1h-225z"/>
<path fill="url(#p64)" d="M0 270.5h225v1h-225zM0 352.5h321v3h-321z"/>
<path fill="url(#p129)" d="M225 270.5h96v1h-96z"/>
<path fill="url(#p130)" d="M225 271.5h96v2h-96z"/>
<path fill="url(#p70)" d="M0 307.5h299v3h-299z"/>
<path fill="url(#p40)" d="M0 310.5h321v4h-321z"/>
<path fill="url(#p131)" d="M16 314.5h112v4h-112z"/>
<path fill="url(#p102)" d="M167 314.5h58v4h-58z"/>
<path fill="url(#p45)" d="M225 318.5h96v5h-96zM0 328.5h321v5h-321z"/>
<path fill="url(#p75)" d="M0 338.5h321v4h-321zM0 348.5h199v4h-199z"/>
<path fill="url(#p74)" d="M0 342.5h321v6h-321z"/>
<path fill="url(#p65)" d="M225 379.5h96v2h-96z"/>
<path fill="url(#p132)" d="M199 392.5h122v5h-122z"/>
<path stroke="#ff0" stroke-width="3" d="M1 9h2M39 9h4M74 9h2"/>
<path stroke="#ff0" stroke-width="5" d="M137 33h1M159 33h1M175 33h1M222 33h1M231 33h1M249 33h1M267 33h1M316 33h1M8 82h1M21 82h1M24 82h1M30 82h3M98 82h1M102 82h3M127 82h2M139 82h1M145 82h1M162 82h1M181 82h1M211 82h3M225 82h4M250 82h1M252 82h1M254 82h1M258 82h2M260 82h1M266 82h1M272 82h1M275 82h2M277 82h1M281 82h1M286 82h1M293 82h2M299 82h1M305 82h1M257 135h2M267 135h1M292 135h1M300 135h1M303 135h2M1 192h1M9 192h2M16 192h1M29 192h1M32 192h4M54 192h4M82 192h1M85 192h3M97 192h1M102 192h1M119 192h2M123 192h1M155 192h2M169 192h2M182 192h1M204 192h1M208 192h1M223 192h1M226 192h2M235 192h1M238 192h1M244 192h6M252 192h1M306 192h1M309 192h2M313 192h1M319 192h1M2 248h1M5 248h1M51 248h1M60 248h1M75 248h1M86 248h1M94 248h1M133 248h2M135 248h1M138 248h1M144 248h1M176 248h1M178 248h1M181 248h1M194 248h1M208 248h1M231 248h1M266 248h2M284 248h2M295 248h3M305 248h1M230 384h1M248 384h2M255 384h3M261 384h2M263 384h3M273 384h2M276 384h5M282 384h1M289 384h1M291 384h2M293 384h4M297 384h5M304 384h1M307 384h1M6 395h1M12 395h1M18 395h2M26 395h2M30 395h1M38 395h1M53 395h1M67 395h4M85 395h1M91 395h2M106 395h4M130 395h1M138 395h4M145 395h1M155 395h1M170 395h3M179 395h1M186 395h2M191 395h2"/>
<path stroke="#ff0" stroke-width="4" d="M226 69.5h3M229 69.5h4M235 69.5h2M238 69.5h1M240 69.5h2M247 69.5h2M253 69.5h5M259 69.5h3M263 69.5h2M268 69.5h1M272 69.5h3M277 69.5h1M300 69.5h2M306 69.5h1M200 358.5h2M202 358.5h1M213 358.5h2M221 358.5h6M231 358.5h1M233 358.5h1M237 358.5h2M248 358.5h4M255 358.5h2M261 358.5h1M269 358.5h1M275 358.5h1M283 358.5h3M288 358.5h1M300 358.5h3M306 358.5h1M311 358.5h2"/>
<path stroke="#00f" stroke-width="3" d="M106 9h1M108 9h1M111 9h2M113 9h2M119 9h1M121 9h4M126 9h3M142 9h2M146 9h1M150 9h4M155 9h1M157 9h5M171 9h4M180 9h6M189 9h1M200 9h1M206 9h1M212 9h1M214 9h2M216 9h4M224 9h1"/>
<path stroke="#00f" stroke-width="4" d="M0 69.5h6M8 69.5h1M11 69.5h6M21 69.5h2M23 69.5h2M30 69.5h2M34 69.5h4M39 69.5h1M40 69.5h4M50 69.5h2M57 69.5h2M72 69.5h1M74 69.5h4M81 69.5h4M86 69.5h2M92 69.5h11M104 69.5h1M106 69.5h2M121 69.5h3M125 69.5h1M129 69.5h3M135 69.5h1M141 69.5h4M149 69.5h3M158 69.5h4M165 69.5h3M170 69.5h2M179 69.5h1M185 69.5h2M205 69.5h1M207 69.5h3M211 69.5h2M214 69.5h3M218 69.5h1"/>
<path stroke="#fff" stroke-width="3" d="M110 9h2M163 9h5M187 9h1M200 9h2"/>
<path stroke="#fff" stroke-width="5" d="M136 33h1M166 33h1M176 33h1M226 33h1M30 82h2M47 82h2M79 82h1M81 82h1M94 82h1M153 82h2M164 82h1M231 82h1M244 82h1M284 82h3M298 82h2M303 82h1M305 82h1M316 82h3M249 135h1M264 135h1M271 135h1M288 135h1M1 192h1M39 192h1M68 192h1M92 192h1M110 192h1M162 192h1M172 192h1M216 192h1M273 192h1M315 192h1M40 248h1M74 248h1M78 248h1M83 248h1M97 248h1M122 248h1M198 248h1M240 248h1M243 248h1M264 248h1M278 248h1M280 248h1M284 248h1M308 248h1M15 395h5M23 395h2M32 395h1M37 395h1M67 395h1M77 395h1M87 395h2M97 395h1M123 395h1M125 395h2M139 395h1M174 395h4M198 395h1"/>
<path stroke="#fff" stroke-width="4" d="M212 358.5h1M233 358.5h1M274 358.5h1M280 358.5h1M296 358.5h1"/>
<path stroke="#007f00" stroke-width="5" d="M225 82h1M237 82h2M250 82h2M269 82h4M276 82h1M289 82h1M303 82h1M228 384h1M234 384h1M237 384h1M238 384h2M241 384h4M260 384h1M271 384h1M275 384h2M285 384h1M298 384h2"/>
<path stroke="#007f00" stroke-width="1" d="M0 324h1M11 324h5M18 324h1M0 325h1M3 325h1M9 325h1M18 325h2"/>
<path stroke="#007f00" stroke-width="2" d="M1 326.5h3M5 326.5h1M12 326.5h7"/>
<path stroke="#f00" stroke-width="3" d="M299 309h1M317 309h4"/>
</g>
<path stroke="#e4e4e4" d="M1347.5 1633V2330"/>
<path stroke="#000" stroke-width="1.2" d="M1018.8 2309.4V1668.3H1341.4V2309.4"/>
<rect x="1018.8" y="2309.4" width="322.6" height="6" fill="#000"/>
<rect x="1015" y="2316.7" width="332.2" height="7.8" fill="#000"/>
<path stroke="#000" stroke-width="1" d="M1018.8 2306.5h-3.3M1018.8 2303.5h-3.3M1018.8 2299.5h-3.3M1018.8 2296.5h-3.3M1018.8 2293.5h-3.3M1018.8 2290.5h-3.3M1018.8 2287.5h-3.3M1018.8 2283.5h-3.3M1018.8 2280.5h-3.3M1018.8 2277.5h-6.2M1018.8 2274.5h-3.3M1018.8 2271.5h-3.3M1018.8 2267.5h-3.3M1018.8 2264.5h-3.3M1018.8 2261.5h-3.3M1018.8 2258.5h-3.3M1018.8 2255.5h-3.3M1018.8 2251.5h-3.3M1018.8 2248.5h-3.3M1018.8 2245.5h-6.2M1018.8 2242.5h-3.3M1018.8 2239.5h-3.3M1018.8 2235.5h-3.3M1018.8 2232.5h-3.3M1018.8 2229.5h-3.3M1018.8 2226.5h-3.3M1018.8 2223.5h-3.3M1018.8 2220.5h-3.3M1018.8 2216.5h-3.3M1018.8 2213.5h-6.2M1018.8 2210.5h-3.3M1018.8 2207.5h-3.3M1018.8 2204.5h-3.3M1018.8 2200.5h-3.3M1018.8 2197.5h-3.3M1018.8 2194.5h-3.3M1018.8 2191.5h-3.3M1018.8 2188.5h-3.3M1018.8 2184.5h-3.3M1018.8 2181.5h-6.2M1018.8 2178.5h-3.3M1018.8 2175.5h-3.3M1018.8 2172.5h-3.3M1018.8 2168.5h-3.3M1018.8 2165.5h-3.3M1018.8 2162.5h-3.3M1018.8 2159.5h-3.3M1018.8 2156.5h-3.3M1018.8 2152.5h-3.3M1018.8 2149.5h-6.2M1018.8 2146.5h-3.3M1018.8 2143.5h-3.3M1018.8 2140.5h-3.3M1018.8 2137.5h-3.3M1018.8 2133.5h-3.3M1018.8 2130.5h-3.3M1018.8 2127.5h-3.3M1018.8 2124.5h-3.3M1018.8 2121.5h-3.3M1018.8 2117.5h-6.2M1018.8 2114.5h-3.3M1018.8 2111.5h-3.3M1018.8 2108.5h-3.3M1018.8 2105.5h-3.3M1018.8 2101.5h-3.3M1018.8 2098.5h-3.3M1018.8 2095.5h-3.3M1018.8 2092.5h-3.3M1018.8 2089.5h-3.3M1018.8 2085.5h-6.2M1018.8 2082.5h-3.3M1018.8 2079.5h-3.3M1018.8 2076.5h-3.3M1018.8 2073.5h-3.3M1018.8 2069.5h-3.3M1018.8 2066.5h-3.3M1018.8 2063.5h-3.3M1018.8 2060.5h-3.3M1018.8 2057.5h-3.3M1018.8 2054.5h-6.2M1018.8 2050.5h-3.3M1018.8 2047.5h-3.3M1018.8 2044.5h-3.3M1018.8 2041.5h-3.3M1018.8 2038.5h-3.3M1018.8 2034.5h-3.3M1018.8 2031.5h-3.3M1018.8 2028.5h-3.3M1018.8 2025.5h-3.3M1018.8 2022.5h-6.2M1018.8 2018.5h-3.3M1018.8 2015.5h-3.3M1018.8 2012.5h-3.3M1018.8 2009.5h-3.3M1018.8 2006.5h-3.3M1018.8 2002.5h-3.3M1018.8 1999.5h-3.3M1018.8 1996.5h-3.3M1018.8 1993.5h-3.3M1018.8 1990.5h-6.2M1018.8 1986.5h-3.3M1018.8 1983.5h-3.3M1018.8 1980.5h-3.3M1018.8 1977.5h-3.3M1018.8 1974.5h-3.3M1018.8 1971.5h-3.3M1018.8 1967.5h-3.3M1018.8 1964.5h-3.3M1018.8 1961.5h-3.3M1018.8 1958.5h-6.2M1018.8 1955.5h-3.3M1018.8 1951.5h-3.3M1018.8 1948.5h-3.3M1018.8 1945.5h-3.3M1018.8 1942.5h-3.3M1018.8 1939.5h-3.3M1018.8 1935.5h-3.3M1018.8 1932.5h-3.3M1018.8 1929.5h-3.3M1018.8 1926.5h-6.2M1018.8 1923.5h-3.3M1018.8 1919.5h-3.3M1018.8 1916.5h-3.3M1018.8 1913.5h-3.3M1018.8 1910.5h-3.3M1018.8 1907.5h-3.3M1018.8 1903.5h-3.3M1018.8 1900.5h-3.3M1018.8 1897.5h-3.3M1018.8 1894.5h-6.2M1018.8 1891.5h-3.3M1018.8 1887.5h-3.3M1018.8 1884.5h-3.3M1018.8 1881.5h-3.3M1018.8 1878.5h-3.3M1018.8 1875.5h-3.3M1018.8 1872.5h-3.3M1018.8 1868.5h-3.3M1018.8 1865.5h-3.3M1018.8 1862.5h-6.2M1018.8 1859.5h-3.3M1018.8 1856.5h-3.3M1018.8 1852.5h-3.3M1018.8 1849.5h-3.3M1018.8 1846.5h-3.3M1018.8 1843.5h-3.3M1018.8 1840.5h-3.3M1018.8 1836.5h-3.3M1018.8 1833.5h-3.3M1018.8 1830.5h-6.2M1018.8 1827.5h-3.3M1018.8 1824.5h-3.3M1018.8 1820.5h-3.3M1018.8 1817.5h-3.3M1018.8 1814.5h-3.3M1018.8 1811.5h-3.3M1018.8 1808.5h-3.3M1018.8 1804.5h-3.3M1018.8 1801.5h-3.3M1018.8 1798.5h-6.2M1018.8 1795.5h-3.3M1018.8 1792.5h-3.3M1018.8 1789.5h-3.3M1018.8 1785.5h-3.3M1018.8 1782.5h-3.3M1018.8 1779.5h-3.3M1018.8 1776.5h-3.3M1018.8 1773.5h-3.3M1018.8 1769.5h-3.3M1018.8 1766.5h-6.2M1018.8 1763.5h-3.3M1018.8 1760.5h-3.3M1018.8 1757.5h-3.3M1018.8 1753.5h-3.3M1018.8 1750.5h-3.3M1018.8 1747.5h-3.3M1018.8 1744.5h-3.3M1018.8 1741.5h-3.3M1018.8 1737.5h-3.3M1018.8 1734.5h-6.2M1018.8 1731.5h-3.3M1018.8 1728.5h-3.3M1018.8 1725.5h-3.3M1018.8 1721.5h-3.3M1018.8 1718.5h-3.3M1018.8 1715.5h-3.3M1018.8 1712.5h-3.3M1018.8 1709.5h-3.3M1018.8 1706.5h-3.3M1018.8 1702.5h-6.2M1018.8 1699.5h-3.3M1018.8 1696.5h-3.3M1018.8 1693.5h-3.3M1018.8 1690.5h-3.3M1018.8 1686.5h-3.3M1018.8 1683.5h-3.3M1018.8 1680.5h-3.3M1018.8 1677.5h-3.3M1018.8 1674.5h-3.3M1018.8 1670.5h-6.2"/>
<g font-family="'Liberation Sans',sans-serif" font-size="7.6" text-anchor="end"><text x="1010.6" y="2280.2">20</text><text x="1010.6" y="2248.3">40</text><text x="1010.6" y="2216.3">60</text><text x="1010.6" y="2184.4">80</text><text x="1010.6" y="2152.5">100</text><text x="1010.6" y="2120.6">120</text><text x="1010.6" y="2088.6">140</text><text x="1010.6" y="2056.7">160</text><text x="1010.6" y="2024.8">180</text><text x="1010.6" y="1992.9">200</text><text x="1010.6" y="1960.9">220</text><text x="1010.6" y="1929">240</text><text x="1010.6" y="1897.1">260</text><text x="1010.6" y="1865.2">280</text><text x="1010.6" y="1833.2">300</text><text x="1010.6" y="1801.3">320</text><text x="1010.6" y="1769.4">340</text><text x="1010.6" y="1737.5">360</text><text x="1010.6" y="1705.5">380</text><text x="1010.6" y="1673.6">400</text></g>
<text x="1179.8" y="1653" font-family="'Liberation Sans',sans-serif" font-size="15.2" text-anchor="middle" textLength="142" lengthAdjust="spacingAndGlyphs">Secondary structure</text>
<text x="1180" y="2339.5" font-family="'Liberation Sans',sans-serif" font-size="12.6" text-anchor="middle">Time (ps)</text>
<text transform="translate(988.4 1987) rotate(-90)" font-family="'Liberation Sans',sans-serif" font-size="13" text-anchor="middle">Residue</text>
<clipPath id="c1019"><rect x="0" y="2338" width="1347.2" height="30"/></clipPath>
<g font-family="'Liberation Sans',sans-serif" font-size="11.4" clip-path="url(#c1019)"><rect x="963.5" y="2347.8" width="11.2" height="9.4" fill="#fff" stroke="#000" stroke-width="1.1"/><text x="979.3" y="2356.4">Coil</text><rect x="1000.9" y="2347.8" width="11.2" height="9.4" fill="#f00" stroke="#000" stroke-width="1.1"/><text x="1015.4" y="2356.4">B-Sheet</text><rect x="1059.1" y="2347.8" width="11.2" height="9.4" fill="#000" stroke="#000" stroke-width="1.1"/><text x="1074.1" y="2356.4">B-Bridge</text><rect x="1120.6" y="2347.8" width="11.2" height="9.4" fill="#007f00" stroke="#000" stroke-width="1.1"/><text x="1135.6" y="2356.4">Bend</text><rect x="1163.7" y="2347.8" width="11.2" height="9.4" fill="#ff0" stroke="#000" stroke-width="1.1"/><text x="1178.5" y="2356.4">Turn</text><rect x="1205.3" y="2347.8" width="11.2" height="9.4" fill="#00f" stroke="#000" stroke-width="1.1"/><text x="1219.5" y="2356.4">A-Helix</text><rect x="1258.5" y="2347.8" width="11.2" height="9.4" fill="#800080" stroke="#000" stroke-width="1.1"/><text x="1273" y="2356.4">5-Helix</text><rect x="1311.8" y="2347.8" width="11.2" height="9.4" fill="#808080" stroke="#000" stroke-width="1.1"/><text x="1324.7" y="2356.4">3-Helix</text></g>
</g></g></svg></body></html>
